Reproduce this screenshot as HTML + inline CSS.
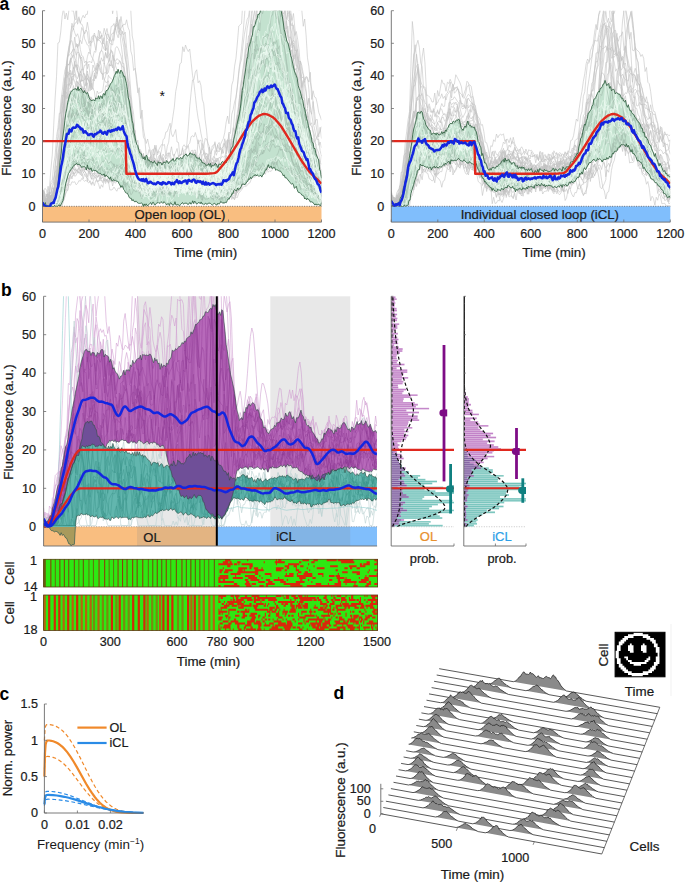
<!DOCTYPE html><html><head><meta charset="utf-8"><style>html,body{margin:0;padding:0;background:#fff;overflow:hidden}svg{display:block}text{font-family:"Liberation Sans",sans-serif}</style></head><body>
<svg width="685" height="883" viewBox="0 0 685 883">
<rect width="685" height="883" fill="#fff"/>
<clipPath id="clipAL"><rect x="42.5" y="10.7" width="279" height="196.1"/></clipPath>
<rect x="42.5" y="206.3" width="279" height="15.8" fill="#f9be80"/>
<line x1="42.5" y1="206.3" x2="321.5" y2="206.3" stroke="#555" stroke-width="0.8" stroke-dasharray="1 1.4"/>
<text x="180" y="214.3" font-size="13.2" text-anchor="middle" fill="#1a1a1a" stroke="#1a1a1a" stroke-width="0.22" font-weight="normal" dominant-baseline="central">Open loop (OL)</text>
<defs><path id="L0" vector-effect="non-scaling-stroke" transform="translate(42.5 0) scale(1.402 0.25)" d="M0 823l1 0 1 0 1-4 1-23 1 19 1 8 1-22 1-30 1-22 1 9 1-142 1-27 1-74 1-90 1-54 1-46 1-57 1-50 1-32 1-14 1-42 1-17 1 18 1 15 1-11 1 18 1 45 1 25 1 3 1 25 1-7 1 31 1-19 1 50 1 44 1 3 1 12 1 39 1-40 1 11 1-5 1-1 1-8 1-40 1-15 1-46 1-11 1-18 1-54 1-26 1-31 1-11 1-41 1 35 1-25 1 57 1 21 1 34 1 45 1 22 1 98 1 67 1 13 1 61 1 73 1 1 1 17 1 41 1-30 1 1 1 42 1-28 1 61 1-35 1 24 1-28 1 36 1-34 1 41 1 1 1 14 1-12 1 33 1-37 1 23 1-58 1 43 1 6 1-28 1 20 1-29 1 18 1-19 1 8 1-6 1 29 1 8 1-33 1 1 1 2 1 19 1-46 1 21 1-12 1-30 1 17 1-4 1 5 1 9 1 5 1-1 1-1 1 18 1 27 1-11 1 6 1-6 1-15 1-11 1 4 1-15 1-15 1 4 1 18 1-16 1 23 1 0 1 0 1-9 1-8 1-20 1-37 1-53 1 6 1-77 1-19 1-30 1-18 1-46 1-47 1-41 1-20 1-55 1-43 1-31 1-30 1-10 1-46 1-30 1 0 1 0 1 0 1 0 1 0 1 0 1 0 1 0 1 0 1 0 1 0 1 0 1 0 1 0 1 0 1 0 1 0 1 0 1 0 1 0 1 0 1 31 1-5 1 64 1 34 1-10 1 50 1 31 1-19 1 71 1-6 1-23 1-11 1 74 1 15 1 66 1-28 1 82 1 75 1-19 1 35 1 49 1 5 1 4 1 73 1-13 1 50 1-28 1 33 1 27"/><path id="L1" vector-effect="non-scaling-stroke" transform="translate(42.5 0) scale(1.402 0.25)" d="M0 786l1-19 1 11 1 8 1-11 1 40 1-33 1 41 1-6 1-19 1 0 1-16 1-11 1 15 1-23 1-23 1-3 1-41 1-33 1-37 1-19 1-43 1-1 1-9 1 12 1-9 1-1 1 14 1-11 1 5 1 28 1-60 1-10 1 7 1 3 1 4 1 31 1-29 1 18 1-7 1 5 1-18 1-32 1 43 1-19 1 20 1-7 1 11 1 41 1-41 1 0 1 15 1-27 1 21 1-21 1-9 1 19 1 28 1-1 1 3 1 4 1 19 1 22 1 19 1 5 1 1 1 26 1 27 1-15 1 26 1-13 1 26 1-12 1 19 1-1 1-19 1 37 1-18 1 13 1-11 1 3 1-27 1 28 1 23 1-10 1-15 1 10 1-17 1-12 1 2 1 27 1-6 1-8 1 23 1-34 1 10 1-3 1-7 1 15 1-20 1 21 1 36 1-12 1 8 1-23 1-7 1-16 1 18 1-6 1-8 1-1 1 14 1-15 1 11 1 29 1-2 1-21 1-34 1 8 1 8 1 10 1-2 1-7 1 13 1-21 1 1 1 10 1 27 1-3 1-3 1-11 1 10 1-47 1 18 1-18 1-1 1 2 1-20 1 6 1-13 1-10 1 1 1-46 1-17 1 10 1-24 1-13 1-21 1-16 1-38 1 26 1-21 1-34 1-12 1 15 1-27 1 12 1-14 1-2 1-14 1 41 1-11 1-20 1 16 1-12 1-25 1 16 1-9 1-11 1 19 1-43 1 48 1 18 1-17 1 10 1-10 1 4 1 42 1 7 1 14 1-25 1 45 1-9 1 28 1 7 1 24 1-12 1-5 1 20 1 5 1 11 1-18 1 50 1-12 1 9 1 8 1-4 1 42 1 16 1 5"/><path id="L2" vector-effect="non-scaling-stroke" transform="translate(42.5 0) scale(1.402 0.25)" d="M0 774l1 35 1 14 1-3 1 3 1-3 1 3 1-17 1 13 1-45 1-18 1-30 1-38 1-5 1-57 1-8 1-48 1-24 1-9 1-19 1-10 1-23 1 20 1 6 1-7 1 12 1 10 1-17 1 36 1 2 1 28 1 5 1 0 1-5 1-18 1 0 1 4 1-19 1 18 1-21 1-8 1 8 1-1 1-8 1 4 1-11 1-12 1 13 1-5 1-19 1 1 1-8 1-8 1 11 1-42 1 13 1-26 1 1 1 21 1-16 1 32 1 63 1 1 1 41 1 10 1 34 1 31 1 13 1 17 1 25 1 37 1-19 1 13 1-23 1 44 1 2 1-16 1-8 1-7 1 16 1 19 1-36 1 16 1-5 1-18 1 15 1 17 1-33 1 34 1-23 1-14 1-15 1 16 1 7 1-12 1 4 1-19 1 11 1-14 1 17 1-7 1-12 1 0 1 4 1-7 1 30 1-16 1-14 1 11 1 8 1-1 1 4 1 14 1 9 1 1 1-6 1 18 1-3 1-11 1 10 1 1 1 5 1-28 1-25 1 48 1-25 1 30 1-26 1 5 1 5 1 2 1-18 1 7 1-9 1 6 1-5 1 3 1-26 1-23 1-29 1 1 1-33 1 6 1-17 1-30 1 5 1-10 1-38 1-29 1 19 1-40 1-23 1-27 1-5 1-39 1-2 1-38 1 26 1-15 1 3 1-16 1-21 1 38 1-17 1 37 1-1 1 4 1 23 1 36 1-4 1 2 1 41 1-21 1 29 1 22 1 1 1 4 1 25 1-5 1 10 1 0 1 57 1-2 1 18 1 0 1 9 1 25 1-2 1 10 1 14 1 28 1-2 1-2 1 16 1 25 1 42 1-30 1 24 1 23 1 3"/><path id="L3" vector-effect="non-scaling-stroke" transform="translate(42.5 0) scale(1.402 0.25)" d="M0 812l1-28 1 23 1 14 1-34 1 36 1-19 1-7 1-32 1-26 1 3 1-94 1-36 1-61 1-113 1-15 1-77 1-72 1-47 1-17 1-46 1-1 1 31 1-46 1 39 1-11 1 40 1 13 1 92 1 0 1 32 1 5 1-27 1 35 1-59 1 53 1-35 1-25 1 12 1-40 1-39 1-22 1-10 1 5 1 50 1-47 1 21 1-5 1-9 1-9 1 0 1 35 1-49 1-7 1 7 1 16 1 15 1 29 1 1 1 58 1 39 1 73 1 40 1 54 1 18 1 24 1 56 1-16 1 43 1 38 1-41 1 31 1-20 1 8 1 27 1-11 1 5 1 15 1-26 1 30 1-33 1 50 1-11 1-15 1-13 1 1 1-16 1 19 1 62 1 0 1-18 1 32 1-9 1-2 1-6 1-8 1-19 1-2 1 22 1-62 1 11 1-32 1 43 1-54 1 42 1-24 1-9 1 12 1-59 1-1 1 32 1-7 1-5 1-13 1 46 1-13 1 23 1-12 1 30 1-11 1-1 1 18 1 15 1-5 1 26 1-44 1 31 1 4 1-36 1-12 1 29 1-49 1 20 1 16 1-54 1-42 1 23 1-30 1 7 1-24 1-66 1 12 1-59 1-24 1-70 1 31 1-116 1-8 1-28 1-39 1-60 1-36 1-40 1-40 1-28 1 0 1 0 1 0 1 0 1 0 1 0 1 0 1 0 1 0 1 0 1 0 1 0 1 0 1 0 1 0 1 0 1 0 1 5 1 40 1 42 1-26 1 20 1 29 1 0 1 1 1 40 1-16 1 31 1 43 1 68 1 44 1-5 1 40 1 21 1 64 1-38 1 107 1 3 1 27 1 36 1 10 1 62 1 35 1 9 1-6"/><path id="L4" vector-effect="non-scaling-stroke" transform="translate(42.5 0) scale(1.402 0.25)" d="M0 782l1 2 1 1 1 1 1-41 1 43 1 7 1-24 1-16 1 10 1-26 1-45 1-67 1-51 1-89 1-20 1-84 1 12 1-52 1-50 1 14 1 34 1-27 1 13 1 20 1-21 1 36 1 7 1-1 1 23 1 19 1 25 1 0 1-22 1-26 1 9 1 47 1-35 1 16 1 17 1 14 1-3 1 22 1-5 1 26 1 9 1-22 1-17 1-1 1-30 1-3 1 32 1-59 1 6 1 19 1-44 1-41 1 16 1-51 1 3 1 44 1 26 1 38 1 29 1 56 1 69 1 31 1-35 1 39 1 8 1-13 1 17 1-5 1 43 1-12 1-3 1 75 1-45 1 32 1-2 1-26 1-10 1-9 1-19 1 32 1-2 1 15 1-27 1 17 1 41 1-59 1 28 1-23 1-13 1 31 1-5 1-10 1 15 1 29 1-13 1 4 1 42 1-36 1-24 1 7 1-37 1-18 1-23 1 50 1-11 1 9 1-31 1 34 1 16 1 34 1-50 1-7 1-15 1-9 1 9 1 16 1-4 1 27 1-9 1-30 1 9 1 31 1 5 1-11 1-24 1 36 1-33 1 15 1-18 1-30 1-19 1 31 1-78 1-35 1-13 1-34 1-91 1 13 1-48 1-7 1-67 1-33 1-5 1-26 1-54 1 13 1-61 1-6 1-45 1-37 1 8 1-35 1 0 1 21 1-21 1 0 1 0 1 0 1 0 1 0 1 0 1 0 1 0 1 0 1 55 1 22 1-19 1 46 1 57 1-70 1 57 1 12 1-2 1 22 1-10 1 9 1 47 1 15 1 17 1 45 1 53 1-27 1 3 1 37 1 60 1-27 1 32 1 31 1 37 1 21 1 29 1 15 1 0 1 45 1 20"/><path id="L5" vector-effect="non-scaling-stroke" transform="translate(42.5 0) scale(1.402 0.25)" d="M0 823l1-8 1 8 1 0 1 0 1 0 1-12 1 12 1-26 1 6 1 9 1-38 1-60 1-11 1 11 1-19 1-19 1-27 1-32 1 9 1-6 1-5 1-42 1 24 1-5 1-14 1 6 1 3 1-36 1 3 1 10 1 2 1 7 1 3 1 15 1 0 1-3 1 0 1 23 1-4 1-38 1-8 1 2 1-8 1 15 1 0 1-23 1 22 1-30 1-24 1 4 1 10 1 11 1-11 1 19 1 43 1-35 1 7 1 14 1 20 1 26 1-18 1 10 1 13 1 13 1 40 1 11 1 37 1-6 1 7 1-10 1 3 1 6 1 18 1-23 1-3 1 10 1-5 1-8 1-15 1 6 1 12 1 9 1 15 1-5 1 19 1-3 1 0 1-1 1 17 1-13 1 4 1 8 1-3 1-18 1 0 1-15 1 30 1-22 1 4 1-21 1 11 1-11 1 13 1-9 1 25 1-23 1 10 1 24 1-21 1-1 1-17 1 13 1 11 1 13 1-11 1-11 1-2 1-3 1 8 1-4 1-13 1-14 1 30 1-18 1 27 1-14 1-7 1-7 1 4 1-46 1 8 1 19 1-46 1 11 1-31 1-5 1-9 1-7 1 10 1-42 1-29 1-6 1-7 1-43 1-14 1-34 1-17 1-17 1-42 1 6 1 0 1 4 1-4 1 2 1-20 1 11 1 6 1 12 1 4 1 7 1-26 1 11 1 13 1-13 1 37 1 5 1 0 1 13 1 18 1 20 1 3 1-22 1 50 1-17 1 4 1-3 1 6 1 18 1-10 1 6 1 36 1 14 1 10 1 9 1 31 1-1 1 17 1 29 1 2 1-11 1 12 1 24 1 32 1-3 1 24 1 26 1-18 1 40 1-6"/><path id="L6" vector-effect="non-scaling-stroke" transform="translate(42.5 0) scale(1.402 0.25)" d="M0 819l1 3 1 1 1 0 1 0 1 0 1 0 1-6 1 1 1-3 1 0 1 4 1 4 1-12 1-14 1 6 1-16 1-33 1-21 1-2 1-32 1-11 1-15 1 9 1-6 1 2 1-6 1 0 1-1 1 5 1 3 1-3 1 8 1-11 1 15 1-11 1-11 1 15 1 1 1 6 1 19 1-14 1 22 1-5 1-13 1 29 1-10 1 6 1 37 1 1 1-2 1-10 1 9 1 8 1-13 1 3 1-15 1 12 1-25 1 22 1-11 1-11 1-4 1 9 1-7 1-5 1 8 1 6 1-7 1 6 1 27 1-12 1-2 1-1 1-12 1 10 1-16 1 17 1-1 1 7 1-4 1 23 1-8 1-13 1 2 1 10 1 2 1-6 1 10 1-10 1 21 1-9 1 1 1-20 1 15 1 12 1-6 1-10 1-5 1 1 1-7 1 6 1-2 1-8 1-12 1 25 1 5 1 0 1 5 1 1 1 10 1-7 1 5 1 10 1-1 1-17 1 3 1 12 1 7 1 1 1-4 1 9 1-10 1-2 1 8 1 3 1-12 1 25 1-29 1 34 1-1 1-27 1-26 1 11 1 4 1-6 1-15 1 4 1 5 1-3 1-9 1 4 1-20 1-2 1-20 1-10 1 14 1-38 1-5 1-20 1 4 1-1 1 2 1 9 1-3 1-7 1 23 1-11 1 0 1 10 1-14 1-9 1 7 1 0 1-28 1 26 1-24 1-16 1-9 1-18 1 4 1-1 1-2 1 8 1 1 1 3 1-4 1 16 1 21 1 11 1 9 1-9 1 15 1 20 1 9 1 22 1 6 1 5 1-5 1 25 1 5 1 3 1 2 1-8 1 15 1 16 1 11 1-14 1 9 1-9"/><path id="L7" vector-effect="non-scaling-stroke" transform="translate(42.5 0) scale(1.402 0.25)" d="M0 760l1 10 1 40 1-16 1 29 1-4 1 4 1 0 1-23 1 10 1-45 1-60 1-69 1-43 1-62 1-85 1-67 1-28 1-92 1-1 1-20 1-6 1-15 1-20 1 24 1-13 1 3 1 13 1 22 1 46 1 9 1 18 1 45 1 20 1 10 1-5 1 40 1 30 1 15 1 30 1 23 1-5 1 32 1-8 1 43 1 15 1-13 1-1 1 12 1-8 1-11 1 22 1-11 1-2 1-4 1-27 1 5 1-18 1-25 1-9 1 0 1 29 1 28 1 0 1 18 1 27 1 12 1 38 1 31 1 23 1 19 1 6 1 6 1-19 1 29 1 14 1-16 1 17 1-49 1 26 1-20 1 11 1 3 1-27 1 5 1-30 1 21 1-41 1 12 1-21 1 22 1 21 1-12 1-14 1 7 1 16 1-4 1-16 1-3 1-14 1-2 1-11 1-35 1 10 1 53 1-10 1-5 1 17 1 10 1 8 1-10 1 16 1-11 1-15 1 69 1-10 1 8 1-25 1-29 1 45 1-32 1 22 1-22 1-8 1 12 1 9 1-12 1-12 1 32 1-36 1 38 1-25 1 5 1-39 1 20 1-21 1-2 1-31 1 22 1-14 1-39 1-43 1-3 1-43 1-31 1 10 1-40 1-1 1-21 1-15 1-45 1-3 1-24 1-61 1-15 1-43 1-17 1 1 1-7 1 28 1-34 1 16 1-13 1 14 1 28 1 43 1-12 1 22 1 45 1 30 1 10 1 15 1 25 1 7 1 14 1-14 1-16 1 47 1-10 1 33 1-6 1 0 1 24 1-4 1 30 1 18 1 0 1-22 1 39 1-53 1 38 1 33 1 3 1 21 1 23 1 23 1 18 1 6 1 20 1 61"/><path id="L8" vector-effect="non-scaling-stroke" transform="translate(42.5 0) scale(1.402 0.25)" d="M0 823l1-8 1-8 1-8 1-26 1-6 1-29 1-7 1-19 1-23 1-10 1 7 1-21 1 4 1-6 1 4 1 1 1-18 1-5 1-1 1 1 1 5 1-7 1 2 1 7 1 14 1-15 1 20 1-20 1 19 1-20 1 10 1 0 1-11 1-13 1 6 1-13 1 34 1-15 1-2 1 25 1-3 1-17 1-6 1 0 1-11 1 5 1 22 1-13 1-2 1 11 1 0 1 21 1-19 1 7 1 25 1 10 1 13 1 15 1 0 1 32 1 14 1-19 1 23 1-5 1-16 1 8 1 1 1-16 1 19 1-3 1 29 1-25 1 9 1 0 1 3 1-16 1-14 1 7 1-10 1 11 1-1 1-8 1 19 1-18 1 0 1-1 1-3 1-9 1 0 1 10 1 0 1 4 1-8 1-13 1 9 1-6 1 3 1-4 1 5 1 11 1-12 1 9 1-6 1 25 1-16 1 19 1-7 1 15 1-11 1 17 1 11 1-20 1 18 1 9 1-16 1 11 1-1 1 0 1-5 1-7 1 1 1-19 1-11 1-4 1 1 1-21 1 3 1 7 1-19 1-3 1-12 1-12 1-3 1-6 1-6 1-10 1-3 1-42 1 0 1 4 1-19 1 0 1-21 1 10 1-30 1-16 1 10 1-5 1-7 1-17 1 10 1 13 1-11 1-6 1-15 1 26 1-17 1-21 1 20 1-22 1 0 1-28 1-15 1 43 1-5 1 8 1 20 1-16 1 25 1 15 1 18 1 5 1-2 1 28 1-14 1 15 1 6 1 31 1 11 1 26 1 28 1-6 1 8 1 46 1-5 1-2 1 18 1 16 1 3 1-9 1-8 1-9 1 12 1 0 1 16 1 6 1-15 1 0 1-9"/><path id="L9" vector-effect="non-scaling-stroke" transform="translate(42.5 0) scale(1.402 0.25)" d="M0 801l1-1 1 2 1 5 1 16 1-55 1 53 1-48 1-3 1-48 1-24 1-14 1-71 1-38 1-47 1-15 1-21 1-38 1-35 1 3 1-29 1-19 1 37 1 5 1-10 1 12 1 25 1 13 1 21 1 22 1-15 1 16 1-17 1 13 1-45 1 9 1-6 1 5 1 18 1-33 1 34 1 7 1-37 1 17 1 1 1-23 1-14 1-23 1-19 1-22 1 2 1 16 1 19 1-26 1-3 1 12 1-23 1 43 1 10 1 18 1 31 1 36 1 9 1 32 1 0 1 16 1 33 1 13 1 30 1 0 1 22 1-9 1 27 1 22 1 8 1-7 1 38 1 8 1 15 1-14 1 18 1-41 1 8 1 14 1-9 1-11 1 21 1-31 1 13 1 18 1 8 1-14 1-29 1 38 1-38 1 29 1-7 1-14 1 10 1 12 1-22 1 32 1-41 1-9 1 10 1 7 1-8 1 2 1 7 1-26 1-11 1 28 1-11 1 1 1 11 1-17 1-1 1 22 1-1 1-34 1 10 1-5 1 12 1-3 1 22 1-12 1 7 1-1 1 37 1-4 1-19 1-3 1-18 1-12 1-26 1-22 1 2 1-24 1-45 1 3 1-55 1-32 1-20 1-62 1-15 1-19 1-30 1-25 1 8 1-17 1-39 1 4 1-33 1 13 1-40 1-18 1-18 1-34 1 3 1-22 1 6 1-33 1-5 1-43 1-16 1-3 1-10 1 38 1 38 1 23 1 55 1 59 1 19 1 66 1 52 1 48 1-8 1 47 1 41 1 26 1 7 1 42 1-9 1 3 1 48 1 34 1 10 1 10 1-4 1 27 1-13 1 3 1 22 1-26 1 9 1 44 1-7 1-8 1 33 1-27"/><path id="L10" vector-effect="non-scaling-stroke" transform="translate(42.5 0) scale(1.402 0.25)" d="M0 802l1 2 1 4 1 15 1 0 1 0 1 0 1-14 1-1 1-15 1-26 1-5 1-41 1-33 1-30 1 7 1-4 1-49 1 8 1 27 1-6 1 5 1-1 1-3 1 0 1 19 1 5 1-10 1-2 1-7 1 6 1-21 1 10 1-3 1 6 1-5 1 3 1-14 1-9 1-14 1 0 1 0 1-2 1-7 1 7 1-10 1 17 1-31 1 11 1 14 1-12 1 24 1-2 1-18 1-6 1 24 1-9 1-24 1 2 1 24 1 6 1 0 1 25 1 3 1 18 1 22 1-7 1 17 1 21 1 27 1 9 1 3 1 9 1-1 1-11 1-18 1 24 1-8 1 2 1-2 1 5 1-23 1-3 1 22 1-14 1-3 1 22 1-18 1 11 1 15 1-33 1 11 1-15 1-14 1 7 1-2 1-2 1 8 1-25 1 22 1-10 1 10 1-18 1 23 1 17 1-18 1 17 1 3 1-17 1 7 1-19 1 23 1-12 1 17 1 9 1 8 1-18 1 16 1-16 1 0 1 6 1 19 1-8 1-5 1 8 1 16 1-19 1-13 1-11 1 5 1 1 1-19 1 14 1 4 1-19 1 20 1-13 1-2 1 8 1-15 1-44 1-9 1-3 1-11 1-26 1 3 1-18 1-3 1-11 1-35 1 16 1-29 1 1 1-3 1-22 1-18 1-4 1-36 1-5 1 10 1-33 1 8 1-19 1-25 1-21 1-2 1 0 1-6 1 31 1 3 1 16 1 16 1-7 1 28 1 36 1 10 1-1 1 34 1 5 1 27 1 10 1 49 1 3 1 4 1 15 1 23 1-6 1 24 1 4 1 1 1 11 1 10 1 34 1-22 1 8 1 26 1 1 1 14 1 8 1-1"/><path id="L11" vector-effect="non-scaling-stroke" transform="translate(42.5 0) scale(1.402 0.25)" d="M0 758l1 41 1 24 1 0 1 0 1-3 1 3 1-18 1 18 1-39 1 0 1-67 1-37 1-91 1-79 1-53 1-114 1-85 1-41 1-37 1-23 1-64 1 16 1-34 1 4 1-71 1-10 1-2 1-5 1 0 1 0 1 0 1 0 1 1 1-1 1 0 1 0 1 0 1 0 1 0 1 0 1 0 1 0 1 0 1 0 1 0 1 0 1 0 1 0 1 0 1 0 1 0 1 0 1 0 1 0 1 0 1 0 1 0 1 0 1 0 1 0 1 0 1 0 1 54 1 98 1 28 1 93 1 58 1 49 1-20 1 73 1 68 1 57 1 10 1 63 1-1 1-23 1 17 1 10 1 18 1-62 1 30 1 38 1-26 1-1 1 46 1-37 1 25 1-15 1 44 1-36 1 16 1-2 1-22 1 24 1 46 1-47 1-42 1 65 1-20 1 23 1-13 1 45 1-14 1 28 1 2 1 12 1-10 1-20 1-37 1-6 1-26 1-19 1-30 1-6 1-5 1-37 1 2 1 17 1 13 1 30 1-18 1-5 1-26 1 38 1-27 1-8 1 29 1-8 1-3 1-33 1 60 1-57 1 48 1-12 1-22 1-9 1-3 1 47 1-32 1-29 1-12 1-20 1-21 1 14 1-48 1-43 1-16 1-40 1-52 1-65 1-117 1-14 1-102 1-14 1-5 1 0 1 0 1 0 1 0 1 0 1 0 1 0 1 0 1 0 1 0 1 0 1 0 1 0 1 0 1 0 1 0 1 0 1 0 1 0 1 25 1 15 1 74 1 87 1-12 1 41 1 5 1 47 1 6 1-34 1 18 1 32 1 25 1-14 1 3 1 48 1 86 1 14 1-51 1 93 1-20 1-1 1 70 1-39 1 45"/><path id="L12" vector-effect="non-scaling-stroke" transform="translate(42.5 0) scale(1.402 0.25)" d="M0 823l1 0 1 0 1 0 1 0 1 0 1 0 1 0 1 0 1-23 1-29 1-44 1-54 1-32 1-42 1-29 1-65 1-33 1-8 1-37 1 5 1 10 1 1 1 21 1-7 1-17 1 21 1 4 1-6 1 3 1 19 1 8 1 8 1 29 1-23 1 7 1 49 1-28 1-2 1 11 1-14 1 33 1-23 1-9 1 16 1-34 1-34 1 25 1-21 1 44 1-53 1-7 1 12 1 16 1-43 1-13 1-7 1 3 1 13 1 13 1-1 1 36 1 43 1 52 1-9 1 82 1 6 1 44 1 37 1-36 1 10 1 37 1-24 1 2 1 10 1-17 1 13 1-9 1-19 1 11 1 5 1 12 1-27 1 12 1 7 1-30 1 19 1 14 1-48 1 42 1-2 1-19 1 36 1 21 1 22 1-33 1 20 1-43 1 7 1-19 1 6 1 0 1-43 1 0 1 6 1 9 1-11 1-9 1 28 1-22 1 26 1 40 1 8 1-42 1 27 1 2 1-9 1 5 1 11 1-24 1 21 1-22 1-15 1 55 1-1 1-16 1 10 1-5 1-5 1-48 1 17 1-53 1 12 1-25 1-31 1-17 1 3 1 3 1-42 1-21 1-34 1-4 1-44 1-24 1-66 1 8 1-41 1-28 1-40 1 7 1-31 1-9 1-23 1-26 1 10 1-11 1 16 1 18 1 3 1-9 1 15 1 8 1 29 1 2 1-12 1-21 1 14 1 5 1-13 1 32 1-6 1-2 1 25 1 9 1 10 1-2 1 25 1 15 1 11 1 56 1 13 1-10 1 41 1 6 1 26 1 37 1 17 1 25 1 10 1 6 1 39 1 21 1 13 1 2 1 23 1 20 1 18 1-16 1 23 1 17"/><path id="L13" vector-effect="non-scaling-stroke" transform="translate(42.5 0) scale(1.402 0.25)" d="M0 793l1 30 1 0 1-4 1-9 1 13 1 0 1 0 1 0 1-17 1 4 1-1 1 14 1-12 1-39 1 30 1-66 1-31 1-25 1-15 1-22 1-41 1-20 1 5 1-28 1-5 1-9 1 4 1-14 1 25 1-43 1 65 1 6 1-6 1 29 1 0 1 14 1 13 1-26 1 4 1 29 1-21 1 39 1 1 1 11 1-5 1 35 1-2 1 4 1 13 1-28 1 22 1-26 1 3 1-24 1-6 1-25 1-10 1 5 1-28 1-17 1-15 1-20 1 12 1-22 1 41 1-11 1 21 1 21 1 12 1 15 1-4 1 45 1 23 1 5 1-3 1-7 1 22 1-18 1 37 1-9 1-14 1 22 1-11 1-1 1-15 1 12 1-4 1-1 1-1 1 16 1-13 1 17 1 6 1 5 1-31 1 15 1-7 1-1 1-13 1 4 1-4 1-9 1 11 1 7 1 11 1-1 1 11 1-13 1-9 1-30 1 11 1 7 1-13 1 7 1 16 1-17 1 10 1-6 1 17 1 11 1-7 1 10 1 0 1 7 1 1 1 12 1-15 1 20 1-15 1 7 1 0 1-10 1-2 1 18 1 7 1-35 1 5 1 11 1-15 1-16 1 9 1-53 1 5 1-15 1-28 1-45 1 10 1-2 1-34 1 1 1-22 1-16 1-1 1-35 1-23 1-38 1-5 1-30 1-15 1-44 1-3 1-36 1 25 1-39 1 3 1 1 1 3 1 3 1-2 1 15 1 5 1 5 1 42 1 6 1 10 1 23 1 16 1 14 1 18 1-1 1 7 1-1 1 44 1 1 1 29 1 32 1-23 1 48 1-13 1 41 1-3 1 34 1-9 1-7 1 34 1 20 1 14 1 18 1 10"/><path id="L14" vector-effect="non-scaling-stroke" transform="translate(42.5 0) scale(1.402 0.25)" d="M0 823l1-7 1 2 1-12 1-6 1-18 1 3 1 28 1-6 1 6 1-39 1-7 1-6 1 6 1-56 1-51 1-68 1-46 1-49 1-17 1-58 1-48 1 18 1-18 1-49 1 3 1 8 1 6 1 2 1 10 1 9 1 45 1 1 1 1 1 44 1 3 1-3 1 14 1 17 1-7 1-20 1 0 1-45 1 16 1-26 1 1 1-30 1-35 1 15 1-2 1 8 1 4 1 18 1-30 1 0 1-20 1 9 1-2 1 7 1 6 1 30 1 13 1 28 1 16 1 45 1 34 1 45 1 36 1 40 1-2 1 74 1-45 1 15 1 16 1-1 1-5 1-4 1-8 1-9 1 24 1-8 1-11 1 22 1-36 1 17 1-28 1 1 1 21 1-4 1 10 1 11 1 24 1 6 1-29 1 17 1-11 1 10 1-23 1-17 1-22 1 0 1 17 1 0 1 21 1-9 1 16 1-16 1 36 1-23 1-28 1 37 1-1 1-14 1-16 1-16 1 7 1 49 1-52 1 25 1 6 1-16 1-19 1 28 1-36 1 36 1-6 1 8 1 48 1-20 1-19 1 44 1-38 1 26 1-27 1-34 1 26 1-38 1-17 1 22 1-8 1-83 1 54 1-47 1-37 1-13 1-7 1-24 1 33 1-20 1 10 1-11 1-9 1-11 1-9 1-18 1-49 1-2 1-41 1-59 1-49 1-39 1-36 1-50 1-61 1-4 1-31 1-39 1 0 1 0 1 0 1 0 1 0 1 2 1 50 1 48 1 50 1 22 1 44 1 62 1 2 1 24 1 23 1 38 1 58 1 1 1 2 1 45 1-3 1 44 1 35 1 27 1-34 1 37 1 32 1 3 1 9 1 15 1 23 1 23 1 13"/><path id="L15" vector-effect="non-scaling-stroke" transform="translate(42.5 0) scale(1.402 0.25)" d="M0 823l1-1 1 1 1 0 1-16 1 16 1-17 1 5 1-8 1-7 1-12 1-16 1-23 1-16 1-27 1-56 1 10 1-45 1-53 1-15 1 5 1-54 1 13 1 8 1 1 1 12 1-46 1 13 1 15 1 11 1-10 1 33 1-14 1 9 1-21 1 13 1-28 1-32 1 3 1-10 1-13 1 12 1-18 1 8 1-20 1 18 1-19 1-12 1 3 1-9 1 30 1 18 1-11 1 10 1-21 1 10 1-3 1 18 1-15 1-11 1 30 1 10 1 13 1 54 1 37 1 11 1-2 1 14 1 37 1 1 1 38 1-23 1-22 1 39 1-10 1 20 1-15 1-12 1 16 1 10 1 21 1 10 1-7 1 17 1-7 1-22 1 8 1-7 1 21 1-1 1 18 1-8 1 28 1-7 1 12 1-24 1 3 1 12 1-30 1-6 1 10 1-2 1-9 1-7 1 12 1-13 1-2 1-4 1 6 1-15 1-7 1 0 1 19 1 10 1-20 1-17 1 26 1 13 1 9 1-16 1-8 1 28 1-6 1 24 1-9 1 2 1 23 1 24 1-9 1 6 1-2 1-35 1-1 1 6 1 0 1-13 1-16 1 28 1-28 1-13 1-9 1-10 1-4 1 9 1-16 1-38 1-35 1-24 1-43 1-39 1-13 1-23 1-83 1-46 1-40 1-12 1-24 1-6 1 4 1-44 1-21 1-12 1 10 1 17 1 12 1 28 1 15 1 19 1 21 1 60 1 1 1 16 1 66 1 4 1-9 1 49 1-15 1 7 1 33 1-11 1 19 1 0 1 37 1 8 1-17 1 28 1-2 1 19 1 24 1-8 1 28 1 10 1 7 1-13 1 32 1-3 1 23 1 41 1-5 1-19"/><path id="L16" vector-effect="non-scaling-stroke" transform="translate(42.5 0) scale(1.402 0.25)" d="M0 823l1 0 1 0 1 0 1 0 1-5 1-2 1-10 1 17 1-22 1-29 1-21 1-15 1-13 1 0 1-28 1-4 1-19 1-19 1 15 1 3 1-2 1 9 1-20 1 0 1-8 1-7 1-16 1 16 1-10 1-26 1-13 1-7 1 7 1-26 1 11 1 7 1-12 1 7 1-18 1 2 1 3 1-14 1 14 1 6 1-17 1 19 1 11 1 13 1 0 1 7 1-3 1 0 1-17 1 13 1-6 1 7 1 2 1 8 1 36 1 11 1 3 1 0 1 39 1 30 1-4 1 14 1-27 1 29 1 4 1-11 1 18 1-12 1 24 1-10 1-12 1 5 1-15 1-6 1 20 1-1 1 8 1 16 1-10 1 2 1-18 1-4 1-6 1 9 1 6 1-11 1-2 1 13 1-11 1-5 1 15 1-24 1 3 1-2 1 0 1 17 1-25 1 28 1-4 1-29 1 35 1-29 1 10 1 16 1-11 1-8 1 0 1 2 1-4 1 28 1-25 1-6 1 33 1-14 1-4 1-4 1 10 1-9 1 17 1 4 1 1 1-8 1 7 1 13 1-31 1 32 1-5 1-4 1 0 1 27 1-29 1 11 1 2 1-32 1-12 1-14 1-1 1-26 1 12 1-17 1 5 1-38 1-11 1-7 1-35 1 18 1 3 1-38 1-22 1 3 1-16 1 3 1-5 1-44 1 16 1-6 1 8 1 5 1 35 1-35 1 22 1 13 1-3 1 3 1-5 1 8 1 2 1-4 1 15 1 29 1-21 1 9 1 10 1 13 1-15 1 20 1 6 1-4 1 13 1-21 1 55 1 8 1-23 1 24 1 39 1 10 1-9 1-9 1 24 1-6 1 3 1 30 1 31 1-11 1-3"/><path id="L17" vector-effect="non-scaling-stroke" transform="translate(42.5 0) scale(1.402 0.25)" d="M0 807l1 10 1-2 1 8 1-13 1 8 1 5 1-5 1-4 1-4 1 1 1-20 1 19 1-5 1-25 1-12 1-4 1-26 1 5 1-31 1 1 1-8 1-2 1-12 1-4 1 4 1-3 1-9 1 14 1 23 1-21 1 13 1 4 1 10 1 8 1 11 1-13 1 15 1-21 1 3 1-2 1-1 1-1 1 4 1-11 1 4 1 7 1-4 1 1 1-10 1 10 1 5 1 6 1-8 1-6 1-15 1 23 1-6 1-12 1 3 1 18 1-12 1 16 1-17 1 13 1 7 1 1 1 0 1 14 1 10 1 0 1 15 1-28 1 1 1 22 1-28 1 0 1-3 1-14 1 12 1-4 1-16 1 16 1-1 1-15 1 6 1 16 1 1 1-8 1 5 1 6 1 11 1 11 1-14 1 3 1 9 1-11 1-2 1-12 1 9 1-2 1 10 1 8 1-3 1 2 1 14 1-15 1 4 1-13 1 9 1-9 1 8 1-1 1 0 1 19 1-13 1 10 1-3 1-3 1-6 1 8 1-2 1 4 1-5 1 13 1 1 1 8 1-4 1-3 1 3 1-16 1 19 1-8 1 6 1-18 1-3 1-8 1 15 1-2 1-26 1 0 1-7 1-4 1-1 1-31 1 17 1-6 1-18 1-11 1 7 1-2 1-2 1 6 1-15 1 12 1-10 1 4 1-1 1-10 1-7 1 1 1-28 1 3 1 5 1-14 1-2 1-4 1-6 1 9 1 7 1 3 1-6 1 27 1 14 1-9 1 17 1-1 1 15 1 5 1 1 1 17 1-4 1 17 1-4 1 4 1 19 1-7 1 23 1-5 1 2 1-2 1 5 1 11 1-12 1 5 1 23 1-3 1 5 1 2 1 2"/><path id="L18" vector-effect="non-scaling-stroke" transform="translate(42.5 0) scale(1.402 0.25)" d="M0 823l1-4 1-5 1 9 1 0 1 0 1 0 1 0 1 0 1 0 1 0 1-26 1-21 1 4 1-35 1 14 1-19 1-22 1-2 1-4 1-13 1 17 1-24 1 13 1-3 1-15 1 1 1 11 1-17 1 2 1-7 1 1 1 5 1 3 1 0 1 31 1-14 1-2 1-8 1 14 1-5 1 1 1 11 1-7 1 14 1 4 1-6 1 14 1-15 1-7 1 33 1-24 1-2 1-11 1-19 1 7 1 4 1-2 1 4 1-9 1-3 1 21 1-5 1 1 1 20 1-1 1 9 1 1 1 15 1 23 1-23 1 15 1-27 1 23 1-21 1 15 1 27 1-22 1 20 1 8 1-13 1-6 1 3 1 9 1-20 1 2 1-8 1 21 1-35 1 16 1-18 1 1 1-11 1 14 1-12 1-8 1 1 1 9 1 22 1-3 1-25 1 5 1 15 1 5 1-5 1-5 1-4 1 2 1-2 1 3 1 2 1 11 1 13 1-4 1-2 1 15 1-9 1-11 1 4 1 12 1-2 1 3 1-2 1 26 1 0 1-16 1 4 1 12 1-7 1-9 1 11 1-35 1 21 1-30 1 4 1 7 1 14 1-29 1 19 1-5 1 6 1-17 1-12 1 4 1-3 1 6 1-27 1-6 1 6 1-27 1 8 1-9 1-3 1 0 1-2 1-7 1-5 1-19 1 10 1 11 1-3 1 10 1-6 1-2 1-22 1 10 1-13 1 13 1-22 1 8 1 12 1 5 1 1 1 7 1-1 1 18 1-1 1-8 1 20 1-3 1 1 1 36 1-37 1 8 1 20 1-2 1 6 1 21 1 4 1 6 1 4 1 16 1-2 1 0 1 7 1 3 1 16 1 13 1 7 1-9"/><path id="L19" vector-effect="non-scaling-stroke" transform="translate(42.5 0) scale(1.402 0.25)" d="M0 804l1 1 1 18 1-9 1-13 1-2 1 6 1-2 1 1 1-20 1-14 1-4 1-31 1-8 1-31 1-14 1-24 1 7 1-12 1-1 1 14 1-41 1 8 1 11 1-23 1 27 1-15 1 17 1 14 1-9 1 28 1-22 1 12 1 6 1 15 1 11 1-11 1 1 1-27 1 12 1-5 1-11 1-4 1-2 1-4 1-15 1 14 1 7 1-6 1 14 1 4 1 18 1-4 1 7 1 9 1-5 1-11 1 35 1-30 1 15 1 19 1-4 1 2 1 31 1-4 1 6 1 2 1 1 1-2 1-2 1 15 1 21 1 3 1-21 1 7 1-10 1 0 1-11 1 3 1-2 1 4 1-21 1 13 1 7 1-1 1-9 1 8 1-10 1 20 1-17 1-3 1 9 1 0 1-10 1-5 1 19 1-11 1 35 1-36 1 15 1-25 1 10 1-12 1 19 1-24 1 6 1 11 1 7 1 22 1-19 1 31 1-20 1-2 1 0 1-13 1-6 1 1 1-24 1 23 1 0 1-21 1 21 1 3 1-9 1 11 1 14 1-17 1 8 1-14 1 20 1-34 1 21 1-7 1 11 1 28 1-27 1 8 1-16 1 0 1-4 1-7 1 13 1-37 1-7 1 18 1-15 1 1 1-25 1-15 1 13 1-18 1-2 1-29 1 11 1-26 1-12 1-24 1-24 1-21 1-40 1 0 1-9 1-26 1 2 1 11 1 8 1 23 1-1 1 12 1 35 1 2 1 26 1 15 1 14 1 16 1 6 1 27 1-14 1 18 1 29 1-1 1 7 1 1 1 15 1 4 1 3 1 26 1 0 1 6 1-1 1 11 1 13 1-9 1 12 1 11 1-18 1 8 1 6 1 6 1-1"/><path id="L20" vector-effect="non-scaling-stroke" transform="translate(42.5 0) scale(1.402 0.25)" d="M0 823l1 0 1 0 1 0 1 0 1 0 1 0 1 0 1 0 1-41 1-24 1-30 1-18 1-62 1-43 1-109 1-27 1-39 1-57 1-40 1 20 1-31 1-17 1-53 1-15 1-54 1 1 1-36 1-38 1 12 1 14 1-10 1-37 1 33 1 63 1-37 1-6 1 29 1 30 1-56 1 6 1 4 1-13 1 3 1-32 1 22 1-21 1 31 1 8 1-47 1-2 1-10 1 25 1-43 1 22 1 39 1 3 1-15 1 35 1 16 1 48 1 91 1 15 1 68 1 61 1 59 1 49 1 64 1-3 1 13 1 51 1 1 1 8 1-6 1 26 1-19 1 18 1-42 1 19 1 45 1 4 1 22 1-29 1-28 1-11 1-27 1 14 1-26 1 22 1 8 1-17 1 21 1-31 1-1 1 46 1 8 1-22 1-2 1 9 1 34 1-41 1 10 1-8 1 5 1 3 1 10 1-48 1 26 1 40 1-9 1 41 1-54 1-21 1 26 1-6 1-43 1-6 1 26 1-5 1 0 1 10 1-15 1-24 1 12 1-32 1 10 1-14 1 5 1-8 1 2 1 0 1-26 1-30 1-12 1 32 1-36 1 20 1-43 1-8 1-32 1-68 1-74 1-33 1-43 1-45 1-55 1-62 1-26 1-47 1-38 1-11 1 0 1 0 1 0 1 0 1 0 1 0 1 0 1 0 1 0 1 0 1 0 1 0 1 0 1 0 1 0 1 0 1 0 1 0 1 0 1 5 1 43 1 76 1 97 1 41 1 56 1 61 1 4 1 67 1 46 1-9 1 64 1-22 1 26 1 9 1 23 1-8 1 22 1-9 1 33 1 32 1-22 1-14 1 21 1 10 1 43 1 11 1-25 1 27 1 6"/><path id="L21" vector-effect="non-scaling-stroke" transform="translate(42.5 0) scale(1.402 0.25)" d="M0 807l1 16 1 0 1 0 1 0 1-3 1-1 1-7 1-19 1-5 1-29 1 9 1-45 1-2 1-48 1-22 1-15 1-30 1-14 1 3 1 0 1-9 1 2 1-16 1-13 1 17 1-8 1-5 1 11 1-7 1-14 1-2 1-29 1 8 1-14 1-17 1 5 1-5 1-40 1-8 1-43 1 6 1-17 1-1 1-7 1 15 1 50 1-44 1 26 1-8 1 14 1 23 1 15 1-8 1 55 1-42 1 27 1 6 1-6 1-3 1 1 1 47 1 3 1 17 1 35 1 32 1 8 1 8 1 10 1 39 1-19 1 5 1 16 1-8 1 19 1-18 1 3 1-26 1 3 1-19 1 18 1 17 1-9 1 13 1 12 1-7 1 8 1 21 1 11 1-25 1-9 1 25 1-16 1-8 1 10 1-19 1 13 1 8 1 2 1 0 1 23 1-32 1 3 1 27 1-22 1 16 1-11 1 3 1 3 1-6 1 22 1-20 1 2 1-3 1-3 1 21 1-28 1 22 1 3 1-27 1 32 1-25 1-35 1-5 1-8 1 9 1-7 1 7 1-28 1 13 1 3 1 0 1 7 1-43 1 22 1-24 1 44 1-3 1-37 1 0 1-8 1-37 1-16 1-25 1-21 1 6 1-24 1-18 1-48 1-14 1-8 1-13 1 12 1-9 1-13 1-4 1-15 1-1 1 2 1-8 1-15 1 23 1 1 1-5 1-3 1 8 1-27 1 16 1 3 1-7 1 24 1 12 1 14 1 3 1 14 1 2 1-8 1 20 1-7 1 26 1-20 1 37 1 19 1 6 1 1 1 35 1 10 1 32 1 36 1 2 1 15 1 45 1-20 1 30 1 21 1 2 1-6 1-6 1 26 1 9"/><path id="L22" vector-effect="non-scaling-stroke" transform="translate(42.5 0) scale(1.402 0.25)" d="M0 823l1 0 1 0 1 0 1 0 1-5 1-38 1 5 1-10 1-53 1-34 1-73 1-46 1-50 1-79 1-77 1-53 1 1 1-86 1-3 1-8 1-6 1-13 1 38 1 8 1 41 1 23 1 21 1 36 1 23 1 15 1 35 1 12 1 18 1 1 1 14 1 19 1-11 1-32 1 16 1-43 1 14 1-29 1-4 1-22 1-45 1 3 1-45 1 10 1 3 1 5 1-9 1-6 1 3 1 17 1 51 1-18 1 24 1 3 1 76 1 16 1 64 1 21 1 38 1 6 1 41 1 0 1 21 1 3 1 19 1-7 1 10 1 25 1-12 1 6 1-2 1-6 1 16 1 1 1-4 1-24 1-17 1 24 1 17 1-6 1 13 1-39 1 14 1 36 1-11 1-9 1-1 1 22 1-16 1-9 1-45 1 65 1 7 1-50 1 30 1-14 1-3 1 2 1 7 1-17 1 16 1-2 1-15 1 28 1 3 1-16 1-21 1 39 1-36 1-14 1 20 1-2 1-35 1 56 1-12 1 10 1-27 1 27 1-25 1 3 1-2 1-1 1 22 1-5 1-38 1 13 1 62 1-60 1 22 1-52 1-6 1 4 1-45 1-33 1-4 1-48 1-15 1-54 1 2 1-43 1-43 1 22 1-79 1-64 1-70 1-78 1-43 1-51 1-11 1 0 1 0 1 0 1 0 1 0 1 0 1 0 1 0 1 0 1 0 1 19 1-16 1 50 1 31 1-9 1 47 1 32 1 29 1 9 1 15 1 47 1 36 1 53 1-5 1 34 1 34 1 16 1 52 1 14 1 39 1 32 1-11 1 47 1 3 1 28 1 30 1 0 1 10 1 35 1-37 1 12 1 22 1 8 1 16 1 26 1-40"/><path id="L23" vector-effect="non-scaling-stroke" transform="translate(42.5 0) scale(1.402 0.25)" d="M0 823l1 0 1 0 1 0 1 0 1 0 1 0 1 0 1 0 1-36 1 6 1 5 1-34 1-34 1-35 1-33 1-19 1-39 1-29 1 2 1-44 1-2 1-6 1-8 1 11 1 11 1 10 1 15 1-8 1 24 1-3 1 52 1 1 1-16 1 12 1 19 1 9 1 6 1-19 1 4 1-21 1-21 1 1 1-10 1-7 1-5 1 6 1-33 1 36 1-9 1-30 1 5 1-10 1-5 1 31 1-24 1 24 1-2 1 11 1 31 1 0 1 37 1-10 1 39 1 0 1 1 1-15 1 12 1 26 1 28 1-13 1 30 1-2 1 9 1-2 1-17 1 9 1-8 1 13 1-1 1-9 1-7 1 10 1 8 1-11 1-20 1 12 1 1 1 24 1 5 1-32 1 16 1 5 1-11 1 2 1 21 1-12 1-8 1 9 1 2 1 1 1 17 1-25 1 20 1-10 1 4 1 5 1-23 1 8 1-4 1 8 1-4 1 8 1 19 1 1 1-16 1-22 1 13 1 38 1-48 1 13 1-4 1 8 1-1 1-23 1 31 1-26 1-15 1 6 1-7 1 13 1-4 1 4 1-4 1 17 1-30 1-2 1-17 1-7 1-16 1 21 1-30 1-42 1-8 1-44 1-11 1-17 1-7 1-34 1-21 1-29 1 31 1-36 1-32 1 2 1-57 1-7 1-18 1-5 1-10 1-20 1 7 1 7 1-5 1-11 1 13 1 18 1 12 1 2 1 16 1 21 1 18 1 32 1-10 1 4 1 8 1 29 1 0 1 3 1 26 1-1 1 9 1 35 1 29 1-11 1 1 1 22 1 13 1 30 1-5 1 22 1 47 1-13 1 35 1 26 1-9 1 31 1 13 1-11 1 12"/><path id="L24" vector-effect="non-scaling-stroke" transform="translate(42.5 0) scale(1.402 0.25)" d="M0 805l1 18 1-12 1-35 1 29 1 15 1-10 1 12 1-25 1-1 1-34 1-48 1-51 1-66 1-42 1 5 1-51 1-63 1 23 1-33 1 14 1 29 1 15 1-23 1-22 1 15 1-21 1 11 1 14 1-3 1 1 1-16 1 3 1 15 1 11 1-27 1 17 1-5 1-17 1 0 1-26 1-7 1 54 1 19 1-27 1 19 1 35 1-6 1-13 1-27 1 14 1 9 1-7 1-33 1-35 1 10 1 17 1-6 1-16 1 38 1 49 1-7 1 28 1 45 1 60 1 20 1 2 1 5 1 40 1-27 1 19 1-7 1 15 1 4 1-12 1 30 1 16 1-14 1 2 1 14 1 1 1-17 1-7 1-3 1-2 1 9 1-1 1-4 1 7 1-17 1-9 1 8 1-5 1-21 1 8 1-17 1 29 1-11 1 8 1-36 1 34 1-14 1-3 1-5 1-18 1 38 1 9 1-43 1 28 1 1 1 1 1-21 1 31 1-20 1 27 1 3 1 12 1 4 1-19 1 14 1 7 1 11 1-33 1 39 1 20 1-30 1-27 1-13 1-16 1-12 1-3 1-7 1-28 1 4 1-17 1-4 1-45 1 9 1-11 1-28 1-7 1-17 1-2 1 6 1-27 1 25 1-14 1 15 1 7 1-41 1 3 1 10 1-4 1 17 1 5 1-20 1-46 1 8 1-21 1-7 1-3 1-24 1 1 1 34 1-11 1-18 1 65 1-2 1 31 1-67 1 59 1 10 1-33 1 46 1 9 1 0 1 15 1-3 1-28 1 12 1 17 1-8 1-31 1 28 1 13 1-27 1 56 1 36 1-5 1 22 1 13 1 29 1-41 1 38 1 53 1 10 1-7 1 16 1 17 1 15"/><path id="L25" vector-effect="non-scaling-stroke" transform="translate(42.5 0) scale(1.402 0.25)" d="M0 814l1-6 1 15 1-14 1 14 1 0 1 0 1 0 1-9 1 3 1 1 1-1 1-8 1-19 1-22 1 4 1-28 1-11 1-11 1-15 1-8 1-3 1-8 1 9 1-16 1 6 1-13 1 8 1-8 1 17 1-5 1 6 1 34 1-43 1 20 1 13 1 0 1-8 1-8 1 11 1-12 1 20 1-20 1 1 1 1 1 0 1 4 1-11 1 11 1 7 1-3 1-2 1-6 1 15 1 10 1-8 1-18 1 1 1 8 1-8 1 1 1 6 1 21 1 2 1 2 1 22 1-1 1-5 1 16 1 4 1-14 1 22 1-1 1-14 1 8 1-9 1-12 1-10 1 13 1-23 1 14 1 9 1-1 1 5 1-11 1-5 1-4 1-3 1-5 1-6 1 20 1 1 1 14 1 6 1-15 1 13 1-5 1 5 1-6 1-2 1 5 1 1 1-14 1 20 1-23 1 2 1-8 1 0 1-4 1 17 1-2 1 3 1 0 1-5 1 3 1 3 1 16 1-7 1 11 1-13 1 10 1-14 1 2 1-20 1 30 1-1 1-2 1 17 1 2 1-12 1 14 1-5 1 8 1 2 1-14 1 23 1-10 1 0 1 0 1 2 1-19 1-4 1-8 1-9 1-6 1 2 1-4 1-9 1-2 1-16 1-7 1 1 1-2 1-24 1 14 1-9 1-14 1-5 1 1 1-3 1-26 1-3 1 2 1-7 1 10 1-4 1 10 1-7 1-14 1 1 1 17 1-11 1-6 1 18 1-15 1 9 1 4 1 11 1 8 1 2 1 17 1 17 1 3 1-6 1 6 1 25 1 6 1 3 1 14 1-2 1-8 1 31 1 18 1-12 1 4 1-2 1 16 1 17 1-6 1 4"/><path id="L26" vector-effect="non-scaling-stroke" transform="translate(42.5 0) scale(1.402 0.25)" d="M0 818l1-46 1 30 1 21 1-5 1-20 1-15 1-38 1-5 1-84 1-29 1-95 1-41 1-82 1-42 1-46 1-40 1-15 1 43 1-20 1-49 1-32 1-13 1 3 1-24 1 17 1-17 1-13 1 14 1-31 1-15 1-9 1 8 1 46 1-10 1 6 1-4 1-25 1 7 1 9 1 4 1-36 1 12 1 37 1-1 1 27 1-36 1 44 1 38 1-47 1 16 1 22 1 9 1-11 1 3 1 7 1 4 1 53 1 35 1 19 1 78 1-4 1 65 1 26 1 57 1-6 1 73 1 33 1 36 1 17 1-63 1 10 1-27 1 39 1-27 1 9 1-23 1-24 1 21 1-6 1 43 1-7 1 27 1 5 1-47 1 18 1-49 1 64 1-40 1-11 1-24 1-6 1 27 1 65 1-42 1-10 1 8 1-3 1 7 1-33 1 38 1-68 1-6 1-1 1-13 1 37 1-16 1-2 1 34 1-27 1 25 1-74 1 29 1 23 1-37 1 44 1 14 1 8 1 12 1-64 1 47 1-51 1-3 1-7 1 33 1-28 1 19 1-9 1 26 1-40 1 2 1-15 1 36 1 16 1-54 1-7 1-30 1-67 1-65 1-42 1-67 1-38 1-51 1-57 1-68 1-77 1 0 1 0 1 0 1 0 1 0 1 0 1 0 1 0 1 0 1 0 1 0 1 0 1 0 1 0 1 0 1 0 1 0 1 0 1 8 1 14 1 40 1 18 1 14 1 13 1-40 1-12 1 10 1-14 1-25 1 37 1-5 1 68 1 19 1 107 1-25 1 44 1 29 1 44 1 63 1-22 1 70 1 31 1 37 1-8 1 9 1 84 1 8 1 7 1 82 1 11 1-12 1-7 1-17 1 33"/><path id="L27" vector-effect="non-scaling-stroke" transform="translate(42.5 0) scale(1.402 0.25)" d="M0 766l1-8 1-4 1 8 1 27 1-16 1 0 1-22 1 7 1-18 1 1 1-63 1-60 1-47 1-39 1-40 1-33 1-76 1-4 1-68 1 24 1-29 1 2 1-39 1-3 1-7 1 8 1 26 1-17 1 1 1 41 1-15 1 10 1 10 1 30 1-28 1-8 1 7 1-40 1-24 1 4 1-21 1 23 1 53 1-66 1 20 1 20 1-34 1 2 1-19 1 30 1-37 1 27 1 15 1 17 1 25 1-6 1 0 1 67 1 33 1 46 1 20 1 55 1 21 1 30 1 34 1 51 1 33 1-14 1 0 1 17 1 11 1-46 1 42 1 8 1-11 1-6 1 10 1-33 1-3 1-38 1 28 1-26 1 33 1 27 1-49 1 12 1 22 1 10 1 1 1 1 1 31 1-36 1 16 1 3 1-3 1-12 1 36 1-24 1 0 1 10 1-14 1-16 1-32 1 25 1 1 1-53 1 35 1 7 1 11 1-39 1 13 1-9 1-3 1-26 1-7 1-2 1 42 1-38 1 26 1-2 1 35 1-25 1 39 1-4 1-8 1 37 1-53 1-10 1 10 1-12 1-28 1 26 1-23 1-13 1 5 1-48 1-21 1-44 1-27 1-50 1-33 1-57 1-54 1-29 1-32 1-48 1 14 1-19 1-26 1 24 1-42 1-4 1-19 1-28 1 18 1-54 1-13 1-2 1 0 1-23 1-7 1 0 1 0 1 5 1-2 1 18 1 22 1 83 1 23 1 34 1 63 1 51 1 17 1 9 1 44 1 1 1-28 1 47 1-2 1 39 1-3 1 56 1 8 1-8 1 28 1 40 1-22 1 23 1 35 1 27 1 24 1 5 1 12 1 76 1 1 1 15 1 17 1 50 1 24"/><path id="L28" vector-effect="non-scaling-stroke" transform="translate(42.5 0) scale(1.402 0.25)" d="M0 821l1 2 1-11 1-11 1 2 1 8 1-30 1-7 1-21 1-24 1-65 1 1 1-33 1-31 1-33 1-3 1-36 1 7 1-31 1-43 1 43 1-53 1 1 1 14 1-11 1-32 1 9 1 15 1-65 1 11 1 39 1-28 1-9 1 27 1-30 1 50 1-16 1 7 1 11 1 8 1-13 1 24 1-9 1 5 1 19 1 18 1-29 1 14 1-19 1 12 1-34 1 18 1-13 1-8 1-6 1-5 1 8 1 40 1-11 1 19 1 47 1 41 1 63 1-19 1 6 1 42 1 16 1 2 1-19 1 24 1 8 1 24 1-30 1 5 1 4 1 9 1 0 1-31 1-2 1 34 1-2 1-19 1 9 1 6 1-3 1 31 1-19 1-19 1 34 1-8 1 11 1-13 1 9 1-30 1 43 1 0 1 10 1-56 1 23 1 12 1-24 1 18 1-22 1 20 1-34 1 15 1-6 1 18 1-10 1-6 1-20 1 18 1-24 1 40 1 6 1 37 1-10 1 1 1 5 1 12 1 9 1-45 1 31 1-41 1 6 1-11 1 10 1-10 1-1 1 14 1-42 1 18 1-37 1-25 1-34 1-18 1 2 1-53 1-28 1-45 1 26 1-56 1-17 1-49 1 9 1-30 1-68 1 18 1-42 1-33 1-6 1 24 1-51 1-8 1 20 1 1 1-6 1-36 1-10 1 0 1-8 1 1 1 6 1-24 1 31 1 36 1 26 1 25 1 47 1 62 1 6 1 31 1 35 1 6 1 11 1 30 1 33 1 16 1-7 1 58 1-17 1 28 1 0 1 11 1 3 1 29 1 13 1 6 1 12 1 36 1 3 1-7 1 7 1 23 1-25 1 3 1 16 1-14 1 2 1 12"/><path id="L29" vector-effect="non-scaling-stroke" transform="translate(42.5 0) scale(1.402 0.25)" d="M0 823l1 0 1 0 1 0 1-11 1 11 1 0 1 0 1-14 1 14 1-15 1-28 1-93 1-79 1-52 1-102 1-71 1-62 1-92 1-23 1-71 1-32 1 16 1-26 1-2 1-11 1-13 1 28 1 1 1 13 1 46 1 12 1 13 1 3 1 29 1 16 1 7 1 15 1 28 1-26 1 15 1-9 1-27 1 14 1-11 1-23 1 22 1-44 1-38 1 15 1-9 1 5 1-64 1-5 1 20 1 0 1 5 1 15 1 5 1-10 1 65 1 45 1 57 1 72 1 56 1 34 1 75 1 59 1 14 1 64 1 37 1 17 1-19 1 22 1-8 1 14 1 17 1-34 1-6 1 28 1-6 1-2 1 43 1-44 1 2 1-28 1-3 1 0 1 11 1-34 1-30 1 7 1 7 1 10 1 5 1 56 1-84 1 32 1-35 1 40 1 4 1 33 1-57 1-9 1 23 1-32 1 10 1-17 1 15 1 21 1-8 1 19 1-22 1 9 1-8 1 7 1 9 1-3 1-10 1 44 1-26 1 7 1-35 1 33 1 24 1 26 1-12 1 19 1-12 1-2 1 5 1-44 1-6 1-20 1-29 1-7 1-26 1 4 1-75 1 27 1-48 1 16 1-73 1-40 1-64 1-77 1-61 1-10 1-56 1-70 1-50 1-39 1 0 1 0 1 0 1 0 1 0 1 0 1 0 1 0 1 0 1 0 1 0 1 0 1 0 1 0 1 0 1 0 1 0 1 0 1 0 1 0 1 0 1 0 1 0 1 0 1 3 1 45 1 43 1-28 1 58 1 44 1 46 1 46 1-3 1 36 1 20 1 29 1-21 1 7 1 12 1-39 1 109 1-35 1 25 1 3 1 24 1 34 1 15 1 17"/><path id="L30" vector-effect="non-scaling-stroke" transform="translate(42.5 0) scale(1.402 0.25)" d="M0 815l1 8 1-14 1 14 1-20 1 7 1 3 1-2 1 4 1-10 1 5 1-23 1-26 1-10 1-23 1-5 1-38 1-17 1-5 1-45 1 23 1-24 1 22 1-26 1 10 1 10 1-11 1 1 1-7 1 20 1 0 1-17 1 20 1 1 1 5 1 7 1 5 1 13 1-8 1 8 1-8 1 18 1-16 1 20 1 2 1 23 1-23 1 18 1 12 1 13 1-9 1-3 1-17 1 3 1 11 1 7 1-3 1-7 1 29 1 0 1-9 1 11 1 9 1-11 1 16 1 0 1 1 1-13 1 21 1-7 1 10 1 4 1-7 1-13 1 21 1-5 1-11 1-16 1 8 1 0 1-2 1-9 1 8 1 11 1-5 1 2 1 31 1-37 1 13 1 8 1 3 1-19 1-9 1 13 1-20 1 11 1-12 1 19 1 6 1-5 1-14 1-1 1-3 1 8 1-6 1-19 1 4 1 8 1 5 1 16 1-15 1 20 1-6 1-32 1 32 1-3 1 9 1 2 1-5 1-2 1 23 1-23 1 12 1 22 1-19 1 2 1 4 1 3 1-24 1-12 1 14 1-5 1-11 1-6 1 12 1 3 1 8 1 0 1-17 1-11 1 10 1-3 1-26 1 10 1-9 1-22 1-2 1-40 1-5 1-35 1 0 1-11 1 11 1-40 1-6 1-17 1-8 1-12 1 7 1 5 1-4 1 7 1-34 1 9 1-8 1-21 1 17 1-1 1 12 1-11 1-1 1 32 1-12 1 14 1 29 1 2 1 19 1 29 1 27 1 20 1 4 1 0 1 9 1 11 1 23 1-6 1 11 1 1 1 1 1 27 1-4 1 5 1 2 1 2 1-5 1 19 1-5 1 18 1 0 1-24"/><path id="L31" vector-effect="non-scaling-stroke" transform="translate(42.5 0) scale(1.402 0.25)" d="M0 823l1-21 1 21 1-19 1 12 1 7 1-11 1-17 1 26 1-45 1-17 1 2 1-46 1-43 1-45 1-72 1-38 1-64 1-42 1-40 1-9 1 12 1-8 1-11 1 18 1-6 1-18 1-26 1 39 1-5 1-14 1 0 1-31 1 12 1 6 1-25 1-45 1 13 1 14 1 8 1-32 1 19 1 12 1 1 1 21 1 13 1 1 1-7 1 34 1 22 1-14 1 7 1 17 1 1 1 49 1 20 1 37 1-5 1 16 1-3 1 11 1 16 1 19 1 10 1 18 1 27 1 12 1 4 1 27 1 26 1 8 1 21 1 23 1 8 1-13 1-11 1-2 1 18 1-24 1 0 1 17 1-18 1-6 1 6 1 3 1-5 1 5 1 5 1 24 1 2 1 4 1-13 1-8 1-4 1-22 1 13 1 5 1 6 1 24 1-10 1-5 1-1 1-14 1 43 1 3 1 5 1 21 1-3 1-27 1 5 1 33 1-54 1-4 1-22 1 11 1 23 1-39 1 3 1-16 1 28 1-24 1 7 1-21 1 59 1-42 1-31 1 11 1 24 1-17 1-29 1 44 1-36 1-3 1 3 1 3 1-9 1 4 1 1 1-22 1-5 1-38 1-10 1 6 1-70 1 19 1-61 1 45 1-4 1-34 1-21 1-38 1-19 1-77 1-26 1-26 1-2 1-12 1-17 1-44 1 12 1-28 1-37 1-19 1-24 1-4 1-7 1-78 1 16 1-25 1 16 1-14 1 29 1 25 1 39 1 14 1 27 1 16 1 32 1 28 1-4 1 60 1-9 1 61 1 34 1 18 1 5 1 64 1 26 1 45 1 25 1 17 1 16 1 79 1 3 1 23 1 1 1 33 1 18 1-14 1 35"/><path id="L32" vector-effect="non-scaling-stroke" transform="translate(42.5 0) scale(1.402 0.25)" d="M0 823l1 0 1 0 1 0 1 0 1-8 1 8 1-5 1 5 1 0 1-18 1-24 1-40 1-45 1-41 1-10 1-21 1-48 1 17 1-10 1-17 1 0 1-2 1 16 1 15 1-18 1 30 1-17 1 8 1 13 1 2 1-20 1 7 1-13 1-18 1-49 1 6 1 2 1 0 1 12 1-14 1-11 1 0 1-5 1-24 1 8 1 7 1-3 1 28 1-1 1 5 1-7 1 0 1 0 1 23 1 2 1 16 1 13 1-2 1 3 1 31 1-18 1 11 1 48 1 15 1-15 1 14 1 42 1 4 1 6 1 29 1-9 1 11 1-20 1 33 1-7 1-5 1-2 1 16 1 0 1-17 1 7 1-5 1 16 1-21 1 9 1 2 1-12 1 29 1-4 1-14 1-16 1 17 1-16 1 16 1-15 1 17 1 6 1-30 1 0 1 12 1-7 1-12 1 22 1-14 1 12 1-22 1 39 1-13 1 18 1-53 1 30 1-5 1 14 1-23 1-9 1-9 1 3 1 18 1 4 1-10 1 6 1 2 1 15 1 2 1 1 1-26 1 12 1-18 1 0 1-12 1 2 1 17 1 20 1 13 1-43 1 7 1-20 1-12 1 0 1-44 1 2 1-53 1-9 1-29 1-11 1-27 1-27 1-17 1-29 1-4 1-34 1-33 1-10 1 7 1-29 1-15 1-9 1 4 1-20 1-1 1-2 1 26 1-7 1 7 1 5 1 16 1-10 1 21 1 28 1-28 1 26 1 43 1 14 1 46 1 14 1 16 1 27 1 10 1 12 1 10 1 13 1-3 1 29 1 4 1-39 1 38 1 19 1-16 1-9 1 16 1 22 1 30 1-36 1 41 1-3 1 18 1 19 1 30 1 16"/><path id="L33" vector-effect="non-scaling-stroke" transform="translate(42.5 0) scale(1.402 0.25)" d="M0 814l1-3 1-8 1 4 1-2 1 12 1-22 1 14 1 12 1-32 1-20 1 21 1-46 1-43 1-11 1-11 1-24 1-21 1-20 1-12 1-30 1 31 1-16 1 5 1 37 1-13 1 16 1-33 1 11 1-6 1-11 1-3 1 19 1-33 1 22 1-19 1-17 1 2 1 27 1 16 1-10 1 19 1-17 1 17 1 11 1-11 1 5 1-43 1-13 1 37 1-20 1-19 1-2 1 1 1 12 1-50 1 18 1-32 1-1 1-13 1 11 1-19 1 33 1-3 1 17 1 41 1 18 1 17 1 50 1 2 1 18 1 24 1 30 1-6 1 2 1-10 1 2 1 18 1-28 1 37 1-3 1-1 1-15 1 6 1-19 1 37 1-20 1 18 1-7 1-23 1 10 1-26 1 37 1-10 1 9 1 4 1 0 1 7 1-1 1-34 1 56 1-33 1 39 1-24 1 0 1 23 1-20 1 6 1-2 1-39 1 41 1-22 1-14 1 17 1-29 1-12 1 23 1 20 1-42 1-7 1-10 1-2 1-29 1 37 1-26 1 19 1 5 1-4 1 11 1-12 1 39 1-11 1 32 1-6 1-12 1 2 1 3 1 15 1 10 1-17 1 3 1-40 1-43 1-16 1-44 1-30 1-25 1 15 1-28 1-44 1-12 1-54 1-20 1-24 1-3 1-18 1-26 1-19 1-10 1-17 1-31 1 30 1-29 1 12 1-14 1 26 1-2 1 37 1 1 1-3 1 23 1 29 1-12 1 48 1 29 1 37 1-13 1 15 1-5 1 10 1 62 1-29 1 29 1 22 1 16 1 7 1 6 1 49 1-2 1 11 1 13 1 10 1 25 1 30 1 18 1-15 1 33 1 0 1 23 1-10"/><path id="L34" vector-effect="non-scaling-stroke" transform="translate(42.5 0) scale(1.402 0.25)" d="M0 823l1 0 1 0 1 0 1 0 1 0 1 0 1 0 1-26 1 17 1-4 1-3 1-37 1 7 1-38 1-21 1-17 1-30 1-5 1-18 1 14 1-4 1-5 1 16 1 13 1 1 1 10 1-7 1 18 1-12 1-8 1 9 1 14 1-25 1 14 1-4 1 2 1 5 1-31 1 27 1-20 1 4 1 22 1-4 1 6 1-2 1 1 1-12 1-12 1-6 1 0 1-17 1 20 1-6 1-1 1-2 1-2 1-8 1 6 1 15 1 13 1 9 1 22 1 1 1 32 1-5 1-8 1 13 1-4 1 7 1-16 1-1 1 7 1-18 1 1 1 2 1-22 1 37 1-2 1-7 1 4 1 1 1-1 1-7 1 10 1 10 1 5 1-18 1 8 1-12 1-5 1-3 1 4 1 14 1-14 1-4 1-21 1 8 1 28 1-2 1 19 1 7 1-6 1 2 1-11 1 7 1-23 1 14 1-1 1 16 1 2 1-11 1 14 1-22 1-5 1 22 1-6 1-21 1 31 1 2 1 1 1 3 1 24 1-13 1-6 1 4 1 14 1-26 1 2 1-14 1 11 1-1 1 4 1-16 1-14 1 14 1-13 1-19 1 23 1-22 1 11 1-30 1-12 1-2 1-12 1-15 1-16 1 14 1-20 1 14 1-30 1-1 1-4 1 6 1-27 1-6 1 2 1 15 1-15 1-22 1 5 1 1 1 0 1-12 1-12 1 0 1-12 1-3 1 9 1 4 1-1 1 18 1 7 1 5 1-8 1-12 1 24 1 3 1 18 1 13 1 7 1 3 1-3 1 39 1 9 1 2 1 2 1 30 1-1 1-4 1 17 1 22 1-9 1 27 1 5 1-6 1 4 1 30 1-15 1 37"/><path id="L35" vector-effect="non-scaling-stroke" transform="translate(42.5 0) scale(1.402 0.25)" d="M0 823l1 0 1 0 1 0 1 0 1 0 1 0 1-9 1-25 1-58 1-4 1-43 1-3 1-42 1-23 1 1 1-26 1 3 1 10 1-10 1 1 1 11 1-5 1-3 1-8 1-11 1 22 1 7 1-24 1 19 1-20 1-6 1 3 1-17 1 2 1-7 1 1 1-30 1-3 1 6 1-3 1-5 1-15 1-16 1 8 1 18 1-29 1-23 1 9 1 16 1-40 1-4 1 23 1 32 1-19 1 21 1 10 1 22 1 27 1 8 1 27 1 35 1 14 1 13 1 48 1 19 1-16 1 44 1-33 1 31 1-10 1-4 1 25 1-11 1 10 1-13 1 10 1 2 1 8 1-10 1-23 1 17 1 10 1 13 1-16 1 2 1-1 1 10 1-32 1-4 1-25 1 18 1-15 1 4 1 23 1 12 1 6 1-30 1 8 1 17 1 11 1 6 1-1 1-22 1-20 1-13 1 26 1 3 1-15 1 10 1 30 1-36 1 13 1-2 1 5 1-7 1 7 1 13 1-10 1 35 1-48 1 40 1-8 1 28 1-7 1 4 1-6 1-10 1-16 1-4 1-5 1 16 1-50 1 3 1 19 1-38 1-19 1 3 1 3 1-38 1-2 1-33 1 0 1-29 1-28 1-17 1-13 1-38 1-36 1 8 1-25 1 8 1-36 1 8 1-11 1-6 1 9 1 2 1-1 1 12 1 7 1 12 1-3 1 2 1 13 1 3 1 36 1-13 1 46 1-26 1 11 1 23 1-20 1 27 1 3 1 20 1 13 1-23 1 17 1 11 1 15 1-17 1 11 1 14 1 16 1 7 1-24 1 26 1 31 1-35 1 55 1-17 1 41 1-14 1 32 1-15 1 30 1-2 1 1 1-1"/><path id="L36" vector-effect="non-scaling-stroke" transform="translate(42.5 0) scale(1.402 0.25)" d="M0 817l1 0 1 3 1-5 1 8 1 0 1 0 1 0 1 0 1-4 1-21 1 0 1-24 1-17 1-22 1-18 1-6 1-23 1 2 1-7 1-2 1 0 1 13 1-19 1 8 1-1 1-16 1 18 1-4 1-2 1-9 1-1 1 2 1 3 1 6 1-10 1 8 1-7 1 7 1-7 1 11 1-22 1 3 1 6 1 1 1 24 1-23 1 15 1-6 1 12 1-21 1 14 1 3 1-17 1 5 1-20 1 21 1-2 1 13 1-7 1 10 1 28 1 3 1 10 1-6 1-2 1 7 1 15 1-32 1 10 1 7 1-4 1 12 1-9 1 4 1-6 1-7 1 13 1-7 1 15 1 10 1-9 1 5 1 22 1-7 1 5 1 12 1-6 1-5 1 14 1-17 1 8 1-2 1-15 1-16 1 13 1-3 1-30 1 7 1 2 1-6 1-10 1 10 1 1 1 3 1 14 1-7 1 14 1 1 1 7 1 16 1-11 1 0 1-1 1-21 1 5 1-5 1-2 1 10 1 9 1 0 1 4 1-6 1 24 1 2 1 15 1-16 1 7 1 11 1-6 1-4 1 3 1 1 1-6 1-5 1 9 1 0 1 9 1-20 1-24 1-11 1 3 1-16 1-34 1 6 1-11 1-15 1-6 1-11 1 3 1 12 1-15 1-15 1 6 1-21 1-10 1-1 1-7 1-16 1-6 1-8 1 18 1 7 1-17 1-13 1 2 1 13 1-8 1 3 1-1 1 17 1-6 1 39 1-5 1 8 1 0 1 22 1 16 1-5 1 9 1-7 1 12 1 6 1 10 1 5 1 28 1-9 1-6 1 21 1-5 1 4 1-7 1 34 1-7 1-4 1 20 1 15 1 1 1 2 1 14"/><path id="L37" vector-effect="non-scaling-stroke" transform="translate(42.5 0) scale(1.402 0.25)" d="M0 809l1-7 1 4 1 15 1-3 1-3 1 7 1-3 1 2 1-13 1-23 1-26 1-50 1 0 1 9 1-35 1-17 1-13 1-22 1 21 1-11 1-39 1 22 1 11 1-14 1-40 1 14 1 14 1 10 1 10 1-3 1 7 1-1 1 0 1-7 1-1 1-16 1 15 1 7 1-18 1 12 1-13 1 11 1-12 1 24 1 11 1-18 1 19 1-1 1-24 1-3 1-14 1-1 1 19 1 5 1 5 1-26 1 18 1 14 1 31 1-5 1 9 1 7 1 5 1-9 1 13 1 3 1 29 1-3 1-13 1 5 1 3 1 11 1-23 1 27 1 9 1-4 1 12 1 16 1-14 1 4 1 21 1 2 1-5 1-1 1 14 1-3 1 5 1-13 1 39 1-28 1 8 1 14 1-9 1-5 1-11 1-13 1-6 1 2 1 9 1-14 1 14 1-21 1 4 1 6 1 9 1-32 1 26 1 7 1-19 1 1 1 6 1-2 1 2 1 0 1-8 1 20 1 12 1-21 1 9 1 11 1 9 1 0 1-19 1 14 1-3 1-8 1 11 1-2 1-27 1 12 1 11 1-26 1 17 1-14 1-9 1 13 1-33 1-11 1-16 1-18 1-37 1-17 1-17 1-5 1-5 1-15 1 0 1-15 1-15 1-24 1 6 1-8 1-9 1 10 1 4 1 11 1-15 1 32 1-17 1-8 1-8 1-4 1-10 1-4 1-16 1 7 1-17 1 0 1 17 1 4 1-16 1 29 1 5 1 13 1 9 1 27 1 8 1-17 1 47 1-2 1 21 1 1 1 21 1 15 1-8 1 1 1 4 1 13 1-1 1 52 1-15 1 4 1 11 1-2 1 8 1 20 1 19 1 16 1 3"/><path id="L38" vector-effect="non-scaling-stroke" transform="translate(42.5 0) scale(1.402 0.25)" d="M0 823l1 0 1 0 1-8 1-38 1 46 1 0 1 0 1-18 1 6 1 7 1-59 1-22 1-99 1 15 1-39 1-62 1-85 1-28 1-85 1-4 1-44 1-33 1-5 1-10 1 22 1-63 1 18 1-7 1 53 1-20 1-1 1-33 1-19 1 7 1-50 1-15 1-18 1 19 1 14 1-45 1 36 1-16 1 35 1-26 1-17 1 20 1 5 1 16 1 4 1 3 1-37 1-33 1 26 1 15 1-48 1-37 1 40 1-10 1 3 1-20 1 30 1 14 1 81 1 20 1 58 1-9 1 33 1 50 1 34 1 84 1-34 1 75 1 33 1 26 1-18 1 29 1 20 1 94 1-83 1 19 1 3 1 36 1-17 1-7 1 27 1-17 1 8 1 50 1-9 1-1 1 16 1-8 1 2 1-1 1 28 1-52 1-35 1-2 1 9 1 7 1 10 1 1 1 5 1-19 1 5 1-30 1 20 1-21 1-23 1 0 1 27 1-20 1 36 1-7 1-21 1 18 1 7 1 19 1-32 1-8 1-5 1 7 1 23 1 24 1-29 1-7 1-15 1-40 1 16 1-39 1 19 1-4 1-55 1 61 1-37 1-47 1 18 1-16 1 17 1 33 1-15 1-28 1-54 1-20 1 6 1-25 1-44 1-35 1-41 1-19 1-92 1 10 1-80 1 6 1-87 1-54 1 0 1 0 1 0 1 0 1 0 1 0 1 0 1 0 1 0 1 0 1 0 1 0 1 0 1 0 1 0 1 0 1 0 1 0 1 0 1 8 1-3 1-5 1 4 1 18 1 11 1-28 1 45 1-36 1 38 1 62 1-29 1 63 1 92 1 35 1 62 1 27 1 55 1 36 1 52 1 33 1 50 1-13 1 23"/><path id="L39" vector-effect="non-scaling-stroke" transform="translate(42.5 0) scale(1.402 0.25)" d="M0 809l1 5 1 5 1 0 1 2 1-35 1 35 1-21 1-11 1-58 1-12 1-66 1-30 1-23 1-38 1-46 1-8 1-65 1 55 1-17 1-28 1-30 1-1 1-16 1-3 1-19 1-19 1-9 1 3 1-6 1 24 1 3 1 26 1-25 1 22 1-8 1 6 1 23 1-16 1 45 1-43 1-2 1 18 1 24 1 7 1-30 1 16 1 4 1 0 1 21 1-26 1 9 1 25 1-10 1 40 1 2 1-11 1 46 1 23 1 9 1 31 1 42 1-4 1 35 1-9 1-2 1 42 1-5 1 5 1-43 1 57 1-22 1 29 1-26 1 9 1 24 1-19 1 4 1-4 1 17 1-12 1-23 1 17 1-29 1 17 1-23 1-26 1 30 1-4 1 9 1-4 1-12 1 0 1-11 1 26 1-2 1-2 1 2 1 12 1 9 1-24 1 12 1-14 1-23 1 11 1 13 1 3 1 17 1 6 1-3 1 1 1-3 1-1 1-23 1 36 1-4 1-38 1 12 1 24 1 2 1-12 1 42 1-36 1 26 1-48 1 15 1-12 1-24 1-13 1 10 1-17 1 22 1-18 1-17 1-36 1 4 1-19 1-35 1-5 1-22 1 6 1-41 1 21 1-42 1-25 1-37 1-21 1-11 1-58 1-13 1-1 1-58 1 0 1-23 1 3 1-28 1-7 1 10 1-9 1-37 1 9 1 19 1-31 1-14 1-24 1 17 1-31 1 42 1 8 1 7 1 70 1-12 1 33 1 21 1 38 1-13 1 70 1 57 1 10 1 49 1 25 1 42 1 28 1 6 1 38 1-2 1 15 1 27 1 9 1 4 1 23 1-6 1 21 1 4 1 4 1 16 1 12 1 23 1 4 1 13"/><path id="L40" vector-effect="non-scaling-stroke" transform="translate(42.5 0) scale(1.402 0.25)" d="M0 822l1-3 1 2 1-2 1 4 1 0 1 0 1 0 1 0 1 0 1-5 1 0 1-56 1-32 1-38 1-11 1-47 1-20 1-13 1-3 1-1 1 9 1-3 1-7 1 17 1-4 1-15 1-16 1-12 1 18 1-19 1-7 1-16 1-16 1-8 1 9 1-2 1-38 1 12 1 7 1-17 1 2 1-1 1-5 1 16 1-2 1 7 1 2 1 10 1-16 1 24 1-10 1 7 1 4 1-25 1 4 1-3 1 3 1 0 1 4 1 12 1 21 1 20 1 31 1 9 1 26 1 10 1 52 1-11 1 15 1 2 1 11 1 15 1 5 1-6 1-21 1-8 1 30 1 10 1 3 1 2 1 3 1-6 1 27 1-17 1 28 1-55 1 36 1-13 1-8 1 22 1-12 1 4 1-21 1-20 1 31 1-18 1 0 1-13 1 4 1-3 1 12 1 16 1-40 1-3 1 14 1 29 1-1 1-11 1-8 1-3 1 15 1-4 1 41 1-25 1-11 1-1 1-1 1-12 1 4 1 15 1 8 1-15 1 7 1 5 1-13 1 11 1 1 1 24 1-8 1 2 1-17 1 4 1 9 1-31 1 1 1 12 1-16 1-23 1 1 1-8 1-2 1 10 1-9 1-33 1-2 1-21 1 1 1-33 1 3 1 9 1-26 1 5 1 33 1-52 1 14 1-7 1-2 1-15 1 7 1-32 1-18 1-15 1 0 1-14 1-32 1 1 1 14 1 11 1 32 1-45 1 32 1 15 1 14 1 12 1 4 1 7 1 15 1 25 1-27 1 11 1-25 1-19 1 5 1 22 1-14 1 31 1 5 1-2 1-1 1 29 1-13 1 58 1-15 1 24 1 24 1 30 1-14 1 7 1 6"/><path id="L41" vector-effect="non-scaling-stroke" transform="translate(42.5 0) scale(1.402 0.25)" d="M0 823l1 0 1 0 1 0 1-23 1 9 1-3 1-28 1 16 1-23 1-55 1-33 1-62 1-56 1-34 1-24 1-1 1-15 1-21 1 30 1-10 1-15 1-6 1-14 1 18 1 9 1-9 1 27 1 14 1-18 1 18 1-15 1 7 1 2 1-27 1 2 1-3 1-11 1-24 1 4 1 13 1-19 1 21 1 7 1-8 1-6 1 14 1-4 1-6 1 16 1-4 1-2 1 16 1 1 1-23 1 47 1-24 1 42 1 3 1 32 1 24 1 22 1 22 1 42 1 7 1 13 1-4 1 36 1-25 1 9 1-13 1-34 1 40 1-15 1 8 1-13 1 3 1 21 1 6 1 0 1-20 1-12 1 18 1 23 1-6 1 30 1-18 1 23 1-6 1 14 1-36 1 23 1 21 1-5 1-30 1 2 1 5 1 14 1 22 1-7 1-12 1-4 1 9 1-3 1-21 1-8 1 22 1-8 1 9 1-21 1-1 1 2 1 2 1 17 1-2 1 17 1-28 1 20 1-25 1 20 1-24 1 21 1-4 1 2 1-9 1-14 1-3 1-2 1-21 1 6 1 0 1-31 1-2 1 18 1-10 1-29 1-16 1-4 1-27 1-5 1 1 1-1 1-25 1 16 1-48 1 26 1-43 1-25 1-50 1 3 1 7 1-47 1 4 1-27 1-15 1-1 1 10 1 2 1-7 1-31 1 38 1-8 1 19 1 12 1 0 1-22 1 57 1 28 1 11 1-9 1 23 1-17 1 46 1 4 1 10 1 9 1-3 1 2 1 0 1 35 1-17 1 15 1 7 1 26 1-21 1 27 1-5 1 24 1 7 1 20 1 12 1 23 1 34 1 5 1 11 1-11 1 27 1-5 1-7 1-6"/><path id="L42" vector-effect="non-scaling-stroke" transform="translate(42.5 0) scale(1.402 0.25)" d="M0 823l1 0 1 0 1 0 1-26 1-48 1-73 1-58 1-117 1-109 1-85 1-135 1-3 1-41 1-63 1-33 1 44 1-24 1 27 1-46 1-19 1 31 1-4 1 34 1-44 1 66 1-23 1 18 1-19 1-12 1 11 1-15 1 0 1-66 1 0 1 14 1-14 1 0 1 0 1 0 1 0 1 0 1 0 1 0 1 0 1 0 1 0 1 0 1 0 1 0 1 64 1-33 1-15 1 39 1 57 1 18 1 53 1 44 1 92 1 59 1 43 1 55 1 27 1 56 1-26 1 55 1 26 1-2 1 36 1-5 1 16 1-22 1 16 1 17 1-22 1 17 1 7 1-31 1-32 1-2 1 23 1-40 1 38 1-14 1 6 1 30 1-25 1 10 1 10 1-11 1-14 1 3 1-27 1 34 1 0 1-12 1-15 1 31 1-4 1-5 1-23 1 36 1-13 1 31 1 37 1-31 1-28 1 63 1 1 1-9 1-7 1 33 1 1 1-10 1 3 1 8 1-14 1 38 1-17 1-73 1 32 1-24 1 1 1-49 1 19 1-20 1 7 1-31 1-12 1-11 1-24 1-41 1-25 1 31 1-86 1-69 1-18 1-57 1-32 1-61 1-68 1-5 1-5 1-103 1 0 1 0 1 0 1 0 1 0 1 0 1 0 1 0 1 0 1 0 1 0 1 0 1 0 1 0 1 0 1 0 1 0 1 0 1 0 1 0 1 0 1 0 1 0 1 0 1 0 1 0 1 0 1 0 1 0 1 0 1 0 1 0 1 10 1 97 1-3 1 57 1 51 1-3 1 39 1 22 1 23 1 43 1 65 1 3 1 87 1-35 1 103 1-30 1 79 1-28 1-5 1-8 1-14 1-8 1-9 1-21"/><path id="L43" vector-effect="non-scaling-stroke" transform="translate(42.5 0) scale(1.402 0.25)" d="M0 817l1 0 1 6 1 0 1-7 1 3 1-35 1 6 1 7 1-24 1 5 1-25 1-50 1-69 1-47 1-24 1-52 1-50 1-19 1-32 1 1 1-4 1 3 1-17 1 7 1 17 1 32 1 21 1 9 1 0 1 50 1-11 1 27 1-5 1 55 1-10 1 37 1-21 1-30 1-1 1-24 1-13 1 3 1 7 1-38 1 8 1 32 1-36 1-3 1 15 1-9 1 42 1-34 1 43 1-14 1 4 1-8 1-8 1 8 1-10 1 26 1-2 1 18 1 38 1 24 1 0 1 38 1-14 1 71 1-42 1 10 1 0 1 15 1 20 1 7 1 11 1-7 1 38 1-36 1 3 1-3 1-1 1-25 1-13 1-27 1 29 1-5 1 10 1-18 1 8 1-11 1 17 1 13 1 27 1-16 1 3 1-21 1 34 1-30 1 8 1 2 1-10 1-16 1-3 1 1 1 32 1-7 1-1 1 12 1 15 1 1 1-18 1 13 1-16 1 4 1-10 1 12 1 2 1 7 1-5 1-18 1 27 1-16 1 2 1 0 1-1 1-13 1 23 1-19 1-9 1-7 1-23 1 18 1 8 1-7 1-34 1-11 1-17 1-31 1 11 1-10 1-36 1-3 1-18 1-29 1-26 1-1 1 10 1-45 1 3 1-12 1 19 1-23 1 13 1-32 1 5 1 18 1-8 1-25 1 10 1 5 1-21 1-21 1 3 1-6 1 1 1-21 1 6 1 10 1 11 1-10 1 18 1-30 1 22 1-5 1 3 1-9 1-3 1 17 1-9 1 31 1 19 1 44 1-16 1 44 1 28 1 34 1-35 1 51 1-14 1 58 1 20 1 14 1 11 1 34 1 13 1-13 1 14 1 6 1 22"/><path id="L44" vector-effect="non-scaling-stroke" transform="translate(42.5 0) scale(1.402 0.25)" d="M0 823l1-20 1-3 1 23 1-2 1 2 1 0 1 0 1-17 1 13 1-13 1 17 1-9 1 9 1 0 1-21 1-20 1-13 1-11 1-42 1-21 1-20 1-6 1-40 1-26 1 4 1 2 1-4 1 9 1 10 1-4 1 25 1 11 1 21 1-10 1 22 1 15 1 2 1 5 1 14 1 12 1 18 1-16 1 10 1-30 1 15 1-14 1 11 1-5 1-5 1-13 1 20 1-20 1 15 1-27 1-16 1-8 1-5 1 12 1-11 1 13 1-14 1-12 1 6 1-14 1 16 1 1 1 12 1 18 1-5 1 21 1 3 1 25 1 24 1-6 1-7 1 4 1 0 1-9 1-21 1 26 1-18 1-7 1 17 1-22 1 5 1-1 1-4 1 6 1 10 1 22 1-16 1 6 1-13 1 19 1-3 1-13 1 17 1-2 1 3 1-9 1 14 1-16 1 33 1-14 1 9 1-25 1 21 1-17 1 27 1-30 1 31 1-11 1-4 1-9 1-2 1 5 1-3 1-14 1 5 1-4 1 26 1-7 1-7 1 21 1 4 1-1 1-10 1 9 1 3 1-16 1 18 1-12 1-2 1-10 1 13 1-10 1 2 1 19 1-18 1-4 1-3 1-22 1-5 1 10 1-28 1-21 1 20 1-17 1-19 1-5 1-32 1 25 1-25 1-12 1-12 1-3 1 5 1-6 1-16 1-15 1-9 1-1 1-4 1-8 1 11 1-29 1 10 1-12 1 20 1-21 1-28 1 6 1 2 1 31 1 5 1 15 1 2 1 23 1 11 1-5 1 9 1 28 1 9 1 9 1 11 1-4 1 24 1-1 1-1 1 21 1 5 1 7 1 17 1 11 1-3 1 2 1 0 1 29 1-18"/><path id="L45" vector-effect="non-scaling-stroke" transform="translate(42.5 0) scale(1.402 0.25)" d="M0 823l1 0 1 0 1-7 1 7 1 0 1-6 1 6 1 0 1-2 1-26 1-46 1-27 1-3 1-51 1-47 1-59 1 13 1-30 1-22 1-5 1-11 1-11 1 14 1 17 1 4 1 10 1 5 1 32 1 5 1 17 1 0 1 36 1-12 1-12 1-6 1-29 1 7 1-35 1-9 1-44 1 16 1-14 1 18 1 12 1 13 1 7 1-12 1 16 1 16 1 19 1 1 1-1 1 2 1-9 1 35 1-27 1-6 1 32 1-2 1 24 1-4 1 24 1 12 1 19 1 9 1 23 1-9 1 45 1 2 1-2 1-13 1 30 1 15 1-21 1 17 1 5 1-6 1-7 1-22 1 13 1-10 1-6 1-2 1-19 1-6 1-25 1 21 1-28 1 24 1 3 1-17 1 7 1 0 1-8 1 9 1 17 1-13 1 11 1 11 1-19 1 11 1-13 1 25 1-21 1 7 1-21 1 16 1 10 1-13 1 38 1-16 1 4 1 11 1 24 1-20 1-16 1 18 1 30 1-41 1 10 1-7 1 12 1 6 1-5 1-21 1-1 1 3 1 3 1-15 1 4 1-13 1 0 1-7 1-11 1-15 1 12 1-25 1-38 1-17 1-36 1-18 1-23 1-11 1-37 1-32 1-16 1-43 1-12 1 11 1-49 1-23 1-29 1 12 1-11 1-14 1 44 1-16 1 5 1-13 1 24 1 9 1-24 1 16 1-2 1 13 1 2 1 33 1 27 1 20 1 9 1 36 1 18 1 17 1 33 1 14 1-9 1 55 1 3 1 0 1 0 1 40 1-16 1 1 1 20 1 12 1 6 1 16 1 23 1 8 1 0 1 15 1 0 1 8 1-10 1 17 1 25 1 8 1-7 1-8"/><path id="L46" vector-effect="non-scaling-stroke" transform="translate(42.5 0) scale(1.402 0.25)" d="M0 810l1 13 1-29 1 29 1-16 1-15 1 17 1 1 1-41 1-2 1 12 1-48 1-55 1-65 1-92 1-54 1-62 1-54 1-48 1-5 1-49 1-16 1-12 1 44 1-2 1 14 1 31 1-22 1 19 1 4 1 34 1-3 1-42 1 15 1 34 1-33 1-26 1-3 1-9 1 8 1-25 1 11 1 24 1 7 1-7 1-3 1 8 1-8 1-31 1 7 1-45 1 63 1-32 1 1 1 5 1-14 1 13 1 11 1 1 1 27 1 26 1 9 1 53 1 42 1 36 1 56 1 78 1 17 1 43 1 29 1 32 1-10 1-7 1 17 1-15 1 15 1 32 1-11 1-15 1 58 1 8 1-12 1 30 1-47 1 2 1-3 1 12 1-36 1 38 1-80 1 38 1-16 1 44 1-21 1-6 1-14 1 8 1 2 1-47 1 61 1-47 1 20 1-8 1-28 1 21 1-25 1-11 1 21 1-1 1 24 1 3 1-8 1-2 1 22 1-45 1 34 1 6 1-28 1 40 1-17 1 2 1-47 1 19 1-26 1 8 1 3 1 10 1 37 1-59 1-10 1-2 1-2 1-14 1-10 1-17 1-15 1 14 1-18 1-42 1-17 1-56 1-33 1-23 1-58 1-10 1-7 1-67 1-13 1-26 1-37 1-33 1 8 1-9 1-40 1-4 1 6 1-80 1 11 1-29 1-35 1 0 1 0 1 0 1 0 1 0 1 0 1 0 1 0 1 0 1 0 1 0 1 0 1 0 1 23 1-4 1 69 1 7 1 68 1 25 1-7 1 27 1 64 1 0 1 30 1 57 1 31 1 50 1 30 1 67 1 10 1 13 1 35 1 44 1-28 1 44 1 35 1 56 1-11 1 18 1 12"/><path id="L47" vector-effect="non-scaling-stroke" transform="translate(42.5 0) scale(1.402 0.25)" d="M0 816l1-18 1 2 1 6 1-11 1-13 1 41 1-19 1-12 1 2 1-35 1-13 1-42 1-49 1-32 1-77 1-17 1-2 1-19 1 2 1-7 1-16 1 12 1 5 1-22 1-6 1 5 1 8 1 24 1 18 1-5 1-1 1 5 1-14 1 17 1-3 1-18 1-38 1 16 1 1 1-1 1 4 1-1 1 16 1-21 1-12 1 49 1-29 1 1 1 7 1-12 1-16 1-22 1 1 1 3 1-39 1 50 1-38 1 52 1 40 1 24 1 36 1 38 1 18 1 33 1 26 1 7 1 9 1 34 1-6 1-10 1 25 1 1 1 28 1 0 1 2 1 10 1 5 1-3 1-6 1 7 1-3 1-20 1 1 1 36 1-15 1-21 1-34 1 18 1 25 1-53 1 16 1-15 1 45 1-40 1-12 1-6 1-5 1-14 1 0 1 0 1-3 1-5 1 14 1-23 1-4 1 22 1 3 1-13 1-9 1-22 1 22 1-6 1 32 1 13 1-19 1-4 1 35 1 22 1-16 1 5 1-4 1 3 1 20 1-12 1-11 1-5 1-26 1 32 1-9 1 7 1-11 1-15 1 6 1-23 1-44 1 12 1-10 1-48 1-39 1-19 1-15 1-1 1-57 1-25 1-23 1-8 1-17 1-38 1 3 1-28 1-14 1-22 1 18 1-28 1 23 1 0 1-8 1-13 1-16 1-16 1 19 1-34 1-6 1 6 1 9 1 6 1 25 1 24 1 16 1 21 1-5 1 31 1 2 1 29 1-22 1 37 1-3 1 41 1-12 1 40 1 1 1 21 1 1 1 52 1-3 1 17 1 26 1 10 1 63 1 23 1 1 1-15 1 70 1 11 1-18 1 0 1 22 1 18 1-12"/><path id="L48" vector-effect="non-scaling-stroke" transform="translate(42.5 0) scale(1.402 0.25)" d="M0 807l1 16 1-2 1-6 1 4 1 2 1-2 1-2 1-4 1-3 1 8 1-9 1-9 1 11 1-30 1 11 1-30 1-3 1 3 1-26 1 5 1-14 1 2 1-2 1 12 1-5 1-12 1 3 1-11 1 6 1 5 1-4 1 6 1 5 1-9 1 13 1-10 1-15 1-4 1 18 1 1 1-16 1 11 1 10 1-15 1 0 1 3 1-8 1 1 1 10 1-33 1 21 1-11 1-8 1 9 1 10 1-6 1-9 1 4 1-22 1 15 1 5 1 8 1 7 1 10 1-18 1 18 1 2 1 12 1 23 1-17 1 17 1-1 1 11 1-4 1-3 1 5 1-1 1 0 1-5 1 12 1-8 1 12 1-16 1 3 1 15 1-25 1 13 1 2 1 0 1-10 1 8 1-12 1 1 1 5 1-12 1 1 1 0 1 15 1 1 1-37 1 6 1-12 1 17 1-20 1-2 1 0 1 1 1-12 1 4 1 22 1-9 1-14 1 22 1 0 1 9 1 14 1-4 1 10 1-7 1 20 1-3 1 20 1-14 1-5 1-1 1-16 1 18 1 0 1 2 1 0 1 5 1 10 1 2 1-14 1-2 1 18 1 4 1-21 1-9 1-4 1-6 1-19 1-14 1-6 1 3 1-11 1-2 1-27 1 12 1-12 1-5 1 0 1 7 1-14 1 14 1 7 1 6 1-6 1 6 1-23 1 15 1-6 1 3 1-8 1-15 1 9 1-26 1 22 1 13 1-12 1 5 1 3 1-10 1 13 1-3 1-5 1 19 1-12 1 21 1 2 1 25 1 1 1 8 1 13 1 8 1 0 1 16 1-10 1-21 1 28 1-14 1 8 1 16 1-11 1 5 1 11 1 2 1-4 1 6"/><path id="L49" vector-effect="non-scaling-stroke" transform="translate(42.5 0) scale(1.402 0.25)" d="M0 823l1 0 1-32 1 15 1 7 1-44 1 4 1-30 1-15 1-41 1-93 1-31 1-39 1-85 1-34 1-43 1-50 1-10 1-15 1 7 1 0 1 28 1-7 1-19 1 17 1 35 1-21 1-31 1 30 1-32 1 1 1 27 1-74 1 0 1-2 1 6 1-23 1-24 1 4 1-47 1-3 1 4 1 10 1 12 1 13 1 5 1-12 1 53 1 20 1-5 1 2 1 22 1 56 1-44 1 54 1-16 1 50 1 27 1 47 1 0 1 29 1 12 1 25 1 32 1 45 1-1 1 60 1 26 1-3 1-31 1 23 1-9 1 21 1-25 1 5 1 30 1-12 1 15 1-1 1-29 1 46 1-35 1-12 1 7 1 11 1 7 1-5 1 30 1 5 1-1 1-52 1 44 1-16 1-19 1-2 1-1 1-21 1 9 1 36 1-18 1-14 1-17 1 4 1 18 1-51 1 25 1 24 1 14 1-1 1 5 1-7 1 39 1-51 1 66 1-37 1 3 1-25 1 26 1-3 1-29 1 36 1-13 1 33 1-22 1-4 1-3 1 15 1-38 1 22 1-26 1-7 1 14 1-46 1-10 1-17 1-8 1-18 1-58 1-36 1-36 1-33 1-45 1-49 1 16 1-80 1-63 1-3 1-49 1-4 1-43 1 40 1-8 1-36 1 52 1-23 1 36 1 20 1 4 1 21 1-10 1 20 1 9 1 21 1-41 1 85 1-43 1 24 1-6 1 12 1 33 1 34 1-17 1 76 1-48 1 57 1 19 1 15 1-3 1-22 1 48 1 0 1 2 1 25 1-25 1 2 1 39 1 30 1 15 1 33 1 21 1-18 1 43 1-15 1 32 1 45 1-19 1 7 1 24 1-43 1-9"/><path id="L50" vector-effect="non-scaling-stroke" transform="translate(42.5 0) scale(1.402 0.25)" d="M0 821l1-20 1 22 1-9 1-17 1-8 1 7 1 8 1-23 1-36 1 4 1-22 1-13 1-24 1-21 1-8 1-53 1 4 1-49 1 38 1-39 1-21 1 8 1-28 1 11 1-34 1-18 1-13 1 9 1-2 1 29 1-15 1 7 1 18 1-3 1 15 1 1 1 22 1-15 1 3 1 12 1-10 1 24 1-17 1 1 1-11 1 6 1-16 1 1 1 14 1 5 1-17 1 22 1 27 1 22 1 4 1 21 1 2 1 26 1 5 1 26 1 3 1 0 1 10 1 41 1-7 1 6 1-8 1 0 1 1 1 18 1-9 1-11 1 19 1-16 1 2 1-5 1 3 1 27 1 4 1-30 1-5 1-8 1-9 1-13 1 46 1 10 1-5 1 2 1 15 1 2 1 12 1-7 1-22 1-6 1 7 1-17 1-4 1-13 1 18 1 11 1-8 1-19 1 5 1-1 1 1 1 6 1 12 1 5 1-25 1 31 1-25 1 9 1 3 1-1 1 5 1 15 1-8 1 8 1 4 1-21 1 5 1 2 1-20 1-6 1 14 1 5 1 0 1 1 1-11 1 18 1-4 1-58 1 3 1 13 1-6 1-6 1-21 1-14 1-4 1-43 1 3 1-40 1-23 1 18 1-54 1 7 1-27 1 1 1-24 1-21 1 28 1-22 1-12 1 26 1-28 1-22 1 4 1 2 1-31 1-9 1 29 1-15 1-10 1-17 1 8 1-28 1 4 1 32 1 14 1 38 1 23 1 33 1 24 1 22 1 9 1-2 1 20 1 44 1-4 1 19 1 28 1 10 1-2 1 23 1-4 1-13 1 2 1 20 1 8 1 14 1-12 1 37 1 9 1-3 1 2 1 27 1-6 1 20 1-7"/><path id="L51" vector-effect="non-scaling-stroke" transform="translate(42.5 0) scale(1.402 0.25)" d="M0 802l1 9 1-1 1 3 1-14 1 18 1 6 1-4 1 0 1 4 1 0 1-6 1-13 1-8 1-8 1-32 1-29 1-27 1-6 1-16 1-32 1 1 1-12 1-8 1 7 1 5 1-8 1 6 1-6 1 5 1 12 1-20 1 19 1-7 1 1 1 25 1 9 1-19 1 10 1-1 1-24 1 28 1-7 1-12 1 20 1 12 1 1 1 0 1 0 1 21 1-18 1 1 1-19 1 19 1-10 1-2 1 3 1 7 1-17 1-8 1 23 1-4 1 26 1 13 1-14 1 26 1 18 1 8 1-1 1 10 1-9 1 16 1-9 1 2 1 2 1-3 1 14 1-1 1 12 1-7 1 9 1 9 1-35 1 2 1 2 1-8 1 2 1-7 1 6 1 3 1 4 1-16 1-6 1 5 1 10 1-3 1 5 1-16 1 4 1 1 1-4 1-17 1 17 1-45 1 18 1-8 1 8 1 7 1 9 1-3 1 5 1 19 1-5 1 14 1 0 1 4 1-20 1 14 1 11 1-16 1-1 1-5 1 17 1 5 1-24 1 20 1-4 1 6 1-2 1 8 1-17 1 8 1-7 1-6 1 11 1 7 1 4 1 2 1-21 1 9 1-11 1-18 1 12 1-23 1 5 1-43 1 20 1-19 1-21 1-28 1-14 1-10 1 2 1-3 1-8 1-19 1 5 1-8 1 10 1-13 1-7 1 14 1-32 1-20 1 17 1-9 1 14 1 17 1-21 1 21 1 5 1-1 1 20 1 1 1 17 1 28 1 15 1 25 1 16 1-10 1 9 1 2 1 0 1 18 1 9 1 1 1 33 1 5 1-2 1 3 1 18 1-23 1 22 1-6 1-1 1-2 1 15 1 16 1 0 1 9"/><path id="L52" vector-effect="non-scaling-stroke" transform="translate(42.5 0) scale(1.402 0.25)" d="M0 785l1 22 1-9 1-20 1 18 1 8 1 5 1 13 1 1 1-10 1-1 1-26 1-37 1-68 1 17 1-43 1-51 1-53 1-39 1-31 1-27 1 11 1-40 1-16 1 8 1-21 1-34 1 2 1-18 1 26 1-20 1 11 1 40 1-6 1 16 1 27 1-20 1 3 1 13 1 8 1-20 1 7 1-11 1-1 1-8 1 19 1 1 1 24 1-12 1 14 1-1 1-25 1 54 1 3 1-9 1 9 1-18 1-14 1-6 1-5 1 11 1 25 1-3 1 56 1-7 1 23 1 52 1 6 1 30 1 51 1-7 1 26 1-19 1-3 1 21 1-9 1 35 1 4 1-8 1-9 1 8 1-4 1-12 1 0 1-9 1 1 1-26 1-3 1 10 1 16 1-3 1 22 1-18 1 41 1-29 1 15 1 10 1-38 1-15 1 33 1-20 1 7 1-21 1-19 1 57 1-32 1-11 1-11 1-7 1 9 1-2 1-8 1 39 1 2 1 3 1-10 1-2 1 19 1 4 1 6 1-1 1-1 1 20 1-44 1-15 1 1 1 5 1 11 1-9 1-20 1 18 1-8 1 22 1 13 1-2 1-31 1-14 1 16 1-35 1-10 1 7 1-53 1-8 1-2 1-12 1-62 1 44 1-44 1-51 1-17 1-55 1-38 1-35 1-32 1-37 1-22 1-30 1 34 1-32 1-21 1 7 1-40 1 18 1-4 1 35 1-23 1 9 1-12 1 35 1-14 1 47 1 8 1 24 1 29 1 42 1 2 1 32 1 5 1 40 1-6 1-6 1 48 1 18 1-5 1-15 1 23 1 66 1 8 1 29 1 24 1 27 1-10 1 23 1 35 1-25 1 23 1 14 1 0 1 14 1 46"/><path id="L53" vector-effect="non-scaling-stroke" transform="translate(42.5 0) scale(1.402 0.25)" d="M0 793l1 10 1 5 1 3 1 7 1 5 1-17 1 3 1 2 1-1 1-7 1-53 1 14 1-21 1-38 1-14 1-31 1-19 1-4 1-18 1-31 1-6 1-16 1 12 1 5 1-7 1-2 1 22 1-4 1-3 1 7 1-1 1-18 1 36 1-18 1-5 1 2 1 20 1 10 1 5 1-2 1 3 1-16 1-3 1-5 1 16 1-8 1 3 1 1 1-8 1 5 1-1 1 13 1 10 1-11 1 0 1-7 1-4 1-5 1 8 1-5 1-5 1 14 1 10 1 31 1 6 1 11 1 30 1 1 1-13 1 39 1-20 1 28 1-7 1 11 1 5 1-4 1-10 1 14 1-5 1-12 1-5 1-19 1-4 1 30 1-21 1-3 1 8 1 11 1-4 1 5 1 22 1 4 1-3 1 0 1 0 1-11 1 32 1-32 1-4 1-21 1 4 1 17 1 1 1-20 1-7 1-19 1 27 1 5 1-5 1 8 1 1 1-20 1 36 1 18 1-1 1 24 1-14 1-1 1 19 1-16 1 6 1-18 1-2 1 6 1-11 1 25 1-31 1 5 1-18 1 3 1 9 1 6 1-36 1 13 1 0 1-8 1 5 1-13 1-16 1-13 1-12 1-16 1-11 1-19 1 10 1-60 1-16 1 13 1-45 1-5 1-18 1-22 1 3 1-8 1-7 1 15 1-14 1-26 1 10 1-15 1-42 1-19 1 8 1-10 1-6 1-19 1 1 1 21 1 3 1 41 1 19 1 37 1 39 1 14 1 26 1 25 1-18 1 17 1 15 1 39 1-14 1 9 1 12 1 20 1 17 1-9 1 28 1 4 1 1 1 5 1 26 1-15 1 16 1 3 1 29 1 1 1 7 1 13 1-12"/><path id="L54" vector-effect="non-scaling-stroke" transform="translate(42.5 0) scale(1.402 0.25)" d="M0 823l1 0 1-2 1-5 1-26 1-8 1-56 1-5 1-64 1-34 1-77 1-35 1-58 1-1 1-72 1 6 1-22 1 4 1 25 1-12 1-8 1 4 1-35 1 19 1-9 1 10 1 24 1 9 1 24 1 9 1 14 1-2 1 2 1 20 1-16 1 2 1 7 1 5 1-14 1 30 1 34 1-17 1 22 1-62 1 26 1-31 1-34 1-14 1-6 1-17 1-19 1 13 1-36 1 11 1-23 1-24 1 20 1 26 1 12 1 46 1 37 1 38 1 14 1 80 1 10 1-25 1 52 1 39 1-24 1 16 1-29 1 20 1 17 1-15 1 17 1-4 1-18 1 25 1 15 1 0 1-6 1 30 1 6 1 21 1-2 1 44 1-3 1 27 1-12 1-14 1 14 1 9 1-18 1 10 1 15 1-23 1 0 1 8 1-20 1-2 1-6 1 11 1-28 1 4 1-39 1 2 1 23 1-19 1 1 1 30 1-24 1 10 1 8 1-2 1 27 1-21 1 0 1 10 1-2 1-2 1-1 1-32 1 0 1 19 1-11 1 16 1-26 1 27 1-4 1-34 1 19 1-34 1 12 1-12 1-31 1 29 1-72 1-17 1-25 1-30 1-10 1-20 1-28 1-10 1-68 1-6 1-9 1-20 1-12 1-13 1-39 1 9 1 1 1-17 1 8 1-10 1-16 1-43 1 33 1-55 1-6 1-11 1 42 1-4 1 37 1-5 1 45 1 12 1 49 1 7 1 16 1 12 1 41 1 15 1-6 1 58 1-28 1 22 1-4 1-8 1 65 1-3 1 22 1-12 1 27 1 31 1 17 1-8 1 31 1-16 1 26 1 22 1-2 1 29 1 19 1 23 1-39 1 20 1 9 1-22"/><path id="L55" vector-effect="non-scaling-stroke" transform="translate(42.5 0) scale(1.402 0.25)" d="M0 789l1-25 1 47 1-1 1-14 1-4 1-5 1-5 1-8 1-26 1-29 1-48 1-72 1-23 1-123 1-32 1-51 1-105 1-10 1 6 1-28 1 19 1 23 1-30 1 28 1 15 1 5 1 36 1-8 1 1 1-5 1 25 1-58 1 30 1 49 1-31 1 25 1-66 1 25 1-16 1-45 1-44 1-7 1-32 1-22 1 54 1-68 1 2 1 27 1-25 1-8 1 1 1-22 1-12 1 31 1-6 1-10 1-14 1 22 1 100 1 47 1 48 1 61 1 15 1 83 1 35 1 12 1 76 1 21 1 8 1 27 1-28 1 15 1 41 1 14 1 7 1-36 1 15 1-9 1 9 1 24 1-30 1-29 1 63 1-61 1 28 1 4 1-2 1-4 1 34 1-17 1-12 1-5 1 6 1 17 1-8 1 13 1-15 1 21 1-2 1-4 1 23 1 3 1-20 1 16 1-30 1 39 1-20 1 35 1-31 1 7 1-23 1-8 1 11 1-14 1-7 1-15 1 5 1-13 1 12 1 12 1 5 1-6 1-3 1-5 1 32 1-2 1 14 1 2 1-14 1-8 1-3 1-13 1 18 1-16 1-37 1-12 1-70 1-32 1-56 1-25 1-41 1-48 1-7 1-66 1-18 1-59 1 5 1-73 1-20 1-50 1-22 1-36 1-21 1-8 1 0 1 0 1 0 1 0 1 0 1 35 1-35 1 11 1-9 1 8 1-10 1 0 1 0 1 0 1 0 1 0 1 11 1-11 1 0 1 0 1 45 1 15 1 5 1 31 1 22 1 42 1 30 1 79 1 25 1 23 1 58 1 45 1 8 1 27 1-12 1 45 1 20 1-8 1 33 1 16 1 48 1 10 1 14 1 44 1-36"/><path id="L56" vector-effect="non-scaling-stroke" transform="translate(42.5 0) scale(1.402 0.25)" d="M0 823l1 0 1-26 1 9 1 14 1-9 1-12 1 9 1-17 1-68 1-14 1-28 1-76 1-49 1-41 1-54 1-45 1-72 1-5 1 2 1-60 1 19 1-31 1 13 1 23 1 10 1-21 1 38 1 31 1 18 1-15 1-6 1 41 1 29 1-19 1 18 1 28 1-4 1 12 1-19 1-2 1 20 1-19 1 27 1-13 1-17 1-46 1-12 1 16 1-54 1 25 1 30 1-36 1-12 1 6 1 14 1-4 1 2 1-6 1 34 1 66 1 19 1-5 1 39 1 60 1-14 1 70 1-6 1 28 1 10 1 21 1 6 1 19 1-17 1 23 1 45 1-18 1-30 1 4 1 22 1-46 1-30 1 11 1-3 1-59 1 21 1 17 1 7 1-6 1 15 1-7 1 27 1-5 1 8 1 18 1-4 1-20 1 11 1-48 1 21 1 1 1 2 1-48 1 39 1-7 1 13 1 21 1-10 1 34 1-19 1 7 1-22 1 32 1-16 1 16 1-45 1 8 1-12 1 14 1 11 1 7 1 9 1-6 1 8 1 2 1-28 1-12 1 21 1-15 1 7 1 3 1 3 1 26 1-53 1-16 1-24 1-34 1-58 1-3 1-53 1-16 1-27 1-75 1 17 1-69 1-58 1-18 1-59 1-51 1-62 1-42 1-21 1 0 1 0 1 0 1 0 1 0 1 0 1 0 1 0 1 0 1 0 1 0 1 0 1 0 1 14 1 27 1 6 1 32 1 19 1 40 1 10 1 14 1 13 1-7 1 14 1 6 1 30 1-10 1 39 1 59 1-5 1 26 1 64 1 34 1 12 1 52 1 28 1 38 1 62 1-10 1 66 1 10 1 12 1 38 1-28 1 51 1-12 1-6 1 5"/><path id="L57" vector-effect="non-scaling-stroke" transform="translate(42.5 0) scale(1.402 0.25)" d="M0 786l1-26 1 28 1 8 1 1 1-10 1 21 1 15 1-12 1 2 1-15 1-8 1-8 1-43 1 9 1-32 1-27 1-68 1-17 1-28 1-60 1-31 1 10 1-5 1 30 1-31 1 23 1-7 1 15 1-33 1 42 1-37 1-12 1 17 1-17 1 8 1 18 1 0 1-19 1-33 1 6 1-14 1-6 1 6 1-24 1 6 1 53 1-27 1-11 1 22 1-4 1 41 1-20 1 30 1-24 1-6 1 7 1 2 1-5 1-66 1 34 1 20 1-4 1 25 1 24 1 5 1-1 1 53 1-15 1 49 1 3 1 14 1-5 1 43 1 5 1 34 1-23 1 9 1 29 1-20 1 47 1-34 1 38 1-27 1-26 1 7 1 17 1-29 1 26 1-22 1 29 1-32 1-13 1 1 1 8 1 15 1-14 1-12 1 10 1-17 1 19 1-2 1-51 1 52 1 9 1-5 1 4 1 24 1-17 1-8 1 38 1-1 1 5 1-22 1 2 1-20 1 11 1-13 1 10 1 14 1 15 1 16 1-22 1 3 1-10 1-14 1 23 1-54 1 30 1-12 1-43 1 40 1-11 1-31 1 22 1 0 1 0 1-49 1 4 1-51 1-33 1-7 1-27 1 2 1-20 1-20 1-41 1-7 1-28 1-42 1-24 1-14 1-31 1-24 1-20 1 30 1-55 1 25 1-42 1-12 1 36 1-27 1-9 1 10 1-65 1 36 1-17 1-32 1 39 1-12 1-9 1 6 1 16 1 13 1 43 1-4 1-2 1 54 1 44 1 17 1 24 1 35 1 44 1-10 1 57 1 24 1 11 1 44 1 2 1-5 1 41 1 5 1 5 1 55 1 6 1-13 1 29 1 5 1 25 1 6"/><path id="L58" vector-effect="non-scaling-stroke" transform="translate(42.5 0) scale(1.402 0.25)" d="M0 823l1 0 1 0 1 0 1 0 1 0 1 0 1 0 1 0 1-33 1-5 1-42 1 4 1-60 1-80 1-49 1-15 1-54 1-18 1 15 1-27 1 12 1-13 1 11 1 9 1-20 1 1 1-7 1 16 1 3 1-12 1 13 1 2 1 2 1-4 1 43 1-4 1 22 1-20 1 20 1-27 1 48 1-20 1-12 1 40 1-7 1-2 1 4 1-8 1-14 1 8 1-1 1-8 1-39 1-13 1 42 1-38 1 3 1 8 1-6 1 16 1 26 1 49 1 9 1 57 1 7 1 35 1 12 1 21 1 12 1 51 1-48 1 20 1 10 1 6 1-1 1-2 1 24 1-1 1-34 1-28 1 24 1-10 1-18 1 15 1 15 1-18 1-16 1-4 1 19 1-11 1-34 1 29 1-31 1 3 1-13 1 29 1 9 1 5 1-20 1-4 1-11 1 11 1-2 1 33 1-8 1-6 1 39 1-7 1 7 1-1 1 4 1-1 1 13 1 28 1-45 1 17 1-47 1 20 1 10 1-34 1 34 1-7 1 8 1-24 1-7 1 3 1 13 1-33 1 15 1-36 1 23 1-10 1-14 1-39 1 7 1 18 1-29 1 2 1-50 1-14 1-25 1-3 1-16 1-64 1-17 1-18 1-22 1-30 1-41 1 6 1-43 1-30 1-14 1 5 1-42 1 33 1-36 1 28 1 17 1-8 1 27 1 29 1 18 1 21 1 37 1 8 1 79 1-32 1 3 1 23 1 24 1 5 1 3 1 28 1-23 1 10 1 35 1 19 1-4 1 1 1 31 1-14 1 0 1 19 1-19 1 51 1-12 1 3 1 17 1 32 1 16 1 15 1 13 1 33 1 5 1-2 1 15 1 13 1-16"/><path id="L59" vector-effect="non-scaling-stroke" transform="translate(42.5 0) scale(1.402 0.25)" d="M0 810l1 11 1 2 1 0 1 0 1-11 1-4 1-26 1-27 1-15 1-38 1-21 1-35 1-60 1-20 1-29 1-54 1 1 1-67 1 25 1-41 1-19 1 7 1 8 1 3 1 32 1-6 1 17 1 19 1 0 1 15 1-2 1-5 1 31 1 27 1 8 1-2 1-25 1 22 1 3 1 18 1-2 1 9 1 13 1-40 1 30 1-12 1 17 1-4 1 4 1 31 1-12 1 17 1-10 1-8 1 0 1 11 1 5 1 4 1 8 1 38 1-3 1 32 1 3 1 7 1 14 1 14 1-17 1 11 1 18 1-39 1 61 1-18 1 10 1 9 1 26 1 18 1-49 1 17 1-6 1-7 1-24 1-19 1 31 1 3 1-32 1 17 1-7 1 0 1 11 1 1 1 2 1-6 1 1 1-32 1 13 1 0 1-15 1 25 1-35 1 10 1 20 1-18 1 22 1-38 1 15 1 17 1-13 1 42 1-6 1 45 1-31 1-7 1 19 1 2 1-18 1-5 1-14 1 5 1-13 1 8 1 2 1 38 1-7 1 5 1-16 1 9 1 10 1 9 1-22 1 0 1-43 1 19 1 3 1-2 1-23 1-11 1-36 1 5 1-57 1-3 1-9 1 1 1-24 1-4 1-13 1-16 1 6 1 7 1-7 1 6 1-18 1-9 1-20 1-25 1-27 1-21 1-12 1-21 1-23 1-39 1-12 1 18 1-27 1 22 1 8 1-8 1 39 1 3 1 41 1 21 1 0 1 31 1 48 1-7 1 10 1 27 1 4 1 13 1-17 1 35 1-15 1 20 1-32 1 36 1 9 1-12 1 32 1 6 1 10 1-13 1 33 1 8 1 31 1 27 1 33 1 20 1-9 1 0 1 16"/><path id="Lx0" vector-effect="non-scaling-stroke" transform="translate(42.5 0) scale(1.402 0.25)" d="M0 821l1 0 1-8 1 8 1-17 1 8 1 6 1-23 1 0 1-25 1-27 1-22 1-43 1-42 1-28 1-66 1-11 1-21 1-31 1-21 1-39 1-25 1-8 1-8 1 21 1 16 1 24 1-12 1 22 1-14 1-17 1 20 1-4 1 18 1 0 1-2 1-11 1-6 1 0 1 10 1-9 1 22 1-10 1 15 1-14 1-6 1-15 1 11 1-1 1-23 1 9 1-22 1-24 1 17 1-20 1 35 1 1 1 42 1 15 1 12 1 12 1 38 1 4 1 25 1 40 1 33 1 34 1 35 1 25 1-6 1-2 1-18 1 1 1-22 1-11 1 17 1-3 1 14 1-36 1 37 1-18 1 13 1 10 1-29 1 11 1-12 1 6 1-26 1-25 1-40 1-16 1-51 1-11 1-41 1-37 1-63 1-28 1-37 1-46 1-4 1-64 1 20 1-27 1 16 1 10 1-10 1 52 1 53 1 33 1 49 1 52 1 38 1 26 1 34 1 26 1 29 1 31 1-7 1 26 1 43 1-25 1 16 1 9 1 3 1 20 1-5 1-5 1 12 1-17 1-11 1 3 1 6 1-34 1-7 1 12 1 21 1-11 1-9 1-23 1-46 1-18 1-35 1-10 1-26 1-35 1-8 1-15 1-27 1-48 1-16 1-19 1 4 1-36 1-1 1-47 1 29 1-37 1 9 1-9 1-12 1-14 1-1 1-3 1-12 1-4 1 23 1-1 1-27 1 32 1 10 1 3 1 0 1 29 1 37 1 16 1 13 1 1 1 36 1 1 1 25 1 56 1 5 1 24 1 30 1 13 1 20 1 18 1 18 1 18 1-3 1 40 1-15 1 13 1 35 1 1 1 15 1 14 1 41 1 13 1 11"/><path id="Lx1" vector-effect="non-scaling-stroke" transform="translate(42.5 0) scale(1.402 0.25)" d="M0 779l1 33 1 9 1 0 1 0 1 0 1 0 1 0 1 0 1-10 1-20 1-22 1-43 1-41 1-70 1-67 1-40 1-43 1-8 1-32 1-24 1 20 1 14 1-17 1-3 1-41 1-8 1 39 1 37 1 9 1 24 1-12 1 3 1 7 1-10 1-36 1 9 1-12 1 9 1 20 1-11 1-8 1 1 1 16 1-13 1 9 1 7 1-33 1 1 1-18 1 4 1 0 1 4 1 15 1-19 1 8 1 30 1-5 1 8 1 5 1 20 1 44 1 33 1 14 1 28 1 14 1 42 1 33 1 14 1 28 1 2 1-19 1 1 1-13 1 11 1-10 1-14 1-5 1 13 1 15 1 6 1 15 1-9 1 13 1 10 1-5 1-35 1 28 1-15 1-2 1-24 1 3 1-2 1-31 1 5 1 12 1-9 1 0 1 1 1-6 1-6 1-14 1-28 1-39 1-67 1-79 1-57 1-50 1-1 1-31 1-9 1 52 1-8 1 19 1 55 1 18 1 63 1 42 1 63 1 26 1 36 1 26 1 18 1 1 1 14 1-26 1 5 1 10 1 12 1 7 1 18 1-26 1-12 1-8 1 8 1-17 1-4 1-5 1-45 1-9 1-35 1-26 1-58 1 2 1-54 1 7 1-27 1-10 1-23 1-31 1-34 1-43 1-8 1-21 1-19 1 20 1-32 1-36 1 5 1 5 1-14 1 22 1-8 1-24 1 10 1 7 1 13 1 23 1 3 1 9 1-3 1 56 1 7 1 43 1 16 1-16 1 23 1 8 1 21 1 6 1 19 1 6 1 17 1 3 1 55 1 20 1 31 1 34 1 1 1 33 1 10 1 24 1-1 1 33 1 14 1 39 1 7 1-23 1 30 1 4"/><path id="Lx2" vector-effect="non-scaling-stroke" transform="translate(42.5 0) scale(1.402 0.25)" d="M0 780l1 21 1 10 1-4 1 14 1 0 1 0 1 0 1 0 1-43 1-20 1-52 1-61 1-53 1-64 1-9 1-46 1-12 1 10 1-30 1-5 1-16 1-32 1 26 1-25 1-3 1 14 1 7 1 11 1-3 1-5 1 17 1 24 1 5 1-12 1 4 1-6 1 4 1-5 1-4 1 2 1-3 1 6 1 19 1-1 1-7 1-7 1 1 1-15 1-19 1-5 1 5 1 24 1-22 1 14 1-13 1 3 1-1 1 4 1 54 1-10 1 58 1 13 1 43 1 6 1 23 1 41 1 6 1 30 1-15 1 7 1-17 1 27 1-11 1 18 1-6 1-32 1 9 1-9 1 2 1-27 1 12 1-3 1 7 1-26 1-24 1-40 1-4 1-26 1-2 1-17 1-16 1 43 1 11 1-13 1-16 1 50 1 2 1 55 1-6 1-3 1 1 1-2 1 9 1 5 1-6 1 20 1 6 1-4 1-3 1 1 1 24 1 27 1 21 1-9 1-19 1-37 1 16 1 21 1-4 1 27 1-14 1-9 1 7 1 16 1 12 1-17 1 30 1-19 1-38 1 11 1-20 1 0 1-10 1 14 1-5 1-4 1-29 1-16 1-51 1-46 1 8 1-21 1-27 1-25 1 6 1-52 1-15 1-26 1-64 1 10 1-27 1-15 1-9 1-11 1-26 1 1 1-7 1-4 1 7 1 12 1-7 1-5 1 11 1-6 1-25 1-4 1 1 1 22 1 31 1 4 1 24 1 2 1 54 1-13 1 18 1 7 1 8 1 20 1 47 1 39 1 4 1 8 1 24 1 27 1 19 1 21 1 19 1 16 1-3 1 29 1 40 1-5 1 1 1 22 1-13 1 10 1 7 1 59 1 18"/><path id="Lx3" vector-effect="non-scaling-stroke" transform="translate(42.5 0) scale(1.402 0.25)" d="M0 821l1-6 1 6 1 0 1-4 1 4 1-5 1 5 1-28 1-14 1-62 1-54 1-50 1-20 1-28 1-47 1-40 1-22 1-4 1-29 1 4 1 1 1-8 1 4 1 8 1 3 1 16 1-13 1 6 1-14 1 2 1-8 1-28 1 10 1 5 1 3 1 11 1 19 1-5 1 24 1 15 1 3 1-11 1 9 1-16 1 2 1-19 1-42 1-4 1-12 1 32 1 2 1 33 1 5 1-20 1-28 1 20 1 15 1 13 1-8 1 24 1 9 1 47 1 26 1 22 1 19 1 13 1 35 1-17 1 3 1 23 1-3 1 21 1 24 1-10 1 26 1 10 1-12 1-14 1 35 1-2 1-8 1-2 1-5 1 6 1-9 1-40 1 28 1 25 1-46 1 27 1 4 1-24 1-9 1-6 1-12 1-1 1-26 1-15 1 0 1-31 1-8 1 9 1 1 1-10 1-6 1-26 1-4 1 5 1-18 1 20 1 26 1-13 1-3 1 35 1 10 1 31 1-12 1 48 1-3 1 20 1-39 1 22 1-8 1 16 1-1 1 19 1-33 1-2 1 3 1-7 1-1 1-5 1 4 1 11 1-1 1-29 1 0 1-30 1-2 1-48 1-17 1-47 1-21 1 6 1-24 1-13 1-44 1-28 1-17 1-12 1-30 1-17 1-32 1-16 1 1 1-6 1-31 1 1 1-4 1 24 1-21 1-9 1-7 1-10 1 19 1-25 1 43 1-5 1 13 1 29 1 23 1 4 1 4 1 29 1 28 1-14 1 10 1 23 1 17 1 33 1 39 1 29 1 20 1 24 1 6 1 27 1-1 1 0 1-7 1 20 1 0 1 58 1-10 1 69 1-20 1 22 1-6 1 37 1 12"/><path id="Lx4" vector-effect="non-scaling-stroke" transform="translate(42.5 0) scale(1.402 0.25)" d="M0 819l1 2 1 0 1-26 1 19 1-4 1-23 1 2 1-16 1-8 1-23 1-32 1-29 1-61 1-48 1-40 1-58 1-36 1-8 1-6 1-19 1-3 1 3 1-2 1 13 1-6 1-1 1 10 1 7 1 21 1-6 1 7 1-5 1 1 1 11 1-2 1-1 1 2 1-15 1 0 1-13 1 2 1 2 1 14 1-7 1-8 1 1 1-10 1-14 1 22 1-25 1-12 1 15 1-17 1 29 1 11 1-2 1 10 1 5 1 47 1 16 1 23 1 6 1 35 1-5 1 39 1 32 1 13 1 6 1 19 1-8 1 7 1 3 1 16 1-1 1 2 1-27 1-15 1-26 1-23 1-10 1 4 1 17 1-14 1-11 1-9 1 3 1-3 1 47 1-12 1 0 1 19 1 12 1-5 1-23 1 27 1 4 1 8 1 29 1-12 1 14 1 18 1-11 1-14 1 7 1-11 1 9 1 0 1 7 1 23 1-1 1-14 1 13 1 2 1-14 1-19 1 33 1-18 1 38 1-2 1-15 1 17 1-23 1-22 1 15 1 7 1-6 1-22 1-3 1 5 1-3 1-1 1 10 1 1 1-46 1-9 1-21 1 4 1 1 1 15 1-50 1-29 1-41 1-27 1-29 1-39 1-36 1 3 1-25 1-17 1-20 1-15 1-31 1-8 1-57 1-23 1 11 1-19 1-7 1 6 1-3 1 37 1 1 1-14 1 0 1-10 1-1 1 3 1 10 1 25 1 23 1 30 1 34 1 14 1-5 1 16 1-2 1 28 1-14 1 39 1 11 1 18 1 20 1 54 1 17 1-9 1 30 1 33 1 2 1 35 1 0 1 19 1 7 1 23 1 25 1 27 1 17 1 40 1-6 1-8"/></defs>
<clipPath id="bandL"><path d="M42.5 201.3l.9 2.7 1 .2.9-1.6.9 3.5 1-.5.9-.2.9.5 1 .1.9-3.1.9-.5 1-.7.9.3.9-3.1 1-2.1 1.8-9.1 1-6.6 1.8-20.7 1-7.2.9-11.2 1.9-13.4.9-8.1.9-7 1-4.7.9-6.2.9-3.4 1-4.1.9-2.1.9-1.9 1-.6.9-1.2.9-.1 1-.4.9.1.9 1.5 1-3.7.9 4 .9-1.6 1-1 .9 1.9.9 1 1 1.8.9-2.2.9 2.2 1 .8.9-1.2.9 2 1 3.6 1.8 2.7 1.9-.5.9-.4 1 1.1.9-3 .9.6 1 .2.9-3 .9 3.4 1-3.2.9.4.9 2.3 1-4.7.9-.4.9 1.8 1-4.5 1.8-.9 1.9-4 .9-2.4 1-.6 1.8-4 .9-3.3 1-1.5.9-2.9.9 2.2 1-4.1.9 3 .9 1.2 1-3.4.9 1.3.9 1.6 1 3.4.9-.4 1.9 7.7.9 6 .9 8.2 1 3 2.8 19.7.9 3.1.9 8.5 1 3.9.9 5.1.9 3.1 1 1.1 1.8 7.2 1 .3.9 1.1.9 3.5 1 1.4.9-2.2.9 3.2 1-4.6.9.6.9 4.6 1-.8.9 1.7.9.5 1-.3.9 1.4.9-.3 1-1.9.9 2.5.9.2 1 2.1.9-3.9.9 1.4 1-.6.9.3.9 2.3 1-1.9.9-1.3 1.9 1.2.9-2.5.9.8 1 2.2.9-1.1.9-1.5 1-.8.9.2.9-2 1 3 .9-1 .9-.6 1-2.2.9.5.9 1.3 1-.6.9-1.4.9 1 1 .1.9-2.6.9-.3 1.9-1.7.9 2.2 1-.6.9-.5.9-2.1 1 .2.9 1.4.9-.3 1 .8.9-.9 1.9 3.9.9 0 .9.6 1-1 .9 2.4.9-.2 1 3.1.9-.4.9.8 1 .3.9 2 .9-.4 1 0 .9-1.6.9 1.8 1-2 .9 4 .9-2 1 .4.9-.4.9-1.9 1 .3 1.8 3.9 1-3.6.9.2.9.4 1-2.6.9-.7.9 1.1 1-.3.9-1.3.9 1.7 1-3.2.9-.6.9-.2 1-2.3.9-7.2 1.9-2.9.9-7 .9-3.1 2.8-14.1 1.9-8 .9-5.5 1.9-17.9.9-4.3 1-6.9.9-5.3.9-6.7 1-8.2.9-2.9.9-8.6 1.9-6.1.9-4 .9-2.3 1-8.7.9.3.9-2.5 1-4.1.9-1.5.9-4.7 1 .4.9-1.6.9-3.2 1-.8.9-.3.9-1.2 1 2 .9-1.1.9 1.5 1-.2.9-1.5.9-.4 1-1 .9.2.9 0 1 1.5.9-1.6.9 1.3 1 .1.9-.9.9.5 1 2.2.9.2.9-2.3 1 4 .9 4.5.9 5.6 1 7.5.9 3.1 1.9 9.1.9.8 1.9 8.2.9 5 .9 2.3 1.9 9.1.9 3.7 1 2.7.9 2.1.9 2.7 1 7.3.9 2.8.9 1.9 1.9 8 .9 2.1 1 6.3.9 2.4.9 4.4 1 5.1.9 2.7.9 4.6 2.8 10.5 1 6 .9.7.9 5.5 1-.2.9 5.3 1.9 4.7.9 1.4.9 9.9 1 1.9.9 6.5 0 24.4-.9 3.7-1.9-2-1.9.9-.9-1.3-.9 1.3-1-1.1-.9-1.5-.9-.3-1-.5-.9.4-.9-2.2-1-.3-.9-1.4-.9 1.7-1-2-.9 1.1-.9-3-1-.6-.9-.2-.9-1.4-1-1.2-.9.1-.9-.5-1-2.5-.9-3.4-.9 1.2-1 .8-.9-3.2-.9-1.8-1 .8-.9-.6-.9-1.4-1.9-2.2-.9-1.5-1-.7-.9.1-.9-2.9-1 .9-.9-2.4-.9-.8-1-1.7-.9.2-.9-.4-1.9-1.2-.9.9-1-2.6-1.8-.1-1 .9-.9-2.5-.9 1.2-1 .3-.9-2.9-1.9 5.1-.9 0-1.9 4.6-.9.4-.9 2.3-1-1.7-.9.1-.9 1-1-1.1-.9-.6-.9 1.2-1-1.5-.9 1.3-.9 0-1 1.3-.9 1.5-.9-1.3-.9 2.1-1-.8-.9 2.7-.9.4-1.9 3-.9-.5-1-.2-.9 0-.9 2.4-1 1.5-.9 1.2-.9.6-1-1.7-.9 3-.9-.4-1-1.1-.9.9-.9 3.7-1-.6-.9 3-.9.3-1 2.5-.9-.6-.9 1.8-1 2.2-.9-.3-.9.4-1.9.1-1.9-1.3-.9 1.8-.9.8-1-1.1-.9 2-.9-.4-1.9-1.6-.9 1.2-1 .8-.9-.7-.9-1-1.9-.4-.9 1-1 .4-.9-1.3-1.9 1.5-.9-1-.9.5-1-2.2-.9 1.9-.9-1.3-1 .1-.9 1.2-.9.3-1-2.1-.9-.9-.9 2.5-1-2.8-.9 2.7-.9.7-1-1.8-.9 1.5-.9.5-1-.4-.9-1.2-.9.6-1 0-.9.8-.9-1.7-1.9 1.9-.9 1.4-1.9-1.4-.9.6-1 0-.9-3.3-.9 2.9-1 .5-.9-.3-.9-1.6-1-.4-.9 2.8-.9-1.9-1 .1-.9 1.3-.9-1.6-1-1.2-.9-.6-.9 1.7-1-1-.9-.8-.9 1-1 .8-.9-.9-1.9.8-.9 1.5-.9.1-1-2.6-.9.1-.9 2.3-1-2.1-.9.8-.9 1.2-1 .9-.9.1-.9-1.8-1 2-.9-1.9-.9 2.6-1-3-.9-.5-.9.3-1 .1-.9-.1-.9-.3-1-1.5-.9-.5-.9 1.1-1-1.1-.9-1.5-.9 1.3-1-2.7-.9.2-.9-.7-1-2.5-.9-1.7-.9-.3-1-.5-.9-2.1-.9-.9-1-3.5-.9-.2-.9 1.5-1-2.5-.9-1.3-.9-2.2-1-.3-.9 0-.9-.5-1-.2-.9-.8-.9 1.5-.9-.7-1-3.5-.9 2.4-2.8-3.7-.9-.6-1 1.7-.9-2.9-.9 1.2-1-.1-.9-.4-.9-1.2-1 0-.9 0-.9-1.5-1-.3-.9-1.2-.9.4-1-.6-1.8 1.3-1-3.4-.9 1.6-.9-.8-1-.1-.9-3.7-.9 4.9-1-2.5-.9-.7-.9 0-1 .3-.9.6-.9-1.8-1-.9-.9-.5-.9.4-1-.9-.9-.4-.9 1.3-1 .4-.9.9-.9 1.8-1.9 2.2-.9 2-1 1.2-2.8 9.9-.9 5.1-.9 6.8-1 5.4-.9 2.1-1.9 3.6-.9-1.3-.9.5-1 1.1-.9-.3-.9.3-1-1.3-.9 1.3-.9 0-1-.7-.9.7-6.5 0-1-.5-.9.5z"/></clipPath>
<g clip-path="url(#clipAL)">
<g fill="none" stroke="#c2c2c2" stroke-width="0.6"><use href="#L0"/><use href="#L1"/><use href="#L2"/><use href="#L3"/><use href="#L4"/><use href="#L5"/><use href="#L6"/><use href="#L7"/><use href="#L8"/><use href="#L9"/><use href="#L10"/><use href="#L11"/><use href="#L12"/><use href="#L13"/><use href="#L14"/><use href="#L15"/><use href="#L16"/><use href="#L17"/><use href="#L18"/><use href="#L19"/><use href="#L20"/><use href="#L21"/><use href="#L22"/><use href="#L23"/><use href="#L24"/><use href="#L25"/><use href="#L26"/><use href="#L27"/><use href="#L28"/><use href="#L29"/><use href="#L30"/><use href="#L31"/><use href="#L32"/><use href="#L33"/><use href="#L34"/><use href="#L35"/><use href="#L36"/><use href="#L37"/><use href="#L38"/><use href="#L39"/><use href="#L40"/><use href="#L41"/><use href="#L42"/><use href="#L43"/><use href="#L44"/><use href="#L45"/><use href="#L46"/><use href="#L47"/><use href="#L48"/><use href="#L49"/><use href="#L50"/><use href="#L51"/><use href="#L52"/><use href="#L53"/><use href="#L54"/><use href="#L55"/><use href="#L56"/><use href="#L57"/><use href="#L58"/><use href="#L59"/><use href="#Lx0"/><use href="#Lx1"/><use href="#Lx2"/><use href="#Lx3"/><use href="#Lx4"/></g>
<path d="M42.5 201.3l.9 2.7 1 .2.9-1.6.9 3.5 1-.5.9-.2.9.5 1 .1.9-3.1.9-.5 1-.7.9.3.9-3.1 1-2.1 1.8-9.1 1-6.6 1.8-20.7 1-7.2.9-11.2 1.9-13.4.9-8.1.9-7 1-4.7.9-6.2.9-3.4 1-4.1.9-2.1.9-1.9 1-.6.9-1.2.9-.1 1-.4.9.1.9 1.5 1-3.7.9 4 .9-1.6 1-1 .9 1.9.9 1 1 1.8.9-2.2.9 2.2 1 .8.9-1.2.9 2 1 3.6 1.8 2.7 1.9-.5.9-.4 1 1.1.9-3 .9.6 1 .2.9-3 .9 3.4 1-3.2.9.4.9 2.3 1-4.7.9-.4.9 1.8 1-4.5 1.8-.9 1.9-4 .9-2.4 1-.6 1.8-4 .9-3.3 1-1.5.9-2.9.9 2.2 1-4.1.9 3 .9 1.2 1-3.4.9 1.3.9 1.6 1 3.4.9-.4 1.9 7.7.9 6 .9 8.2 1 3 2.8 19.7.9 3.1.9 8.5 1 3.9.9 5.1.9 3.1 1 1.1 1.8 7.2 1 .3.9 1.1.9 3.5 1 1.4.9-2.2.9 3.2 1-4.6.9.6.9 4.6 1-.8.9 1.7.9.5 1-.3.9 1.4.9-.3 1-1.9.9 2.5.9.2 1 2.1.9-3.9.9 1.4 1-.6.9.3.9 2.3 1-1.9.9-1.3 1.9 1.2.9-2.5.9.8 1 2.2.9-1.1.9-1.5 1-.8.9.2.9-2 1 3 .9-1 .9-.6 1-2.2.9.5.9 1.3 1-.6.9-1.4.9 1 1 .1.9-2.6.9-.3 1.9-1.7.9 2.2 1-.6.9-.5.9-2.1 1 .2.9 1.4.9-.3 1 .8.9-.9 1.9 3.9.9 0 .9.6 1-1 .9 2.4.9-.2 1 3.1.9-.4.9.8 1 .3.9 2 .9-.4 1 0 .9-1.6.9 1.8 1-2 .9 4 .9-2 1 .4.9-.4.9-1.9 1 .3 1.8 3.9 1-3.6.9.2.9.4 1-2.6.9-.7.9 1.1 1-.3.9-1.3.9 1.7 1-3.2.9-.6.9-.2 1-2.3.9-7.2 1.9-2.9.9-7 .9-3.1 2.8-14.1 1.9-8 .9-5.5 1.9-17.9.9-4.3 1-6.9.9-5.3.9-6.7 1-8.2.9-2.9.9-8.6 1.9-6.1.9-4 .9-2.3 1-8.7.9.3.9-2.5 1-4.1.9-1.5.9-4.7 1 .4.9-1.6.9-3.2 1-.8.9-.3.9-1.2 1 2 .9-1.1.9 1.5 1-.2.9-1.5.9-.4 1-1 .9.2.9 0 1 1.5.9-1.6.9 1.3 1 .1.9-.9.9.5 1 2.2.9.2.9-2.3 1 4 .9 4.5.9 5.6 1 7.5.9 3.1 1.9 9.1.9.8 1.9 8.2.9 5 .9 2.3 1.9 9.1.9 3.7 1 2.7.9 2.1.9 2.7 1 7.3.9 2.8.9 1.9 1.9 8 .9 2.1 1 6.3.9 2.4.9 4.4 1 5.1.9 2.7.9 4.6 2.8 10.5 1 6 .9.7.9 5.5 1-.2.9 5.3 1.9 4.7.9 1.4.9 9.9 1 1.9.9 6.5 0 24.4-.9 3.7-1.9-2-1.9.9-.9-1.3-.9 1.3-1-1.1-.9-1.5-.9-.3-1-.5-.9.4-.9-2.2-1-.3-.9-1.4-.9 1.7-1-2-.9 1.1-.9-3-1-.6-.9-.2-.9-1.4-1-1.2-.9.1-.9-.5-1-2.5-.9-3.4-.9 1.2-1 .8-.9-3.2-.9-1.8-1 .8-.9-.6-.9-1.4-1.9-2.2-.9-1.5-1-.7-.9.1-.9-2.9-1 .9-.9-2.4-.9-.8-1-1.7-.9.2-.9-.4-1.9-1.2-.9.9-1-2.6-1.8-.1-1 .9-.9-2.5-.9 1.2-1 .3-.9-2.9-1.9 5.1-.9 0-1.9 4.6-.9.4-.9 2.3-1-1.7-.9.1-.9 1-1-1.1-.9-.6-.9 1.2-1-1.5-.9 1.3-.9 0-1 1.3-.9 1.5-.9-1.3-.9 2.1-1-.8-.9 2.7-.9.4-1.9 3-.9-.5-1-.2-.9 0-.9 2.4-1 1.5-.9 1.2-.9.6-1-1.7-.9 3-.9-.4-1-1.1-.9.9-.9 3.7-1-.6-.9 3-.9.3-1 2.5-.9-.6-.9 1.8-1 2.2-.9-.3-.9.4-1.9.1-1.9-1.3-.9 1.8-.9.8-1-1.1-.9 2-.9-.4-1.9-1.6-.9 1.2-1 .8-.9-.7-.9-1-1.9-.4-.9 1-1 .4-.9-1.3-1.9 1.5-.9-1-.9.5-1-2.2-.9 1.9-.9-1.3-1 .1-.9 1.2-.9.3-1-2.1-.9-.9-.9 2.5-1-2.8-.9 2.7-.9.7-1-1.8-.9 1.5-.9.5-1-.4-.9-1.2-.9.6-1 0-.9.8-.9-1.7-1.9 1.9-.9 1.4-1.9-1.4-.9.6-1 0-.9-3.3-.9 2.9-1 .5-.9-.3-.9-1.6-1-.4-.9 2.8-.9-1.9-1 .1-.9 1.3-.9-1.6-1-1.2-.9-.6-.9 1.7-1-1-.9-.8-.9 1-1 .8-.9-.9-1.9.8-.9 1.5-.9.1-1-2.6-.9.1-.9 2.3-1-2.1-.9.8-.9 1.2-1 .9-.9.1-.9-1.8-1 2-.9-1.9-.9 2.6-1-3-.9-.5-.9.3-1 .1-.9-.1-.9-.3-1-1.5-.9-.5-.9 1.1-1-1.1-.9-1.5-.9 1.3-1-2.7-.9.2-.9-.7-1-2.5-.9-1.7-.9-.3-1-.5-.9-2.1-.9-.9-1-3.5-.9-.2-.9 1.5-1-2.5-.9-1.3-.9-2.2-1-.3-.9 0-.9-.5-1-.2-.9-.8-.9 1.5-.9-.7-1-3.5-.9 2.4-2.8-3.7-.9-.6-1 1.7-.9-2.9-.9 1.2-1-.1-.9-.4-.9-1.2-1 0-.9 0-.9-1.5-1-.3-.9-1.2-.9.4-1-.6-1.8 1.3-1-3.4-.9 1.6-.9-.8-1-.1-.9-3.7-.9 4.9-1-2.5-.9-.7-.9 0-1 .3-.9.6-.9-1.8-1-.9-.9-.5-.9.4-1-.9-.9-.4-.9 1.3-1 .4-.9.9-.9 1.8-1.9 2.2-.9 2-1 1.2-2.8 9.9-.9 5.1-.9 6.8-1 5.4-.9 2.1-1.9 3.6-.9-1.3-.9.5-1 1.1-.9-.3-.9.3-1-1.3-.9 1.3-.9 0-1-.7-.9.7-6.5 0-1-.5-.9.5z" fill="#c3e2cf"/>
<g clip-path="url(#bandL)"><g fill="none" stroke="#a2bcad" stroke-width="0.6"><use href="#L0"/><use href="#L2"/><use href="#L4"/><use href="#L6"/><use href="#L8"/><use href="#L10"/><use href="#L12"/><use href="#L14"/><use href="#L16"/><use href="#L18"/><use href="#L20"/><use href="#L22"/><use href="#L24"/><use href="#L26"/><use href="#L28"/><use href="#L30"/><use href="#L32"/><use href="#L34"/><use href="#L36"/><use href="#L38"/><use href="#L40"/><use href="#L42"/><use href="#L44"/><use href="#L46"/><use href="#L48"/><use href="#L50"/><use href="#L52"/><use href="#L54"/><use href="#L56"/><use href="#L58"/><use href="#Lx0"/><use href="#Lx2"/><use href="#Lx4"/></g>
<g fill="none" stroke="#f2fff7" stroke-width="0.5"><use href="#L1"/><use href="#L3"/><use href="#L5"/><use href="#L7"/><use href="#L9"/><use href="#L11"/><use href="#L13"/><use href="#L15"/><use href="#L17"/><use href="#L19"/><use href="#L21"/><use href="#L23"/><use href="#L25"/><use href="#L27"/><use href="#L29"/><use href="#L31"/><use href="#L33"/><use href="#L35"/><use href="#L37"/><use href="#L39"/><use href="#L41"/><use href="#L43"/><use href="#L45"/><use href="#L47"/><use href="#L49"/><use href="#L51"/><use href="#L53"/><use href="#L55"/><use href="#L57"/><use href="#L59"/><use href="#Lx1"/><use href="#Lx3"/></g></g>
<path fill="none" stroke="#2f6040" stroke-width="0.85" d="M42.5 201.3l.9 2.7 1 .2.9-1.6.9 3.5 1-.5.9-.2.9.5 1 .1.9-3.1.9-.5 1-.7.9.3.9-3.1 1-2.1 1.8-9.1 1-6.6 1.8-20.7 1-7.2.9-11.2 1.9-13.4.9-8.1.9-7 1-4.7.9-6.2.9-3.4 1-4.1.9-2.1.9-1.9 1-.6.9-1.2.9-.1 1-.4.9.1.9 1.5 1-3.7.9 4 .9-1.6 1-1 .9 1.9.9 1 1 1.8.9-2.2.9 2.2 1 .8.9-1.2.9 2 1 3.6 1.8 2.7 1.9-.5.9-.4 1 1.1.9-3 .9.6 1 .2.9-3 .9 3.4 1-3.2.9.4.9 2.3 1-4.7.9-.4.9 1.8 1-4.5 1.8-.9 1.9-4 .9-2.4 1-.6 1.8-4 .9-3.3 1-1.5.9-2.9.9 2.2 1-4.1.9 3 .9 1.2 1-3.4.9 1.3.9 1.6 1 3.4.9-.4 1.9 7.7.9 6 .9 8.2 1 3 2.8 19.7.9 3.1.9 8.5 1 3.9.9 5.1.9 3.1 1 1.1 1.8 7.2 1 .3.9 1.1.9 3.5 1 1.4.9-2.2.9 3.2 1-4.6.9.6.9 4.6 1-.8.9 1.7.9.5 1-.3.9 1.4.9-.3 1-1.9.9 2.5.9.2 1 2.1.9-3.9.9 1.4 1-.6.9.3.9 2.3 1-1.9.9-1.3 1.9 1.2.9-2.5.9.8 1 2.2.9-1.1.9-1.5 1-.8.9.2.9-2 1 3 .9-1 .9-.6 1-2.2.9.5.9 1.3 1-.6.9-1.4.9 1 1 .1.9-2.6.9-.3 1.9-1.7.9 2.2 1-.6.9-.5.9-2.1 1 .2.9 1.4.9-.3 1 .8.9-.9 1.9 3.9.9 0 .9.6 1-1 .9 2.4.9-.2 1 3.1.9-.4.9.8 1 .3.9 2 .9-.4 1 0 .9-1.6.9 1.8 1-2 .9 4 .9-2 1 .4.9-.4.9-1.9 1 .3 1.8 3.9 1-3.6.9.2.9.4 1-2.6.9-.7.9 1.1 1-.3.9-1.3.9 1.7 1-3.2.9-.6.9-.2 1-2.3.9-7.2 1.9-2.9.9-7 .9-3.1 2.8-14.1 1.9-8 .9-5.5 1.9-17.9.9-4.3 1-6.9.9-5.3.9-6.7 1-8.2.9-2.9.9-8.6 1.9-6.1.9-4 .9-2.3 1-8.7.9.3.9-2.5 1-4.1.9-1.5.9-4.7 1 .4.9-1.6.9-3.2 1-.8.9-.3.9-1.2 1 2 .9-1.1.9 1.5 1-.2.9-1.5.9-.4 1-1 .9.2.9 0 1 1.5.9-1.6.9 1.3 1 .1.9-.9.9.5 1 2.2.9.2.9-2.3 1 4 .9 4.5.9 5.6 1 7.5.9 3.1 1.9 9.1.9.8 1.9 8.2.9 5 .9 2.3 1.9 9.1.9 3.7 1 2.7.9 2.1.9 2.7 1 7.3.9 2.8.9 1.9 1.9 8 .9 2.1 1 6.3.9 2.4.9 4.4 1 5.1.9 2.7.9 4.6 2.8 10.5 1 6 .9.7.9 5.5 1-.2.9 5.3 1.9 4.7.9 1.4.9 9.9 1 1.9.9 6.5"/>
<path fill="none" stroke="#2f6040" stroke-width="0.85" d="M42.5 206.5l.9-.5 1 .5 6.5 0 .9-.7 1 .7.9 0 .9-1.3 1 1.3.9-.3.9.3 1-1.1.9-.5.9 1.3 1.9-3.6.9-2.1 1-5.4.9-6.8.9-5.1 2.8-9.9 1-1.2.9-2 1.9-2.2.9-1.8.9-.9 1-.4.9-1.3.9.4 1 .9.9-.4.9.5 1 .9.9 1.8.9-.6 1-.3.9 0 .9.7 1 2.5.9-4.9.9 3.7 1 .1.9.8.9-1.6 1 3.4 1.8-1.3 1 .6.9-.4.9 1.2 1 .3.9 1.5.9 0 1 0 .9 1.2.9.4 1 .1.9-1.2.9 2.9 1-1.7.9.6 2.8 3.7.9-2.4 1 3.5.9.7.9-1.5.9.8 1 .2.9.5.9 0 1 .3.9 2.2.9 1.3 1 2.5.9-1.5.9.2 1 3.5.9.9.9 2.1 1 .5.9.3.9 1.7 1 2.5.9.7.9-.2 1 2.7.9-1.3.9 1.5 1 1.1.9-1.1.9.5 1 1.5.9.3.9.1 1-.1.9-.3.9.5 1 3 .9-2.6.9 1.9 1-2 .9 1.8.9-.1 1-.9.9-1.2.9-.8 1 2.1.9-2.3.9-.1 1 2.6.9-.1.9-1.5 1.9-.8.9.9 1-.8.9-1 .9.8 1 1 .9-1.7.9.6 1 1.2.9 1.6.9-1.3 1-.1.9 1.9.9-2.8 1 .4.9 1.6.9.3 1-.5.9-2.9.9 3.3 1 0 .9-.6 1.9 1.4.9-1.4 1.9-1.9.9 1.7.9-.8 1 0 .9-.6.9 1.2 1 .4.9-.5.9-1.5 1 1.8.9-.7.9-2.7 1 2.8.9-2.5.9.9 1 2.1.9-.3.9-1.2 1-.1.9 1.3.9-1.9 1 2.2.9-.5.9 1 1.9-1.5.9 1.3 1-.4.9-1 1.9.4.9 1 .9.7 1-.8.9-1.2 1.9 1.6.9.4.9-2 1 1.1.9-.8.9-1.8 1.9 1.3 1.9-.1.9-.4.9.3 1-2.2.9-1.8.9.6 1-2.5.9-.3.9-3 1 .6.9-3.7.9-.9 1 1.1.9.4.9-3 1 1.7.9-.6.9-1.2 1-1.5.9-2.4.9 0 1 .2.9.5 1.9-3 .9-.4.9-2.7 1 .8.9-2.1.9 1.3.9-1.5 1-1.3.9 0 .9-1.3 1 1.5.9-1.2.9.6 1 1.1.9-1 .9-.1 1 1.7.9-2.3.9-.4 1.9-4.6.9 0 1.9-5.1.9 2.9 1-.3.9-1.2.9 2.5 1-.9 1.8.1 1 2.6.9-.9 1.9 1.2.9.4.9-.2 1 1.7.9.8.9 2.4 1-.9.9 2.9.9-.1 1 .7.9 1.5 1.9 2.2.9 1.4.9.6 1-.8.9 1.8.9 3.2 1-.8.9-1.2.9 3.4 1 2.5.9.5.9-.1 1 1.2.9 1.4.9.2 1 .6.9 3 .9-1.1 1 2 .9-1.7.9 1.4 1 .3.9 2.2.9-.4 1 .5.9.3.9 1.5 1 1.1.9-1.3.9 1.3 1.9-.9 1.9 2 .9-3.7"/>
<path fill="none" stroke="#e0281e" stroke-width="2.4" stroke-linejoin="round" d="M42.5 141.1l83.2 0 .7 32.6 79 0 4.2-.2 4.2-.4 1.4-.2.7-.4.7-.4 1.4-1.3 6.3-7.6 2.1-2.7 4.2-6 2.1-3.2 11.9-19.3 4.2-6 2.8-3.7 1.4-1.5 2.8-2.6 2.1-1.7 1.4-.9 1.4-.6 2.1-.8 1.4-.2 1.4.1 1.4.3 2.1.8 2.8 1.5 1.4.9 1.4 1.2 1.3 1.4 3.5 4 2.1 2.8 2.1 3.3 5.6 9.4 11.2 19.3 2.1 3.3 3.5 5.1 2.8 3.7 2.1 2.4 2.1 2.1 4.2 3.8 2.8 3 .7.6.7.5"/>
<path fill="none" stroke="#1326e0" stroke-width="2.5" stroke-linejoin="round" d="M42.5 202.3l.9 2.7 1 .2.9.9.9 1.1 1-.6.9.8.9-.5 1 .1.9-3.1.9-.5 1-.7.9.3.9-3.1 1-2.1 1.8-8.5 1-3.2.9-7.1 1.9-13 .9-3.4.9-5.8 1-7.3 1.8-9.1 1-5.9.9-.9.9.1 1-4.2.9 1.2.9.8 1-3.3.9-.7.9.3 1 0 .9-.7.9-2.3 1 .7.9 1.4.9.3 1 2.1.9-.7.9.9 1 3.1.9-1.1.9-.3 1 1.7.9.7.9 1.5 1 0 .9-.9.9-.3 1 0 .9 2.1.9.6 1-2.5.9.2.9-.5 1-1.2 1.8-.5 1-1.6.9 1.2.9 1.6 1 .4.9-1.3.9-.4 1.9 2.5.9-3.4 1-.4.9.3.9.7 1-1.5.9.8.9-1.3.9.8 1-1.1.9-.4.9.8 1-2.3.9.2.9 1.6 1 .1.9-1.1.9-2.1 1 4.6.9 2.6.9 1.7 1 1.2.9 6.2.9 4.7 1 2.4.9 4.1.9 1.5 1 3.9.9 2.5.9 3.1 1 4.6 1.8 6.1 1 2.1.9 1.4 1.9 1.4.9-1 .9 1.5 1-1.7.9 2.1.9.1 1-2.3 1.8 4.3 1-.5.9-1 .9 0 1 1.1.9.3.9.7 1-.4.9.8.9-.5 1-1.3.9-.3.9.7 1 1.1.9-1 .9 1.5 1-2.3.9 1 .9-.4 1 1.3.9-.1.9-.5 1-1.4.9.2.9.5 1 1.6.9-1.5.9 1 1 .3.9-2.1.9-.3 1-1.8.9 1.9.9 1.2 1-1.7.9 1.2.9.5 1-.8.9-1.1.9.3 1-1.1.9.4.9 2.7 1-3.1.9-.5.9.9 1.9.8.9-1.6 1-.5.9.5.9 2.3 1 .5.9-1.8.9.2 1 .7.9-.7.9.8 1 1.6.9-1.9.9 1.8 1 1 .9-2.1.9 2.1 1-.9.9-.4.9 1.5 1-.6.9-.4.9-.4 1-.3.9.5.9.6 1 1.1.9-.9.9.3 1-.7.9.6.9-.7 1 .9.9-1.8.9-2.7 1 .8.9-.6.9.8 1-1.5.9.1.9-1.1 1-2.6 1.8-2 1-1.9.9 3 1.9-9.2.9-2.8.9-1.3 1-3.9.9-4.9.9-3.7 1-1.6.9-3.4.9-2.3 1-3.4.9-2.2.9-6 1-1 .9-4.4.9-3.1 1-1.3.9-5.8.9-1.6.9-3 1-1.9.9-5.7.9-1 1-2 .9-2.3.9-1.3 1-1.7.9-2.6.9-.3 1-1.9.9 2.4.9-.6 1-2.9.9 1.9 1.9-4.1.9.5.9 1.1 1.9-2.4.9 1.4 1-1 1.8-1.4 1 2.7.9 1.8.9-.1 1 2.7 1.8 4.7 1 1.3.9 5.6.9 1 1 2.7.9 1.4.9 4.6 1 .3.9-.3.9 4.9 1 1.2.9 1 .9 3.1 1 1.7.9 4 .9 2.2 1 .3.9 4.5.9 2.6 1-1.1.9 6.1.9 2.2 1.9 5.2.9.5 1 1.2.9 3.4.9 1.8 1 2.3.9-.8.9 4.4 1 5.5.9 0 .9 2.3 1.9 2.5.9 3.2 1 1.9.9.6.9 2.1 1 2.6.9.3.9 1.9 1 4.1.9 2.1"/>
</g>
<text x="162.3" y="100.5" font-size="14" text-anchor="middle" fill="#111">*</text>
<line x1="42.5" y1="10.7" x2="42.5" y2="222.1" stroke="#6b6b6b" stroke-width="0.9"/>
<line x1="42.5" y1="222.1" x2="321.5" y2="222.1" stroke="#6b6b6b" stroke-width="0.9"/>
<line x1="42.5" y1="206.3" x2="45.1" y2="206.3" stroke="#6b6b6b" stroke-width="0.8"/>
<text x="35.5" y="206.6" font-size="12.6" text-anchor="end" fill="#1a1a1a" stroke="#1a1a1a" stroke-width="0.22" font-weight="normal" dominant-baseline="central">0</text>
<line x1="42.5" y1="173.7" x2="45.1" y2="173.7" stroke="#6b6b6b" stroke-width="0.8"/>
<text x="35.5" y="174" font-size="12.6" text-anchor="end" fill="#1a1a1a" stroke="#1a1a1a" stroke-width="0.22" font-weight="normal" dominant-baseline="central">10</text>
<line x1="42.5" y1="141.1" x2="45.1" y2="141.1" stroke="#6b6b6b" stroke-width="0.8"/>
<text x="35.5" y="141.4" font-size="12.6" text-anchor="end" fill="#1a1a1a" stroke="#1a1a1a" stroke-width="0.22" font-weight="normal" dominant-baseline="central">20</text>
<line x1="42.5" y1="108.5" x2="45.1" y2="108.5" stroke="#6b6b6b" stroke-width="0.8"/>
<text x="35.5" y="108.8" font-size="12.6" text-anchor="end" fill="#1a1a1a" stroke="#1a1a1a" stroke-width="0.22" font-weight="normal" dominant-baseline="central">30</text>
<line x1="42.5" y1="75.9" x2="45.1" y2="75.9" stroke="#6b6b6b" stroke-width="0.8"/>
<text x="35.5" y="76.2" font-size="12.6" text-anchor="end" fill="#1a1a1a" stroke="#1a1a1a" stroke-width="0.22" font-weight="normal" dominant-baseline="central">40</text>
<line x1="42.5" y1="43.3" x2="45.1" y2="43.3" stroke="#6b6b6b" stroke-width="0.8"/>
<text x="35.5" y="43.6" font-size="12.6" text-anchor="end" fill="#1a1a1a" stroke="#1a1a1a" stroke-width="0.22" font-weight="normal" dominant-baseline="central">50</text>
<line x1="42.5" y1="10.7" x2="45.1" y2="10.7" stroke="#6b6b6b" stroke-width="0.8"/>
<text x="35.5" y="11" font-size="12.6" text-anchor="end" fill="#1a1a1a" stroke="#1a1a1a" stroke-width="0.22" font-weight="normal" dominant-baseline="central">60</text>
<line x1="42.5" y1="222.1" x2="42.5" y2="219.5" stroke="#6b6b6b" stroke-width="0.8"/>
<text x="42.5" y="233.5" font-size="12.6" text-anchor="middle" fill="#1a1a1a" stroke="#1a1a1a" stroke-width="0.22" font-weight="normal" dominant-baseline="central">0</text>
<line x1="89" y1="222.1" x2="89" y2="219.5" stroke="#6b6b6b" stroke-width="0.8"/>
<text x="89" y="233.5" font-size="12.6" text-anchor="middle" fill="#1a1a1a" stroke="#1a1a1a" stroke-width="0.22" font-weight="normal" dominant-baseline="central">200</text>
<line x1="135.5" y1="222.1" x2="135.5" y2="219.5" stroke="#6b6b6b" stroke-width="0.8"/>
<text x="135.5" y="233.5" font-size="12.6" text-anchor="middle" fill="#1a1a1a" stroke="#1a1a1a" stroke-width="0.22" font-weight="normal" dominant-baseline="central">400</text>
<line x1="182" y1="222.1" x2="182" y2="219.5" stroke="#6b6b6b" stroke-width="0.8"/>
<text x="182" y="233.5" font-size="12.6" text-anchor="middle" fill="#1a1a1a" stroke="#1a1a1a" stroke-width="0.22" font-weight="normal" dominant-baseline="central">600</text>
<line x1="228.5" y1="222.1" x2="228.5" y2="219.5" stroke="#6b6b6b" stroke-width="0.8"/>
<text x="228.5" y="233.5" font-size="12.6" text-anchor="middle" fill="#1a1a1a" stroke="#1a1a1a" stroke-width="0.22" font-weight="normal" dominant-baseline="central">800</text>
<line x1="275" y1="222.1" x2="275" y2="219.5" stroke="#6b6b6b" stroke-width="0.8"/>
<text x="275" y="233.5" font-size="12.6" text-anchor="middle" fill="#1a1a1a" stroke="#1a1a1a" stroke-width="0.22" font-weight="normal" dominant-baseline="central">1000</text>
<line x1="321.5" y1="222.1" x2="321.5" y2="219.5" stroke="#6b6b6b" stroke-width="0.8"/>
<text x="321.5" y="233.5" font-size="12.6" text-anchor="middle" fill="#1a1a1a" stroke="#1a1a1a" stroke-width="0.22" font-weight="normal" dominant-baseline="central">1200</text>
<text x="205.5" y="252.3" font-size="13.4" text-anchor="middle" fill="#1a1a1a" stroke="#1a1a1a" stroke-width="0.22" font-weight="normal" dominant-baseline="central">Time (min)</text>
<text x="6.2" y="118" font-size="13.4" text-anchor="middle" fill="#1a1a1a" stroke="#1a1a1a" stroke-width="0.22" font-weight="normal" dominant-baseline="central" transform="rotate(-90 6.2 118)">Fluorescence (a.u.)</text>
<clipPath id="clipAR"><rect x="391.3" y="10.7" width="279" height="196.1"/></clipPath>
<rect x="391.3" y="206.3" width="279" height="15.8" fill="#80befc"/>
<line x1="391.3" y1="206.3" x2="670.3" y2="206.3" stroke="#555" stroke-width="0.8" stroke-dasharray="1 1.4"/>
<text x="539.8" y="214.3" font-size="13.2" text-anchor="middle" fill="#1a1a1a" stroke="#1a1a1a" stroke-width="0.22" font-weight="normal" dominant-baseline="central">Individual closed loop (iCL)</text>
<defs><path id="R0" vector-effect="non-scaling-stroke" transform="translate(391.3 0) scale(1.402 0.25)" d="M0 807l1-4 1 5 1-6 1 15 1-28 1-3 1 1 1 7 1-53 1-46 1-29 1-39 1-57 1-24 1-64 1-9 1-32 1 3 1 10 1-11 1 5 1-19 1 44 1-18 1 33 1 30 1 0 1 21 1-5 1 11 1 6 1 15 1-23 1 12 1 1 1-5 1-22 1 1 1-15 1-30 1-17 1-60 1 11 1-7 1-1 1 6 1 1 1 22 1 18 1 13 1 26 1 3 1-1 1-12 1 5 1-2 1 22 1-12 1 5 1 9 1-18 1 20 1 43 1 10 1 12 1 49 1 9 1 36 1-17 1 40 1-11 1 2 1 5 1-27 1-20 1 9 1-9 1-24 1-13 1-2 1 4 1 12 1 3 1 17 1 2 1 31 1 3 1 23 1-8 1 10 1 0 1 23 1-6 1-3 1-14 1-14 1-3 1-17 1-12 1 9 1 19 1-20 1 22 1 0 1-11 1-8 1 30 1 1 1-37 1 15 1-20 1-8 1 2 1 1 1-2 1 5 1 2 1-6 1 18 1-16 1 21 1-17 1-10 1 21 1-24 1 11 1 6 1-8 1-1 1-12 1-19 1-8 1-24 1-27 1-37 1-28 1 14 1-46 1 7 1-17 1-31 1-31 1-31 1-11 1-67 1-40 1 2 1-28 1-37 1 7 1-29 1-6 1-22 1-27 1-1 1 3 1 18 1 11 1 15 1 23 1 45 1 2 1 18 1 66 1 14 1 23 1-55 1 35 1 1 1-25 1-7 1 11 1-7 1 15 1 11 1 12 1 2 1 53 1 27 1 29 1 27 1 10 1 11 1 54 1-22 1 38 1-9 1 35 1 15 1 24 1 24 1 10 1 26 1-5 1-12 1 27 1 9 1-9 1-1"/><path id="R1" vector-effect="non-scaling-stroke" transform="translate(391.3 0) scale(1.402 0.25)" d="M0 809l1 1 1-2 1-14 1 23 1 4 1 2 1 0 1 0 1 0 1 0 1 0 1 0 1 0 1-35 1-6 1-23 1-16 1-34 1-19 1-37 1 2 1-36 1-15 1 1 1-30 1 26 1 9 1 6 1 4 1 36 1-26 1 7 1-23 1 11 1 8 1 16 1-27 1 26 1-28 1 17 1-6 1 10 1-12 1-9 1-38 1 12 1 15 1-29 1 24 1-26 1 41 1-9 1 15 1 23 1 11 1 4 1-21 1 10 1 14 1-36 1-13 1-18 1 23 1 6 1 10 1 7 1 17 1 30 1 7 1 15 1 2 1 8 1 27 1-16 1 14 1 2 1 3 1 4 1-12 1 21 1-15 1-43 1 8 1 17 1-36 1 9 1 5 1 13 1-10 1 6 1-10 1-2 1 15 1-1 1 4 1 10 1-3 1 6 1 2 1 16 1-22 1-14 1 7 1-2 1-12 1 15 1 3 1 6 1-21 1 28 1-35 1 15 1-23 1-5 1 19 1 34 1-44 1 42 1-43 1 13 1 1 1 25 1-19 1 12 1 4 1-15 1-13 1-2 1 1 1-17 1-6 1 24 1-13 1 24 1 27 1 18 1 9 1-8 1-11 1-17 1-47 1-7 1-23 1 5 1-13 1 18 1-17 1-17 1-6 1-21 1-28 1-22 1-84 1 17 1-22 1 2 1-31 1 12 1 6 1 23 1-14 1 13 1-5 1 22 1 12 1-15 1 32 1-29 1 26 1-17 1-8 1 44 1-11 1 18 1-6 1 13 1-3 1 7 1 7 1 0 1 16 1 29 1 16 1-9 1-5 1 13 1 6 1 23 1-8 1 19 1 4 1 13 1 5 1 5 1 24 1-13 1 21 1 41 1-18"/><path id="R2" vector-effect="non-scaling-stroke" transform="translate(391.3 0) scale(1.402 0.25)" d="M0 792l1 18 1 13 1 0 1-9 1-7 1-14 1-40 1-30 1-36 1-54 1-45 1-44 1-25 1-24 1-8 1-18 1-2 1-14 1 26 1-3 1-3 1 15 1 11 1 18 1 40 1-7 1 19 1 17 1-38 1 53 1 1 1-6 1-4 1-9 1-16 1-12 1-8 1-38 1-28 1 1 1-15 1-21 1 39 1 9 1 1 1-13 1 8 1-7 1 27 1-18 1 6 1-10 1-5 1-16 1-15 1 17 1 7 1-10 1 33 1 39 1 44 1 7 1 11 1-9 1 11 1 37 1-7 1 36 1 0 1-6 1 1 1-3 1 19 1-33 1 23 1-32 1-12 1 23 1-22 1 25 1 4 1 18 1 24 1-4 1-22 1 33 1-25 1 0 1 15 1-34 1 18 1-10 1 4 1 5 1 0 1 7 1 10 1-16 1 18 1 8 1-19 1 26 1-45 1 22 1 7 1-24 1-4 1-1 1 10 1-16 1 51 1-31 1 8 1 8 1-27 1 38 1-16 1-18 1 5 1-7 1-28 1 22 1 14 1-15 1-35 1-3 1 17 1-15 1-10 1-21 1 0 1 8 1-20 1-47 1-11 1-11 1 14 1-3 1-10 1-4 1-16 1 25 1-31 1-10 1-65 1-2 1 19 1-16 1-41 1 6 1-20 1-49 1-63 1-1 1-58 1 8 1-10 1 11 1 9 1-22 1 35 1-13 1-6 1 40 1-18 1 47 1 8 1 39 1 30 1 18 1 2 1-15 1-3 1-42 1 32 1-1 1-2 1 45 1 51 1 59 1 34 1 35 1 33 1-18 1 7 1-10 1-13 1 10 1 17 1 7 1 45 1-21 1 6 1 17 1 6 1 13 1-13 1 23 1 5"/><path id="R3" vector-effect="non-scaling-stroke" transform="translate(391.3 0) scale(1.402 0.25)" d="M0 823l1 0 1-16 1-14 1-23 1-11 1-3 1-45 1-43 1-45 1-10 1 2 1-42 1-4 1-8 1 27 1-26 1-5 1-5 1 2 1 26 1 6 1 19 1 36 1-17 1 23 1 13 1 25 1 4 1-8 1 0 1 9 1-24 1 10 1-23 1-24 1-34 1-8 1-18 1-3 1 7 1-14 1 2 1 6 1-22 1 34 1-19 1 12 1-15 1 20 1-2 1-5 1 9 1 6 1 14 1-19 1 18 1 30 1 4 1 52 1-27 1 32 1 8 1 16 1-17 1 8 1 13 1-6 1-21 1 38 1-11 1 8 1-11 1 22 1-38 1-10 1 3 1 1 1-30 1 33 1-19 1 23 1-7 1 19 1-12 1 11 1-15 1 30 1 7 1-18 1 11 1 7 1 18 1-22 1 0 1 24 1-8 1 33 1-25 1-27 1 6 1-20 1 27 1-20 1 11 1-39 1 26 1-6 1-7 1 8 1 20 1-1 1-15 1-1 1 5 1 6 1 35 1-17 1 7 1-17 1 19 1-30 1-3 1-10 1-19 1 0 1-10 1-4 1-13 1-7 1-12 1-32 1 6 1-31 1 21 1-9 1-3 1 1 1 42 1 38 1 16 1-12 1 10 1-42 1 2 1-33 1-13 1-9 1-32 1 3 1-47 1-17 1-29 1 0 1-22 1-1 1-15 1 26 1 10 1 29 1 4 1 6 1 11 1 5 1-9 1-6 1-10 1 5 1-4 1 3 1 14 1 11 1-1 1 27 1-16 1 12 1 49 1-4 1 14 1 12 1 17 1 5 1 36 1-16 1 30 1 5 1 13 1 4 1 13 1-11 1 1 1 8 1 2 1-16 1 17 1-1 1 8 1-2 1 27 1 10"/><path id="R4" vector-effect="non-scaling-stroke" transform="translate(391.3 0) scale(1.402 0.25)" d="M0 823l1 0 1 0 1 0 1 0 1-5 1 5 1-14 1 12 1 0 1-9 1-53 1-8 1-35 1-8 1 0 1 1 1 6 1-3 1 10 1-23 1 1 1-12 1-38 1-4 1-18 1-22 1 3 1 38 1 3 1 40 1 10 1-7 1 8 1-17 1-25 1 3 1-11 1 16 1-15 1 11 1-7 1-13 1 0 1 1 1-12 1-7 1 5 1 11 1 15 1-9 1 3 1 24 1-9 1 22 1 13 1-31 1 2 1-5 1-19 1-22 1 5 1 5 1-8 1 34 1-7 1 19 1 0 1 6 1 43 1 5 1 9 1 17 1-1 1-4 1 1 1 20 1 20 1 11 1 10 1-16 1-22 1 11 1-10 1-7 1-14 1 35 1 8 1-22 1 27 1-38 1 12 1-2 1 4 1-18 1-23 1 15 1-52 1 45 1-7 1 3 1 6 1-11 1 24 1-26 1 0 1 20 1 11 1-7 1-12 1 12 1-21 1 18 1-12 1 17 1 1 1 7 1-1 1 2 1-18 1-9 1-1 1 25 1-5 1 7 1-11 1 19 1-31 1 23 1 14 1 8 1-18 1 1 1-20 1 6 1-6 1-14 1 0 1-47 1 21 1-9 1-1 1-5 1-3 1 18 1-12 1-9 1-11 1-20 1 2 1 17 1-26 1-1 1 56 1-28 1 10 1-35 1-4 1-43 1-37 1 4 1-35 1 1 1-3 1-10 1 26 1 26 1 25 1-12 1-3 1-2 1 1 1-10 1 30 1-26 1 30 1 26 1 36 1-2 1 17 1 7 1 5 1-18 1 16 1 7 1-24 1-15 1-31 1 34 1-17 1 0 1 32 1 2 1 30 1 3 1 33 1 17 1 5 1 11 1-23"/><path id="R5" vector-effect="non-scaling-stroke" transform="translate(391.3 0) scale(1.402 0.25)" d="M0 774l1 48 1-1 1 2 1-22 1 2 1 6 1-47 1-57 1-19 1-53 1-49 1-81 1-27 1-46 1-42 1-44 1-2 1-29 1-36 1 31 1 18 1 15 1 7 1 0 1 33 1 0 1 6 1 5 1 16 1 0 1-36 1 48 1-58 1 23 1-32 1-34 1 16 1 0 1 30 1-36 1 5 1-17 1 14 1 11 1-5 1-38 1 10 1 11 1 11 1 16 1 41 1-15 1-16 1-32 1 6 1 31 1 28 1-5 1 39 1 21 1 7 1 44 1-1 1 32 1 20 1 38 1 19 1 28 1 5 1-11 1 5 1-25 1-1 1 29 1-4 1-8 1-15 1-3 1-14 1-22 1 7 1-17 1-1 1 14 1-20 1 25 1-27 1 26 1 12 1 9 1 14 1-15 1-8 1 11 1 20 1-22 1 14 1 19 1 7 1-29 1 20 1-7 1-1 1 13 1 10 1-33 1 38 1-38 1 39 1-25 1 7 1 8 1-9 1 12 1-12 1 2 1-8 1-10 1 7 1 0 1 5 1-10 1 6 1-11 1 14 1-21 1 5 1 4 1-19 1 3 1-33 1-6 1-2 1-38 1-53 1-18 1-61 1-18 1-65 1-52 1 3 1-50 1-14 1-15 1-45 1-31 1 21 1-60 1-13 1-45 1-10 1 0 1 0 1 22 1-22 1 78 1 18 1-34 1 1 1-26 1-37 1 0 1 0 1 0 1 0 1 0 1 0 1 0 1 0 1 0 1 20 1 56 1 67 1 49 1 47 1 19 1 55 1 41 1 8 1 40 1 5 1 13 1-3 1 37 1-26 1 29 1 10 1-1 1 25 1 12 1 35 1-15 1-4 1 38 1-21 1 11 1 8 1 20 1-8"/><path id="R6" vector-effect="non-scaling-stroke" transform="translate(391.3 0) scale(1.402 0.25)" d="M0 821l1-7 1-3 1-13 1-5 1-27 1-23 1-3 1-29 1-15 1 8 1-36 1 14 1-17 1-22 1-25 1 17 1 13 1-7 1 14 1-27 1 43 1 21 1-16 1 13 1-17 1 14 1-31 1 28 1-9 1-33 1 27 1-2 1 30 1-3 1-7 1 1 1-23 1-16 1 13 1-32 1 5 1-7 1-26 1-4 1 23 1 24 1 13 1 10 1 3 1-14 1 0 1-18 1-7 1 10 1 12 1-34 1 15 1 15 1 4 1 18 1 27 1 28 1 5 1 3 1 48 1-28 1-20 1 16 1-5 1 5 1 16 1 1 1-25 1 16 1 32 1-33 1 20 1-2 1 3 1-1 1-13 1 2 1-4 1 10 1-25 1 20 1 3 1-13 1-5 1 3 1 12 1-12 1-19 1 12 1-18 1 20 1-12 1 39 1-27 1-5 1-9 1-26 1 21 1-19 1-12 1 5 1-2 1-3 1-9 1-32 1 50 1 2 1-1 1 12 1 11 1-7 1 23 1-12 1-2 1 7 1 17 1-13 1 20 1-34 1 14 1-3 1-17 1 12 1 3 1-16 1-33 1-12 1-11 1 3 1-22 1-1 1 30 1-20 1-7 1-16 1-16 1 9 1-31 1-17 1-4 1 28 1-13 1 18 1-6 1 25 1 6 1 26 1 10 1-7 1-11 1 13 1-37 1-42 1-33 1 8 1-23 1 5 1 20 1-6 1 16 1-15 1 16 1 1 1 4 1 27 1-28 1-14 1 19 1 9 1 8 1 20 1 12 1 7 1-2 1 48 1-28 1 0 1 34 1-18 1 15 1 32 1-4 1 7 1 11 1 11 1 18 1 6 1 15 1 10 1-9 1 2 1 8 1 12 1-28"/><path id="R7" vector-effect="non-scaling-stroke" transform="translate(391.3 0) scale(1.402 0.25)" d="M0 820l1 1 1 2 1-21 1 19 1-2 1 4 1-11 1 11 1 0 1 0 1-16 1-14 1 3 1-27 1-17 1-5 1-31 1 9 1-57 1 9 1-26 1-7 1-21 1-18 1-5 1 23 1-6 1-8 1 30 1 26 1 9 1-10 1 13 1-2 1-2 1-11 1-21 1 10 1-2 1 13 1-10 1 36 1-29 1 41 1-16 1-7 1-24 1 13 1 7 1-38 1 7 1 20 1-6 1 31 1-26 1-11 1 5 1 17 1-16 1 4 1-7 1 32 1 19 1 2 1 18 1 12 1-8 1-4 1 6 1 8 1-3 1 11 1-9 1 26 1-3 1 10 1 9 1-20 1 26 1-1 1-26 1 32 1-25 1 23 1-4 1 0 1 7 1-23 1-5 1-19 1 12 1 5 1 8 1-11 1-21 1 11 1-6 1-1 1-2 1 8 1-5 1-8 1 3 1 13 1-16 1 29 1-28 1-21 1 28 1 13 1-12 1 23 1-15 1 7 1 5 1 3 1-4 1 13 1-16 1 10 1-8 1-3 1-21 1 11 1-6 1-9 1 4 1-16 1-2 1 17 1-19 1 12 1 26 1-20 1 12 1 8 1 28 1-11 1 3 1-71 1-32 1 8 1-32 1 20 1-13 1 26 1-1 1 29 1 40 1 6 1-11 1-10 1-15 1-93 1-1 1-46 1-45 1-51 1-74 1-14 1-73 1 7 1 11 1 0 1 20 1 36 1 66 1 0 1 51 1 13 1 48 1-6 1-8 1-3 1 23 1-6 1 4 1-29 1 46 1 0 1 10 1 20 1 6 1 17 1 7 1 22 1 12 1 26 1 9 1 3 1 10 1 5 1-1 1 15 1 18 1-20 1 52 1-6 1-13"/><path id="R8" vector-effect="non-scaling-stroke" transform="translate(391.3 0) scale(1.402 0.25)" d="M0 778l1 21 1-11 1 32 1-10 1-6 1 19 1-54 1 9 1-85 1-28 1-29 1-81 1-23 1-29 1-23 1-35 1 12 1-51 1-12 1 6 1 19 1 10 1 29 1 11 1 8 1 14 1 10 1 6 1-9 1 10 1 4 1 8 1-1 1 19 1-24 1 6 1 7 1-22 1-13 1-43 1 0 1 4 1 11 1-1 1-3 1 1 1 12 1 23 1-7 1 29 1 13 1-6 1-5 1-57 1 12 1-11 1-53 1 7 1-2 1 7 1 35 1 24 1 30 1 23 1 19 1 27 1 29 1 14 1 7 1 32 1-8 1-9 1 13 1-23 1 3 1 32 1-42 1 9 1 26 1-27 1 14 1 3 1-16 1 6 1-20 1 20 1-27 1 60 1-41 1 3 1 12 1-2 1-1 1 24 1-7 1-13 1 4 1 9 1 22 1-36 1 34 1-12 1-13 1 17 1-12 1-21 1 10 1 20 1 1 1-39 1 7 1 14 1 7 1 11 1-19 1-1 1 2 1-2 1 24 1-28 1 6 1 0 1 6 1-22 1-8 1 17 1 13 1-28 1 11 1-32 1-35 1 18 1 3 1-53 1-18 1 12 1-35 1-27 1-19 1 5 1-31 1-30 1-38 1-51 1-35 1-67 1-3 1-58 1-14 1-36 1-10 1-44 1-6 1-10 1-41 1 21 1 13 1 6 1 65 1 53 1 16 1 23 1 12 1 26 1 39 1 7 1 2 1 66 1 29 1 8 1 33 1 35 1-8 1 25 1 10 1 8 1 30 1 6 1-19 1 13 1 5 1 5 1-24 1 19 1-19 1 2 1 11 1-10 1 24 1 8 1 4 1-4 1 9 1 32 1 1 1 45 1 1 1 42 1 18"/><path id="R9" vector-effect="non-scaling-stroke" transform="translate(391.3 0) scale(1.402 0.25)" d="M0 823l1-17 1 13 1-28 1 32 1-11 1 8 1 3 1-7 1-1 1 1 1-17 1-28 1-26 1-25 1-16 1-65 1-26 1-42 1-43 1-81 1-130 1-89 1-36 1 59 1 108 1 108 1 120 1 28 1 1 1 31 1-15 1-1 1-7 1-4 1 5 1 7 1-15 1-18 1 7 1-34 1-19 1 5 1 16 1-18 1 2 1 7 1 25 1 10 1-6 1 8 1 2 1-4 1 32 1-4 1 0 1 18 1 2 1-9 1-21 1-8 1-25 1-7 1-9 1 28 1 31 1 18 1 12 1 9 1 24 1 13 1 18 1-8 1 18 1-14 1 35 1-12 1 4 1 8 1 8 1 7 1-7 1 10 1-38 1-9 1 2 1 1 1-1 1-5 1 19 1-14 1-11 1 7 1 10 1 2 1-19 1 5 1-8 1 21 1 0 1 1 1 1 1-25 1 13 1 6 1 5 1-9 1-24 1 23 1 9 1-7 1-11 1 0 1-3 1 19 1 8 1 23 1-26 1-1 1-3 1-10 1-5 1-3 1 0 1-12 1 6 1 11 1-23 1 31 1-19 1 1 1-25 1 9 1 15 1-16 1-23 1-4 1-4 1-19 1-36 1-5 1-4 1-16 1 14 1-6 1 31 1-14 1 22 1-39 1-6 1-39 1-50 1-36 1-40 1-15 1-39 1-35 1 24 1 8 1 29 1 8 1 16 1 39 1 37 1 20 1-16 1 2 1-13 1-11 1-13 1 9 1 17 1 3 1-4 1 39 1-1 1 9 1 4 1 7 1 19 1 3 1 6 1 5 1 7 1 18 1 32 1-5 1 21 1 8 1 5 1 8 1 16 1 9 1 3 1 25 1-6 1-12 1 19 1 16 1-6"/><path id="R10" vector-effect="non-scaling-stroke" transform="translate(391.3 0) scale(1.402 0.25)" d="M0 818l1-5 1 1 1-18 1 27 1-14 1 14 1-9 1-9 1 2 1-13 1-28 1-25 1-20 1-16 1-20 1 5 1-12 1-38 1-5 1 8 1-37 1-16 1-19 1-4 1 6 1-22 1-10 1 1 1 43 1-15 1-24 1 13 1 25 1-4 1 4 1 6 1-20 1 6 1-4 1 2 1-4 1 14 1-6 1 3 1 6 1-11 1-26 1-3 1-31 1 17 1 3 1-7 1-5 1 28 1-8 1 8 1 12 1 6 1-9 1 25 1 6 1 28 1-2 1 70 1 17 1 24 1-2 1 39 1-30 1-7 1-2 1 11 1-8 1 16 1-8 1-41 1-5 1 15 1-32 1 12 1 0 1-21 1 33 1-9 1 2 1 7 1 15 1-11 1 9 1-12 1 14 1-2 1-12 1 18 1 18 1-38 1 34 1-38 1 12 1 28 1-4 1-25 1 5 1 2 1-10 1-11 1 21 1-8 1 11 1 7 1-20 1 28 1 0 1-28 1 34 1-4 1-4 1-6 1 1 1-10 1 3 1 1 1-10 1-4 1 14 1-47 1 18 1-7 1 26 1-24 1-2 1-6 1-37 1 12 1-37 1-26 1 2 1-10 1 8 1-12 1 12 1-34 1 10 1 9 1-2 1-6 1-30 1-5 1-16 1-26 1 27 1 32 1 32 1-15 1 8 1 7 1 31 1-35 1 15 1-10 1-10 1-19 1 26 1-14 1-22 1-7 1 16 1-22 1-6 1-17 1 24 1-19 1 26 1 24 1-1 1 7 1 19 1 12 1-11 1 33 1 29 1 2 1-5 1 44 1-34 1 23 1 21 1-16 1 3 1 6 1-4 1 22 1 8 1 14 1 11 1 36 1-3 1 23 1-18"/><path id="R11" vector-effect="non-scaling-stroke" transform="translate(391.3 0) scale(1.402 0.25)" d="M0 821l1-26 1-6 1 34 1 0 1 0 1-5 1-2 1 7 1-8 1 8 1 0 1-7 1-67 1-37 1-8 1-19 1-41 1 24 1-44 1-29 1 10 1 5 1-34 1-5 1 6 1-10 1 10 1 0 1 7 1 12 1 28 1-1 1 20 1 7 1 16 1-5 1-14 1-8 1 30 1 6 1 4 1-10 1-4 1 10 1 15 1-9 1-13 1-7 1-6 1-30 1 19 1-2 1 0 1 13 1 22 1-49 1-16 1 39 1 7 1 10 1-8 1-20 1 10 1-7 1 11 1 30 1 21 1-3 1 14 1 9 1 16 1 8 1 21 1-1 1 19 1-13 1 3 1 2 1-5 1-5 1-10 1-30 1 0 1-33 1-1 1-2 1-12 1-6 1-21 1 17 1-3 1 7 1 13 1 9 1-10 1 33 1 11 1-29 1 4 1-3 1 32 1-30 1 6 1-21 1 12 1 6 1-26 1 10 1-5 1 19 1 14 1 1 1-1 1 8 1 24 1-16 1-17 1 11 1-13 1 3 1-12 1 20 1-6 1-5 1 9 1 0 1 1 1-12 1-11 1-29 1 10 1-14 1-6 1-20 1 20 1-16 1 31 1-30 1 16 1-2 1-11 1-27 1-7 1-38 1 2 1-15 1 7 1 4 1-46 1-22 1-49 1-40 1-66 1-57 1-9 1-39 1 51 1 7 1 37 1 55 1 24 1 37 1 19 1 1 1 21 1 1 1 10 1 22 1 5 1-4 1 27 1 3 1 10 1 9 1-23 1 24 1-3 1 10 1 10 1-7 1 5 1 19 1 16 1-15 1 8 1 6 1-7 1 14 1 31 1-2 1 2 1 1 1 25 1 5 1-21 1 19 1 26 1-18 1 32"/><path id="R12" vector-effect="non-scaling-stroke" transform="translate(391.3 0) scale(1.402 0.25)" d="M0 813l1 4 1-6 1-9 1 3 1-3 1-22 1 25 1-19 1-6 1-49 1 0 1-36 1-22 1-9 1-36 1 2 1-38 1 4 1-16 1 18 1-27 1 15 1 7 1-4 1 5 1 8 1 2 1 34 1-1 1 41 1 4 1 24 1 5 1 5 1 9 1 24 1-25 1-3 1-30 1-18 1-23 1 9 1-26 1 6 1-28 1-13 1-4 1-25 1 22 1-19 1 3 1 26 1 9 1 43 1-8 1 18 1 15 1 0 1-34 1 5 1-2 1 22 1 8 1 21 1 44 1-16 1 24 1-3 1-3 1 4 1 7 1 7 1-32 1 27 1-1 1-41 1 26 1-5 1 24 1-20 1-24 1 19 1 11 1 2 1 1 1-29 1-9 1 22 1-12 1 17 1-19 1-3 1 26 1-4 1-4 1 22 1-26 1 30 1-22 1 10 1-23 1-12 1 36 1-8 1-15 1 8 1 7 1-17 1 20 1-3 1-13 1-19 1 9 1-12 1 0 1 12 1-27 1-5 1 18 1-16 1 23 1 0 1-25 1-16 1 9 1 3 1-2 1-5 1 17 1-22 1 7 1-4 1-11 1-23 1 26 1-3 1-17 1-6 1 18 1-31 1-3 1-16 1-15 1-16 1-11 1-1 1-9 1-43 1-10 1 29 1-28 1 3 1-4 1 23 1-42 1-72 1-61 1-94 1-85 1-12 1-26 1 63 1 71 1 71 1 69 1 83 1 64 1 47 1 7 1 44 1-3 1 1 1-3 1-37 1 0 1-8 1 6 1 14 1 18 1-10 1-16 1 38 1 4 1 2 1 2 1 24 1 33 1-27 1 18 1 17 1-18 1 34 1 8 1-13 1-6 1 13 1-3 1 16 1 19"/><path id="R13" vector-effect="non-scaling-stroke" transform="translate(391.3 0) scale(1.402 0.25)" d="M0 773l1 30 1-6 1 22 1-33 1 20 1-11 1-26 1-19 1-33 1-41 1-37 1-35 1-33 1-37 1-24 1-2 1-17 1 32 1-17 1 10 1-10 1-6 1-27 1 18 1-33 1 19 1 1 1-19 1 16 1 4 1 22 1 7 1-18 1 12 1 13 1 4 1-6 1 0 1 6 1 1 1-8 1 3 1-6 1-19 1-11 1-10 1-29 1-5 1-35 1 30 1 6 1-5 1-37 1-8 1-9 1 5 1 12 1 22 1 20 1 39 1 11 1 45 1 11 1 26 1 2 1 17 1 40 1 38 1-8 1-3 1 26 1-28 1 20 1 4 1 12 1-25 1-7 1-8 1-7 1 2 1-40 1 38 1-2 1-38 1 5 1 1 1 28 1-6 1 8 1-20 1 25 1-11 1-3 1-3 1 0 1 16 1-10 1 18 1 15 1-11 1 14 1 27 1 5 1 5 1-20 1 15 1-29 1 28 1-25 1-7 1 12 1 6 1-21 1-20 1 7 1-5 1 42 1-26 1-16 1 10 1-7 1-5 1-16 1-20 1 7 1-2 1 23 1-10 1 29 1 7 1 6 1-17 1 5 1-21 1 18 1-11 1-18 1-31 1-26 1-11 1-21 1-39 1-6 1-2 1-54 1-32 1-7 1-39 1-92 1-78 1-65 1-30 1-44 1 44 1-17 1 55 1 19 1 51 1 22 1-7 1 13 1 20 1-38 1 30 1 0 1 20 1-6 1 38 1-12 1 13 1-25 1 63 1-30 1 3 1 23 1-28 1 47 1 27 1 20 1 47 1 28 1 29 1 45 1 41 1 17 1 11 1 27 1-8 1 22 1-2 1 24 1-13 1 56 1-43 1 19 1-4 1-17 1 4 1-16"/><path id="R14" vector-effect="non-scaling-stroke" transform="translate(391.3 0) scale(1.402 0.25)" d="M0 805l1-11 1 22 1 7 1-23 1 17 1-27 1-10 1-1 1-50 1-53 1-25 1-58 1-29 1-8 1-30 1-65 1 0 1-4 1-5 1-4 1 9 1 5 1 37 1-22 1 3 1 12 1 1 1 11 1 10 1-3 1 9 1 4 1-13 1 2 1 7 1-34 1 29 1 34 1-28 1 7 1-18 1-40 1 10 1-11 1-27 1 6 1-7 1 8 1 42 1 19 1-6 1-8 1 15 1-12 1-14 1 5 1 18 1-4 1 9 1-6 1 28 1 22 1 7 1 36 1 4 1 37 1 6 1-25 1 36 1 6 1-18 1-17 1 24 1-25 1 28 1-15 1-10 1 30 1-31 1 17 1-22 1 24 1-15 1-9 1-9 1 1 1-2 1-21 1 8 1 9 1 24 1-1 1-6 1 24 1 2 1 20 1 6 1 14 1-1 1 2 1-9 1 5 1 0 1-18 1-4 1 23 1-27 1 7 1-19 1 26 1-7 1-13 1 9 1-4 1-1 1-3 1 10 1 11 1-28 1 18 1 17 1-22 1 29 1-26 1-11 1-10 1 29 1-52 1-4 1 13 1-20 1 2 1-14 1-15 1-32 1 14 1-23 1-41 1 0 1 12 1-22 1-24 1-23 1-28 1-64 1-59 1-37 1-58 1-42 1-42 1-15 1-9 1-3 1 30 1 20 1 56 1 2 1 33 1 16 1 37 1-10 1 56 1 11 1 17 1 45 1 49 1 19 1 10 1 3 1 22 1-68 1 3 1-33 1-35 1-9 1 14 1 6 1 35 1-3 1 46 1 5 1 38 1-6 1 40 1-19 1 24 1 9 1-14 1-13 1 20 1 23 1-27 1 22 1 8 1 2 1 30 1-5 1-2 1 19"/><path id="R15" vector-effect="non-scaling-stroke" transform="translate(391.3 0) scale(1.402 0.25)" d="M0 806l1 17 1 0 1-13 1 9 1-12 1 16 1-32 1 24 1-22 1-1 1 23 1 8 1-29 1-14 1-43 1 23 1-52 1-32 1-14 1-42 1-8 1-15 1-8 1-4 1 22 1 29 1 8 1-15 1 35 1 15 1-10 1 2 1-7 1 2 1-32 1 9 1-21 1 4 1-13 1 18 1 18 1-7 1-7 1-1 1 15 1 11 1-35 1-9 1-35 1 25 1-21 1 12 1-11 1 25 1-14 1-12 1-4 1-7 1-6 1 8 1 6 1 14 1 36 1 31 1 9 1 32 1 26 1-15 1 10 1-20 1 29 1-31 1 8 1-3 1-8 1 1 1 45 1-12 1 5 1 32 1 1 1-15 1 3 1 21 1-32 1-14 1 7 1-22 1 11 1-1 1-15 1 18 1-13 1 4 1 6 1 0 1 9 1-11 1-11 1 42 1-16 1-12 1 11 1 0 1-20 1 18 1-24 1-16 1 28 1-7 1 23 1-14 1 2 1 15 1 21 1 7 1-47 1 21 1-9 1-6 1 5 1 12 1 17 1-32 1-27 1 12 1-13 1-18 1-14 1 2 1 17 1-10 1 18 1 2 1-2 1 17 1-3 1-24 1 4 1 0 1 0 1-19 1 34 1-21 1 13 1-19 1-35 1-35 1-1 1-19 1 24 1-6 1-23 1-24 1 6 1-33 1-40 1-14 1-7 1 12 1-13 1 14 1 37 1 11 1-13 1 1 1-35 1 1 1-10 1-13 1 22 1 27 1 15 1 23 1 13 1 11 1 31 1-20 1 12 1 16 1 11 1 1 1 12 1 5 1-2 1 7 1 9 1 2 1 19 1-13 1 0 1-8 1 16 1 4 1 7 1 21 1 44 1-1 1-32"/><path id="R16" vector-effect="non-scaling-stroke" transform="translate(391.3 0) scale(1.402 0.25)" d="M0 807l1-5 1 7 1-9 1 17 1-1 1 7 1 0 1 0 1-1 1 0 1-11 1-49 1-23 1-22 1-7 1-20 1 12 1-3 1-9 1-33 1-47 1 12 1-28 1-21 1-12 1 2 1 23 1 14 1-6 1-3 1 8 1 10 1 26 1-11 1-8 1 55 1-6 1-15 1 3 1-13 1 17 1 16 1-59 1-3 1-10 1-40 1-15 1 1 1 7 1-26 1 18 1 36 1 14 1 13 1 21 1 36 1-9 1 11 1 6 1-9 1-22 1 4 1-13 1-4 1 23 1-6 1 44 1 4 1-16 1 20 1 7 1 5 1-30 1 29 1-2 1 7 1-2 1-8 1 0 1 45 1-16 1 5 1-20 1-9 1-21 1 4 1-6 1 10 1-26 1 4 1-4 1-8 1 18 1 3 1-18 1 37 1 1 1 20 1-21 1 13 1-1 1-11 1-9 1 12 1 12 1 13 1-14 1 10 1-12 1 16 1-19 1-2 1-3 1 23 1 14 1-25 1 6 1 2 1 15 1-13 1 7 1-21 1 12 1-32 1 5 1-6 1-3 1-6 1-11 1-8 1 10 1-13 1 16 1-26 1-11 1-10 1 21 1-7 1 3 1 15 1-37 1-21 1-9 1-36 1-10 1-25 1-9 1 0 1-2 1 20 1-23 1 12 1 7 1 18 1-51 1-3 1 4 1-11 1-13 1 20 1 26 1-16 1-5 1 3 1-13 1 23 1-14 1 12 1-6 1-30 1 8 1-7 1-5 1 15 1 1 1 0 1 19 1 20 1-5 1 3 1 47 1 13 1 15 1 21 1 8 1-16 1-6 1 35 1 12 1 15 1 3 1 11 1 2 1 8 1 28 1 22 1 5 1 9 1-2"/><path id="R17" vector-effect="non-scaling-stroke" transform="translate(391.3 0) scale(1.402 0.25)" d="M0 793l1 16 1 1 1 6 1-4 1-10 1 16 1-18 1-12 1-30 1-19 1-17 1-40 1-32 1 7 1-9 1-59 1 11 1-13 1 15 1-5 1-24 1 19 1 2 1-22 1-7 1 5 1-8 1 28 1-10 1 25 1-8 1-15 1 1 1-12 1 21 1 7 1-12 1-5 1 1 1 3 1-21 1 15 1-14 1-2 1-17 1 38 1 0 1-27 1 43 1-8 1-33 1 25 1 11 1 2 1 4 1-35 1-16 1 4 1-23 1-16 1 3 1 30 1-9 1 29 1 58 1-20 1 29 1-5 1 27 1 5 1 11 1-16 1 15 1 4 1 7 1-18 1 4 1 4 1 1 1 8 1-4 1 11 1 2 1 3 1-3 1 30 1-25 1-8 1 12 1-14 1 37 1-11 1-28 1 24 1 13 1-8 1 15 1-8 1-10 1 21 1-27 1 1 1 11 1-25 1-4 1 3 1-6 1 17 1 6 1-9 1-29 1 28 1-3 1-26 1 23 1 12 1 33 1-5 1-19 1-16 1 23 1-13 1 39 1-48 1 5 1 1 1 28 1-34 1-43 1 24 1 1 1 12 1-14 1-8 1 11 1-40 1-16 1-48 1 10 1-21 1 4 1-2 1 10 1 0 1-12 1 30 1-16 1-6 1 2 1-29 1-6 1-47 1-20 1-31 1-22 1 4 1-16 1-7 1-10 1 0 1 4 1 6 1 4 1-5 1 9 1 23 1 17 1 3 1 32 1 25 1-9 1 27 1 33 1-7 1 0 1-3 1 8 1 4 1-14 1-1 1 4 1 0 1-18 1 14 1 20 1 33 1 31 1 0 1 52 1-9 1 13 1 19 1 4 1 15 1 8 1 22 1 8 1-4 1 38"/><path id="R18" vector-effect="non-scaling-stroke" transform="translate(391.3 0) scale(1.402 0.25)" d="M0 803l1 20 1-7 1-4 1-6 1-7 1 3 1-3 1-32 1-64 1-23 1-32 1-54 1-9 1-22 1-23 1-48 1-5 1 8 1-1 1-4 1 5 1 2 1-1 1 6 1 18 1 28 1-19 1 13 1-5 1 6 1 15 1-6 1 18 1-14 1 10 1 6 1-6 1 2 1 33 1-27 1 5 1-32 1 2 1 1 1-17 1 3 1-6 1 4 1-18 1 16 1-8 1-19 1 0 1 4 1-51 1 50 1 2 1-3 1 5 1-15 1 10 1 15 1 34 1 19 1 67 1-9 1 32 1-5 1 29 1 11 1 0 1 30 1-23 1 23 1-30 1 0 1-10 1-15 1 15 1-25 1 9 1 0 1 21 1-3 1 25 1 25 1-15 1 28 1-8 1-2 1-28 1 27 1-19 1-16 1 9 1-37 1 20 1-12 1-20 1 8 1 32 1-7 1 26 1-15 1 3 1-7 1-9 1 22 1-41 1 13 1 1 1 20 1 5 1-21 1-3 1-8 1 25 1-13 1 16 1-16 1 9 1-14 1 2 1-6 1-9 1 10 1-16 1-28 1-11 1 6 1-32 1 11 1-11 1-25 1-39 1 9 1-13 1-15 1 5 1-25 1-21 1 17 1-43 1-8 1-21 1-17 1-41 1-7 1-42 1-34 1 2 1 10 1 28 1 33 1 28 1 22 1 16 1 0 1 10 1 31 1 10 1 23 1 7 1-32 1 17 1 4 1-16 1 24 1-31 1 34 1-59 1 34 1-13 1-11 1 15 1 4 1-7 1 13 1 13 1-7 1 7 1 29 1 9 1 21 1 12 1 6 1 7 1 19 1-3 1 11 1 21 1-16 1 21 1 33 1-1 1-1 1 27 1 4 1 1"/><path id="R19" vector-effect="non-scaling-stroke" transform="translate(391.3 0) scale(1.402 0.25)" d="M0 805l1 10 1 7 1 1 1 0 1 0 1-18 1-16 1-23 1-31 1 1 1-58 1-5 1-39 1-10 1 2 1-43 1 9 1-20 1 1 1-7 1-10 1 23 1-32 1 5 1-14 1 22 1 16 1 18 1-7 1 10 1 9 1-6 1-14 1 18 1-43 1-16 1 17 1-8 1 4 1-30 1-3 1-15 1-12 1 36 1-32 1 9 1-6 1 17 1-12 1 32 1 2 1 26 1 13 1 0 1 0 1-8 1-7 1 10 1-6 1-5 1 41 1-6 1 43 1 5 1 30 1-4 1 1 1-3 1 56 1-10 1-18 1 21 1-1 1 20 1-10 1 15 1-10 1 13 1 9 1-22 1-6 1 6 1 19 1-2 1-15 1 8 1-19 1-16 1-17 1-3 1 11 1-52 1 14 1 26 1-30 1-14 1 5 1 1 1-13 1 36 1 44 1-46 1 10 1-10 1 40 1-15 1-1 1 1 1 3 1-6 1-4 1 14 1-11 1 2 1-24 1 35 1-9 1 15 1-8 1 6 1-33 1-2 1-15 1-5 1-1 1-1 1 5 1-1 1-9 1 8 1-1 1 4 1-3 1-19 1-35 1 17 1-18 1-51 1-27 1 20 1-21 1 3 1-17 1 31 1-15 1-28 1 3 1 0 1-32 1 18 1-16 1 20 1 20 1-20 1-14 1-12 1-15 1-13 1 10 1-14 1 8 1-24 1-7 1 23 1-19 1-12 1-19 1 44 1 11 1 27 1 2 1 38 1 12 1 16 1 13 1-9 1 17 1 12 1 0 1 18 1-37 1 50 1-4 1 9 1 25 1 17 1-4 1 26 1-15 1 18 1 42 1-19 1 17 1 4 1 11 1-25 1 0 1 1 1 5"/><path id="R20" vector-effect="non-scaling-stroke" transform="translate(391.3 0) scale(1.402 0.25)" d="M0 796l1 8 1 10 1 1 1-11 1 11 1-12 1 3 1-43 1-31 1-20 1-40 1-73 1 20 1-27 1-26 1-20 1-16 1-32 1 14 1-5 1-18 1 37 1-20 1 11 1 6 1 14 1 7 1 3 1 1 1 47 1-15 1 13 1 8 1-4 1 2 1-16 1 5 1 5 1-52 1 26 1-30 1 31 1 11 1 21 1 13 1 29 1 0 1-7 1 25 1-35 1 24 1-7 1-20 1-9 1-10 1-11 1-21 1 4 1 16 1-2 1 21 1 14 1 41 1-9 1 28 1 27 1-11 1 16 1 16 1-34 1 5 1 20 1 3 1-5 1 15 1-26 1 20 1-10 1-8 1-47 1-11 1 15 1 5 1 6 1-15 1 32 1-9 1 29 1 13 1-45 1 48 1 23 1-1 1-27 1 5 1-3 1-12 1-20 1 10 1 3 1-25 1-1 1 13 1-11 1 13 1 4 1-19 1-16 1 39 1-10 1 12 1-14 1 1 1-5 1 35 1-7 1-13 1 16 1-3 1-32 1 8 1 0 1-5 1 18 1-28 1 28 1-2 1-22 1 5 1 0 1-1 1 2 1-21 1-4 1-2 1-21 1-9 1-2 1-17 1-28 1-5 1 4 1-21 1-31 1-47 1-21 1-21 1-62 1-43 1-51 1-26 1-50 1-6 1-22 1 21 1 48 1 44 1 102 1 57 1 79 1 4 1 24 1 22 1-37 1-24 1-52 1 15 1-20 1 19 1-15 1 26 1 24 1 14 1 13 1 20 1 14 1 2 1-39 1 15 1 9 1 35 1-12 1 52 1-29 1 27 1 27 1 22 1 32 1 4 1-11 1 8 1 9 1-14 1 21 1 17 1-32 1 33 1 15 1 4"/><path id="R21" vector-effect="non-scaling-stroke" transform="translate(391.3 0) scale(1.402 0.25)" d="M0 823l1-12 1 2 1 10 1-12 1-22 1 22 1-33 1-34 1-34 1 14 1-37 1-52 1 15 1-12 1-5 1-16 1-28 1-38 1-17 1-18 1 28 1-1 1-1 1-6 1 9 1-9 1-1 1 32 1 0 1-10 1 15 1-12 1 12 1 4 1 6 1 1 1-29 1-6 1 8 1-37 1 3 1 8 1 18 1-13 1 2 1 20 1 20 1-22 1 23 1 11 1-5 1-5 1-4 1-1 1 5 1-13 1-9 1 0 1-11 1 0 1 19 1 5 1 21 1 22 1 20 1 18 1 37 1-18 1 5 1 42 1-18 1 13 1-14 1-4 1-7 1 1 1-11 1 24 1-7 1-13 1-29 1 34 1-31 1 23 1 1 1 17 1-5 1 9 1 13 1 2 1 11 1-17 1 8 1-18 1 2 1-2 1-21 1 14 1 11 1-1 1 2 1-29 1 32 1 8 1-10 1-22 1 18 1 7 1 16 1-8 1 5 1 15 1-2 1-13 1 7 1 16 1-12 1-47 1 27 1 15 1-22 1 14 1-33 1 20 1 4 1-15 1 14 1-8 1-30 1 34 1-16 1-12 1 15 1-7 1 3 1 6 1 3 1 11 1-24 1 36 1-8 1-23 1-43 1-22 1-25 1-58 1-41 1-52 1 7 1-39 1-15 1 7 1 17 1-6 1 29 1 10 1-24 1 22 1-19 1-26 1-59 1-49 1-73 1-76 1-74 1-38 1-12 1 30 1 24 1 66 1 71 1 93 1 64 1 59 1 44 1 49 1-1 1 54 1 14 1-12 1 14 1 34 1 29 1 6 1-4 1-6 1 45 1-9 1 3 1 15 1 10 1 17 1-13 1 20 1-11 1 11 1-21 1 13 1-21"/><path id="R22" vector-effect="non-scaling-stroke" transform="translate(391.3 0) scale(1.402 0.25)" d="M0 801l1-20 1 19 1 11 1-31 1 26 1-18 1-19 1-26 1-44 1-25 1-60 1-75 1-73 1-29 1-62 1-64 1-26 1-21 1-8 1 37 1 65 1 36 1 45 1 34 1 32 1 6 1-16 1 31 1-18 1 24 1-24 1 9 1-27 1-7 1 9 1-20 1-4 1 17 1-8 1-12 1-19 1-55 1-29 1 1 1-12 1 1 1-6 1 21 1 20 1 25 1 16 1-7 1 11 1-29 1-11 1 12 1 4 1 6 1 23 1 15 1 8 1 8 1 7 1 26 1-3 1 28 1 43 1 2 1 21 1 34 1 30 1-48 1 17 1-22 1 15 1 1 1 8 1 24 1-50 1 43 1-18 1 33 1-25 1 18 1-21 1-8 1-18 1 8 1 4 1-2 1 28 1 0 1 4 1 17 1-7 1-25 1 15 1-25 1 1 1 3 1 1 1-7 1 10 1-13 1 25 1-37 1 5 1 30 1-20 1-1 1 16 1-20 1 29 1-9 1 1 1-33 1 12 1-5 1 47 1-12 1-3 1 14 1-20 1 33 1-3 1-1 1 11 1-33 1 17 1-19 1-11 1-21 1 18 1-49 1-9 1-6 1-45 1-18 1-70 1-78 1-35 1-40 1-42 1-43 1-30 1 1 1 2 1-27 1-27 1-27 1-31 1-37 1 7 1 17 1-37 1 38 1 6 1 41 1 48 1 47 1 22 1 41 1 58 1 1 1-8 1 15 1 4 1 26 1 11 1-4 1-7 1 29 1-8 1-6 1 6 1 1 1-1 1 26 1-5 1 14 1 35 1 0 1 5 1 1 1 24 1 52 1 7 1 6 1-6 1-11 1 28 1-17 1 9 1 57 1-17 1 41 1 28 1 24 1 4"/><path id="R23" vector-effect="non-scaling-stroke" transform="translate(391.3 0) scale(1.402 0.25)" d="M0 823l1 0 1 0 1 0 1 0 1 0 1 0 1-21 1-16 1-26 1-15 1-26 1-17 1-12 1-12 1-16 1-1 1-19 1-35 1-10 1 13 1 18 1 4 1-11 1 22 1 18 1 5 1 9 1 11 1 13 1 9 1 23 1-37 1-22 1-4 1-11 1-22 1 4 1-13 1-21 1-7 1 2 1-3 1 27 1-7 1 20 1-16 1-24 1 22 1-28 1-9 1-16 1 25 1-11 1 22 1 23 1 5 1-26 1 23 1-11 1 9 1 20 1-21 1 3 1 17 1 35 1 17 1 4 1 11 1-16 1 30 1-12 1 14 1 5 1-12 1 28 1 1 1 1 1 14 1-14 1 15 1-18 1 20 1-28 1 10 1-10 1-26 1 16 1-11 1-5 1 16 1-31 1 43 1-12 1 15 1-20 1 33 1-16 1-8 1 14 1-25 1 3 1-1 1 19 1 5 1-7 1 24 1-19 1-10 1 15 1-21 1 15 1-17 1 17 1 1 1 2 1 10 1 1 1-1 1-28 1 3 1-13 1 24 1-28 1-12 1 13 1 8 1 5 1-5 1-12 1 5 1-32 1 16 1 1 1-21 1 19 1-10 1-15 1-47 1 0 1-21 1-25 1 3 1-19 1-11 1 10 1-4 1 12 1 10 1-66 1 42 1-1 1-10 1 7 1-1 1-30 1 1 1 1 1 22 1-15 1 8 1-9 1 18 1 15 1-4 1 24 1-14 1 27 1-19 1-4 1 27 1-19 1-4 1 20 1 13 1 15 1-20 1 28 1 20 1-1 1-5 1 22 1 31 1-21 1 5 1 12 1 11 1-1 1 20 1-5 1 50 1-19 1 7 1 6 1 5 1 15 1-7 1 7 1-7 1-2"/><path id="R24" vector-effect="non-scaling-stroke" transform="translate(391.3 0) scale(1.402 0.25)" d="M0 796l1 10 1 10 1 7 1-9 1 6 1-49 1-9 1-12 1-27 1-37 1-52 1-12 1-41 1-34 1-22 1-47 1-23 1-49 1-18 1-6 1 2 1-10 1 29 1 28 1 25 1-3 1 24 1-1 1 33 1 13 1 24 1 16 1-14 1-20 1 12 1-2 1-14 1 18 1-40 1-38 1 8 1-36 1 27 1-18 1-15 1 20 1-25 1 24 1 32 1 6 1 3 1-4 1 1 1 8 1-8 1 11 1-3 1 1 1 2 1 28 1 2 1 27 1 25 1 5 1 31 1 2 1 35 1 14 1 12 1 16 1 17 1-2 1 2 1-3 1-6 1-8 1-20 1-17 1-12 1-16 1 17 1-17 1-9 1-5 1 11 1 8 1-2 1-8 1 16 1 0 1 28 1-12 1 23 1-21 1 9 1 14 1 9 1-5 1-1 1 9 1-30 1 6 1 17 1-24 1-12 1 14 1 7 1 2 1 1 1-5 1-8 1 40 1-4 1-5 1 6 1 8 1-24 1 22 1 2 1-4 1 6 1-26 1 12 1 4 1-44 1 2 1 13 1-10 1 9 1-27 1-29 1 25 1-25 1-7 1 9 1-37 1-31 1-23 1-29 1-47 1-53 1-11 1-51 1-7 1-50 1-30 1-36 1 3 1-58 1-21 1-36 1-3 1 23 1 26 1 22 1 66 1 26 1 36 1 54 1 13 1 9 1 4 1 14 1 4 1-10 1-1 1-10 1 3 1-18 1 19 1 14 1 26 1-6 1 24 1 0 1 25 1 8 1 41 1-11 1 26 1-16 1-12 1 15 1-7 1-11 1 12 1 48 1 37 1-10 1 64 1-13 1 16 1 13 1-11 1-1 1 19 1 17 1-22 1 28"/><path id="R25" vector-effect="non-scaling-stroke" transform="translate(391.3 0) scale(1.402 0.25)" d="M0 804l1 15 1 0 1-12 1 1 1-18 1-3 1-18 1-50 1-13 1-44 1-22 1-48 1-59 1-98 1-114 1-97 1-45 1 50 1 58 1 152 1 65 1 68 1 30 1 8 1-8 1 9 1 12 1-18 1 2 1-10 1-27 1 17 1-5 1-11 1-36 1 21 1 35 1-4 1-24 1 11 1-2 1-7 1-19 1-24 1 28 1-23 1-11 1 24 1 6 1 7 1-8 1-4 1 11 1 0 1 14 1 2 1-2 1 13 1 11 1 25 1-9 1 16 1 9 1 14 1-9 1 25 1 0 1 20 1-9 1-3 1 31 1-36 1 26 1-9 1 13 1-15 1 10 1-4 1-12 1 7 1-9 1 14 1 0 1 6 1-9 1-11 1-12 1 14 1 3 1 7 1-22 1 12 1-23 1 37 1-16 1 2 1-3 1 6 1 34 1-39 1 25 1 7 1-11 1-5 1 23 1 5 1-9 1 33 1 1 1-20 1 11 1-2 1 8 1 6 1-27 1 4 1 10 1 6 1-23 1-11 1 14 1-25 1-18 1-4 1-3 1-11 1-21 1 9 1 21 1-2 1-26 1 0 1 6 1-25 1-36 1 11 1 4 1-29 1-43 1 13 1-29 1 6 1-7 1-41 1-27 1 23 1-26 1-6 1-1 1-10 1 17 1 1 1 0 1-2 1-10 1 11 1 18 1-17 1 1 1-28 1 24 1-28 1 11 1-36 1-53 1-33 1-87 1-54 1-56 1-27 1-22 1 31 1 43 1 78 1 90 1 86 1 50 1 18 1 38 1 8 1 38 1-10 1 26 1 38 1 20 1-5 1 35 1 2 1 21 1 5 1 19 1 1 1 18 1 14 1 21 1 9 1 15 1-8 1-9"/><path id="R26" vector-effect="non-scaling-stroke" transform="translate(391.3 0) scale(1.402 0.25)" d="M0 817l1 6 1-22 1 16 1-9 1 15 1-8 1 8 1-6 1-25 1 4 1-6 1-22 1-25 1-46 1-2 1-8 1-27 1 29 1-17 1 8 1-18 1 17 1-52 1 22 1-28 1-7 1 30 1-11 1 21 1-19 1 3 1 12 1 19 1-24 1-8 1 2 1-6 1-6 1-16 1 25 1 2 1-5 1 22 1-3 1-12 1-9 1 20 1 5 1 7 1-8 1-10 1-7 1 30 1 5 1-24 1-9 1-1 1-12 1 30 1 16 1 8 1-18 1 43 1 2 1-3 1 7 1 18 1 27 1-5 1-12 1 17 1-9 1-12 1 6 1-10 1-8 1 23 1-8 1 15 1 14 1 7 1-38 1 4 1-3 1 4 1-15 1 10 1 5 1 11 1-5 1 10 1 18 1-19 1 28 1-35 1 15 1-15 1 15 1-5 1 11 1-35 1 14 1 1 1 1 1-16 1 17 1-13 1 15 1-30 1 18 1 2 1 12 1-9 1 2 1-8 1 2 1 3 1-19 1 0 1-5 1-25 1 20 1 1 1 0 1 13 1 1 1-32 1 34 1-17 1-3 1-7 1 0 1 5 1-9 1 5 1 9 1 12 1 1 1-3 1-12 1-1 1-3 1-1 1-25 1-24 1-5 1-15 1-40 1-43 1-64 1-50 1 40 1-43 1 54 1 49 1 34 1 24 1 2 1 8 1-28 1 17 1-4 1-15 1 1 1-11 1 19 1 14 1-5 1 14 1-9 1 17 1 20 1-21 1-20 1 23 1 40 1-6 1 0 1-15 1 14 1 2 1 8 1-6 1 2 1-3 1 38 1-13 1 43 1-21 1 12 1 7 1 25 1 20 1-4 1 34 1-2 1-8 1 24 1-6"/><path id="R27" vector-effect="non-scaling-stroke" transform="translate(391.3 0) scale(1.402 0.25)" d="M0 807l1-1 1 8 1-2 1 2 1-22 1 20 1-42 1-13 1-39 1-31 1-48 1-40 1-34 1-49 1-29 1-28 1-17 1-51 1-2 1-12 1 17 1 6 1 48 1-15 1 26 1 21 1 21 1-21 1 1 1-47 1 32 1-13 1-8 1 11 1-22 1 3 1 20 1 0 1 10 1 12 1-45 1 6 1-17 1 8 1-16 1-7 1 8 1 51 1 5 1 36 1-4 1 24 1-13 1-29 1 19 1-21 1-1 1-1 1-20 1-13 1 24 1 23 1 20 1 25 1 29 1 45 1-5 1 27 1 6 1 37 1-34 1-1 1 2 1-8 1 10 1 5 1 4 1-11 1-12 1-27 1 21 1-28 1-1 1 2 1 13 1 9 1-22 1 36 1-11 1 1 1 7 1 21 1-22 1-7 1 9 1-10 1 24 1 15 1 11 1 2 1 10 1-7 1 11 1-11 1 12 1-23 1 12 1 8 1-30 1-3 1 17 1-21 1-37 1 8 1 10 1-2 1 12 1 20 1-6 1-13 1 18 1 5 1-3 1 1 1-12 1 9 1 0 1-25 1-15 1-4 1-4 1-2 1-6 1-8 1-26 1-39 1-6 1-33 1-53 1-46 1-1 1 2 1-36 1 3 1-34 1-41 1-20 1-11 1-42 1-21 1-1 1-3 1-8 1 19 1-23 1-13 1-46 1-27 1-83 1-19 1 0 1 0 1 0 1 0 1 0 1 75 1 66 1 88 1 71 1 64 1 8 1 13 1 16 1-6 1 37 1 1 1-14 1 8 1 0 1-1 1 1 1 3 1 21 1 33 1-23 1 38 1-1 1 40 1 44 1-6 1 37 1-5 1 4 1 13 1-7 1 6 1 0 1 17 1 14"/><path id="R28" vector-effect="non-scaling-stroke" transform="translate(391.3 0) scale(1.402 0.25)" d="M0 780l1 15 1-4 1 32 1-35 1 9 1-16 1-10 1-2 1-61 1-40 1-63 1-58 1-63 1-36 1-64 1-51 1-20 1-16 1-27 1 59 1 21 1-5 1 49 1 16 1 8 1 14 1-17 1 20 1 17 1-10 1 4 1 23 1-30 1 19 1-26 1-18 1 12 1-1 1-48 1-5 1-18 1-26 1 34 1-23 1 34 1-6 1-11 1 1 1 43 1 15 1-1 1 12 1 10 1-42 1 38 1-10 1-2 1 14 1 8 1-6 1 24 1 51 1 8 1 43 1 14 1 20 1 27 1-15 1 28 1 28 1-23 1 15 1-8 1 5 1-14 1 13 1-17 1-13 1-14 1-15 1 43 1-9 1-11 1 4 1-5 1 1 1-5 1-23 1 18 1 7 1 1 1-3 1 16 1 27 1-9 1 14 1 15 1-3 1 7 1-5 1 11 1 6 1-8 1-1 1 0 1-5 1 9 1-16 1-9 1 3 1 1 1 0 1 14 1-31 1-13 1-10 1 13 1 17 1-20 1-16 1 39 1-9 1 7 1-9 1-8 1-2 1-11 1 1 1 23 1-9 1-17 1-6 1 27 1-40 1-29 1-9 1-42 1-29 1-59 1-23 1-36 1 12 1-15 1 21 1 28 1 0 1-17 1-59 1-91 1-90 1-89 1-67 1-19 1 0 1 0 1 0 1 26 1 40 1 74 1 73 1 25 1 47 1-23 1 28 1-10 1-38 1-82 1-36 1-28 1-13 1-29 1 57 1 40 1 62 1 31 1 15 1 76 1 9 1 28 1 18 1 28 1-22 1 30 1 32 1-3 1 2 1 37 1 32 1 14 1 27 1 9 1-20 1 19 1-18 1 22 1 9 1-3 1 21 1-37"/><path id="R29" vector-effect="non-scaling-stroke" transform="translate(391.3 0) scale(1.402 0.25)" d="M0 793l1-6 1 30 1-17 1-5 1-14 1-28 1-64 1 0 1-55 1-65 1-44 1-47 1-32 1-67 1-65 1-96 1-11 1-28 1-18 1 28 1 63 1 15 1 86 1 4 1 56 1 35 1-22 1 23 1-6 1 6 1-14 1-22 1-1 1-14 1-6 1-17 1 19 1-9 1 15 1-21 1-6 1-11 1 30 1-54 1 21 1-9 1 2 1 12 1 8 1 5 1 13 1 3 1-17 1-30 1-3 1-4 1 7 1 35 1 22 1 35 1 45 1 55 1 9 1 26 1 17 1 18 1 12 1-1 1 12 1-5 1-43 1 3 1-27 1 7 1-30 1 15 1-11 1-3 1 4 1-6 1 30 1-7 1 42 1-20 1 9 1-22 1 1 1 16 1 20 1-2 1-2 1-3 1 24 1-11 1-4 1 4 1 9 1-20 1 4 1-2 1 9 1 9 1 32 1-25 1 13 1-18 1 19 1 8 1-9 1-1 1 2 1-5 1 14 1-20 1-19 1 13 1 8 1 2 1-17 1-5 1 3 1 20 1-15 1 13 1-17 1 0 1-15 1-38 1-2 1-17 1-34 1-33 1 9 1-50 1-39 1-31 1-40 1-30 1-41 1-18 1 11 1-11 1-9 1-38 1-22 1-43 1-29 1-36 1-27 1-41 1 0 1 0 1 0 1 0 1 0 1 0 1 0 1 0 1 0 1 0 1 0 1 0 1 0 1 4 1 16 1 24 1-2 1 56 1 32 1 35 1-27 1 72 1 2 1-13 1 9 1 5 1 6 1 16 1-8 1 15 1 53 1-16 1 59 1 6 1 31 1 47 1 32 1 2 1 24 1 24 1 63 1-52 1 19 1 33 1-22 1 3 1-2 1 6 1-4"/><path id="R30" vector-effect="non-scaling-stroke" transform="translate(391.3 0) scale(1.402 0.25)" d="M0 806l1 16 1-1 1-16 1 18 1-3 1 3 1-11 1 10 1 0 1-35 1 13 1-34 1-9 1 8 1-18 1 3 1-28 1 24 1-30 1 18 1-36 1 21 1-41 1-4 1 18 1 1 1 22 1 2 1 7 1-3 1-29 1 13 1-51 1 22 1-2 1-20 1-19 1 10 1-9 1-3 1-20 1 6 1 7 1-23 1 4 1 16 1-3 1-2 1 35 1 4 1 1 1 21 1 15 1 3 1-7 1-17 1-15 1 23 1-18 1 29 1-37 1 7 1-14 1 39 1 7 1-2 1 50 1-14 1 12 1 21 1-11 1 65 1-26 1 25 1-2 1-11 1 3 1-31 1-10 1 18 1-60 1 25 1-13 1-5 1-17 1 19 1 6 1 6 1 15 1-13 1 19 1 14 1 7 1-49 1 37 1-15 1-12 1-19 1 26 1-7 1 9 1-11 1 25 1-39 1 19 1-4 1 5 1 27 1-10 1-1 1-1 1-27 1 20 1-36 1 42 1-6 1-8 1 4 1 20 1 6 1-7 1-18 1 7 1 41 1-10 1-31 1-8 1 1 1-37 1 19 1-15 1-12 1-29 1 5 1 12 1-3 1-17 1 32 1 8 1-8 1-27 1 44 1-54 1 21 1-9 1-10 1 9 1-14 1 12 1 40 1 32 1 11 1 32 1-26 1-3 1-34 1-51 1-27 1-13 1-31 1-10 1-4 1-13 1-7 1 29 1-48 1 65 1-37 1-1 1 21 1-25 1 19 1-17 1 33 1-7 1 3 1 45 1 2 1 39 1 5 1 7 1 27 1-11 1 27 1 50 1-18 1 8 1 28 1-32 1 12 1-26 1 11 1 29 1-1 1-1 1 10 1 0 1 0 1 0"/><path id="R31" vector-effect="non-scaling-stroke" transform="translate(391.3 0) scale(1.402 0.25)" d="M0 814l1-15 1 3 1 10 1 2 1-28 1-14 1-37 1-35 1-50 1-43 1-37 1-38 1-24 1-4 1-37 1-22 1 18 1 41 1-27 1 9 1-8 1-25 1 4 1-10 1 5 1 13 1 20 1-12 1 15 1 5 1 2 1-6 1-27 1 6 1 21 1-21 1-10 1-3 1 3 1 5 1-51 1-6 1-9 1 1 1-11 1 8 1 9 1 7 1 21 1 24 1 14 1-11 1-11 1-28 1 38 1-20 1 11 1-24 1 56 1 14 1 46 1 27 1 11 1 15 1 16 1 27 1 10 1 10 1 35 1-10 1-12 1-1 1-9 1-5 1-11 1-7 1-2 1-29 1 30 1-30 1-4 1 23 1-1 1 20 1-18 1 50 1-18 1 3 1-11 1 12 1-33 1 18 1 7 1-9 1-16 1 1 1 13 1-9 1 12 1 29 1-13 1-5 1 13 1-13 1 8 1 2 1-28 1 4 1 22 1-7 1 6 1 2 1 29 1-22 1-11 1 13 1 2 1-14 1 3 1-1 1-33 1 16 1-14 1 23 1-18 1-9 1 3 1 5 1-31 1-17 1-10 1 10 1-11 1-47 1-20 1 1 1-50 1-9 1-45 1 4 1-2 1-15 1 45 1-7 1 32 1 13 1 1 1-50 1-75 1-64 1-73 1-75 1-20 1-10 1 7 1 57 1 56 1-6 1 2 1-9 1-70 1 15 1-21 1-1 1-16 1 75 1-19 1 52 1 29 1 14 1-2 1 23 1-6 1-20 1 23 1 37 1 8 1 62 1-12 1 38 1 30 1 9 1 11 1-8 1 0 1 39 1 23 1 36 1 11 1 18 1 28 1 3 1 36 1-7 1-1 1 31 1 17 1 15 1-17"/><path id="Rx0" vector-effect="non-scaling-stroke" transform="translate(391.3 0) scale(1.402 0.25)" d="M0 797l1 22 1 2 1 0 1-42 1 6 1 24 1-8 1-15 1-13 1-12 1-44 1-64 1-197 1-191 1-179 1 54 1 145 1 167 1 56 1 10 1 43 1-12 1 34 1-10 1 14 1-13 1 15 1 5 1 15 1 1 1-5 1 6 1 27 1-15 1-7 1 4 1-8 1 12 1-32 1-22 1-7 1 9 1-12 1-17 1 21 1-39 1 37 1-32 1 29 1 12 1-16 1 22 1-3 1-2 1-4 1 12 1-33 1 12 1 2 1 27 1 21 1 15 1 32 1 23 1 17 1 29 1 5 1 6 1-16 1-4 1 3 1-6 1-19 1 15 1-10 1-5 1-5 1 5 1 17 1-2 1-20 1-16 1 14 1 8 1 10 1 45 1-3 1-8 1-27 1-7 1-7 1 35 1-19 1-39 1 20 1 12 1 42 1-47 1-3 1-21 1 0 1 4 1 14 1 39 1 3 1-3 1 22 1-17 1-3 1 8 1-11 1-14 1 8 1-1 1-3 1-47 1 39 1-36 1 22 1-2 1-6 1-29 1 31 1-37 1 27 1 30 1-4 1-14 1 16 1-5 1-1 1-22 1 10 1-18 1-26 1-26 1-1 1-2 1-9 1-23 1-49 1 13 1-23 1-9 1-1 1 6 1 5 1-23 1-3 1 24 1-17 1-16 1-6 1 9 1-19 1 10 1-13 1-13 1-21 1 25 1 0 1 21 1-3 1 7 1 6 1-36 1 60 1-45 1-2 1 7 1 3 1 9 1 16 1 17 1-5 1 52 1 18 1 23 1 3 1-8 1 22 1-44 1 18 1 13 1 1 1 14 1 32 1-15 1 31 1 1 1 5 1-1 1 8 1 2 1 38 1 2 1 11 1-19 1 9"/><path id="Rx1" vector-effect="non-scaling-stroke" transform="translate(391.3 0) scale(1.402 0.25)" d="M0 765l1 23 1 6 1 18 1-14 1-25 1 19 1-23 1-6 1-24 1-21 1-23 1-64 1-2 1-45 1-62 1-141 1-110 1-54 1 44 1 103 1 82 1 71 1 0 1 23 1 19 1 17 1-27 1 25 1-3 1 4 1 28 1-5 1-17 1 13 1-23 1-6 1 14 1-5 1 6 1-24 1 15 1-6 1-20 1-2 1-7 1 15 1 8 1-4 1-11 1-16 1-3 1-1 1 26 1 23 1 11 1 13 1-19 1-14 1-12 1 25 1 13 1 25 1 8 1 29 1 30 1 9 1 24 1-18 1 12 1-18 1 26 1 10 1-19 1 23 1-16 1 10 1 6 1 1 1-19 1 27 1-16 1 34 1-21 1-26 1-18 1 13 1-6 1-7 1 9 1 2 1 0 1-1 1-14 1 4 1-7 1-18 1-5 1 18 1 11 1 7 1 2 1 3 1 2 1-10 1 6 1 11 1 20 1 0 1-1 1-7 1 12 1-34 1-16 1 19 1-16 1-1 1 10 1-10 1 23 1-6 1-18 1 11 1 9 1 19 1-28 1-14 1-8 1-2 1 10 1-17 1-5 1-3 1-5 1-15 1-3 1-5 1-5 1-8 1 19 1-22 1-9 1-5 1-20 1-9 1-39 1-9 1-14 1-13 1 12 1-4 1 21 1-7 1-10 1 7 1-7 1 2 1-21 1-19 1 33 1-27 1 4 1-14 1 18 1-13 1 11 1-7 1 29 1 8 1 11 1-12 1 14 1 8 1-9 1 12 1 27 1-12 1 17 1-5 1 5 1 18 1 28 1-18 1 13 1 9 1-10 1-5 1 28 1 14 1 32 1-3 1 7 1 24 1 14 1 11 1 4 1-21 1 13 1-8 1 0"/><path id="Rx2" vector-effect="non-scaling-stroke" transform="translate(391.3 0) scale(1.402 0.25)" d="M0 817l1 4 1 0 1 0 1-10 1 2 1-3 1-27 1 31 1-70 1 18 1-37 1-40 1-41 1-30 1-7 1-26 1-3 1-8 1-26 1 18 1 6 1-6 1-4 1 5 1 33 1-9 1 12 1-23 1 20 1-20 1 20 1 20 1 21 1-27 1-18 1-2 1-27 1 26 1-6 1-26 1 33 1 2 1-15 1-20 1-4 1-4 1 31 1-2 1-35 1-24 1 18 1-2 1 23 1-10 1 22 1-2 1 3 1 8 1-7 1-19 1 39 1 36 1 4 1 41 1 0 1 24 1 30 1-9 1-19 1 18 1-1 1 10 1 6 1 20 1-55 1-8 1 0 1 0 1 7 1 4 1 3 1-10 1 7 1-8 1-5 1 33 1 16 1 3 1 2 1 3 1 22 1-29 1-26 1 6 1-28 1 19 1 25 1 3 1 32 1-25 1-8 1-7 1-4 1 11 1-9 1-39 1 29 1-9 1 11 1 3 1 22 1-11 1-4 1-6 1-13 1-17 1 30 1 1 1 17 1-1 1 1 1-19 1 4 1-21 1 7 1-12 1 6 1-21 1 4 1-16 1 3 1 5 1-12 1-24 1-10 1 2 1-23 1 32 1-4 1-44 1 16 1-21 1-26 1-6 1-22 1-26 1-53 1-66 1-61 1-90 1-69 1-46 1-26 1 57 1 76 1 61 1 45 1 53 1 24 1 3 1 28 1 29 1 12 1-25 1 21 1 15 1-31 1-5 1-2 1 6 1 13 1 27 1 13 1 15 1 11 1 25 1 2 1-11 1 23 1 2 1 10 1-4 1 15 1-13 1 14 1-13 1 55 1 2 1 20 1 19 1-4 1 12 1 20 1 18 1-3 1-5 1 3 1 31 1-8"/><path id="Rx3" vector-effect="non-scaling-stroke" transform="translate(391.3 0) scale(1.402 0.25)" d="M0 804l1 2 1 0 1 15 1-12 1-5 1 15 1-38 1-26 1-2 1-30 1-23 1-26 1-4 1-2 1-31 1-41 1-21 1 0 1 0 1 0 1 9 1 19 1 17 1 12 1-16 1-20 1-1 1-9 1-17 1-5 1 5 1 14 1-21 1-10 1 9 1-14 1-5 1 23 1-29 1 4 1 12 1 20 1-6 1-8 1-8 1 7 1 5 1 25 1-1 1 17 1-30 1 28 1-16 1 15 1-3 1-8 1-9 1-4 1 15 1 14 1 20 1-8 1 13 1 9 1 17 1 29 1 15 1 11 1 6 1-12 1 1 1 16 1-22 1 0 1-3 1 11 1 2 1 8 1-17 1-17 1 19 1 9 1 2 1-22 1 40 1-5 1 6 1 19 1-7 1 17 1-13 1-7 1 12 1-3 1-21 1 0 1 8 1-27 1 32 1 18 1-19 1-5 1-23 1-15 1-9 1-12 1-3 1 5 1 17 1 3 1-1 1 3 1 11 1-5 1 27 1-15 1-20 1 4 1-13 1 7 1-7 1 10 1 33 1-40 1 0 1 5 1-4 1-15 1 4 1-15 1 32 1-22 1-35 1 2 1-21 1 4 1-8 1-9 1 6 1-16 1-3 1-18 1 24 1-50 1-17 1-24 1 7 1 5 1-18 1-12 1-21 1-34 1-44 1-51 1-57 1-53 1-49 1-49 1-16 1 0 1 36 1 52 1 59 1 63 1 64 1 45 1 13 1 27 1 5 1 11 1 30 1 12 1-2 1 26 1-1 1-4 1 13 1 7 1 6 1 3 1 17 1 7 1-3 1 11 1 13 1-17 1 21 1 4 1 12 1 11 1 0 1 30 1 3 1-2 1-15 1-6 1 24 1 17 1 12"/><path id="Rx4" vector-effect="non-scaling-stroke" transform="translate(391.3 0) scale(1.402 0.25)" d="M0 814l1-6 1 13 1 0 1 0 1 0 1 0 1-22 1 1 1-36 1-15 1-38 1-30 1-28 1-27 1-6 1 2 1-23 1-20 1-18 1-10 1-20 1 22 1-6 1 13 1 35 1 3 1 41 1-14 1-23 1-4 1-15 1 9 1 15 1-16 1-17 1-2 1-2 1 2 1 17 1-19 1 6 1-14 1 14 1-20 1-3 1 13 1 14 1-21 1 3 1 15 1 8 1-4 1-18 1-14 1-23 1 14 1 30 1 26 1 4 1 2 1 13 1 19 1-19 1 17 1 28 1 19 1 25 1-26 1 16 1-5 1 33 1-14 1-24 1 1 1-5 1 29 1-10 1 12 1-23 1 6 1-22 1 28 1-4 1 1 1 1 1 20 1-16 1-4 1 14 1 17 1-12 1 1 1-1 1-25 1 13 1 1 1 2 1 8 1 1 1-27 1 9 1-3 1 7 1-11 1 40 1-12 1-8 1-9 1 14 1 12 1-15 1-6 1-6 1 15 1 8 1 17 1 2 1-7 1-11 1-14 1 6 1-8 1-12 1 9 1-1 1-26 1 8 1-7 1 5 1-8 1 14 1-8 1-32 1 2 1-1 1-10 1 2 1-4 1-31 1 3 1-20 1-28 1-8 1-21 1 0 1-12 1-1 1 17 1-37 1 3 1-30 1-4 1-28 1 16 1 19 1-19 1-3 1-19 1-52 1-33 1-61 1-13 1-19 1-30 1 7 1-11 1-40 1 36 1 21 1 28 1 96 1 36 1 53 1 29 1 27 1 36 1 4 1 22 1 14 1 0 1 21 1-6 1 42 1-6 1 16 1 8 1 19 1-16 1 10 1 10 1 29 1-9 1 4 1 8 1 17 1 22 1 1 1-14 1 15"/><path id="Rx5" vector-effect="non-scaling-stroke" transform="translate(391.3 0) scale(1.402 0.25)" d="M0 821l1 0 1-16 1-11 1 1 1-5 1-25 1-17 1-21 1 23 1-38 1 0 1-65 1-2 1-4 1-20 1-49 1 9 1 5 1 10 1 13 1-19 1-5 1-29 1 1 1 17 1-17 1 16 1-14 1 25 1 13 1 12 1 17 1 2 1-27 1-7 1-5 1 5 1-6 1 20 1-15 1-31 1-1 1-4 1 18 1-11 1 7 1-7 1-32 1 12 1 11 1-27 1 12 1-23 1 40 1-12 1 14 1-9 1-10 1 16 1-1 1 19 1 26 1 12 1 9 1 33 1 26 1 29 1 11 1 1 1 0 1 13 1-12 1-22 1 26 1-22 1 22 1-1 1-39 1 27 1-13 1-2 1-1 1 9 1 1 1-37 1-13 1 16 1-10 1 45 1 21 1-6 1 1 1-35 1 7 1 15 1-15 1-7 1-4 1 2 1-5 1-19 1-2 1 4 1 18 1 6 1 1 1-11 1 13 1 12 1-23 1 13 1-6 1-19 1 2 1 2 1-17 1 16 1 18 1 23 1 17 1-15 1-9 1-4 1 3 1-20 1 20 1-10 1-16 1 12 1-25 1-18 1 2 1 32 1-24 1-2 1-20 1-45 1-25 1 23 1 25 1-19 1 16 1-64 1 12 1-26 1-18 1-11 1-1 1 3 1-9 1-31 1-59 1-93 1-112 1-108 1-8 1 20 1 115 1 100 1 73 1 60 1 52 1 1 1-13 1-6 1-4 1-13 1 23 1-15 1-14 1 14 1 24 1 17 1 20 1 16 1-15 1 7 1 19 1-2 1 10 1 12 1 16 1 44 1 33 1-11 1-6 1 18 1-25 1-10 1 35 1 17 1-26 1 26 1 14 1 15 1-20 1 43 1-21 1 20"/></defs>
<clipPath id="bandR"><path d="M391.3 199.9l.9 2.1 1 .7.9 1.5.9.8 1-1.9.9.7.9-.8 1-.6.9-1.8.9-3.5 1-.5.9-2.8.9-6.1 1-2.1.9-5.7.9-4 1-5 .9-7.2.9-3.7 1-6.7 1.8-10.9 1-8.2.9-5.2.9-2.8 1-3.9.9-4.2.9-5.5 1-.6.9 1.1.9.2 1-2.2.9.8.9 4.3 1 3.5.9 1.2.9 4 2.8 4.2 1 1.1.9.3.9 3.9 1-.3.9-1.2.9.8 1-.6.9 2.1.9-2.5 1.9 2.4 1.9-.9.9-2.6.9 2 1-1.6.9 1.1.9-3 1 1.2.9-3 .9-1 1-2.6.9-.9.9-.7 1 1 .9-2.6.9-.2 1 1.1 1.8-2.6 1 .7.9-1.6.9 1.1 1.9 8.7.9.3.9 1.4 1-2.6.9-1.8.9 1.4 1-3.6.9-2.8.9 3.8 1 .7.9-.2.9 1.7 1 0 .9.4.9-.3 1 3.2.9 1.3.9 4 1 6 .9 1 .9 3.2 1 2 .9 7.9.9-2.2 1.9 9.5.9-.2 1 1.9.9 3.4.9 1.6 1 .6.9-1.9.9 1.9 1-2.7.9 0 .9-.4 1 1.3 1.8-2.5 1 .7.9-2.1.9-.3 1-.8 1.8-3 1-1 .9 2.6.9-4 1 3.1.9-1.2.9.4 1-.9.9 2.6.9-.2 1 2.5.9-1.7.9-.3 1 .4.9 3.3.9.1 1-.6.9 3.1.9-1.3 1-.3.9 1.4.9-1.8 1 1.8.9-1.4.9 2.4 1 .3.9-.7.9 1.7 1-2.1.9 1.7.9-.7 1-1.2.9 2.6.9 1.5 1 1.8.9-3.7.9.5 1 1.6.9-3.4.9 3.2 1-4 .9.6.9 1.2 1-.2.9 1.7.9-2.6 1 1.2.9-.3 1.9 1.3.9.4.9-.8 1 .1.9-.5.9-2.1 1-.3.9 2.8.9-2.2 1 .7.9 1.2 1.9-1.7.9-.4.9 1 1 1.5.9-4.4.9 1.5 1 1.2.9-1.4.9-1.5 1 .3 1.8-.3 1-4.4.9-.3.9.1 1-1.4.9-1.9.9-1.6 1-1.3.9-2.5.9.5 1-7 .9-3.1.9-5.1 1-1.3 2.8-13 .9 1 .9-4.6 1-2.2.9-5.3.9-.4 1-2.1.9-.7.9-3.6 1-1.6.9-5.4.9-.4 1-1.6 1.8-4.2 1-1.7.9.5.9-3.6.9-.1 1-1.6.9-2.6.9-.2 1-3.5 1.8 5.3 1-1.4.9-.9.9 4.9 1-1.8.9 4.3 1.9-1.9.9 1.4.9 3.6 1-1.2.9.3.9.9 1.9.4.9 2.4 1 2 .9-.7.9 3.1 1 .9.9-1.8.9 4.6 1 2.5.9-2.6.9 3.5 1 2.8.9-.3.9 2.5 1 .9.9.5.9 2.4 1 .9.9 1.9.9 1.4 1 .6.9 1.4.9 1.9 1 3.1.9-.1.9 4.9 1-.9.9 5.4.9-.8 1.9 3.5.9 3.2 1 1.5.9.5.9 3.4 1 2.5.9 1.7.9 3.3 1-2.8.9 4.7.9 1.4 1.9 6.5.9-2.8 1.9 4.1.9 2.8 1 1.4.9-1.1.9 3.1 1-.1.9 2.3.9-.3 1 1.4.9 0 0 21.3-.9-2.3-1 1.5-.9.3-1.9-3.6-.9-.6-.9.1-1-3.5-.9-.2-.9-1-1-1.8-.9-1-.9-.2-1-2.4-.9-.8-.9 0-1-1.2-.9-1.8-.9-.3-1.9-.9-.9-3.1-1-1.5-2.8-3-1.8-3.6-1 1.3-.9-3.9-.9-2.1-1-.2-.9-1.3-.9-.5-1 .5-.9-1.9-.9-2.7-1-1.6-.9-1.3-.9.4-1-4.4-.9 2.6-2.8-6.9-.9 1.8-1-3.2-.9 2.7-.9-1.6-1-.7-.9.5-.9-.4-1 .6-.9 2.4-.9-.8-1 1.2-.9 2.5-.9 1.3-1-.6-.9.9-.9 2.1-1-.6-.9 3.8-.9.3-1-1.5-.9 2.6-.9.5-1-1.6-.9 2.4-.9-.8-1 .5-.9.3-.9 2.2-1-2.1-.9-.8-.9-.5-.9 1-1-1.4-.9 2.5-.9.4-1-.7-.9-1.5-1.9 2.1-.9 1.4-1.9.2-.9 2.4-.9.7-1 2.8-.9 1.1-.9-2-1 1.7-.9 4.7-.9-2.2-1 2.5-.9-1.1-.9 4.1-1-.3-.9.5-1.9 3.9-.9-.1-.9 1-1 .2-.9-1.7-.9 2.3-1-1.4-.9 2.2-.9 1.8-1 .2-.9-1.7-.9 1-1 0-.9-.9-.9 3-1-2.7-.9.8-.9 1.4-1-.9-.9.4-.9 1.5-1-1.1-.9-.4-.9.8-1 .3-.9-1.5-.9-.4-1 .3-.9-1-.9 1-1 0-.9-.6-.9 1.5-1-2.4-.9 1.6-.9-1.6-1-1.1-.9 2.6-.9-.1-1-1.6-.9.7-.9 1.1-1-1.6-.9.9-.9 3.1-1-1.9-.9.8-.9-1-1 .1-.9.8-.9-1-1 2.6-.9-1.6-.9 2-1-.3-.9-.1-.9-1.3-1 2.5-.9-.2-.9-1.4-1 .6-.9-.1-.9 1.5-1-1.2-.9 2.6-.9-3.6-1 .5-.9-2.3-.9 1.6-1-.2-.9-1-.9-.5-1-1.1-.9 2.8-.9-1-1 .7-.9.4-.9 1.8-1-1.3-.9-.2-.9 2.4-1-.7-.9.1-.9-1-1 2.4-.9-.7-.9.3-1.9-2.9-.9 2.3-1-3.1-.9 0-.9-.8-1-1.4-.9-.5-.9-.9-1-2.4-.9.5-.9-3.5-1-.1-1.8-3.8-1-.9-.9-3-.9-1.5-1-2.2-.9-3.6-.9 2-1-2.2-.9 1.4-.9-.8-1-.1-.9-1.2-.9-1-1 1.6-.9 0-.9-.3-2.8-2.9-1 .6-.9 1-.9-.9-.9-.2-1-1-.9-1.1-.9 1.2-1 .8-.9.3-.9-.3-1 .4-.9-.3-.9.7-1-1.5-.9 4.6-.9-2.9-1 .3-.9 1.7-.9.9-1-1.2-.9 2.3-.9-.7-1 1.2-.9 1-.9.5-1-1-.9 1.4-.9.3-1-1.1-.9-.2-.9 1.4-1-2-.9 1.4-.9.1-1 2.5-.9-2.9-.9.4-1 1-.9-1.8-.9.6-1-.5-.9-.1-.9-.6-1-1-.9.5-.9-.3-1-1.5-.9 5.9-.9-.2-1 1.5-.9 4.2-1.9 5.5-.9 3.5-2.8 9.2-.9 6.7-1 .1-.9 4.7-.9.5-1 .2-.9.7-.9-1.6-1 1.7-.9 0-.9-.4-1 .2-.9-.1-.9.3-1-1.2-.9 1.2-.9-1.1-1 1.1-1.8 0-1-1.5-.9 1.2z"/></clipPath>
<g clip-path="url(#clipAR)">
<g fill="none" stroke="#c2c2c2" stroke-width="0.6"><use href="#R0"/><use href="#R1"/><use href="#R2"/><use href="#R3"/><use href="#R4"/><use href="#R5"/><use href="#R6"/><use href="#R7"/><use href="#R8"/><use href="#R9"/><use href="#R10"/><use href="#R11"/><use href="#R12"/><use href="#R13"/><use href="#R14"/><use href="#R15"/><use href="#R16"/><use href="#R17"/><use href="#R18"/><use href="#R19"/><use href="#R20"/><use href="#R21"/><use href="#R22"/><use href="#R23"/><use href="#R24"/><use href="#R25"/><use href="#R26"/><use href="#R27"/><use href="#R28"/><use href="#R29"/><use href="#R30"/><use href="#R31"/><use href="#Rx0"/><use href="#Rx1"/><use href="#Rx2"/><use href="#Rx3"/><use href="#Rx4"/><use href="#Rx5"/></g>
<path d="M391.3 199.9l.9 2.1 1 .7.9 1.5.9.8 1-1.9.9.7.9-.8 1-.6.9-1.8.9-3.5 1-.5.9-2.8.9-6.1 1-2.1.9-5.7.9-4 1-5 .9-7.2.9-3.7 1-6.7 1.8-10.9 1-8.2.9-5.2.9-2.8 1-3.9.9-4.2.9-5.5 1-.6.9 1.1.9.2 1-2.2.9.8.9 4.3 1 3.5.9 1.2.9 4 2.8 4.2 1 1.1.9.3.9 3.9 1-.3.9-1.2.9.8 1-.6.9 2.1.9-2.5 1.9 2.4 1.9-.9.9-2.6.9 2 1-1.6.9 1.1.9-3 1 1.2.9-3 .9-1 1-2.6.9-.9.9-.7 1 1 .9-2.6.9-.2 1 1.1 1.8-2.6 1 .7.9-1.6.9 1.1 1.9 8.7.9.3.9 1.4 1-2.6.9-1.8.9 1.4 1-3.6.9-2.8.9 3.8 1 .7.9-.2.9 1.7 1 0 .9.4.9-.3 1 3.2.9 1.3.9 4 1 6 .9 1 .9 3.2 1 2 .9 7.9.9-2.2 1.9 9.5.9-.2 1 1.9.9 3.4.9 1.6 1 .6.9-1.9.9 1.9 1-2.7.9 0 .9-.4 1 1.3 1.8-2.5 1 .7.9-2.1.9-.3 1-.8 1.8-3 1-1 .9 2.6.9-4 1 3.1.9-1.2.9.4 1-.9.9 2.6.9-.2 1 2.5.9-1.7.9-.3 1 .4.9 3.3.9.1 1-.6.9 3.1.9-1.3 1-.3.9 1.4.9-1.8 1 1.8.9-1.4.9 2.4 1 .3.9-.7.9 1.7 1-2.1.9 1.7.9-.7 1-1.2.9 2.6.9 1.5 1 1.8.9-3.7.9.5 1 1.6.9-3.4.9 3.2 1-4 .9.6.9 1.2 1-.2.9 1.7.9-2.6 1 1.2.9-.3 1.9 1.3.9.4.9-.8 1 .1.9-.5.9-2.1 1-.3.9 2.8.9-2.2 1 .7.9 1.2 1.9-1.7.9-.4.9 1 1 1.5.9-4.4.9 1.5 1 1.2.9-1.4.9-1.5 1 .3 1.8-.3 1-4.4.9-.3.9.1 1-1.4.9-1.9.9-1.6 1-1.3.9-2.5.9.5 1-7 .9-3.1.9-5.1 1-1.3 2.8-13 .9 1 .9-4.6 1-2.2.9-5.3.9-.4 1-2.1.9-.7.9-3.6 1-1.6.9-5.4.9-.4 1-1.6 1.8-4.2 1-1.7.9.5.9-3.6.9-.1 1-1.6.9-2.6.9-.2 1-3.5 1.8 5.3 1-1.4.9-.9.9 4.9 1-1.8.9 4.3 1.9-1.9.9 1.4.9 3.6 1-1.2.9.3.9.9 1.9.4.9 2.4 1 2 .9-.7.9 3.1 1 .9.9-1.8.9 4.6 1 2.5.9-2.6.9 3.5 1 2.8.9-.3.9 2.5 1 .9.9.5.9 2.4 1 .9.9 1.9.9 1.4 1 .6.9 1.4.9 1.9 1 3.1.9-.1.9 4.9 1-.9.9 5.4.9-.8 1.9 3.5.9 3.2 1 1.5.9.5.9 3.4 1 2.5.9 1.7.9 3.3 1-2.8.9 4.7.9 1.4 1.9 6.5.9-2.8 1.9 4.1.9 2.8 1 1.4.9-1.1.9 3.1 1-.1.9 2.3.9-.3 1 1.4.9 0 0 21.3-.9-2.3-1 1.5-.9.3-1.9-3.6-.9-.6-.9.1-1-3.5-.9-.2-.9-1-1-1.8-.9-1-.9-.2-1-2.4-.9-.8-.9 0-1-1.2-.9-1.8-.9-.3-1.9-.9-.9-3.1-1-1.5-2.8-3-1.8-3.6-1 1.3-.9-3.9-.9-2.1-1-.2-.9-1.3-.9-.5-1 .5-.9-1.9-.9-2.7-1-1.6-.9-1.3-.9.4-1-4.4-.9 2.6-2.8-6.9-.9 1.8-1-3.2-.9 2.7-.9-1.6-1-.7-.9.5-.9-.4-1 .6-.9 2.4-.9-.8-1 1.2-.9 2.5-.9 1.3-1-.6-.9.9-.9 2.1-1-.6-.9 3.8-.9.3-1-1.5-.9 2.6-.9.5-1-1.6-.9 2.4-.9-.8-1 .5-.9.3-.9 2.2-1-2.1-.9-.8-.9-.5-.9 1-1-1.4-.9 2.5-.9.4-1-.7-.9-1.5-1.9 2.1-.9 1.4-1.9.2-.9 2.4-.9.7-1 2.8-.9 1.1-.9-2-1 1.7-.9 4.7-.9-2.2-1 2.5-.9-1.1-.9 4.1-1-.3-.9.5-1.9 3.9-.9-.1-.9 1-1 .2-.9-1.7-.9 2.3-1-1.4-.9 2.2-.9 1.8-1 .2-.9-1.7-.9 1-1 0-.9-.9-.9 3-1-2.7-.9.8-.9 1.4-1-.9-.9.4-.9 1.5-1-1.1-.9-.4-.9.8-1 .3-.9-1.5-.9-.4-1 .3-.9-1-.9 1-1 0-.9-.6-.9 1.5-1-2.4-.9 1.6-.9-1.6-1-1.1-.9 2.6-.9-.1-1-1.6-.9.7-.9 1.1-1-1.6-.9.9-.9 3.1-1-1.9-.9.8-.9-1-1 .1-.9.8-.9-1-1 2.6-.9-1.6-.9 2-1-.3-.9-.1-.9-1.3-1 2.5-.9-.2-.9-1.4-1 .6-.9-.1-.9 1.5-1-1.2-.9 2.6-.9-3.6-1 .5-.9-2.3-.9 1.6-1-.2-.9-1-.9-.5-1-1.1-.9 2.8-.9-1-1 .7-.9.4-.9 1.8-1-1.3-.9-.2-.9 2.4-1-.7-.9.1-.9-1-1 2.4-.9-.7-.9.3-1.9-2.9-.9 2.3-1-3.1-.9 0-.9-.8-1-1.4-.9-.5-.9-.9-1-2.4-.9.5-.9-3.5-1-.1-1.8-3.8-1-.9-.9-3-.9-1.5-1-2.2-.9-3.6-.9 2-1-2.2-.9 1.4-.9-.8-1-.1-.9-1.2-.9-1-1 1.6-.9 0-.9-.3-2.8-2.9-1 .6-.9 1-.9-.9-.9-.2-1-1-.9-1.1-.9 1.2-1 .8-.9.3-.9-.3-1 .4-.9-.3-.9.7-1-1.5-.9 4.6-.9-2.9-1 .3-.9 1.7-.9.9-1-1.2-.9 2.3-.9-.7-1 1.2-.9 1-.9.5-1-1-.9 1.4-.9.3-1-1.1-.9-.2-.9 1.4-1-2-.9 1.4-.9.1-1 2.5-.9-2.9-.9.4-1 1-.9-1.8-.9.6-1-.5-.9-.1-.9-.6-1-1-.9.5-.9-.3-1-1.5-.9 5.9-.9-.2-1 1.5-.9 4.2-1.9 5.5-.9 3.5-2.8 9.2-.9 6.7-1 .1-.9 4.7-.9.5-1 .2-.9.7-.9-1.6-1 1.7-.9 0-.9-.4-1 .2-.9-.1-.9.3-1-1.2-.9 1.2-.9-1.1-1 1.1-1.8 0-1-1.5-.9 1.2z" fill="#c3e2cf"/>
<g clip-path="url(#bandR)"><g fill="none" stroke="#a2bcad" stroke-width="0.6"><use href="#R0"/><use href="#R2"/><use href="#R4"/><use href="#R6"/><use href="#R8"/><use href="#R10"/><use href="#R12"/><use href="#R14"/><use href="#R16"/><use href="#R18"/><use href="#R20"/><use href="#R22"/><use href="#R24"/><use href="#R26"/><use href="#R28"/><use href="#R30"/><use href="#Rx0"/><use href="#Rx2"/><use href="#Rx4"/></g>
<g fill="none" stroke="#f2fff7" stroke-width="0.5"><use href="#R1"/><use href="#R3"/><use href="#R5"/><use href="#R7"/><use href="#R9"/><use href="#R11"/><use href="#R13"/><use href="#R15"/><use href="#R17"/><use href="#R19"/><use href="#R21"/><use href="#R23"/><use href="#R25"/><use href="#R27"/><use href="#R29"/><use href="#R31"/><use href="#Rx1"/><use href="#Rx3"/><use href="#Rx5"/></g></g>
<path fill="none" stroke="#2f6040" stroke-width="0.85" d="M391.3 199.9l.9 2.1 1 .7.9 1.5.9.8 1-1.9.9.7.9-.8 1-.6.9-1.8.9-3.5 1-.5.9-2.8.9-6.1 1-2.1.9-5.7.9-4 1-5 .9-7.2.9-3.7 1-6.7 1.8-10.9 1-8.2.9-5.2.9-2.8 1-3.9.9-4.2.9-5.5 1-.6.9 1.1.9.2 1-2.2.9.8.9 4.3 1 3.5.9 1.2.9 4 2.8 4.2 1 1.1.9.3.9 3.9 1-.3.9-1.2.9.8 1-.6.9 2.1.9-2.5 1.9 2.4 1.9-.9.9-2.6.9 2 1-1.6.9 1.1.9-3 1 1.2.9-3 .9-1 1-2.6.9-.9.9-.7 1 1 .9-2.6.9-.2 1 1.1 1.8-2.6 1 .7.9-1.6.9 1.1 1.9 8.7.9.3.9 1.4 1-2.6.9-1.8.9 1.4 1-3.6.9-2.8.9 3.8 1 .7.9-.2.9 1.7 1 0 .9.4.9-.3 1 3.2.9 1.3.9 4 1 6 .9 1 .9 3.2 1 2 .9 7.9.9-2.2 1.9 9.5.9-.2 1 1.9.9 3.4.9 1.6 1 .6.9-1.9.9 1.9 1-2.7.9 0 .9-.4 1 1.3 1.8-2.5 1 .7.9-2.1.9-.3 1-.8 1.8-3 1-1 .9 2.6.9-4 1 3.1.9-1.2.9.4 1-.9.9 2.6.9-.2 1 2.5.9-1.7.9-.3 1 .4.9 3.3.9.1 1-.6.9 3.1.9-1.3 1-.3.9 1.4.9-1.8 1 1.8.9-1.4.9 2.4 1 .3.9-.7.9 1.7 1-2.1.9 1.7.9-.7 1-1.2.9 2.6.9 1.5 1 1.8.9-3.7.9.5 1 1.6.9-3.4.9 3.2 1-4 .9.6.9 1.2 1-.2.9 1.7.9-2.6 1 1.2.9-.3 1.9 1.3.9.4.9-.8 1 .1.9-.5.9-2.1 1-.3.9 2.8.9-2.2 1 .7.9 1.2 1.9-1.7.9-.4.9 1 1 1.5.9-4.4.9 1.5 1 1.2.9-1.4.9-1.5 1 .3 1.8-.3 1-4.4.9-.3.9.1 1-1.4.9-1.9.9-1.6 1-1.3.9-2.5.9.5 1-7 .9-3.1.9-5.1 1-1.3 2.8-13 .9 1 .9-4.6 1-2.2.9-5.3.9-.4 1-2.1.9-.7.9-3.6 1-1.6.9-5.4.9-.4 1-1.6 1.8-4.2 1-1.7.9.5.9-3.6.9-.1 1-1.6.9-2.6.9-.2 1-3.5 1.8 5.3 1-1.4.9-.9.9 4.9 1-1.8.9 4.3 1.9-1.9.9 1.4.9 3.6 1-1.2.9.3.9.9 1.9.4.9 2.4 1 2 .9-.7.9 3.1 1 .9.9-1.8.9 4.6 1 2.5.9-2.6.9 3.5 1 2.8.9-.3.9 2.5 1 .9.9.5.9 2.4 1 .9.9 1.9.9 1.4 1 .6.9 1.4.9 1.9 1 3.1.9-.1.9 4.9 1-.9.9 5.4.9-.8 1.9 3.5.9 3.2 1 1.5.9.5.9 3.4 1 2.5.9 1.7.9 3.3 1-2.8.9 4.7.9 1.4 1.9 6.5.9-2.8 1.9 4.1.9 2.8 1 1.4.9-1.1.9 3.1 1-.1.9 2.3.9-.3 1 1.4.9 0"/>
<path fill="none" stroke="#2f6040" stroke-width="0.85" d="M391.3 206.2l.9-1.2 1 1.5 1.8 0 1-1.1.9 1.1.9-1.2 1 1.2.9-.3.9.1 1-.2.9.4.9 0 1-1.7.9 1.6.9-.7 1-.2.9-.5.9-4.7 1-.1.9-6.7 2.8-9.2.9-3.5 1.9-5.5.9-4.2 1-1.5.9.2.9-5.9 1 1.5.9.3.9-.5 1 1 .9.6.9.1 1 .5.9-.6.9 1.8 1-1 .9-.4.9 2.9 1-2.5.9-.1.9-1.4 1 2 .9-1.4.9.2 1 1.1.9-.3.9-1.4 1 1 .9-.5.9-1 1-1.2.9.7.9-2.3 1 1.2.9-.9.9-1.7 1-.3.9 2.9.9-4.6 1 1.5.9-.7.9.3 1-.4.9.3.9-.3 1-.8.9-1.2.9 1.1 1 1 .9.2.9.9.9-1 1-.6 2.8 2.9.9.3.9 0 1-1.6.9 1 .9 1.2 1 .1.9.8.9-1.4 1 2.2.9-2 .9 3.6 1 2.2.9 1.5.9 3 1 .9 1.8 3.8 1 .1.9 3.5.9-.5 1 2.4.9.9.9.5 1 1.4.9.8.9 0 1 3.1.9-2.3 1.9 2.9.9-.3.9.7 1-2.4.9 1 .9-.1 1 .7.9-2.4.9.2 1 1.3.9-1.8.9-.4 1-.7.9 1 .9-2.8 1 1.1.9.5.9 1 1 .2.9-1.6.9 2.3 1-.5.9 3.6.9-2.6 1 1.2.9-1.5.9.1 1-.6.9 1.4.9.2 1-2.5.9 1.3.9.1 1 .3.9-2 .9 1.6 1-2.6.9 1 .9-.8 1-.1.9 1 .9-.8 1 1.9.9-3.1.9-.9 1 1.6.9-1.1.9-.7 1 1.6.9.1.9-2.6 1 1.1.9 1.6.9-1.6 1 2.4.9-1.5.9.6 1 0 .9-1 .9 1 1-.3.9.4.9 1.5 1-.3.9-.8.9.4 1 1.1.9-1.5.9-.4 1 .9.9-1.4.9-.8 1 2.7.9-3 .9.9 1 0 .9-1 .9 1.7 1-.2.9-1.8.9-2.2 1 1.4.9-2.3.9 1.7 1-.2.9-1 .9.1 1.9-3.9.9-.5 1 .3.9-4.1.9 1.1 1-2.5.9 2.2.9-4.7 1-1.7.9 2 .9-1.1 1-2.8.9-.7.9-2.4 1.9-.2.9-1.4 1.9-2.1.9 1.5 1 .7.9-.4.9-2.5 1 1.4.9-1 .9.5.9.8 1 2.1.9-2.2.9-.3 1-.5.9.8.9-2.4 1 1.6.9-.5.9-2.6 1 1.5.9-.3.9-3.8 1 .6.9-2.1.9-.9 1 .6.9-1.3.9-2.5 1-1.2.9.8.9-2.4 1-.6.9.4.9-.5 1 .7.9 1.6.9-2.7 1 3.2.9-1.8 2.8 6.9.9-2.6 1 4.4.9-.4.9 1.3 1 1.6.9 2.7.9 1.9 1-.5.9.5.9 1.3 1 .2.9 2.1.9 3.9 1-1.3 1.8 3.6 2.8 3 1 1.5.9 3.1 1.9.9.9.3.9 1.8 1 1.2.9 0 .9.8 1 2.4.9.2.9 1 1 1.8.9 1 .9.2 1 3.5.9-.1.9.6 1.9 3.6.9-.3 1-1.5.9 2.3"/>
<path fill="none" stroke="#e0281e" stroke-width="2.4" stroke-linejoin="round" d="M391.3 141.1l83.2 0 .7 32.6 79 0 4.2-.2 4.2-.4 1.4-.2.7-.4.7-.4 1.4-1.3 6.3-7.6 2.1-2.7 4.2-6 2.1-3.2 11.9-19.3 4.2-6 2.8-3.7 1.4-1.5 2.8-2.6 2.1-1.7 1.4-.9 1.4-.6 2.1-.8 1.4-.2 1.4.1 1.4.3 2.1.8 2.8 1.5 1.4.9 1.4 1.2 1.3 1.4 3.5 4 2.1 2.8 2.1 3.3 5.6 9.4 11.2 19.3 2.1 3.3 3.5 5.1 2.8 3.7 2.1 2.4 2.1 2.1 4.2 3.8 2.8 3 .7.6.7.5"/>
<path fill="none" stroke="#1326e0" stroke-width="2.5" stroke-linejoin="round" d="M391.3 200.9l.9 2.1 1 .7.9 2.3.9 0 1-1.7.9.5.9-.8 1-.6.9 1.8.9-3.7 1-1.5.9-2.6.9-3.6 1.9-10.4.9-3.5 1-4.6.9-7.8.9-3.2 1-2.3.9-1.8.9-3.5 1-2.8 1.8-7.3 1-1.4.9-.8.9-3.3 1-2.6.9 2.6.9-.4 1 .6.9 1.5.9-2.3 1-.3.9-1.2.9 3.6 1 1.8.9.4.9 1.1 1 2 .9.3.9.6 1 .2.9.8.9 1.6 1-.8.9-.4.9-.3 1 .1.9-.1.9-.4 1-1.2.9-1.5.9-1.8 1 1.5.9-2.1.9.3 1 .8 1.8-3.4 1 .9.9-1.4.9-.6 1 1.4.9-.5.9 1.7 1-4.6.9.5.9.9 1 1.3.9-.7.9 2.5 1-.7.9-.6.9.8.9.2 1-.1.9-.5.9.6 1 1.4.9.2.9.7 1-3 .9-.3.9 2.9 1-2 1.8-1.3 1 3.1.9 2.5.9 3.1 1 4.1.9.7.9 3.5 1 1.4.9 5 .9 1.8 1 4.8.9-.6.9 4.5 1-.8.9.4.9 2.9 1 .7.9-.8.9-.3 1-.6.9 2.6.9.9 1-2.3.9 2.1.9 1 1-4 .9 1.3.9-.8 1-1.9.9 0 .9-1.6 1 1.4.9 1 .9-2.3 1.9-2.2.9 4.1 1 .3.9-2.4 1.9 1.2.9 1.7.9-2.3 1 2.1.9-2.2.9 3.1 1-.5.9 2.5.9-.4 1-1.2.9-.2.9 0 1 3.1.9-.6.9-2.2 1-.9.9 1.8.9-.4 1-.7 1.8 1 1-.8.9.4.9-.8 1 0 .9-.8.9 1.2 1.9-1.3.9.3 1-.4.9.1.9.9 1 .2.9-2.5.9 1.3 1 .4.9-1 .9 1.6 1.9-1.1.9-1.3 1 .4 1.8 4.1 1-2.5.9-1.8.9 3.4 1-.6.9.6.9-1.9 1 1.1.9-.8.9-2.1 1 .5.9.2.9-1.1 1 1.5.9-1.7.9.6 1-1.4.9.4.9-1 1-3.3.9.9.9.3 1-1.7.9.9.9-1.3 1-3.4.9-.3.9-.7 1-2.2.9 1.2.9-2 1.9-5.2.9-1.9 1-1.3.9-.3.9-3.1 1 .2.9-.4.9-5.6 1-1.1.9.4.9-2.4 1-3 .9-.8.9-1.3 1-.8.9-3.1.9-1 1.9-2.1.9-2.3.9-3 1-.9.9 1.5.9-2.3 1-.1.9-.3.9.1 1 .7.9-1.5.9.4 1-.4.9-.7.9-1.6 1 .7.9 1.4.9-1.3 1-.3.9-.1.9-1 1 .4.9 1 .9-1.2 1-.3.9 2.3.9.7 1-.4.9.1.9 3.2 1 .5.9-1 .9 1.5 1 .5.9.9.9 4.9 1 1.3.9-2.4.9 3.7 1 1 .9 1.8.9 2.1 1 1.5.9.5.9 1.1 1 3.1.9 2.8.9-1.5 1 1.9.9 2.3.9 1 1 2.2.9 3 .9 1 1 .7.9 1.4.9.8 1 2.8.9.1.9.6 1 2 .9 2.2.9 3 1-.3.9 1.1.9 3.9 1-.5.9 2.4.9.6 1 1.1.9-.5.9 2.6 1 .5.9.7.9 2.8 1 .9.9 1.5"/>
</g>
<line x1="391.3" y1="10.7" x2="391.3" y2="222.1" stroke="#6b6b6b" stroke-width="0.9"/>
<line x1="391.3" y1="222.1" x2="670.3" y2="222.1" stroke="#6b6b6b" stroke-width="0.9"/>
<line x1="391.3" y1="206.3" x2="393.9" y2="206.3" stroke="#6b6b6b" stroke-width="0.8"/>
<text x="384.3" y="206.6" font-size="12.6" text-anchor="end" fill="#1a1a1a" stroke="#1a1a1a" stroke-width="0.22" font-weight="normal" dominant-baseline="central">0</text>
<line x1="391.3" y1="173.7" x2="393.9" y2="173.7" stroke="#6b6b6b" stroke-width="0.8"/>
<text x="384.3" y="174" font-size="12.6" text-anchor="end" fill="#1a1a1a" stroke="#1a1a1a" stroke-width="0.22" font-weight="normal" dominant-baseline="central">10</text>
<line x1="391.3" y1="141.1" x2="393.9" y2="141.1" stroke="#6b6b6b" stroke-width="0.8"/>
<text x="384.3" y="141.4" font-size="12.6" text-anchor="end" fill="#1a1a1a" stroke="#1a1a1a" stroke-width="0.22" font-weight="normal" dominant-baseline="central">20</text>
<line x1="391.3" y1="108.5" x2="393.9" y2="108.5" stroke="#6b6b6b" stroke-width="0.8"/>
<text x="384.3" y="108.8" font-size="12.6" text-anchor="end" fill="#1a1a1a" stroke="#1a1a1a" stroke-width="0.22" font-weight="normal" dominant-baseline="central">30</text>
<line x1="391.3" y1="75.9" x2="393.9" y2="75.9" stroke="#6b6b6b" stroke-width="0.8"/>
<text x="384.3" y="76.2" font-size="12.6" text-anchor="end" fill="#1a1a1a" stroke="#1a1a1a" stroke-width="0.22" font-weight="normal" dominant-baseline="central">40</text>
<line x1="391.3" y1="43.3" x2="393.9" y2="43.3" stroke="#6b6b6b" stroke-width="0.8"/>
<text x="384.3" y="43.6" font-size="12.6" text-anchor="end" fill="#1a1a1a" stroke="#1a1a1a" stroke-width="0.22" font-weight="normal" dominant-baseline="central">50</text>
<line x1="391.3" y1="10.7" x2="393.9" y2="10.7" stroke="#6b6b6b" stroke-width="0.8"/>
<text x="384.3" y="11" font-size="12.6" text-anchor="end" fill="#1a1a1a" stroke="#1a1a1a" stroke-width="0.22" font-weight="normal" dominant-baseline="central">60</text>
<line x1="391.3" y1="222.1" x2="391.3" y2="219.5" stroke="#6b6b6b" stroke-width="0.8"/>
<text x="391.3" y="233.5" font-size="12.6" text-anchor="middle" fill="#1a1a1a" stroke="#1a1a1a" stroke-width="0.22" font-weight="normal" dominant-baseline="central">0</text>
<line x1="437.8" y1="222.1" x2="437.8" y2="219.5" stroke="#6b6b6b" stroke-width="0.8"/>
<text x="437.8" y="233.5" font-size="12.6" text-anchor="middle" fill="#1a1a1a" stroke="#1a1a1a" stroke-width="0.22" font-weight="normal" dominant-baseline="central">200</text>
<line x1="484.3" y1="222.1" x2="484.3" y2="219.5" stroke="#6b6b6b" stroke-width="0.8"/>
<text x="484.3" y="233.5" font-size="12.6" text-anchor="middle" fill="#1a1a1a" stroke="#1a1a1a" stroke-width="0.22" font-weight="normal" dominant-baseline="central">400</text>
<line x1="530.8" y1="222.1" x2="530.8" y2="219.5" stroke="#6b6b6b" stroke-width="0.8"/>
<text x="530.8" y="233.5" font-size="12.6" text-anchor="middle" fill="#1a1a1a" stroke="#1a1a1a" stroke-width="0.22" font-weight="normal" dominant-baseline="central">600</text>
<line x1="577.3" y1="222.1" x2="577.3" y2="219.5" stroke="#6b6b6b" stroke-width="0.8"/>
<text x="577.3" y="233.5" font-size="12.6" text-anchor="middle" fill="#1a1a1a" stroke="#1a1a1a" stroke-width="0.22" font-weight="normal" dominant-baseline="central">800</text>
<line x1="623.8" y1="222.1" x2="623.8" y2="219.5" stroke="#6b6b6b" stroke-width="0.8"/>
<text x="623.8" y="233.5" font-size="12.6" text-anchor="middle" fill="#1a1a1a" stroke="#1a1a1a" stroke-width="0.22" font-weight="normal" dominant-baseline="central">1000</text>
<line x1="670.3" y1="222.1" x2="670.3" y2="219.5" stroke="#6b6b6b" stroke-width="0.8"/>
<text x="670.3" y="233.5" font-size="12.6" text-anchor="middle" fill="#1a1a1a" stroke="#1a1a1a" stroke-width="0.22" font-weight="normal" dominant-baseline="central">1200</text>
<text x="554" y="252.3" font-size="13.4" text-anchor="middle" fill="#1a1a1a" stroke="#1a1a1a" stroke-width="0.22" font-weight="normal" dominant-baseline="central">Time (min)</text>
<text x="356.2" y="118" font-size="13.4" text-anchor="middle" fill="#1a1a1a" stroke="#1a1a1a" stroke-width="0.22" font-weight="normal" dominant-baseline="central" transform="rotate(-90 356.2 118)">Fluorescence (a.u.)</text>
<text x="-0.5" y="10.2" font-size="17.5" font-weight="bold" fill="#000">a</text>
<clipPath id="clipB"><rect x="43.6" y="296.3" width="333.4" height="249.7"/></clipPath>
<rect x="43.6" y="526.7" width="173.2" height="19.3" fill="#f9be80"/>
<rect x="216.8" y="526.7" width="160.2" height="19.3" fill="#80befc"/>
<rect x="137" y="296.3" width="79.8" height="249.7" fill="#8a8a8a" fill-opacity="0.2"/>
<rect x="270.3" y="296.3" width="79.9" height="249.7" fill="#8a8a8a" fill-opacity="0.2"/>
<line x1="43.6" y1="526.7" x2="377.1" y2="526.7" stroke="#888" stroke-width="0.7" stroke-dasharray="1 1.5"/>
<defs><path id="p0" vector-effect="non-scaling-stroke" transform="translate(43.6 0) scale(1.4561 0.25)" d="M0 2081l1-30 1 28 1-5 1-27 1-12 1 1 1-35 1-70 1-32 1 25 1-102 1-7 1-24 1 12 1-116 1 10 1-61 1-28 1-100 1-70 1-59 1-39 1 63 1 58 1 84 1-26 1-111 1-92 1-39 1 35 1 122 1 18 1 16 1-13 1-131 1-183 1-17 1 0 1 12 1 33 1 146 1 166 1 37 1-77 1-117 1-139 1 46 1-46 1 75 1 76 1 55 1 26 1 13 1 42 1-37 1 2 1-54 1-45 1 76 1 31 1-93 1 19 1 24 1 58 1 48 1 41 1-102 1-51 1-120 1-54 1-27 1-64 1 0 1 38 1 86 1 33 1 132 1 13 1-63 1-12 1-46 1 99 1 50 1-50 1-240 1-40 1 0 1 0 1 0 1 0 1 0 1 50 1-50 1 0 1 0 1 0 1 0 1 71 1 26 1-49 1-1 1 17 1-64 1 0 1 0 1 0 1 0 1 0 1 0 1 0 1 0 1 0 1 0 1 0 1 0 1 0 1 0 1 0 1 0 1 0 1 0 1 0 1 0 1 0 1 0 1 0 1 0 1 92 1 142 1 109 1 112 1 67 1 84 1 35 1-2 1-4 1 5 1-11 1-103 1 23 1-16 1 4 1 41 1 11 1 0 1-30 1 38 1 7 1 1 1 5 1-22 1-34 1 21 1-25 1-2 1-9 1-22 1 4 1-6 1-22 1 27 1-9 1 13 1-50 1 35 1 10 1 25 1 24 1 3 1-38 1 14 1-39 1 9 1 5 1-67 1 36 1-6 1 38 1-22 1-25 1 37 1 30 1 31 1 35 1 35 1-10 1-39 1 48 1-15 1 15 1-21 1 29 1-5 1-28 1-8 1-51 1 5 1 18 1 37 1-13 1 36 1-15 1-27 1-14 1-57 1 12 1 36 1 44 1 13 1-38 1-33 1 39 1-14 1 19 1-31 1-10 1-43 1 23 1-48 1-1 1-2 1 50 1 25 1-23 1-17 1 99 1-38 1-18 1 11"/><path id="p1" vector-effect="non-scaling-stroke" transform="translate(43.6 0) scale(1.4561 0.25)" d="M0 2061l1 38 1 0 1 0 1-3 1 3 1-22 1-3 1-28 1-32 1-25 1 51 1-95 1-36 1-7 1-50 1 6 1-72 1-16 1-42 1-67 1-7 1 77 1 29 1 47 1-7 1-66 1-82 1 35 1-76 1 51 1 7 1-7 1 3 1-44 1-4 1 70 1 25 1 3 1 57 1-31 1 48 1-41 1-7 1-9 1-68 1-52 1 91 1 131 1 147 1-49 1-34 1-48 1-50 1 21 1 12 1 40 1-6 1-145 1 2 1-2 1-10 1-85 1-141 1 35 1 60 1 42 1-35 1 85 1 47 1 95 1 36 1-2 1-103 1-70 1 61 1 76 1 30 1-53 1-8 1 27 1 73 1 53 1-102 1-72 1-52 1-37 1-10 1 75 1 114 1 43 1 93 1-7 1-6 1 23 1 102 1-33 1-169 1-89 1-6 1 10 1-134 1-229 1-135 1-57 1 45 1 78 1 56 1 84 1 20 1 24 1 14 1 98 1-2 1-96 1-30 1 105 1 134 1-10 1-214 1-245 1-148 1 63 1 158 1 11 1-53 1-6 1 113 1 119 1 115 1 36 1 135 1-7 1-24 1-70 1-18 1 18 1 54 1 62 1 63 1 31 1-19 1-69 1-86 1-90 1 2 1-19 1-21 1 34 1 45 1 11 1 54 1 7 1-22 1-9 1 54 1-52 1-32 1 35 1-17 1-15 1 40 1-21 1 4 1 37 1-35 1 8 1-31 1-27 1 17 1 17 1-2 1 32 1 13 1 66 1-10 1-16 1-83 1 5 1 44 1 44 1 8 1-9 1-35 1-8 1-25 1 35 1 33 1-3 1-36 1 3 1-14 1-23 1-24 1 56 1 6 1 47 1-3 1 16 1-28 1-27 1-27 1 37 1 21 1-30 1 54 1 31 1-51 1 34 1-30 1-14 1-7 1 10 1 16 1 3 1 3 1-4 1-44 1-24 1-8 1 8 1 2 1 61 1 8 1 0 1-53 1-15 1 29 1 11 1-11"/><path id="p2" vector-effect="non-scaling-stroke" transform="translate(43.6 0) scale(1.4561 0.25)" d="M0 2068l1-20 1 51 1 0 1 0 1-24 1-12 1-86 1-25 1-34 1-28 1-64 1-43 1 20 1 26 1-86 1-28 1-181 1 4 1-128 1-31 1-72 1 65 1-22 1 139 1-78 1-37 1-70 1-40 1-43 1 20 1 50 1-129 1-17 1 33 1-11 1 98 1-52 1-44 1-45 1 0 1 4 1 56 1 102 1 48 1-28 1 59 1 98 1 44 1 55 1-21 1-22 1-12 1-37 1-59 1-126 1-31 1 51 1 56 1 41 1-90 1-146 1-42 1 0 1 0 1 124 1 117 1 28 1-93 1-62 1 15 1 18 1 76 1 35 1 68 1 24 1-15 1-53 1-29 1-80 1 9 1-39 1 12 1 113 1 117 1-35 1 24 1-15 1-11 1-21 1-10 1-77 1-167 1 6 1-2 1-2 1 18 1 157 1 102 1-84 1-150 1-118 1 0 1 0 1 0 1 0 1 0 1 0 1 0 1 0 1 0 1 0 1 0 1 0 1 0 1 78 1 110 1 197 1 35 1-15 1 72 1 6 1 10 1 4 1 112 1-14 1-8 1-108 1-100 1-54 1-16 1 112 1 97 1 66 1 18 1-15 1 35 1-68 1-20 1-11 1-48 1 19 1-33 1 10 1 44 1 8 1-72 1 51 1 45 1 1 1 17 1 37 1 25 1 25 1 19 1 2 1 34 1 9 1-15 1-7 1-42 1-11 1-25 1 6 1-63 1 15 1-85 1 7 1-30 1-31 1 35 1-34 1 43 1-25 1 11 1-11 1-23 1 35 1 112 1 78 1 39 1-56 1-78 1 18 1-17 1 14 1 18 1-29 1 19 1 29 1 2 1-3 1-11 1-6 1-10 1-5 1-40 1 47 1 49 1 3 1 0 1-11 1-6 1 25 1-14 1-43 1-16 1-34 1 2 1 39 1 49 1 2 1-70 1 22 1-37 1-1 1 17 1-6 1-40 1 26 1-28 1-34 1 19 1 32 1 35 1 41 1-2 1 15 1 25 1-14"/><path id="p3" vector-effect="non-scaling-stroke" transform="translate(43.6 0) scale(1.4561 0.25)" d="M0 2099l1 0 1 0 1-16 1-46 1 32 1 30 1-26 1-16 1-57 1 6 1 32 1-21 1-11 1-43 1-86 1-88 1 40 1 5 1-81 1-37 1-176 1-47 1-5 1-2 1-41 1 22 1-34 1 103 1 171 1 35 1 61 1-38 1-117 1-104 1-91 1 32 1-44 1 32 1 31 1 75 1 102 1 153 1-12 1-175 1-213 1-92 1 87 1 173 1 140 1-82 1-33 1-55 1 116 1 138 1 115 1 12 1-41 1-112 1-56 1-25 1-98 1-79 1 3 1 46 1-11 1 45 1 28 1 82 1-2 1-85 1-57 1-133 1-57 1-73 1-41 1 3 1 90 1 45 1 101 1 20 1 106 1 138 1-25 1-41 1-92 1 50 1 64 1 52 1 27 1-114 1-97 1-23 1-55 1 74 1 219 1 158 1 112 1 0 1-24 1-142 1-82 1-111 1-47 1-157 1 91 1 74 1 51 1-51 1-38 1-1 1-12 1-166 1-167 1-43 1 164 1 333 1 232 1 96 1-121 1-29 1 52 1 98 1-115 1-155 1-59 1 67 1 71 1 83 1 83 1 5 1-67 1-60 1-40 1 7 1 20 1-55 1 61 1-51 1-22 1-65 1-12 1-41 1 0 1 30 1 15 1 2 1 15 1-3 1 20 1-11 1-10 1 22 1-14 1 40 1 8 1 20 1-22 1-47 1-40 1-19 1 31 1 5 1-21 1 11 1-56 1 34 1 34 1 31 1-13 1 38 1-10 1 36 1 22 1-44 1-4 1-25 1-23 1-22 1-25 1-20 1-1 1 8 1 12 1 15 1 23 1 28 1-2 1 52 1-29 1 2 1-1 1-18 1-1 1 10 1 36 1 16 1-14 1-65 1-30 1-36 1 0 1 42 1-14 1 33 1-10 1 36 1-9 1 5 1 5 1 75 1-11 1 39 1-40 1-34 1-34 1-38 1-16 1 32 1-42 1 4 1-99 1-10 1 16 1 49 1 55 1 35 1 20 1-36 1-4"/><path id="p4" vector-effect="non-scaling-stroke" transform="translate(43.6 0) scale(1.4561 0.25)" d="M0 2031l1 68 1-25 1-4 1-11 1 37 1-15 1-6 1-35 1-41 1 48 1-1 1-99 1-71 1-93 1-38 1-1 1-71 1-90 1-14 1-21 1 37 1-121 1-57 1-93 1-72 1 73 1 136 1 135 1 43 1-57 1-107 1-113 1-84 1-52 1 221 1 117 1 0 1-79 1-108 1 25 1 110 1 70 1-59 1-61 1-5 1 44 1 49 1 67 1 60 1-49 1 43 1-57 1-26 1 48 1-85 1 22 1-9 1 62 1 104 1 11 1 21 1-16 1 38 1 62 1-117 1-89 1-127 1-139 1-56 1-17 1 89 1-14 1 121 1 49 1 15 1 36 1 137 1 62 1-159 1-49 1-38 1-38 1 56 1 34 1-45 1 47 1 20 1 80 1 4 1-42 1-32 1-81 1 47 1-89 1-57 1-2 1 125 1 83 1-86 1-146 1-145 1-94 1-55 1 81 1 70 1 123 1 74 1-38 1-44 1 14 1 100 1 83 1 12 1-82 1-172 1-221 1 0 1 0 1 0 1 90 1 186 1 37 1-157 1-100 1 35 1 33 1-31 1-10 1 69 1 182 1 281 1 126 1 0 1-6 1 3 1-17 1-43 1-45 1-50 1-100 1-22 1 25 1 72 1 47 1 101 1-14 1 18 1-85 1-78 1-19 1-13 1 58 1 41 1 24 1-7 1 6 1-28 1-24 1-11 1-18 1-49 1 7 1 69 1 73 1 27 1 20 1 71 1-75 1-18 1-56 1-42 1-40 1 13 1 68 1-1 1 43 1 4 1 28 1 9 1-13 1-14 1 4 1-28 1 2 1 13 1 10 1 32 1-6 1-18 1 22 1-24 1-38 1 37 1 21 1 34 1-15 1-38 1-45 1 22 1 38 1-44 1-26 1-18 1 9 1-47 1-28 1 90 1 12 1 31 1 6 1-3 1 8 1 37 1 56 1-20 1-52 1-56 1-127 1-51 1-15 1 31 1-9 1 37 1 54 1 25 1 19 1-27 1-55 1 41"/><path id="p5" vector-effect="non-scaling-stroke" transform="translate(43.6 0) scale(1.4561 0.25)" d="M0 2066l1-4 1 25 1 12 1 0 1 0 1-14 1-22 1-9 1-25 1-15 1-57 1-11 1-13 1-53 1-33 1-6 1 59 1 48 1-45 1-51 1 24 1-26 1-103 1-2 1 69 1-7 1 62 1 87 1-81 1-34 1-103 1-84 1-81 1-7 1 67 1 99 1 36 1 24 1 21 1 55 1-48 1-3 1 54 1 87 1 37 1-157 1-149 1-21 1-11 1 91 1 58 1-15 1-9 1-65 1 44 1 16 1-44 1 36 1-106 1 74 1 66 1 74 1 77 1-16 1-37 1-80 1-112 1-51 1-112 1 101 1 17 1 87 1 75 1 33 1 53 1-9 1-88 1-59 1-48 1 39 1 12 1-43 1-3 1-100 1-39 1 60 1 143 1 106 1 69 1 62 1 85 1 0 1 0 1 0 1 0 1 0 1 0 1-90 1 15 1-56 1-220 1-64 1 23 1 139 1-20 1 16 1 57 1 124 1-2 1 61 1 17 1 0 1 0 1 0 1-200 1-360 1-103 1 98 1 286 1 106 1 42 1-26 1 65 1 92 1 0 1 0 1 0 1-46 1-64 1-137 1-84 1-85 1-21 1 31 1 97 1-9 1-27 1 89 1 40 1-16 1-42 1-23 1-12 1 20 1 2 1 28 1-22 1-26 1 9 1 54 1 40 1 37 1-37 1-23 1-46 1-28 1 20 1 40 1-21 1 43 1-57 1 55 1-36 1-24 1-15 1 43 1 52 1-5 1 42 1-23 1 4 1-25 1-9 1 11 1-18 1 108 1-37 1-53 1-4 1-19 1 36 1-27 1 22 1-50 1-17 1 1 1 45 1 48 1-21 1-53 1-11 1-25 1 55 1-10 1 8 1 57 1-52 1-36 1 44 1-18 1 10 1-25 1 7 1 3 1 2 1-3 1-14 1-18 1-51 1 21 1 19 1 8 1-19 1 35 1-63 1-7 1 2 1 66 1 46 1 16 1 22 1-12 1 35 1 30 1-8 1-68 1-32 1-32 1 6"/><path id="p6" vector-effect="non-scaling-stroke" transform="translate(43.6 0) scale(1.4561 0.25)" d="M0 2092l1 7 1-13 1-33 1 30 1-20 1-17 1-86 1-58 1-6 1-7 1 8 1-66 1-34 1-6 1-29 1-19 1-57 1-82 1-71 1-73 1-80 1-124 1-48 1-50 1 42 1 60 1 34 1 83 1-41 1 68 1-1 1-11 1 165 1 54 1-45 1-90 1-115 1-31 1-15 1 15 1-11 1 26 1-4 1 47 1 114 1-64 1-42 1 32 1 30 1-86 1 13 1-43 1 25 1 29 1 2 1-17 1 4 1 9 1-17 1 4 1-36 1 36 1 35 1 61 1-1 1 27 1-101 1-63 1-116 1-16 1 45 1 50 1 13 1 101 1 124 1 55 1-60 1-16 1 23 1 10 1 28 1 3 1-74 1-19 1-115 1-44 1-83 1-69 1 4 1-11 1-41 1-7 1 16 1 76 1 102 1 6 1 79 1-41 1 73 1 5 1-68 1-69 1-179 1 16 1 127 1 190 1 149 1-127 1-192 1-134 1-29 1 0 1 0 1 0 1 0 1 303 1 184 1-168 1-166 1-131 1 1 1 32 1-55 1 0 1 0 1 0 1 0 1 137 1 195 1 106 1 69 1 110 1 46 1-41 1-16 1-25 1-1 1-16 1-39 1 40 1-37 1 10 1 2 1-27 1-32 1-16 1 98 1 49 1 9 1 8 1-15 1-38 1 29 1-51 1 19 1-18 1-11 1 2 1-4 1 8 1 32 1-26 1 31 1 8 1-23 1 19 1 37 1 8 1-12 1-37 1 2 1-23 1-47 1-58 1 16 1 44 1 40 1 64 1 51 1 0 1 8 1-28 1-55 1-30 1-30 1 49 1 58 1 25 1 14 1 5 1-24 1-17 1-59 1 52 1-43 1-44 1 14 1 8 1 22 1 3 1-67 1 19 1 57 1 35 1-3 1-3 1-7 1-27 1 35 1 3 1-1 1-12 1-53 1-24 1-79 1 59 1-26 1 9 1 21 1-3 1 29 1 41 1 26 1-3 1-18 1-10 1 18 1-46 1 6"/><path id="p7" vector-effect="non-scaling-stroke" transform="translate(43.6 0) scale(1.4561 0.25)" d="M0 2056l1 38 1 5 1-6 1 6 1-7 1-7 1 4 1-20 1 22 1 8 1 0 1-2 1-62 1-57 1-59 1 16 1 35 1 65 1-27 1-62 1-70 1-73 1 6 1 76 1 106 1-64 1-51 1-93 1-90 1-21 1 69 1 74 1 55 1 28 1-10 1 2 1 13 1-101 1-44 1-30 1-74 1 11 1 34 1 37 1 80 1-12 1-16 1 15 1 3 1 38 1-63 1-33 1-70 1-129 1-58 1 5 1 71 1 54 1 130 1 44 1 45 1-66 1-152 1-42 1-60 1-110 1 1 1 108 1 30 1 165 1 88 1 141 1 78 1 46 1-96 1-31 1-73 1-2 1-58 1 14 1-7 1-88 1-45 1 28 1 43 1-44 1 11 1-13 1 101 1 159 1 128 1 5 1-10 1-186 1-248 1-35 1 6 1 164 1 65 1-31 1-140 1-121 1-66 1 95 1 162 1 203 1 142 1-107 1-285 1-190 1 248 1 334 1 0 1 0 1 0 1-184 1-40 1-36 1 80 1 96 1 84 1 0 1 0 1 0 1 0 1 0 1 0 1-20 1-150 1-82 1-35 1 38 1 38 1-25 1 46 1-35 1-38 1 20 1 16 1 9 1-23 1-36 1-30 1 12 1 73 1 73 1 44 1-33 1-54 1 42 1 4 1 25 1-45 1-62 1-33 1-55 1 16 1-40 1 6 1 42 1 46 1-8 1 16 1-54 1 15 1-5 1 16 1 3 1 19 1-88 1-4 1 17 1 5 1-22 1-18 1-17 1-22 1 9 1 56 1 48 1 37 1 14 1 19 1 7 1 2 1 18 1 29 1 52 1-60 1-41 1-38 1-8 1 38 1 35 1 47 1 3 1 32 1-18 1-92 1-40 1 16 1-34 1-22 1 21 1 69 1-15 1-35 1-7 1 35 1 11 1-22 1-20 1 2 1-56 1 48 1 20 1-53 1 7 1-40 1 8 1-16 1 46 1-5 1 2 1 20 1 27 1-15 1 26 1-24"/><path id="p8" vector-effect="non-scaling-stroke" transform="translate(43.6 0) scale(1.4561 0.25)" d="M0 2079l1 20 1-1 1-1 1 2 1 0 1-105 1-8 1-46 1 0 1-33 1 48 1 23 1-85 1-19 1-107 1-38 1-84 1-38 1-58 1-126 1-94 1 19 1-74 1 13 1 45 1 75 1 9 1-63 1 43 1 52 1-51 1-20 1 1 1 44 1-56 1-99 1 39 1 31 1 56 1 34 1 78 1 52 1 97 1 75 1-59 1-167 1-3 1-13 1 102 1 0 1 43 1-29 1-9 1 1 1-18 1-13 1-25 1-90 1 23 1-64 1-84 1-37 1-94 1 55 1 110 1 65 1 8 1-26 1 6 1 28 1-38 1-100 1-71 1 46 1 83 1 29 1 19 1-10 1-42 1-26 1 28 1 80 1 64 1-31 1 54 1 105 1 43 1 50 1-7 1-108 1 2 1-68 1 94 1 15 1-65 1-105 1 7 1-115 1-100 1-148 1 0 1 0 1 0 1 0 1 0 1 0 1 67 1 7 1-74 1 0 1 129 1 267 1 142 1-132 1-231 1-175 1 0 1 0 1 0 1 0 1 0 1 57 1 284 1 99 1-52 1-123 1-33 1 96 1 122 1 219 1 102 1-29 1-27 1 19 1 12 1-20 1-77 1-31 1-46 1 19 1-57 1-20 1-3 1 47 1-2 1-35 1-9 1-5 1 30 1 54 1 21 1 33 1-7 1-24 1 4 1-2 1 31 1-23 1-37 1 17 1-72 1-8 1-38 1 29 1 46 1 20 1-22 1 14 1-20 1-31 1 75 1 22 1 10 1-12 1-24 1 0 1 38 1-58 1-9 1-7 1-2 1-1 1 20 1-15 1-6 1 48 1 30 1 27 1-23 1 28 1-67 1 14 1 14 1-23 1 19 1 4 1-35 1 15 1-32 1 7 1 4 1 35 1-34 1-9 1 20 1 38 1 53 1-11 1 64 1-28 1 17 1-56 1-50 1 5 1-20 1-6 1-31 1 6 1-24 1 12 1 32 1 16 1-30 1 10 1 15 1 39 1 5 1 28 1 20"/><path id="p9" vector-effect="non-scaling-stroke" transform="translate(43.6 0) scale(1.4561 0.25)" d="M0 2074l1 2 1 14 1 9 1 0 1-2 1 2 1-11 1 11 1-23 1-57 1-11 1-33 1-67 1-8 1-43 1-23 1 12 1-12 1-38 1-120 1-34 1-90 1-22 1 30 1 39 1 20 1 3 1 108 1 105 1-45 1-10 1-77 1-1 1 7 1-55 1 53 1 228 1 1 1-113 1-171 1-136 1 0 1 151 1 128 1 118 1 37 1-17 1-169 1 2 1-25 1-21 1 43 1 53 1-36 1 5 1 10 1-7 1 74 1 22 1-45 1-50 1 38 1-79 1-36 1-83 1 106 1 46 1 199 1 71 1-18 1 23 1-98 1-26 1-56 1-12 1 33 1-10 1-31 1 17 1-53 1 80 1-19 1 29 1-59 1 3 1-104 1-106 1-119 1 18 1 110 1 36 1 45 1-26 1-2 1 78 1 63 1 68 1-47 1-138 1-112 1 75 1 177 1 226 1 3 1 0 1 0 1 0 1 0 1 0 1-72 1-129 1-58 1-88 1-126 1 110 1 240 1 123 1 0 1 0 1-160 1-430 1-131 1 118 1 265 1 242 1 77 1 19 1-120 1-165 1-147 1-27 1 62 1 85 1 91 1-44 1-11 1-121 1 32 1-44 1-2 1 53 1-12 1-29 1 16 1 64 1 20 1-14 1 6 1 62 1 13 1-18 1 43 1 19 1-28 1-33 1-19 1 6 1-2 1 10 1-56 1 2 1 30 1 28 1-5 1-39 1 10 1 2 1-42 1 19 1 8 1 24 1 56 1-4 1-20 1-97 1 36 1-17 1 68 1-8 1-29 1-64 1-19 1 17 1 44 1 3 1 56 1 21 1 16 1-8 1-38 1-19 1-36 1 7 1 45 1-14 1 26 1 6 1 50 1-39 1-13 1 11 1-11 1 1 1 23 1 36 1-30 1-30 1-15 1 20 1-5 1-23 1 39 1 40 1-22 1-10 1-38 1-23 1-23 1 2 1 4 1-28 1-47 1 35 1-54 1 53 1 28 1 6 1 44 1 7"/><path id="p10" vector-effect="non-scaling-stroke" transform="translate(43.6 0) scale(1.4561 0.25)" d="M0 2082l1-13 1 30 1 0 1 0 1 0 1 0 1-2 1-8 1 10 1 0 1 0 1 0 1-68 1-20 1-43 1-51 1-77 1 26 1 53 1-61 1 9 1-42 1-56 1-29 1-27 1 13 1 63 1 93 1 13 1-116 1-106 1-42 1 24 1-18 1-12 1-26 1 64 1 113 1 57 1 4 1 17 1 61 1 105 1 7 1 7 1-11 1-79 1-95 1-26 1-99 1 57 1 25 1-94 1 87 1 77 1 134 1 52 1 37 1-197 1-24 1-84 1-24 1-2 1-4 1-74 1-40 1 17 1 15 1-2 1 109 1-19 1-14 1 4 1 12 1 78 1 60 1 11 1-46 1-45 1-31 1 18 1 65 1-6 1 34 1-95 1-48 1-35 1 62 1 41 1 57 1-104 1-12 1 65 1 67 1 118 1 73 1 0 1 0 1-107 1-110 1-45 1 40 1-109 1-135 1 32 1 96 1 109 1 172 1 57 1 0 1-13 1-176 1-171 1 17 1 54 1 288 1 1 1 0 1-39 1-235 1-125 1-57 1 66 1 67 1 103 1 31 1 15 1-3 1 5 1 18 1 30 1 39 1-31 1 60 1-49 1-9 1-32 1-9 1-1 1 31 1-19 1-34 1-21 1-64 1-43 1-33 1-12 1 68 1 25 1-18 1 23 1-2 1 10 1 36 1-26 1-11 1-58 1 7 1 9 1 65 1 56 1 34 1 6 1-39 1-67 1 15 1-20 1-18 1 43 1 40 1-16 1 23 1-100 1-34 1-45 1 92 1 41 1 51 1-18 1-21 1-16 1-10 1-9 1 79 1 2 1-11 1-9 1-43 1-15 1 16 1 67 1-53 1 28 1-10 1-46 1-50 1-31 1 50 1 25 1 31 1-18 1 43 1-29 1 10 1-9 1 13 1-12 1-56 1 10 1 36 1-41 1 81 1 15 1 24 1-35 1 25 1-1 1-9 1-7 1-26 1-39 1-12 1-22 1 30 1 17 1-26 1 13 1 9 1 31"/><path id="p11" vector-effect="non-scaling-stroke" transform="translate(43.6 0) scale(1.4561 0.25)" d="M0 2060l1-20 1 45 1 13 1-1 1-18 1 6 1-17 1-40 1-72 1-6 1 33 1-39 1 19 1 2 1-14 1 80 1 6 1-9 1-109 1-73 1 6 1-10 1-45 1-42 1 14 1 24 1 71 1-101 1-78 1 6 1 42 1 142 1 104 1 36 1-41 1 15 1 23 1-15 1-40 1-10 1-33 1 28 1-45 1 22 1-88 1-107 1-109 1 55 1 9 1 68 1 17 1 142 1 36 1-47 1-50 1-53 1-45 1 112 1 32 1-18 1-28 1-15 1 3 1-5 1-24 1-23 1-10 1 78 1 29 1-15 1-122 1-64 1-17 1 31 1 53 1 62 1 125 1 168 1 0 1-40 1-92 1-97 1 10 1-63 1 11 1-69 1-151 1-90 1 87 1 95 1 77 1-25 1-103 1-80 1 92 1 172 1 147 1 44 1-13 1-144 1-54 1 3 1 47 1 171 1 65 1 0 1 0 1-47 1-201 1-47 1 72 1 133 1 84 1 6 1 0 1-51 1-51 1 48 1 54 1 0 1-31 1-177 1-182 1-133 1 63 1 147 1 149 1 128 1 10 1 12 1-53 1-96 1-9 1-17 1-2 1-32 1-21 1-31 1-8 1 13 1-33 1 19 1 35 1 41 1 47 1 3 1 51 1-50 1-39 1-29 1-35 1-30 1 60 1-3 1 3 1 3 1 6 1-33 1 27 1-25 1-4 1-29 1-50 1-1 1 10 1 23 1 38 1-27 1 31 1-50 1 64 1-6 1-22 1 5 1 9 1-33 1 28 1-17 1 70 1-14 1 9 1 21 1 20 1 55 1 9 1-32 1 18 1-40 1-35 1-14 1 4 1 50 1-33 1-39 1-45 1 9 1 48 1 14 1 20 1 11 1-2 1-47 1-15 1-12 1 19 1-14 1-23 1 25 1-11 1 1 1 18 1-3 1 27 1-28 1 34 1-7 1 26 1 7 1-44 1-53 1-38 1-24 1-4 1 5 1 28 1 76 1 1 1 55 1-12"/><path id="p12" vector-effect="non-scaling-stroke" transform="translate(43.6 0) scale(1.4561 0.25)" d="M0 2099l1-23 1 23 1 0 1-75 1 10 1 2 1 7 1-49 1-14 1-17 1-79 1 58 1-103 1 24 1-74 1 18 1 20 1 36 1-33 1-103 1-210 1-53 1 26 1-12 1-133 1-139 1-22 1-47 1 70 1 184 1 124 1-36 1-59 1-27 1-65 1-29 1 49 1 89 1 12 1-23 1-17 1-7 1 144 1 69 1 26 1-38 1-160 1 0 1 86 1 47 1-79 1-51 1 22 1 26 1-14 1 48 1 28 1 29 1 76 1-102 1-47 1-43 1 113 1-27 1 54 1-40 1 31 1 46 1-18 1-43 1-125 1-57 1 100 1 209 1 9 1-84 1-182 1-74 1 36 1 49 1-8 1 102 1 92 1 111 1-151 1-138 1-169 1-44 1 14 1 29 1-32 1 176 1-7 1 87 1 36 1-108 1-56 1 47 1 96 1 82 1-83 1-222 1-160 1 112 1 156 1 38 1-152 1-77 1-100 1 3 1-16 1 0 1 0 1 0 1 2 1 179 1 66 1 81 1-75 1 27 1-23 1-103 1 40 1 118 1 84 1-38 1-9 1 28 1 132 1 114 1 20 1-4 1-41 1-22 1-50 1 24 1 28 1 40 1 79 1-11 1-65 1-96 1 21 1-7 1 25 1-37 1 35 1-23 1 34 1 49 1 30 1 18 1-48 1-30 1 40 1-22 1 28 1-5 1 6 1-35 1-28 1-17 1 32 1 1 1-12 1 34 1 43 1 4 1 32 1-66 1 12 1-8 1-5 1-99 1-20 1 34 1 24 1 29 1 7 1-59 1 14 1 32 1 48 1 34 1-9 1-24 1 12 1-23 1 41 1 9 1-12 1-3 1-62 1-11 1 2 1 20 1-8 1 26 1-5 1-36 1 20 1 8 1 25 1 46 1-19 1-22 1-18 1 2 1 4 1 73 1-6 1-5 1-26 1-69 1 0 1-21 1 22 1 36 1 19 1 1 1 9 1-7 1 1 1-47 1-26 1 21 1 21 1 88 1 28"/><path id="p13" vector-effect="non-scaling-stroke" transform="translate(43.6 0) scale(1.4561 0.25)" d="M0 2068l1 3 1-7 1 35 1-14 1 14 1-10 1-6 1-21 1 37 1-71 1 39 1-99 1 17 1-66 1-28 1-32 1-69 1-5 1-24 1-19 1-11 1-38 1 1 1-23 1-38 1-103 1 29 1 102 1 149 1-36 1-78 1-120 1 62 1-10 1-23 1 57 1 56 1 93 1 89 1 73 1 67 1 22 1-141 1 4 1-120 1-20 1-22 1 48 1 9 1-51 1-108 1 9 1 14 1 30 1 24 1-68 1 64 1 19 1-28 1 18 1-9 1 63 1-41 1-22 1-60 1 41 1 87 1 80 1-19 1 86 1-62 1-40 1-12 1-32 1-80 1 25 1 89 1 120 1 45 1-107 1-143 1-45 1 79 1 13 1 21 1 19 1 39 1-37 1-11 1 21 1-74 1 67 1-103 1-65 1 43 1 113 1 183 1-34 1 34 1 84 1 0 1 0 1-33 1-80 1 27 1-61 1-38 1-9 1-39 1-51 1-132 1-131 1 31 1 259 1 230 1 27 1 0 1-246 1-256 1-12 1 117 1 67 1 34 1-127 1-34 1-18 1 103 1 59 1 8 1-137 1-80 1 28 1-15 1 46 1 41 1-11 1 53 1 79 1 32 1 74 1 34 1-17 1-20 1-7 1 23 1 12 1 12 1 18 1-50 1-29 1-8 1 16 1-21 1-56 1 31 1 27 1 30 1 27 1-81 1-13 1 4 1-48 1 33 1-3 1 57 1 20 1-58 1-44 1 40 1 1 1 22 1-52 1-23 1-24 1 5 1-25 1 73 1 26 1 33 1 50 1-38 1-23 1 3 1-43 1-16 1 56 1-1 1-11 1 6 1 2 1 23 1-19 1 1 1 12 1-7 1 25 1-16 1-62 1 5 1-16 1-21 1 24 1 21 1-27 1 70 1-23 1-32 1 44 1-31 1 17 1-55 1 63 1 9 1 50 1-37 1-24 1 2 1-24 1 4 1-24 1 7 1 2 1 26 1-14 1 12 1 3 1-36 1 40 1 10"/><path id="p14" vector-effect="non-scaling-stroke" transform="translate(43.6 0) scale(1.4561 0.25)" d="M0 2095l1-51 1 54 1 1 1 0 1 0 1-79 1-34 1 6 1 4 1 56 1-78 1 31 1-81 1 41 1-47 1-47 1-43 1-37 1-73 1 2 1 4 1 13 1-85 1-27 1-106 1-76 1-26 1 71 1 1 1 74 1 72 1 35 1-12 1 27 1-43 1 6 1 2 1 31 1 51 1 22 1 35 1 25 1-30 1 7 1 0 1-30 1 62 1 63 1-25 1 30 1-35 1 30 1 56 1-10 1-2 1-94 1-33 1-23 1-22 1-24 1 71 1-45 1 38 1 0 1-15 1-124 1-97 1 19 1 52 1 54 1 26 1 55 1 58 1 35 1 32 1-26 1-37 1 3 1-59 1-28 1-102 1-73 1-68 1 64 1 162 1 208 1 162 1 0 1 0 1 0 1 0 1-17 1-146 1-67 1 66 1 66 1 27 1-104 1-41 1-84 1-108 1 1 1-34 1-62 1 40 1 150 1 216 1 96 1-49 1-192 1-114 1 81 1 88 1-22 1-193 1-232 1-178 1-154 1-9 1 0 1 0 1 36 1 234 1 200 1 197 1 191 1 76 1 41 1 0 1 0 1 0 1-117 1-38 1-80 1-32 1 57 1-30 1 14 1 17 1-25 1-10 1 29 1-21 1-1 1-49 1-19 1 10 1-27 1-47 1-42 1 50 1 6 1 65 1 7 1 49 1 2 1 5 1 4 1 20 1-12 1 6 1-43 1 10 1-41 1 2 1-13 1-23 1-21 1-18 1 23 1 43 1-41 1 42 1 7 1 41 1 7 1-30 1-22 1 37 1 67 1 23 1-17 1-30 1 2 1-19 1 27 1 1 1 20 1-32 1-17 1-20 1 14 1-46 1 20 1-22 1-20 1-56 1 26 1 13 1 94 1 86 1 43 1-5 1 21 1-28 1-67 1-61 1-45 1-41 1 43 1 21 1 5 1 21 1-6 1 65 1-73 1-1 1-61 1-58 1-54 1-19 1 62 1 39 1 46 1 20 1-1 1 12 1 24 1 17"/><path id="p15" vector-effect="non-scaling-stroke" transform="translate(43.6 0) scale(1.4561 0.25)" d="M0 2099l1-6 1-2 1 8 1 0 1 0 1 0 1 0 1 0 1 0 1 0 1 0 1 0 1-78 1-26 1-66 1-84 1-16 1-11 1-11 1 7 1 4 1 91 1-22 1 22 1-34 1-72 1-45 1-60 1 28 1 5 1 21 1 43 1 29 1 154 1 26 1-24 1-48 1-110 1-82 1-39 1-24 1 121 1 87 1 89 1-25 1-56 1-107 1 28 1-45 1 10 1 58 1 36 1-19 1-4 1-33 1-3 1 10 1-40 1-66 1-16 1 5 1 122 1 134 1 105 1-45 1-121 1-66 1-5 1 129 1 59 1 80 1 0 1 0 1-73 1-28 1 8 1-65 1-39 1-103 1-26 1 114 1 59 1 75 1-37 1-96 1-22 1 86 1 147 1 0 1 0 1 0 1 0 1 0 1 0 1 0 1 0 1 0 1-16 1-166 1 53 1 123 1 6 1-68 1-13 1 81 1 0 1 0 1 0 1 0 1 0 1 0 1 0 1 0 1 0 1 0 1 0 1 0 1 0 1 0 1 0 1 0 1 0 1 0 1 0 1 0 1 0 1 0 1 0 1 0 1 0 1 0 1-91 1-90 1 12 1 67 1-31 1-18 1 13 1 15 1-73 1-3 1 2 1 32 1 45 1 15 1-8 1 53 1 6 1-84 1-13 1-126 1-20 1 4 1-46 1 6 1 62 1 1 1 0 1 66 1-31 1-4 1-25 1 16 1 19 1-11 1-19 1 14 1 44 1 35 1-4 1-56 1 0 1-23 1-23 1-5 1-2 1-6 1 86 1 35 1 19 1 3 1-30 1-18 1 14 1 30 1 43 1 16 1-4 1-18 1 0 1 0 1 10 1-41 1-14 1-77 1-34 1 40 1 17 1 27 1 30 1-6 1-25 1-5 1 12 1-35 1 23 1-32 1-5 1-7 1-20 1-31 1 32 1-9 1 59 1-30 1 20 1-29 1-30 1-19 1 24 1-24 1 21 1-14 1-28 1-37 1 48 1 44 1 61 1-3"/><path id="p16" vector-effect="non-scaling-stroke" transform="translate(43.6 0) scale(1.4561 0.25)" d="M0 2063l1-5 1-5 1 46 1-19 1-16 1-28 1 22 1-12 1-4 1 1 1-12 1-29 1-88 1-58 1-34 1 19 1-10 1-51 1-41 1-52 1 3 1-34 1-187 1-15 1 38 1 45 1 30 1-90 1 4 1-53 1 45 1 9 1 124 1 35 1 81 1 31 1-68 1-163 1-29 1-82 1-54 1 130 1 72 1 28 1-24 1-64 1-10 1-44 1 109 1 71 1 23 1-13 1-101 1-7 1-2 1-86 1-29 1 28 1 67 1 29 1-34 1-57 1-131 1 26 1 134 1 136 1 106 1-13 1-21 1 80 1 21 1-16 1-3 1-33 1-74 1-75 1 123 1-49 1 41 1 92 1 38 1-64 1-117 1-142 1-119 1 2 1-8 1 34 1 126 1 108 1 21 1 42 1-156 1-32 1 38 1 2 1-55 1-78 1 11 1 13 1-1 1-42 1-115 1-15 1 78 1 146 1 27 1 100 1 33 1 18 1-75 1-233 1-107 1 23 1 27 1-83 1-47 1 233 1 148 1 15 1-81 1-28 1 43 1 22 1 130 1 135 1 78 1-78 1-143 1-33 1-45 1 56 1-14 1-32 1-26 1 36 1 87 1 20 1-54 1-19 1-29 1 106 1 37 1 68 1 43 1-73 1 16 1-55 1-7 1-30 1 71 1 26 1-47 1 7 1 39 1 68 1-21 1-38 1 20 1-26 1-11 1-35 1-6 1 2 1-37 1-50 1 46 1-4 1 13 1 35 1 60 1-52 1-12 1-47 1-99 1-17 1-41 1 23 1 89 1 63 1-7 1-1 1-19 1 5 1 56 1-31 1 35 1-1 1 11 1 4 1-5 1-26 1-11 1-38 1-13 1 55 1 55 1 18 1 1 1-36 1-7 1 3 1 16 1 9 1-4 1 56 1-12 1 9 1 10 1-10 1-45 1-10 1 23 1 13 1-37 1-8 1 12 1-56 1-32 1-23 1 32 1 28 1 52 1 2 1 12 1-17 1-8 1-19 1-16"/><path id="p17" vector-effect="non-scaling-stroke" transform="translate(43.6 0) scale(1.4561 0.25)" d="M0 2076l1 14 1 9 1 0 1 0 1-50 1-7 1 1 1 36 1-41 1-28 1-60 1-67 1-33 1 31 1-31 1-71 1-26 1-121 1-76 1-80 1-39 1 20 1-28 1-78 1-133 1-94 1 34 1-34 1 0 1 139 1-19 1 77 1-3 1 22 1 43 1 36 1 13 1-12 1 3 1-74 1-9 1 126 1 42 1 36 1-4 1-35 1-35 1-32 1 32 1-85 1 84 1 23 1-8 1-41 1-45 1 15 1 58 1-2 1 70 1 4 1 43 1 40 1-30 1 18 1-59 1 21 1 27 1 33 1-11 1 36 1-72 1-8 1-17 1 36 1-153 1-130 1-34 1-35 1 20 1 28 1 71 1 151 1 30 1-31 1-53 1-211 1-52 1 140 1 106 1 146 1 142 1 34 1-36 1-8 1-46 1 23 1-44 1-70 1-55 1 33 1-36 1 4 1-123 1-139 1-3 1-47 1-29 1-69 1 0 1 0 1 0 1 0 1 0 1 0 1 201 1 0 1-47 1 11 1 36 1-75 1-126 1 0 1 0 1 108 1 235 1 183 1-41 1-155 1-56 1-44 1 40 1 82 1 180 1 97 1 26 1 13 1-21 1 4 1-81 1-47 1-90 1-15 1-34 1-16 1-2 1 62 1 83 1 54 1 67 1 38 1 46 1 9 1-8 1 1 1 30 1-41 1 4 1-4 1-28 1-43 1-42 1-4 1-11 1 5 1-10 1-65 1 55 1-23 1 32 1 4 1-20 1 33 1-37 1-10 1 4 1-28 1 12 1 65 1 70 1-9 1 7 1-13 1-7 1 8 1 0 1 24 1 32 1 25 1-21 1 13 1-25 1 6 1 28 1-40 1-4 1-35 1 35 1-13 1-6 1-60 1 1 1 0 1-8 1-4 1 24 1-16 1 34 1-7 1 0 1 3 1 8 1-31 1-34 1 5 1-8 1-20 1 15 1 15 1 10 1-13 1-23 1-19 1 32 1 30 1 59 1 41 1 8 1 37 1-10"/><path id="p18" vector-effect="non-scaling-stroke" transform="translate(43.6 0) scale(1.4561 0.25)" d="M0 2085l1 6 1-6 1-19 1 33 1-22 1-14 1-6 1-23 1-52 1-63 1 34 1-45 1-50 1-3 1-95 1 6 1-31 1 32 1-9 1-129 1 1 1-109 1 42 1 81 1 151 1-2 1-37 1-32 1-111 1-174 1-109 1-6 1 37 1 59 1 18 1 102 1-124 1-102 1-2 1 16 1 95 1 84 1-40 1-23 1 1 1 21 1 73 1 106 1 45 1-15 1 7 1 8 1-10 1-24 1-76 1-49 1-73 1-24 1 0 1 63 1 119 1-7 1 42 1-59 1-37 1-63 1-8 1-15 1 26 1 15 1 33 1-9 1 82 1 5 1-2 1-34 1-40 1-13 1-86 1-60 1-56 1-44 1-60 1-5 1 12 1-15 1 22 1 39 1 182 1 61 1-73 1 35 1 6 1 41 1-25 1-153 1-1 1 86 1 137 1 129 1-10 1-22 1-130 1-243 1-175 1 0 1 0 1 0 1 0 1 0 1 0 1 0 1 0 1 0 1 0 1 174 1 345 1 138 1-41 1-102 1-109 1-165 1-81 1-39 1 131 1 138 1 150 1 71 1 93 1-55 1-24 1-41 1 39 1 5 1 0 1 2 1 13 1 1 1 28 1-5 1-32 1 21 1 8 1-31 1-59 1-54 1-38 1 16 1 56 1 17 1 72 1-33 1-4 1-62 1 57 1-21 1 32 1 17 1-13 1-10 1-6 1-48 1 36 1-15 1-38 1-37 1 65 1 24 1 2 1 8 1-4 1-31 1 1 1-34 1 22 1-17 1 6 1 34 1 19 1 30 1-3 1-20 1 9 1-7 1-3 1 16 1 62 1 8 1 47 1-1 1-51 1-22 1-72 1-33 1 47 1-27 1 5 1 10 1 18 1 29 1 32 1 24 1-47 1-17 1 72 1 6 1-6 1-10 1-34 1-18 1-10 1 32 1 19 1-7 1 39 1 14 1-35 1-90 1-63 1-28 1-2 1 20 1 37 1 28 1 34 1 7 1 29 1-12 1 11"/><path id="p19" vector-effect="non-scaling-stroke" transform="translate(43.6 0) scale(1.4561 0.25)" d="M0 2076l1 23 1-36 1 28 1 8 1 0 1-34 1 23 1-50 1 8 1 33 1 10 1 10 1-70 1-23 1-96 1-43 1-141 1 27 1 83 1 4 1 11 1 8 1-2 1 17 1 23 1 30 1 38 1-38 1-59 1-50 1-64 1 71 1 182 1 25 1-54 1-61 1-91 1-39 1-86 1 10 1-4 1-40 1-26 1-1 1-29 1-14 1 35 1 38 1 115 1 120 1 154 1-26 1-56 1-53 1 39 1-46 1-27 1-93 1-112 1-101 1-13 1-3 1 148 1-6 1-79 1-65 1 9 1 65 1 64 1 91 1 73 1 84 1 4 1 33 1-96 1-141 1-51 1-98 1-66 1-6 1 16 1 133 1 18 1-34 1 24 1 24 1 20 1 203 1 164 1 0 1 0 1-50 1-157 1-168 1-64 1 105 1 98 1 196 1 40 1 0 1 0 1 0 1 0 1 0 1 0 1 0 1 0 1 0 1 0 1 0 1-40 1-243 1-201 1-21 1-26 1 149 1 298 1 84 1 0 1-91 1-319 1-335 1-230 1 0 1 0 1 260 1 429 1 196 1 90 1 0 1-103 1-110 1-20 1-60 1 75 1-2 1 7 1 17 1 40 1-11 1-24 1-33 1-28 1 48 1 19 1-14 1-49 1-50 1 25 1-36 1 45 1 22 1 7 1-35 1-47 1-25 1 25 1 14 1-18 1 2 1 28 1-15 1 44 1-2 1-22 1 61 1 13 1 17 1-10 1-53 1-21 1-60 1 14 1 5 1 78 1 55 1 10 1 25 1-59 1-14 1 3 1-2 1 28 1-4 1 7 1-15 1 6 1 20 1-6 1-7 1 13 1-34 1 3 1 27 1 28 1 22 1-51 1-51 1 18 1-82 1 5 1 35 1-3 1 15 1 32 1 42 1-7 1-16 1-53 1 16 1-25 1-42 1 23 1 8 1 0 1-13 1-17 1-1 1 12 1 3 1-33 1 34 1 13 1 5 1-48 1 15 1-23 1 35 1 18"/><path id="q0" vector-effect="non-scaling-stroke" transform="translate(43.6 0) scale(1.4561 0.25)" d="M0 2066l1 36 1-4 1 4 1-26 1 2 1 24 1 0 1-4 1-13 1-58 1 37 1-22 1 3 1-27 1-54 1-8 1-65 1-25 1 33 1-10 1-25 1-83 1-64 1-42 1 44 1 68 1 58 1 45 1 58 1-9 1 39 1 11 1-30 1-51 1-3 1 8 1-44 1-20 1 51 1 20 1 84 1-14 1-61 1-89 1-21 1-52 1 41 1 44 1 39 1-53 1-55 1 46 1 37 1 82 1 15 1 13 1-29 1 3 1-60 1-29 1 44 1 83 1 70 1-28 1-9 1-66 1-58 1 41 1-28 1 29 1 15 1 3 1-59 1-15 1-36 1 55 1 1 1 61 1 48 1-2 1 6 1-56 1-161 1-18 1-1 1 18 1 79 1 46 1-36 1-71 1-15 1-41 1 2 1 87 1 59 1-9 1 12 1-74 1-29 1 0 1 43 1 82 1 94 1-51 1 16 1-32 1 51 1-15 1-3 1-79 1-110 1-87 1 78 1 100 1 86 1 71 1 23 1-39 1-55 1-85 1 9 1-2 1-20 1 38 1-28 1 47 1-13 1-20 1 20 1 30 1-5 1 4 1-27 1 32 1-2 1-5 1-81 1 7 1 53 1-22 1 56 1-9 1 10 1-18 1 8 1 41 1-43 1 39 1-23 1-3 1-23 1 8 1-22 1 6 1-22 1 49 1-21 1-13 1 9 1-19 1-31 1 13 1 39 1-39 1 9 1 0 1-11 1-7 1 40 1 34 1 19 1-8 1-67 1 21 1 24 1-21 1 50 1-56 1 34 1-3 1-3 1-22 1 18 1-12 1 30 1-58 1 25 1 22 1-11 1 9 1-20 1 45 1-25 1 50 1-19 1-56 1 39 1-72 1 69 1 13 1-77 1 36 1 60 1 0 1-2 1-23 1-30 1 3 1 11 1 18 1 34 1 21 1-33 1 50 1-48 1 46 1-32 1-47 1-55 1-27 1 56 1-3 1 8 1 1 1 34 1 23 1-54 1-17 1-10"/><path id="q1" vector-effect="non-scaling-stroke" transform="translate(43.6 0) scale(1.4561 0.25)" d="M0 2102l1 0 1 0 1 0 1-11 1 11 1-34 1 19 1-56 1-66 1-5 1-38 1-41 1 4 1-57 1 10 1 12 1 4 1-13 1 5 1-6 1 12 1 0 1 48 1-57 1-69 1-130 1-184 1-70 1-87 1 29 1 157 1 94 1 91 1 61 1-39 1-58 1-6 1 81 1 46 1 9 1-26 1-18 1 60 1 11 1-26 1-62 1-29 1 17 1 31 1 47 1 54 1 87 1-23 1-92 1-32 1 61 1 59 1 16 1-65 1 3 1-94 1 19 1 40 1 5 1-19 1 37 1 51 1 95 1 25 1 21 1 31 1-84 1-60 1-56 1-52 1 41 1 50 1-42 1-32 1 14 1-3 1 39 1 64 1 54 1-38 1-70 1-27 1-55 1 22 1 40 1 22 1 3 1-33 1-7 1 11 1 27 1 20 1 43 1-7 1-95 1-62 1-34 1 78 1 101 1 20 1-13 1 1 1-86 1-64 1-16 1-79 1 1 1-33 1 73 1 86 1 17 1 46 1 44 1 38 1 28 1-29 1 64 1-42 1-41 1-33 1-11 1-13 1 17 1 25 1-2 1-42 1 11 1-52 1 14 1-12 1 28 1-1 1 43 1 20 1 15 1-36 1 37 1-63 1 14 1 16 1-12 1 14 1-25 1 22 1 14 1 28 1-15 1 38 1-13 1-37 1 8 1-1 1-23 1 12 1 3 1-37 1 22 1 34 1-13 1 10 1 24 1-25 1 17 1-27 1-38 1 11 1 17 1 23 1 16 1-49 1 30 1-4 1-51 1-1 1-2 1-38 1 11 1 37 1 15 1-16 1 17 1-10 1-12 1-54 1 3 1 6 1-18 1-34 1 24 1 54 1 24 1-17 1 8 1 17 1 51 1 5 1-5 1-101 1-53 1 18 1-4 1 62 1-4 1-5 1 36 1 16 1 3 1 13 1 27 1-33 1 17 1-82 1 17 1 9 1-17 1 20 1 52 1-12 1-54 1 28 1 32 1-22 1-5 1-17"/><path id="q2" vector-effect="non-scaling-stroke" transform="translate(43.6 0) scale(1.4561 0.25)" d="M0 2094l1 3 1 5 1 0 1 0 1-11 1 11 1 0 1-18 1-8 1 13 1-34 1 16 1 31 1 0 1 0 1 0 1 0 1 0 1-25 1 7 1 18 1 0 1-8 1-2 1-14 1-9 1-121 1-127 1-40 1 63 1 169 1 89 1 0 1 0 1 0 1 0 1-25 1-127 1-84 1-49 1-33 1 59 1 69 1 61 1-42 1-39 1-43 1-16 1-12 1 65 1 7 1 130 1 77 1 2 1 0 1 0 1 0 1 0 1-37 1-16 1-59 1-36 1 34 1-15 1 51 1-3 1 9 1 38 1-69 1-14 1 93 1 24 1 0 1 0 1 0 1 0 1 0 1 0 1 0 1 0 1 0 1-72 1-82 1 1 1-12 1-35 1 72 1-10 1 34 1-7 1 33 1 48 1 0 1 13 1-45 1-32 1 18 1 9 1 49 1 18 1 0 1 0 1 0 1-26 1-127 1-47 1 61 1 51 1 39 1 6 1-26 1-38 1 12 1-8 1-2 1-17 1-35 1 5 1-16 1 43 1 61 1 58 1 6 1 0 1-21 1-89 1-20 1-48 1 26 1 22 1 27 1-18 1 12 1 11 1 10 1 37 1-32 1-1 1-16 1 1 1-21 1 43 1 66 1-48 1 0 1 20 1-43 1-6 1-29 1 31 1 5 1 9 1 0 1 11 1 5 1-80 1-1 1-23 1 48 1-26 1 34 1-27 1 26 1 14 1 18 1 2 1-38 1-18 1 0 1 22 1 24 1-13 1 17 1-2 1-6 1-38 1 21 1 10 1-48 1 27 1 46 1 17 1-14 1 2 1-50 1-71 1 0 1 35 1 67 1 13 1 30 1-32 1-60 1-18 1-6 1 24 1 29 1 2 1-6 1-25 1 49 1-52 1 29 1 62 1 11 1 17 1 14 1-43 1-56 1-39 1 56 1 66 1 1 1-27 1-14 1-3 1 12 1-25 1 26 1-1 1-13 1-10 1-1 1 39 1-81 1 33 1-43 1 9 1-15"/><path id="q3" vector-effect="non-scaling-stroke" transform="translate(43.6 0) scale(1.4561 0.25)" d="M0 2080l1 22 1 0 1-2 1 2 1 0 1 0 1-28 1 2 1-17 1-46 1-102 1 11 1 8 1 29 1-10 1 9 1 34 1-8 1 34 1 47 1 37 1-75 1-63 1-108 1-27 1-26 1-100 1-11 1-15 1 54 1 103 1 32 1 19 1 19 1 62 1 83 1-17 1-3 1-68 1 94 1 4 1 16 1-82 1-25 1-48 1 15 1-56 1 10 1-1 1 3 1 40 1-36 1-2 1-51 1-9 1 26 1-32 1 15 1 23 1-23 1 1 1 48 1 37 1 31 1 73 1-24 1 18 1-8 1-30 1-44 1-29 1 17 1 7 1 70 1-46 1 11 1-29 1-76 1-24 1 2 1 25 1 54 1 63 1-13 1-11 1-28 1 3 1-7 1-15 1-73 1 13 1-22 1 53 1 42 1 8 1 41 1-10 1 13 1 51 1 15 1-18 1-11 1 19 1-24 1 0 1-28 1-57 1-47 1-50 1 14 1 29 1-19 1 56 1 108 1 24 1 20 1-22 1 59 1-23 1-52 1-109 1-20 1 11 1 77 1 23 1 29 1-10 1-15 1-14 1-30 1-20 1 27 1-11 1 31 1-48 1 26 1-65 1-15 1 38 1 28 1 8 1-8 1 47 1-22 1 33 1-62 1-2 1-22 1-22 1 7 1-28 1 13 1 35 1 41 1 5 1-43 1-31 1 14 1-4 1 15 1-4 1 29 1 31 1-48 1 16 1 37 1 3 1 1 1-18 1-74 1-2 1 13 1-26 1 50 1 77 1-53 1 0 1-7 1-9 1-29 1-11 1-8 1-18 1 31 1-22 1 9 1 84 1 32 1 37 1-21 1 33 1-86 1 3 1-13 1-1 1 2 1 27 1-17 1-56 1-31 1-33 1 40 1 39 1-43 1 1 1 12 1 51 1 18 1-5 1-8 1-5 1-39 1 3 1 1 1 10 1 35 1-21 1 14 1-22 1-35 1 44 1-24 1 54 1 2 1 2 1-42 1 21 1-52 1 12"/><path id="q4" vector-effect="non-scaling-stroke" transform="translate(43.6 0) scale(1.4561 0.25)" d="M0 2102l1 0 1-6 1 2 1 4 1-10 1-14 1-41 1 31 1-23 1 24 1-17 1 26 1-25 1-46 1-68 1 16 1-13 1-19 1-22 1-29 1-30 1 51 1-41 1-54 1-40 1 57 1 98 1 85 1 19 1-35 1-13 1-16 1-106 1-80 1-166 1-70 1 63 1 18 1 78 1-29 1 4 1-34 1 35 1 59 1 35 1 44 1-20 1 15 1 0 1-26 1 2 1 17 1 72 1 104 1 85 1 10 1-99 1-48 1-24 1 21 1-6 1-21 1-19 1 124 1 23 1-44 1-53 1-63 1-43 1-35 1 27 1 33 1 54 1-48 1-10 1-48 1 4 1 65 1 38 1 33 1 9 1-2 1 16 1 27 1-14 1-43 1-99 1-10 1 6 1 20 1 32 1 49 1 11 1 4 1-55 1 13 1-20 1 31 1 48 1 68 1-8 1-16 1-119 1-117 1-66 1 22 1-45 1 25 1 19 1-21 1 56 1 38 1 120 1 17 1 18 1-84 1-19 1 8 1 58 1 58 1-38 1-19 1-55 1 24 1-25 1 13 1-4 1 51 1 43 1-35 1-42 1 1 1-29 1 39 1 15 1-16 1 17 1-23 1 54 1-5 1-9 1 25 1 53 1 17 1-53 1-18 1 12 1-37 1 1 1 9 1 13 1-60 1 53 1-9 1 47 1-16 1-49 1 20 1 10 1-21 1 9 1 17 1-26 1 12 1 43 1 1 1 47 1-65 1-16 1-9 1-10 1-5 1 9 1-22 1 53 1-20 1-18 1 12 1 3 1 54 1-14 1-69 1-27 1 23 1 44 1 18 1-10 1-13 1 29 1-28 1-2 1-35 1 15 1-23 1 1 1-46 1-16 1-34 1 34 1 44 1 25 1 21 1-27 1-29 1 28 1 0 1-56 1 16 1 11 1-5 1 38 1 23 1 13 1 36 1 10 1 1 1-30 1 4 1-42 1-2 1-16 1-35 1 14 1-13 1 15 1 63 1-26 1-4 1 23"/><path id="q5" vector-effect="non-scaling-stroke" transform="translate(43.6 0) scale(1.4561 0.25)" d="M0 2102l1 0 1-27 1 6 1 5 1 12 1-32 1-31 1 4 1-40 1-9 1-11 1-71 1-5 1 5 1-27 1 20 1-81 1-71 1-177 1-207 1-81 1 97 1 98 1 90 1-11 1-120 1-162 1-38 1-61 1-53 1 0 1 40 1 85 1 133 1-32 1 73 1 131 1 22 1 12 1-9 1-87 1-42 1-83 1-7 1 71 1 43 1 87 1-8 1-13 1-20 1-21 1 3 1 46 1 58 1 20 1-41 1-27 1-31 1-4 1 64 1-43 1 38 1-34 1 12 1 57 1 97 1 105 1 31 1-31 1-73 1-2 1-29 1 21 1 23 1-19 1-40 1 39 1 42 1 8 1 47 1-64 1 20 1 10 1 16 1 14 1-113 1-66 1 2 1-57 1 40 1 36 1-43 1 73 1 5 1-3 1 24 1-18 1-3 1-59 1-25 1 36 1-7 1-8 1-6 1-9 1 14 1 56 1 34 1 41 1 45 1-29 1-69 1-58 1 3 1-45 1 38 1 22 1 127 1 68 1-14 1-46 1-31 1-6 1 11 1 2 1-22 1 12 1 33 1 24 1 9 1-2 1-13 1-2 1 44 1-28 1 9 1-17 1-19 1 108 1-40 1 9 1-28 1 9 1-5 1 1 1-33 1-44 1 43 1-26 1 13 1 19 1 16 1-38 1 50 1-59 1 30 1-46 1-2 1 52 1 10 1-27 1-12 1 25 1-9 1 8 1 22 1-14 1 57 1-7 1-23 1-9 1-38 1 20 1-54 1 17 1 12 1 1 1 19 1 7 1-57 1 30 1-26 1 12 1 10 1-37 1 40 1 7 1 7 1 36 1 2 1-83 1 31 1-30 1-20 1 1 1 6 1-1 1 19 1 12 1-15 1 25 1-56 1-6 1 20 1-46 1-2 1-3 1-46 1 29 1 28 1 22 1 5 1-42 1 23 1 29 1-26 1-35 1 13 1-60 1 0 1 47 1 59 1 2 1 38 1-22 1 24 1 33 1-18 1 28"/><path id="q6" vector-effect="non-scaling-stroke" transform="translate(43.6 0) scale(1.4561 0.25)" d="M0 2102l1-37 1 37 1 0 1 0 1 0 1 0 1 0 1 0 1 0 1 0 1 0 1 0 1 0 1 0 1 0 1 0 1 0 1 0 1 0 1 0 1 0 1-25 1-43 1 45 1 23 1 0 1 0 1 0 1 0 1 0 1 0 1 0 1-114 1-52 1-11 1-7 1 50 1 23 1 41 1 23 1 29 1-31 1 27 1 22 1 0 1 0 1 0 1 0 1 0 1 0 1 0 1 0 1 0 1 0 1 0 1 0 1 0 1 0 1 0 1 0 1-69 1-28 1-14 1 86 1 25 1 0 1 0 1 0 1 0 1 0 1 0 1 0 1 0 1 0 1 0 1 0 1 0 1-47 1-41 1 2 1 66 1-8 1 28 1 0 1 0 1 0 1 0 1 0 1-18 1 18 1-15 1 15 1-40 1 1 1-16 1-12 1-84 1-2 1-14 1 49 1 42 1 76 1 0 1 0 1 0 1 0 1 0 1 0 1 0 1-25 1-23 1 7 1-73 1 3 1 96 1 15 1 0 1 0 1 0 1 0 1 0 1 0 1 0 1-8 1-21 1-9 1-2 1-16 1-16 1 17 1-41 1-47 1 35 1 46 1 45 1 16 1-4 1 5 1-19 1 19 1 0 1 0 1-21 1-24 1-58 1-26 1 96 1-20 1 0 1 24 1-21 1-4 1 1 1-52 1-17 1-3 1-17 1 5 1 29 1 46 1-20 1 9 1 7 1 66 1-24 1-16 1 6 1 29 1-18 1-14 1 37 1-27 1 27 1-48 1-33 1 3 1-12 1 27 1 29 1 17 1 17 1 0 1-25 1 17 1-36 1-94 1-22 1 42 1-9 1 9 1-42 1-1 1-15 1 54 1 2 1 36 1-25 1 33 1 40 1 22 1-35 1 16 1-55 1-18 1-6 1 35 1 36 1 41 1-41 1-45 1-56 1 26 1-2 1 0 1 52 1-18 1-12 1 16 1 19 1 16 1 36 1-29 1 4 1 34 1 0 1-1 1-49 1-16 1-28"/><path id="q7" vector-effect="non-scaling-stroke" transform="translate(43.6 0) scale(1.4561 0.25)" d="M0 2093l1 9 1-32 1 9 1 3 1 19 1-17 1 13 1-24 1 29 1-16 1 16 1-12 1-21 1-25 1 38 1 20 1 0 1 0 1 0 1 0 1 0 1 0 1-97 1-67 1-41 1 44 1-25 1 44 1 115 1 27 1 0 1 0 1-7 1-36 1-68 1-54 1 34 1-4 1 25 1-21 1 75 1 9 1 10 1-9 1-60 1-11 1-12 1 2 1-1 1-23 1 41 1-62 1-21 1-9 1-22 1 46 1 114 1 20 1 44 1 0 1-23 1-7 1-25 1-4 1-34 1-33 1-48 1-27 1-20 1-24 1 8 1 83 1 26 1 57 1-25 1-2 1-42 1 48 1 11 1-8 1 12 1-50 1-14 1 7 1 24 1 52 1-25 1-19 1 13 1-28 1-12 1 42 1-6 1-16 1 5 1 73 1 19 1-22 1 33 1-14 1-59 1 2 1-16 1 18 1 9 1-54 1-26 1 61 1 67 1 9 1-56 1-64 1-68 1-30 1-11 1 2 1 27 1 34 1 81 1 71 1 18 1 0 1-53 1-35 1-35 1 51 1-40 1 6 1-28 1-32 1 7 1-6 1 81 1-97 1-9 1-26 1 62 1-5 1 17 1-9 1 37 1 2 1 39 1 3 1-34 1 48 1-37 1-2 1-29 1-28 1 2 1-55 1 87 1 13 1 2 1-35 1-22 1-19 1 17 1 9 1 13 1 24 1 42 1 4 1-88 1-5 1-29 1 14 1-18 1 21 1 7 1-2 1 45 1-12 1-21 1-25 1 33 1-30 1 7 1-42 1 36 1 63 1 31 1 15 1-12 1-62 1-13 1 43 1 42 1-68 1-72 1-19 1 9 1-1 1-11 1 69 1 7 1 31 1 1 1 58 1 5 1 63 1-4 1-88 1-9 1-63 1 10 1-27 1 35 1-22 1-66 1 25 1 107 1 18 1-8 1-43 1 15 1-6 1 11 1-59 1 8 1 66 1-23 1 88 1-24 1 18 1-38 1 8 1-60"/><path id="q8" vector-effect="non-scaling-stroke" transform="translate(43.6 0) scale(1.4561 0.25)" d="M0 2092l1-3 1 13 1 0 1 0 1 0 1-12 1-40 1 52 1-14 1 14 1 0 1 0 1 0 1 0 1 0 1-3 1 3 1 0 1 0 1 0 1 0 1-25 1 25 1 0 1 0 1 0 1 0 1-20 1-29 1 49 1 0 1 0 1 0 1-40 1 40 1 0 1 0 1 0 1-10 1 5 1 5 1 0 1 0 1 0 1 0 1 0 1 0 1 0 1 0 1-65 1-42 1 17 1 20 1 28 1 42 1 0 1 0 1 0 1 0 1 0 1 0 1 0 1 0 1 0 1 0 1 0 1 0 1 0 1-48 1 14 1 20 1 14 1 0 1 0 1 0 1 0 1 0 1 0 1 0 1 0 1-1 1-32 1 15 1 17 1 1 1 0 1-40 1 15 1 2 1-38 1-29 1 50 1 40 1 0 1 0 1 0 1 0 1 0 1 0 1 0 1 0 1 0 1 0 1 0 1 0 1 0 1 0 1 0 1 0 1 0 1 0 1 0 1 0 1 0 1 0 1 0 1 0 1 0 1 0 1 0 1 0 1 0 1 0 1-35 1 18 1-36 1-25 1 9 1 24 1-69 1 27 1-18 1 19 1 42 1-32 1 18 1 3 1 6 1-20 1 2 1 13 1-37 1-32 1 25 1-23 1 45 1 34 1 19 1-38 1 11 1 6 1-26 1 29 1-3 1 44 1-7 1-10 1-19 1-2 1 23 1 9 1-59 1 1 1-17 1 3 1-52 1-4 1-3 1 36 1-41 1 3 1 22 1-62 1 9 1-3 1 48 1 15 1-13 1-40 1 78 1 35 1 35 1 15 1 0 1-33 1 6 1-47 1-13 1 8 1 24 1 21 1-61 1-15 1 4 1 34 1 6 1 66 1 0 1-36 1-35 1-3 1 35 1 26 1-16 1-3 1-15 1-27 1 0 1-25 1 29 1 31 1 14 1 25 1 0 1-55 1-32 1 12 1-25 1 57 1-42 1 56 1-89 1-15 1-21 1-11 1 26 1 21 1 5 1 34"/><path id="q9" vector-effect="non-scaling-stroke" transform="translate(43.6 0) scale(1.4561 0.25)" d="M0 2102l1 0 1-3 1 3 1-30 1 3 1 18 1 9 1 0 1 0 1 0 1 0 1 0 1-9 1-58 1-14 1 8 1 4 1 69 1 0 1 0 1 0 1 0 1 0 1-74 1-125 1-85 1 27 1 21 1 127 1 75 1-31 1-61 1-104 1-133 1-58 1 51 1 103 1 64 1-22 1 76 1 24 1-74 1-57 1-20 1 36 1-28 1-21 1-55 1-44 1 34 1 99 1 61 1 127 1-9 1-74 1-42 1-46 1 46 1 31 1 16 1 65 1 80 1 0 1 0 1-42 1-72 1-23 1 18 1 21 1 74 1-32 1-23 1-59 1-42 1-44 1-4 1 26 1 25 1 30 1 67 1 40 1 18 1-52 1-47 1-25 1-16 1 71 1 31 1 1 1-47 1 39 1 13 1-21 1-67 1-41 1-69 1-33 1-23 1 93 1 41 1 55 1 50 1-41 1-82 1-28 1-14 1 53 1-36 1 37 1 9 1 81 1 22 1 36 1 22 1-7 1 2 1-18 1 33 1-37 1 9 1 19 1 9 1 0 1 0 1-18 1-41 1-65 1-38 1-17 1 4 1 2 1 19 1-8 1 31 1 26 1 18 1 12 1-42 1-4 1-17 1 35 1-43 1 53 1 6 1-34 1-6 1-52 1 26 1 10 1-55 1 37 1 7 1 23 1 13 1 11 1 3 1 6 1 37 1-54 1 22 1-2 1 36 1-40 1-19 1-16 1 45 1-29 1 27 1 29 1-56 1 41 1-19 1 48 1-49 1 0 1-27 1 57 1 19 1-6 1 17 1-30 1 11 1-34 1-53 1-21 1 1 1 8 1-13 1-7 1 8 1 21 1 4 1 58 1-7 1-45 1-23 1-28 1 7 1 22 1 3 1 43 1 41 1-24 1 34 1-13 1 1 1-34 1-24 1-36 1-7 1 4 1 5 1 2 1-8 1-14 1 45 1 28 1-10 1 0 1-32 1-12 1-10 1 55 1-12 1 30 1 34 1-23 1-11 1-8"/><path id="q10" vector-effect="non-scaling-stroke" transform="translate(43.6 0) scale(1.4561 0.25)" d="M0 2066l1-16 1 37 1 15 1-4 1 4 1-12 1-32 1-26 1 4 1-2 1-70 1-29 1-77 1-52 1-58 1-24 1 8 1 22 1-32 1-99 1-35 1 73 1 56 1-29 1-36 1-7 1-12 1 5 1-68 1 1 1 1 1 39 1-14 1-14 1 10 1 67 1 47 1-63 1 31 1 53 1 69 1-15 1 69 1 27 1 40 1-79 1-135 1-29 1 11 1 83 1 41 1 29 1 45 1-29 1-25 1-31 1-83 1-47 1-29 1-66 1 16 1 45 1-13 1 35 1 7 1 41 1 70 1 62 1-18 1-46 1-11 1-104 1-16 1 19 1-34 1 52 1 171 1 24 1 50 1 4 1-37 1-71 1-8 1-51 1-3 1-10 1 20 1-16 1-24 1 9 1 7 1 16 1-35 1-46 1-52 1-34 1 51 1 9 1 19 1 56 1 52 1 40 1-54 1-45 1-47 1 35 1 18 1 72 1 84 1-23 1-6 1-14 1-13 1 23 1-58 1-96 1-42 1 36 1 59 1 78 1-25 1-14 1 5 1 55 1 38 1 12 1-70 1 40 1-30 1 38 1 24 1-14 1 17 1 14 1-47 1 4 1-43 1 25 1-12 1 45 1-10 1-1 1-8 1 49 1-25 1 38 1 0 1 21 1-65 1 11 1-32 1-38 1 7 1 43 1-10 1 13 1-7 1-20 1-18 1 33 1 29 1-28 1-1 1 17 1-2 1 14 1 29 1-56 1 27 1-42 1 36 1-23 1-43 1-8 1-9 1 23 1-14 1 64 1 2 1-32 1 4 1 21 1 14 1 23 1-20 1 62 1-58 1 8 1-61 1 73 1-23 1 43 1-47 1 5 1-11 1-31 1-18 1-36 1 35 1 16 1-53 1-20 1 21 1-20 1 37 1 47 1 28 1-51 1 18 1-24 1-6 1 76 1 26 1-1 1-26 1-2 1 0 1-2 1 17 1 17 1 72 1-77 1 5 1-73 1-31 1 51 1 21 1-11 1 24"/><path id="q11" vector-effect="non-scaling-stroke" transform="translate(43.6 0) scale(1.4561 0.25)" d="M0 2100l1 2 1 0 1 0 1 0 1 0 1 0 1 0 1 0 1 0 1-18 1-27 1-46 1-66 1-48 1-85 1-13 1-2 1 66 1 132 1 77 1-49 1-134 1-192 1-29 1-15 1 75 1 104 1 74 1-2 1-40 1-51 1-93 1-113 1-96 1 12 1 93 1 155 1 141 1 47 1 82 1-9 1-57 1 27 1 16 1 31 1 13 1-67 1-38 1-140 1 19 1 72 1 38 1-24 1 15 1-21 1 50 1 35 1-30 1-47 1-80 1-19 1-5 1 136 1 59 1-24 1-24 1-16 1-16 1 9 1-40 1-11 1 11 1 6 1 64 1 23 1-14 1 76 1 30 1-56 1 13 1 12 1-16 1-43 1-127 1-58 1 8 1 51 1 22 1 39 1-27 1 6 1 1 1 46 1 1 1 18 1 10 1-10 1 78 1-13 1-80 1-62 1-85 1 11 1 37 1 5 1 45 1-4 1-17 1 119 1 80 1 9 1 0 1-93 1-90 1-36 1-1 1 74 1 3 1 77 1-54 1-15 1 11 1-33 1-49 1-29 1 56 1-14 1 13 1 19 1-36 1-31 1-19 1-13 1-22 1-14 1 70 1-7 1 60 1 8 1 20 1-12 1-37 1 66 1-35 1 27 1-16 1 4 1 19 1-9 1 23 1-4 1-24 1-11 1 7 1 19 1-30 1 18 1-27 1-43 1-4 1 31 1 29 1 32 1-43 1 0 1 37 1-32 1 93 1-38 1 0 1 19 1-14 1 23 1-23 1-58 1-1 1 11 1 44 1 15 1-25 1 18 1-12 1-23 1-60 1 46 1-16 1 59 1-8 1-14 1-4 1-77 1 50 1 13 1 13 1 4 1 54 1 18 1-10 1-15 1-53 1-62 1 18 1 9 1 9 1-6 1-21 1-5 1 2 1-20 1 48 1 12 1-8 1 8 1-17 1 1 1 8 1-20 1 4 1 28 1-53 1 6 1-1 1 26 1-33 1-14 1 62 1-68 1 2 1-3"/><path id="q12" vector-effect="non-scaling-stroke" transform="translate(43.6 0) scale(1.4561 0.25)" d="M0 2061l1 41 1 0 1 0 1 0 1 0 1 0 1 0 1-1 1 1 1 0 1 0 1 0 1 0 1 0 1 0 1 0 1 0 1 0 1 0 1 0 1 0 1 0 1-58 1-83 1 42 1-2 1 66 1 35 1 0 1 0 1 0 1 0 1 0 1 0 1 0 1 0 1 0 1 0 1 0 1 0 1 0 1 0 1 0 1 0 1 0 1 0 1 0 1 0 1 0 1 0 1 0 1 0 1 0 1 0 1 0 1 0 1 0 1 0 1 0 1-6 1 6 1 0 1 0 1 0 1 0 1 0 1 0 1 0 1 0 1 0 1 0 1 0 1 0 1-32 1-28 1 6 1 54 1-4 1 4 1 0 1 0 1 0 1 0 1 0 1 0 1-24 1-35 1-36 1 95 1 0 1 0 1-3 1 3 1 0 1 0 1 0 1 0 1 0 1-2 1 2 1-53 1 46 1-11 1-12 1 30 1 0 1 0 1 0 1 0 1 0 1-4 1 4 1 0 1 0 1 0 1 0 1 0 1-23 1-49 1 61 1-33 1-36 1-36 1 59 1-31 1 30 1-57 1-16 1 21 1 31 1 6 1 3 1 26 1-65 1-18 1-8 1 68 1 32 1 3 1 12 1 13 1 7 1-16 1-73 1-14 1 10 1 0 1 29 1-16 1-17 1-28 1 36 1 31 1-13 1-2 1-43 1 4 1 14 1 25 1-22 1 7 1 48 1-24 1-5 1 3 1 14 1 27 1-1 1 1 1 17 1 8 1 0 1-10 1-30 1-19 1-34 1 13 1 6 1-55 1 32 1 35 1 15 1-6 1 22 1-33 1 6 1 8 1 2 1-1 1 33 1 2 1-11 1-10 1 12 1-29 1-1 1 51 1 2 1 0 1-9 1 9 1 0 1-40 1 13 1 19 1 5 1-7 1-89 1 51 1 17 1 31 1 0 1 0 1-25 1-1 1-41 1 64 1 0 1-24 1-20 1-17 1 39 1-32 1 8 1-13 1-55 1 1 1-12 1-15"/><path id="q13" vector-effect="non-scaling-stroke" transform="translate(43.6 0) scale(1.4561 0.25)" d="M0 2088l1-9 1 23 1 0 1 0 1 0 1-40 1 0 1-17 1-23 1 15 1-76 1 40 1-24 1-2 1-2 1 51 1 25 1-98 1-112 1-92 1-13 1 61 1 39 1 14 1-18 1-57 1-129 1-21 1 41 1 87 1 59 1-40 1-23 1 73 1 59 1-35 1 59 1-35 1 60 1 32 1-26 1-65 1-116 1-63 1-37 1 29 1 64 1-37 1 63 1 26 1 98 1 112 1 60 1 15 1-89 1-60 1-14 1-32 1 4 1-6 1-14 1-7 1 12 1 56 1 22 1 24 1-9 1-35 1-50 1-74 1 16 1 1 1-48 1 21 1 3 1 12 1 77 1 68 1 68 1 8 1 13 1-93 1-76 1-14 1 14 1 53 1 36 1-36 1-21 1-30 1-16 1 5 1 80 1-10 1 23 1-26 1-25 1-46 1-18 1-80 1-13 1-21 1-30 1 27 1 39 1 94 1 31 1 68 1 17 1-14 1-46 1-34 1 73 1 42 1-25 1-71 1-8 1-69 1 87 1 38 1-11 1 48 1 24 1-6 1-52 1-67 1-17 1 46 1 8 1 91 1-62 1 15 1-71 1-3 1 24 1 0 1-6 1 31 1-10 1-57 1 24 1-18 1 22 1 24 1 16 1-16 1-30 1-14 1 17 1-40 1-44 1 36 1 49 1 21 1 38 1 2 1-18 1-34 1-16 1-27 1-8 1 1 1-16 1 51 1 21 1 38 1 3 1-5 1-24 1 27 1 2 1-12 1-25 1 11 1-48 1 8 1 15 1 8 1-7 1 5 1 24 1-3 1-30 1 17 1-34 1 11 1 35 1-14 1 70 1-81 1-23 1 10 1 18 1 1 1-11 1-31 1-1 1 26 1 15 1-32 1 2 1 7 1-17 1 36 1 44 1-28 1 7 1-39 1-25 1 11 1 51 1-22 1 5 1-22 1-19 1-2 1 11 1-9 1 42 1 21 1-12 1 4 1-28 1 19 1-2 1 16 1-19 1 66 1-3"/><path id="q14" vector-effect="non-scaling-stroke" transform="translate(43.6 0) scale(1.4561 0.25)" d="M0 2092l1 10 1 0 1 0 1-4 1 4 1-6 1-29 1 30 1-52 1 34 1-34 1-14 1 11 1 25 1-29 1-10 1 74 1 0 1 0 1-81 1-80 1-37 1 22 1 4 1 78 1 30 1-25 1-47 1-128 1-55 1 59 1 59 1 53 1-2 1-35 1 12 1-23 1 29 1 1 1 40 1 126 1 0 1 0 1 0 1 0 1 0 1 0 1 0 1-26 1 11 1-41 1-62 1 29 1 32 1-42 1-12 1 22 1 79 1 10 1 0 1 0 1 0 1 0 1 0 1 0 1-2 1-53 1 2 1-42 1-11 1 1 1-15 1 54 1 41 1 3 1-22 1 15 1 0 1-22 1 6 1-61 1-13 1-6 1 38 1 35 1-5 1 23 1-88 1-53 1-31 1 48 1 75 1 78 1 5 1-14 1-3 1 6 1 11 1-98 1-21 1 21 1 22 1 43 1 33 1 0 1 0 1-2 1-89 1-16 1 31 1 29 1 31 1-18 1-20 1-69 1-63 1 3 1 25 1 19 1 15 1-21 1-20 1 24 1 24 1 49 1-9 1 23 1-93 1 9 1-3 1-46 1-15 1-3 1 14 1 27 1 24 1-6 1 41 1-24 1-20 1-23 1 37 1-25 1 70 1-51 1-11 1-6 1 1 1-13 1 18 1-15 1 18 1-27 1 49 1 24 1-44 1 54 1 1 1-50 1-22 1 18 1-21 1-11 1 41 1 15 1 7 1 42 1-37 1 52 1-19 1-25 1-5 1-4 1-2 1-11 1 54 1-29 1 7 1-10 1 39 1 0 1-34 1-30 1 42 1 18 1 36 1-57 1 23 1-31 1-34 1 26 1 36 1-27 1 8 1-67 1 12 1-31 1-8 1 25 1-44 1 2 1 97 1-7 1 39 1 10 1 9 1-40 1-32 1-6 1 35 1 24 1-33 1-1 1-23 1-24 1 8 1 6 1-5 1 18 1 1 1 20 1-20 1 14 1 13 1-9 1 11 1 0 1 22 1-7"/><path id="q15" vector-effect="non-scaling-stroke" transform="translate(43.6 0) scale(1.4561 0.25)" d="M0 2102l1 0 1 0 1-10 1 4 1-5 1 11 1 0 1-35 1 12 1-10 1-18 1-15 1 15 1 51 1 0 1 0 1 0 1 0 1 0 1 0 1 0 1 0 1 0 1 0 1 0 1 0 1 0 1 0 1 0 1-38 1-130 1 67 1 79 1 22 1-1 1-46 1 47 1 0 1 0 1 0 1-57 1 57 1 0 1 0 1 0 1 0 1 0 1 0 1-56 1-22 1 23 1 28 1 27 1 0 1 0 1 0 1 0 1 0 1 0 1-21 1 14 1 7 1 0 1 0 1 0 1 0 1 0 1 0 1 0 1 0 1 0 1-20 1-27 1-26 1-43 1-9 1 78 1-4 1 18 1-47 1 24 1-28 1-29 1 22 1 52 1 30 1 9 1 0 1-49 1-35 1 23 1 46 1 15 1 0 1 0 1 0 1 0 1 0 1 0 1 0 1 0 1-38 1-36 1 45 1-2 1 31 1 0 1 0 1 0 1 0 1 0 1 0 1 0 1 0 1 0 1 0 1 0 1 0 1 0 1 0 1 0 1 0 1-25 1-31 1 48 1-19 1 27 1-23 1-42 1-57 1-10 1 30 1-4 1-23 1 83 1-9 1 55 1-16 1-34 1-43 1-36 1 23 1-17 1 27 1 33 1-14 1-12 1 18 1-5 1-44 1 0 1 41 1-20 1 37 1 25 1 4 1 28 1-39 1 13 1 18 1-23 1 35 1-53 1 25 1-22 1-23 1 25 1 49 1-9 1 9 1-22 1-25 1 0 1 5 1-50 1 4 1 28 1 23 1-25 1-12 1-14 1-35 1 34 1 17 1 46 1-4 1-36 1 63 1-73 1-24 1-4 1-9 1-1 1 52 1-34 1 29 1-5 1 27 1 0 1 17 1 28 1 0 1 0 1 0 1 0 1 0 1-64 1 9 1-32 1 48 1 39 1-19 1-12 1-38 1-35 1 17 1 47 1 2 1 18 1 8 1-54 1 66 1-35 1-2 1-40 1-22 1 37 1 57 1-81"/></defs>
<g clip-path="url(#clipB)">
<g fill="none" stroke="#d2a0d2" stroke-width="0.6"><use href="#p2"/><use href="#p4"/><use href="#p6"/><use href="#p8"/><use href="#p12"/><use href="#p16"/></g>
<g fill="none" stroke="#bcd2d2" stroke-width="0.6"><use href="#q0"/><use href="#q1"/><use href="#q2"/><use href="#q3"/><use href="#q4"/><use href="#q5"/><use href="#q6"/><use href="#q7"/></g>
<path fill="none" stroke="#8fcfcf" stroke-width="0.6" vector-effect="non-scaling-stroke" transform="translate(43.6 0) scale(1.4561 0.25)" d="M0 2099l1 4 1 3 1 0 1 0 1-2 1-4 1-10 1-23 1-48 1-91 1-151 1-212 1-243 1-198 1 0 1 0 1 62 1 225 1 224 1 176 1 113 1 60 1 26 1 6 1-2 1-5 1-6 1-4 1-3 1-1 1 0 1 0 1 0 1 0 1 0 1 1 1 1 1 2 1 3 1 3 1 2 1 1 1 1 1 4 1 4 1 3 1 2 1 0 1 0 1 0 1 2 1 1 1 3 1 1 1 2 1 1 1-1 1-2 1-1 1 0 1 0 1 1 1 1 1 0 1 2 1 0 1-1 1 1 1 1 1 0 1 1 1 0 1 0 1 0 1 0 1 0 1 0 1 0 1-1 1-1 1 0 1-1 1-2 1-1 1 1 1 0 1-1 1 1 1 1 1-1 1-2 1-1 1-1 1 1 1 2 1 1 1 0 1-1 1-1 1-1 1 0 1 0 1 0 1-1 1 1 1 1 1 0 1 0 1 0 1 1 1 0 1 1 1 1 1 1 1 0 1 2 1 1 1 0 1-1 1 0 1 1 1 1 1 1 1 1 1 1 1-1 1-2 1-2 1 0 1-1 1-2 1-2 1-2 1 1 1 2 1 2 1 0 1 0 1 1 1 0 1 1 1 0 1 1 1 0 1 0 1 1 1 1 1 2 1 1 1 1 1 0 1 0 1-1 1 0 1 0 1-2 1-4 1-2 1-1 1 1 1 1 1 1 1 2 1 2 1 2 1 1 1 1 1-1 1-1 1 0 1-1 1 0 1-1 1-1 1 0 1 1 1 1 1 0 1 0 1-1 1-1 1 0 1-1 1 0 1-1 1-1 1 0 1 1 1 1 1 0 1-1 1 0 1 0 1 1 1-1 1-1 1 0 1 0 1 0 1-1 1 0 1 0 1-1 1-1 1-1 1-1 1-1 1-2 1-1 1 0 1 2 1 2 1 1 1 0 1-1 1 0 1 0 1 1 1 1 1 0 1 1 1 1 1 0 1 1 1 1 1 2 1 3 1 1 1 1"/>
<path fill="none" stroke="#d8b0d8" stroke-width="0.6" vector-effect="non-scaling-stroke" transform="translate(43.6 0) scale(1.4561 0.25)" d="M0 2078l1 10 1 8 1 5 1-1 1-12 1-20 1-27 1-33 1-42 1-57 1-77 1-102 1-129 1-155 1-177 1-145 1 0 1 0 1 0 1 0 1 0 1 0 1 0 1 0 1 0 1 117 1 118 1 97 1 71 1 48 1 29 1 17 1 10 1 6 1 5 1 6 1 5 1 3 1 1 1-1 1 2 1 3 1 1 1 1 1 2 1 1 1 4 1 9 1 12 1 10 1 6 1-1 1-8 1-12 1-9 1-3 1 4 1 7 1 5 1 0 1-3 1-4 1-2 1-2 1-3 1-2 1 1 1 2 1 3 1 2 1 2 1 1 1 2 1 3 1 5 1 2 1 0 1-1 1 1 1 4 1 4 1 3 1 2 1-1 1-2 1-3 1-2 1 1 1 3 1 4 1 4 1 6 1 7 1 6 1 1 1-2 1-4 1-3 1-6 1-9 1-9 1-5 1-2 1-2 1-3 1-3 1-2 1-2 1-2 1-3 1-1 1-1 1 1 1 4 1 6 1 4 1 2 1 2 1 5 1 5 1-1 1-5 1-2 1 3 1 11 1 17 1 18 1 15 1 13 1 13 1 10 1 5 1 2 1 2 1 5 1 5 1 1 1-3 1-7 1-11 1-8 1-4 1-1 1 3 1 6 1 8 1 6 1 5 1 5 1 8 1 7 1 4 1 0 1-2 1-1 1-1 1-4 1-4 1-3 1-4 1-5 1-6 1-6 1-4 1-1 1 2 1 7 1 6 1 2 1 0 1-2 1-3 1-6 1-5 1 0 1 5 1 8 1 7 1 6 1 3 1 1 1 2 1 5 1 9 1 10 1 14 1 12 1 5 1-2 1-6 1-6 1-6 1-6 1-7 1-6 1-5 1-4 1-3 1 0 1 2 1 4 1 3 1 0 1-3 1 0 1 3 1 3 1 2 1 0 1-1 1 0 1 1 1 0 1-3 1-4 1-6 1-6 1-6 1-6 1-7 1-4 1 0 1 5 1 9 1 10 1 9 1 6 1 3 1 1"/>
<path fill="none" stroke="#cf9fd0" stroke-width="0.6" vector-effect="non-scaling-stroke" transform="translate(43.6 0) scale(1.4561 0.25)" d="M0 2107l1 0 1 0 1 0 1 0 1-8 1-32 1-22 1-10 1-30 1-53 1-44 1-13 1 9 1 2 1-32 1-49 1-46 1-42 1-25 1-13 1-20 1-22 1-6 1-12 1-33 1-40 1-33 1-9 1 17 1 23 1 10 1-14 1-18 1 4 1 18 1 22 1 23 1 8 1-11 1 4 1 34 1 24 1-14 1-25 1-10 1 5 1 17 1 27 1 11 1-11 1 0 1 9 1-5 1-15 1-15 1-19 1-13 1-1 1-15 1-29 1-7 1 35 1 49 1 15 1-30 1-34 1-8 1-3 1-8 1 4 1 27 1 29 1 10 1-8 1-7 1-2 1 0 1 9 1 15 1 9 1-2 1-11 1-17 1-7 1 19 1 31 1 19 1 4 1-13 1-17 1-11 1-2 1 14 1 12 1-7 1-7 1 5 1 7 1 0 1-1 1 8 1 6 1 1 1-2 1-8 1-15 1-6 1 5 1 4 1 3 1-9 1-18 1-7 1 14 1 24 1 3 1-21 1-21 1-16 1-3 1 13 1 21 1 15 1 4 1 13 1 26 1 20 1 4 1 0 1-5 1-8 1 3 1 28 1 26 1-19 1-54 1-52 1-36 1-49 1-75 1-80 1-67 1-34 1 22 1 70 1 93 1 89 1 66 1 55 1 51 1 42 1 19 1-8 1-20 1-13 1-6 1 6 1 26 1 24 1-8 1-37 1-41 1-23 1 1 1 22 1 36 1 34 1 14 1-11 1-19 1-17 1-15 1-19 1-12 1 13 1 16 1-1 1-8 1-2 1 19 1 25 1-3 1-18 1-7 1 9 1 23 1 30 1 22 1-1 1-19 1-17 1 2 1 5 1-23 1-31 1 4 1 31 1 15 1-8 1-5 1 9 1 0 1-16 1-8 1 2 1 7 1 10 1 7 1 4 1-14 1-20 1 2 1 16 1 3 1-14 1-14 1-8 1-3 1 10 1 13 1 6 1 3 1 7 1 13 1 12 1-9 1-25 1-24 1-12"/>
<path fill="none" stroke="#cf9fd0" stroke-width="0.6" vector-effect="non-scaling-stroke" transform="translate(43.6 0) scale(1.4561 0.25)" d="M0 2050l1 40 1 17 1 0 1 0 1-2 1-27 1-16 1-17 1-26 1-31 1-43 1-38 1-8 1-6 1-32 1-51 1-53 1-30 1-16 1-21 1-10 1 0 1-13 1-16 1-7 1-14 1-6 1 10 1-13 1-30 1-9 1 9 1 21 1 22 1 2 1-8 1 3 1-11 1-31 1-16 1 6 1 14 1 20 1 22 1 24 1 12 1-14 1-15 1 7 1 13 1-4 1-14 1-8 1 8 1 16 1 13 1 9 1 0 1-11 1-16 1-10 1 4 1 7 1-2 1-10 1-10 1-23 1-26 1-1 1 17 1 12 1 4 1 14 1 28 1 23 1-11 1-43 1-35 1 1 1 15 1 5 1-3 1 0 1 7 1 15 1 7 1 1 1 9 1 6 1 0 1 9 1 20 1 16 1 0 1-1 1 15 1 17 1-6 1-21 1-21 1-17 1-5 1 15 1 8 1-6 1-5 1 4 1 9 1-1 1-11 1-14 1-15 1-11 1-4 1-3 1-10 1-14 1-5 1 19 1 35 1 44 1 37 1 3 1-19 1-24 1-23 1 18 1 58 1 33 1-1 1-8 1-8 1-13 1-15 1-3 1 15 1 22 1 19 1 1 1-19 1-11 1 6 1 6 1-6 1-11 1-7 1-24 1-66 1-80 1-43 1 1 1 21 1 25 1 34 1 56 1 55 1 34 1 30 1 30 1 16 1-3 1-13 1-12 1-13 1-16 1-16 1-3 1 20 1 14 1-9 1-10 1-6 1-14 1-14 1-1 1 3 1 3 1 2 1-1 1 3 1 17 1 20 1 18 1 21 1 27 1 27 1 14 1-11 1-28 1-21 1-3 1 9 1 5 1 1 1 0 1-16 1-31 1-21 1-12 1-7 1 9 1 26 1 37 1 21 1-14 1-28 1-4 1 25 1 20 1-11 1-22 1-5 1-1 1-24 1-16 1 20 1 19 1-18 1-36 1-17 1 17 1 21 1 0 1-5 1 10 1 20 1 20 1 5 1-5"/>
<path fill="none" stroke="#cf9fd0" stroke-width="0.6" vector-effect="non-scaling-stroke" transform="translate(43.6 0) scale(1.4561 0.25)" d="M0 2101l1-10 1-4 1 11 1-1 1-29 1-36 1-17 1-5 1-20 1-44 1-46 1-27 1-4 1-3 1-23 1-51 1-51 1-13 1 5 1-7 1-9 1 0 1-2 1-23 1-38 1-30 1 9 1 29 1 1 1-40 1-42 1-6 1 19 1 17 1 11 1-4 1-22 1-12 1 8 1 15 1 18 1 18 1 3 1-6 1 0 1-1 1 0 1 4 1 9 1 15 1 1 1-24 1-27 1-8 1-2 1-8 1-3 1 15 1 9 1-19 1-10 1 30 1 46 1 14 1-30 1-28 1 13 1 19 1-8 1-12 1 1 1-2 1-14 1-8 1 17 1 25 1 11 1 1 1-4 1-15 1-10 1 14 1 15 1 0 1-16 1-29 1-16 1 9 1 20 1 17 1 23 1 25 1 7 1-22 1-34 1-15 1 14 1 17 1 10 1 2 1-12 1-20 1-6 1 6 1 3 1-4 1-2 1 13 1 19 1 0 1-24 1-20 1 5 1 19 1 21 1 13 1 2 1-3 1-2 1-8 1-16 1-5 1-2 1-7 1 7 1 28 1 42 1 28 1 2 1 3 1 11 1-9 1-17 1-2 1 2 1 3 1 11 1 17 1 10 1-9 1-22 1-18 1-11 1-7 1 7 1 20 1 14 1-4 1-13 1-3 1 22 1 33 1 13 1-19 1-25 1-6 1 12 1 18 1 12 1 3 1-9 1-31 1-30 1 2 1 5 1-3 1 13 1 19 1 3 1-14 1-35 1-59 1-68 1-65 1-56 1-25 1 43 1 107 1 110 1 67 1 34 1 15 1-10 1-21 1 1 1 30 1 23 1-9 1-15 1 3 1 20 1 28 1 18 1 1 1-7 1-15 1-26 1-45 1-40 1-4 1 21 1 22 1 16 1-1 1-8 1 2 1-2 1-23 1-14 1 9 1 13 1 9 1 12 1 9 1-12 1-36 1-27 1-9 1-7 1-18 1-28 1-14 1 30 1 53 1 35 1 14 1 11 1 9 1-1"/>
<path fill="none" stroke="#cf9fd0" stroke-width="0.6" vector-effect="non-scaling-stroke" transform="translate(43.6 0) scale(1.4561 0.25)" d="M0 2098l1-12 1-16 1 0 1 0 1-21 1-30 1-20 1 0 1 8 1-7 1-33 1-44 1-25 1-10 1-16 1-34 1-50 1-41 1-18 1-16 1-28 1-28 1-1 1 15 1-3 1-20 1-31 1-35 1-15 1 11 1 16 1 9 1-3 1-5 1-2 1-8 1 3 1 15 1 0 1-19 1-15 1-3 1 4 1 15 1 18 1 7 1-8 1-13 1-1 1 28 1 50 1 34 1-3 1-18 1-9 1-1 1 1 1 9 1 11 1-10 1-26 1-22 1-17 1-6 1 2 1-20 1-33 1-3 1 42 1 50 1 21 1 3 1 4 1-4 1 1 1 18 1-2 1-38 1-28 1 19 1 38 1 15 1-17 1-23 1-7 1 2 1-12 1-25 1-5 1 33 1 42 1 18 1-7 1-18 1-12 1 16 1 32 1 12 1-27 1-51 1-31 1 5 1 10 1-3 1 3 1 14 1-300 1-11 1-15 1-19 1-35 1-28 1-5 1-22 1-68 1-16 1 0 1 0 1 0 1 0 1 0 1 0 1 0 1 0 1 0 1 94 1 135 1 109 1 84 1 52 1 28 1 25 1 31 1 30 1 33 1 26 1 15 1-4 1-27 1-28 1-17 1-5 1 18 1 29 1 18 1 2 1 3 1 5 1-1 1 1 1 7 1 10 1 18 1 13 1-9 1-10 1 3 1-2 1-17 1-15 1 6 1 14 1 4 1-9 1-16 1-2 1 24 1 31 1 23 1 3 1-15 1-34 1-39 1-26 1-9 1 9 1 17 1 11 1 4 1-5 1-7 1 6 1 13 1 12 1 18 1 25 1 16 1-3 1-8 1 9 1 19 1 13 1 3 1-6 1-21 1-21 1-5 1-12 1-30 1-5 1 23 1 5 1-14 1-10 1-3 1 0 1 18 1 43 1 36 1-6 1-33 1-27 1-1 1 11 1-1 1-14 1-15 1-7 1-5 1-13 1-17 1-13 1 5 1 19 1 18 1 23 1 28 1 7 1-18"/>
<path fill="none" stroke="#cf9fd0" stroke-width="0.6" vector-effect="non-scaling-stroke" transform="translate(43.6 0) scale(1.4561 0.25)" d="M0 2107l1 0 1 0 1-15 1 15 1 0 1 0 1 0 1-39 1-62 1-15 1-17 1-44 1-45 1-29 1-24 1-25 1-21 1-22 1-10 1 1 1-11 1-25 1-27 1-21 1-15 1-12 1-7 1-15 1-18 1-3 1 16 1 26 1 16 1-24 1-58 1-42 1 10 1 39 1 24 1 5 1 3 1 6 1-8 1-23 1-6 1 26 1 22 1 14 1 18 1 17 1 11 1-4 1-18 1-16 1-22 1-19 1-7 1-7 1-7 1 7 1 10 1-9 1-17 1 7 1 32 1 30 1 13 1-3 1-5 1-4 1-14 1-9 1 15 1 30 1 17 1-10 1-20 1-6 1 9 1 4 1-7 1-3 1 14 1 13 1-22 1-41 1-9 1 23 1 27 1 19 1 12 1 5 1 3 1 19 1 26 1 2 1-23 1-23 1-24 1-27 1-4 1 17 1 6 1-9 1 3 1 0 1-33 1-37 1-6 1 16 1 14 1-8 1-17 1 1 1 19 1 8 1-1 1 13 1 20 1 16 1 2 1-13 1-10 1-1 1 23 1 38 1 18 1 1 1 11 1 20 1 13 1-6 1-12 1 1 1 13 1 11 1 6 1-6 1-21 1-22 1 0 1 17 1 7 1-5 1 12 1 24 1 4 1-20 1-15 1 7 1 26 1 23 1 3 1-3 1 4 1-5 1-29 1-58 1-59 1-40 1-41 1-37 1 3 1 56 1 62 1 38 1 22 1 10 1 0 1 2 1 12 1 21 1 17 1 9 1 11 1 13 1 0 1-19 1-28 1-7 1 17 1 14 1-4 1-15 1 5 1 32 1 36 1 14 1-20 1-30 1-20 1-22 1-26 1-8 1 18 1 19 1 7 1 4 1 5 1 12 1 16 1 16 1 4 1-4 1 4 1 6 1-3 1-13 1-23 1-25 1-18 1-1 1 20 1 19 1 10 1 7 1-2 1-10 1-4 1-5 1-11 1 0 1 22 1 17 1-12 1-23 1-15 1 7 1 22"/>
<clipPath id="tealclip"><path d="M43.6 525.5l1.1-2 1.1 0 1.1 1.2 2.2.5 1.1-1 1.1 2.6 1.1-3.6 1.1-.4 2.2-5 1.1-1.4 1.1-1 1.1-6 1.1-4.6 1.1-1.1 1.1-.4 1.1-6.1 1.1-2.1 1.1-2.7 1.1-5.8 1.1-8.3 1.1-.5 1.1-5 1.1-2.9 1.1-4.7 1.1-1.2 1.1-2.2 1.1-5 1.1-4.2 1.1-2.2 1.1 1.8 1.1-5.7 1.1-4.3 1.1-3.6 1.1-8.6 2.2-7.2 1.1-.1 1.1-1.6 1.1 2.1 1.1-1.9 2.2-.1 1.1 3.7 1.1.1 1.1 3.2 1.1 1.8 1.1 6.4 1.1-.3 1.1 1.9 1.1 4.1 2.2 2 1.1 2.7 1.1.4 1.1.2 1.1 2 1.1-3.4 1.1 2.6 1.1-2.2 1.1 1.6 1.1-4.6 1.1 3.4 1.1 2.1 1.1 1 2.2-2.3 1.1 3.5 1.1 1.3 1.1-4.7 1.1 3.2 1.1 1.1 1.1.3 1.1-2.2 1.1 3 1.1 0 1.1-.4 1.1 1.7 1.1.1 1.1-2 1.1 2.9 1.1-3.8 1.1 4.6 1.1-4.6 1.1 3.7 1.1-3.4 1.1 3 1.1 1.2 1.1-1.5 1.1 2.7 1.1-1.8 1.1 1.4 1.1 1.9 1.1.8 1.1 1.2 1.1 1 1.1 3.7 1.1-2.4 1.1-.8 1.1.2 1.1.3 1.1.8 1.1-1 1.1 3.8 1.1-1.6 1.1-1.2 1.1 1 1.1 3 1.1-.4 1.1-1.4 1.1-.5 1.1.1 1.1 1.9 1.1-1.3 1.1-2.3 1.1 2.3 1.1-5.1 1.1 2.2 1.1 3 1.1-1.4 1.1-4.7 1.1 2 1.1-.4 1.1 2.5 1.1-1 1.1 1.2 1.1-1.4 1.1-1.2 1.1-3.8 1.1-.6 1.1-1.2 1.1-2.2 1.1 3.6 1.1-1.9 1.1-3.7 1.1 3.8 1.1-2.7 1.1 2.3 1.1-1.9 1.1-.6 1.1.1 1.1-.4 1.1 1.5 1.1-1.2 1.1 3.5 1.1-1.5 2.2 2.5 1.1-2 1.1 0 1.1 5.4 1.1-4.7 1.1 1.8 1.1 2.6 1.1.6 2.2-.9 1.1 4.7 2.2.5 1.1 1.2 1.1 2.8 1.1 2 1.1-.3 1.1 1.4 1.1 2.8 1.1-2.6 1.1 7.6 1.1-3.6 1.1 1.4 1.1 1 1.1-1.3 1.1 1.8 1.1.9 1.1-3.3 1.1.5 1.1-.7 1.1.3 1.1-2.1 1.1-.4 1.1 0 1.1 1 1.1 1.9 1.1-2.3 1.1 3.5 1.1-.5 1.1.4 1.1-1.7 1.1 1.7 1.1 3.1 1.1-2.4 1.1 3.1 1.1-3.7 1.1-.7 1.1 2.5 1.1-1.9 1.1 2.2 1.1.9 2.2-1.6 1.1-1.5 1.1 2.1 1.1-.3 1.1-1.4 1.1-.2 1.1-1 1.1.8 1.1-.5 1.1-.7 1.1.6 1.1 0 3.3-2.3 1.1 1.3 1.1-1.5 1.1 1.3 1.1-.9 1.1 1.5 1.1-2.5 1.1.2 1.1 1.3 1.1.6 1.1.2 1.1 1 1.1 1.7 1.1-.3 1.1-1.6 1.1 1 1.1 3.5 1.1-3.3 1.1.5 1.1-.5 1.1-.3 1.1.1 1.1 1.2 1.1-1.8 1.1-1.1 2.2.9 1.1-3.5 1.1 4.5 1.1-4.5 1.1 2 1.1 1.5 1.1-1.1 1.1.2 1.1-1.1 1.1-1.7 1.1 3.4 1.1 2 1.1-4.5 1.1-.9 3.3-1.2 1.1 1.3 1.1-2.7 1.1 2.8 1.1-3.8 1.1-1.3 1.1 1.1 1.1.4 1.1-1 1.1.4 1.1-1.2 1.1-.5 1.1.2 1.1-1.1 2.2 1.1 1.1-1.9 1.1 5.4 1.1-5 1.1 2.9 1.1 1.4 1.1-.1 1.1 1.8 2.2-1.7 1.1 1.5 2.2 2.3 1.1-2.1 1.1 1.7 1.1-.9 1.1-1.7 1.1-1 1.1 2.1 1.1-.3 1.1-1.6 1.1 3.9 1.1 1.2 1.1-.2 1.1-2.6 1.1.9 1.1-.7 1.1 2 1.1.2 1.1.4 1.1-.1 1.1 2.7 0 18.5-1.1 2.2-1.1-1.7-1.1 1-1.1 1.4-1.1-.3-1.1-1.6-1.1-.1-1.1-1.2-1.1 2.8-1.1-2.3-1.1.5-1.1 1.2-1.1-1.2-1.1.7-1.1-.4-1.1.9-1.1.4-1.1.2-1.1.3-1.1.9-1.1 1.7-1.1-1.2-1.1 2-1.1-.5-1.1.6-1.1-.3-1.1 0-1.1.6-1.1 1.3-1.1-1.7-1.1.6-1.1 1-1.1-.2-1.1-2.9-1.1-.2-1.1.1-1.1.4-1.1-.9-1.1 1.4-1.1-.9-2.2-.3-1.1-3.1-1.1.1-1.1 2.7-1.1 0-1.1.4-1.1.6-1.1-.1-1.1 1.9-1.1-.5-1.1-.9-1.1 1.1-1.1-1.1-1.1 1.5-1.1-.5-1.1.8-1.1-1-1.1 2.5-1.1.1-1.1-3.5-1.1.6-1.1-1-1.1 1.5-1.1-1-1.1-.7-1.1 1.4-1.1-1.6-1.1 1.3-1.1-3.1-1.1 1-1.1.1-1.1 2-1.1-1.5-1.1.4-1.1-.1-1.1-2.9-1.1 1.5-1.1.2-2.2-1.3-1.1-1-1.1-.8-1.1-1.7-1.1 2.3-1.1.3-1.1-.5-1.1.5-1.1-.9-1.1 1.3-1.1.1-1.1-2.4-1.1-.2-1.1 2.7-1.1 1.1-1.1-.1-1.1 1.3-1.1-.7-1.1 1-1.1-.8-1.1.8-1.1 2.2-1.1-1.7-1.1-.3-1.1-1.6-1.1.1-1.1 1-1.1-1.8-1.1.7-1.1-.2-1.1-.9-1.1 1-1.1.2-1.1-.3-1.1-.5-1.1.6-1.1-2.1-1.1-.3-1.1-1.4-1.1.4-1.1 2.7-1.1-.5-1.1-1.1-1.1 1.1-2.2-1.3-1.1-.4-1.1.7-1.1-1-1.1-.1-1.1.8-1.1 2.5-1.1.6-1.1 1.6-1.1 4.9-1.1 3.1-1.1.7-1.1 2.7-1.1 1.7-1.1 1.3-1.1 1.1-1.1-1.2-1.1.9-1.1-.3-1.1-3.8-1.1 3-1.1 1.9-1.1-1.7-1.1-.2-1.1-2.3-1.1 3.4-1.1-.6-1.1-1.1-1.1 1.1-1.1.6-1.1-1.4-1.1.3-1.1-.7-1.1 1.3-1.1-.5-1.1 1.3-1.1-2.5-1.1-.2-1.1 1-1.1.4-1.1-2.1-1.1.1-1.1-1.1-1.1-.7-1.1.7-1.1.7-1.1.1-1.1-1.8-1.1-.6-1.1.8-1.1 1.7-1.1-2.2-1.1-1.1-1.1.4-1.1.9-1.1.1-1.1-.9-1.1-1.3-1.1-2.2-2.2 1.4-1.1-2-1.1.6-1.1 1.2-1.1.4-1.1-1.5-1.1.9-2.2.7-1.1-1.1-1.1 1.5-1.1-.5-1.1 1.7-1.1-.1-1.1 1.7-1.1-1.2-1.1.9-1.1 1-1.1 1.5-1.1-1-1.1 1.6-1.1.4-1.1-2.3-1.1 1.2-1.1 1.7-1.1-.9-1.1.7-1.1.4-4.4-.2-1.1-.6-2.2.1-1.1.7-1.1-.4-1.1.4-1.1 1.9-1.1-.8-1.1.6-1.1-2.5-1.1.5-1.1-.4-1.1.5-1.1-.6-1.1 1.2-1.1-1.3-1.1.2-1.1 1.5-1.1-1.1-1.1-.7-1.1.7-1.1 1.2-2.2-1.8-1.1 3.5-1.1-.1-1.1-1.8-1.1.9-1.1-.5-1.1.2-1.1-.4-1.1-1.9-1.1.8-1.1-.4-1.1.1-1.1 1.3-1.1-.5-1.1-2.5-1.1 1.2-1.1.1-1.1-.6-1.1-1-1.1 1.6-1.1-1.4-1.1-.7-1.1.2-1.1-1.1-1.1.6-1.1-.1-1.1.4-1.1-.7-1.1-.9-1.1 2.5-1.1-.6-1.1.7-1.1.2-1.1 8.6-1.1 19.7-1.1.3-1.1 0-1.1 1.4-1.1-2-1.1-.1-1.1-2.5-1.1-3-1.1-.5-2.2-3.6-1.1 1.2-1.1-2.8-1.1 2.7-1.1-2-1.1-1-1.1-.8-1.1-.3-1.1.7-1.1-.8-1.1-.5-1.1-.1-1.1-1.4-1.1-1.9-1.1.2-1.1-.5-1.1-1.4-1.1.4-1.1.7z"/></clipPath>
<clipPath id="purpclip"><path d="M43.6 524.3l2.2-.3 1.1-2.7 1.1-.5 2.2-5.2 1.1 1 1.1-8.1 1.1-3.3 1.1-3.8 1.1-5.2 1.1-5.9 1.1-4.6 1.1-1.4 2.2-15.8 1.1-2.7 1.1-6.8 2.2-12.5 1.1-1.7 1.1-5.2 1.1-10.3 2.2-12.6 1.1-7.5 2.2-10.1 1.1-7.2 1.1-4.6 2.2-11 1.1-7.7 1.1-5.7 1.1-4 1.1-3 1.1-4.4 1.1-1.7 1.1-.5 1.1 2.1 1.1.2 1.1-.4 1.1 4.3 1.1-2.9 1.1.2 1.1-.1 1.1 3.3 1.1.1 1.1-3.7 1.1 1.4 1.1 0 1.1-3.6 1.1-.9 1.1.6 1.1 7.1 1.1-2.7 1.1 1 1.1.5 1.1 1 1.1 5.4 1.1-3 1.1 3.9 1.1 6 1.1-1.5 1.1 3.3 1.1 2.2 1.1.6 2.2 5.4 1.1-3 1.1-.1 2.2-5.7 1.1 4.7 1.1-5.2 1.1.6 1.1-.9 1.1 1.7 1.1-6.4 1.1 1.8 1.1-6.3 1.1 3.1 1.1-.6 1.1-2.5 1.1-.9 1.1-1.2 1.1.4 1.1-3.4 1.1 4.8 1.1-5.6 1.1.5 1.1 0 1.1.7 1.1-.8 1.1 1.2 1.1-1.8 1.1 0 1.1 2 1.1 3.6 1.1 2.9 1.1-4.8 1.1 3.1 1.1-1.6 1.1 4.5 1.1-1 1.1 6.4 1.1-5.7 1.1 3.8 1.1-2.1 1.1.1 1.1 1.4 1.1-3.9 1.1 1.5 1.1-4.5 1.1-.5 1.1-2.4 1.1-6.8 1.1.7 1.1-.1 1.1-2.2 1.1.9 1.1-1.3 1.1-2 1.1.7 2.2-4.4 1.1 1.5 1.1-2.7 1.1.7 1.1-3.4 2.2-1.9 1.1-.3 1.1-4.6 1.1 2.3 2.2-5.3 1.1-4.2 1.1 0 1.1-1.7 1.1-.4 1.1-2.8 1.1 0 1.1-.9 1.1-2.7 1.1-.1 1.1-4.1 1.1-.2 1.1 1.3 1.1-1.4 1.1-2.5 1.1-.8 1.1 1 1.1-4.9 1.1 2.3 1.1-2.1 2.2 9.9 1.1-.3 1.1-2.4 1.1 3.7 1.1-5.8 1.1 1.1 1.1 11.2 1.1 9.7 1.1 13.1 1.1 6.5 3.3 23.3 1.1 4.4 2.2 9.9 1.1 6.9 1.1 8.2 1.1 7.1 1.1 3.5 1.1 5.9 1.1-1.7 1.1-1.2 1.1 2.1 1.1-7.9 1.1.8 1.1-5.3 1.1 1.2 1.1-3.7 1.1-.9 1.1 2.2 1.1-2.2 1.1-1.3 1.1.7 1.1 1.3 1.1 5.1 1.1.6 1.1-.8 1.1 3.5 1.1 5.8 1.1.3 1.1 2.3 1.1 6.5 1.1-1.1 1.1 1.6 1.1 3.5 1.1 1.4 1.1 0 1.1-3.1 2.2-1.6 1.1.1 1.1-3.4 1.1 1.3 1.1-4 1.1.4 1.1-1 1.1 0 1.1-4 1.1.9 1.1 1.1 1.1-1.9 1.1-5.1 1.1 3 1.1.1 1.1-3.8 1.1-.6 2.2 7.3 1.1-2.4 1.1 3.7 1.1 2.6 1.1-5.2 1.1.3 1.1-1.4 2.2-6.5 1.1 5 1.1 1.2 1.1 4.1 1.1-.9 1.1 5.4 1.1.8 1.1-.2 1.1 2.7 1.1-1.1 1.1 4.5 1.1.9 1.1 2.1 2.2 3.8 1.1.7 1.1 3.9 1.1 0 1.1-1.4 1.1-2.9 1.1.7 1.1-6.5 1.1 1.6 1.1-2.5 1.1-1.7 1.1-2.3 1.1 1.1 1.1.8 1.1.1 1.1 2.6 1.1 1.2 1.1-4.3 1.1 2.4 1.1-4.8 2.2 1.4 1.1-.3 1.1-3 1.1-1.9 1.1-.9 1.1.9 2.2 5 1.1 1.7 1.1-1.3 1.1 3 1.1-4.7 1.1.5 1.1 2.1 1.1-2.2 2.2-5.9 1.1 3.6 1.1-1.5 1.1.1 1.1-3.1 1.1 4.4 1.1-.5 1.1-1.2 1.1-2.5 2.2 6.4 1.1-.6 1.1-2.4 1.1 3.5 1.1 3.2 1.1.8 2.2-1.1 1.1 2.6 0 36.5-1.1.1-1.1-.3-1.1-.7-1.1 1.8-1.1 1.4-1.1-.9-1.1.9-2.2-.9-1.1 0-1.1-.7-1.1-1-1.1-.4-1.1 1.7-1.1.1-1.1-1.7-1.1.6-2.2-2.3-1.1-.5-1.1 1.4-1.1-.5-1.1-1-1.1.8-1.1 1.3-1.1-1.4-1.1-.7-1.1.7-1.1-.7-1.1.5-1.1 1.1-1.1.5-1.1-1.2-1.1 1-1.1.4-1.1.2-1.1 1.6-1.1-.6-1.1.3-1.1-1.5-1.1 1.9-1.1 2.6-1.1.6-1.1-1.6-2.2 1.3-1.1 2.3-1.1 3.8-1.1-2.8-1.1 1.4-1.1.4-1.1 2.7-1.1-3.2-1.1 2.5-1.1-.5-1.1-1.1-1.1-1.5-1.1.3-1.1.9-1.1-3.1-1.1.8-1.1-1.4-1.1.5-1.1-1.4-1.1.8-1.1-1.5-1.1-.3-1.1-2-1.1.5-1.1-.9-1.1-.5-1.1-2.5-1.1-.7-1.1.6-1.1-.4-1.1.4-1.1-.1-1.1-2.5-1.1 0-1.1.8-1.1-2-1.1 1.2-1.1 1.9-1.1-2.4-1.1.6-1.1 1.3-1.1-1.5-2.2 1.6-1.1.5-1.1.7-1.1-.3-2.2-.1-1.1-1.2-1.1 1.8-1.1-1.1-1.1 1.8-1.1 3.2-1.1-2.4-1.1-1.5-1.1 1.7-1.1-.3-1.1-2.1-1.1 2-1.1-.7-1.1-.6-1.1-1.2-1.1-.2-1.1.9-1.1.2-1.1.6-1.1-1.1-1.1-.5-1.1.1-1.1-.4-1.1 2.8-1.1-2.1-1.1-.5-1.1.1-1.1.7-1.1.5-1.1.2-1.1-.8-1.1 1.2-1.1 1.5-1.1-.3-1.1 4.7-1.1 7.8-1.1 6.8-1.1 4.6-2.2 7.9-1.1 3-1.1 1.6-1.1 1.9-1.1 2.5-1.1 3.5-1.1 1.1-1.1.8-1.1 3.1-1.1-3.1-1.1-.7-1.1-1.2-1.1 1.9-1.1-.5-1.1 1.3-1.1-.3-1.1-2.6-1.1-.1-1.1.5-1.1-1.4-1.1-.4-1.1-2.3-1.1-.4-1.1-2.5-1.1-4.6-1.1-1.5-1.1-4-1.1-1.8-1.1-.1-1.1-.2-1.1.5-1.1 2.4-1.1-1.1-1.1-2.6-1.1 1.9-1.1 1.6-1.1.7-1.1-2-1.1 2.3-1.1 0-1.1-3.4-1.1 1-1.1 1.3-1.1-2-1.1-.3-1.1 1-1.1-2.7-1.1-4.1-1.1.4-1.1-3.9-3.3-8.8-1.1-.6-1.1-5.8-1.1-1.9-1.1-4-1.1-3.5-1.1-5.2-1.1-6.2-1.1-.7-1.1-4-1.1-.1-1.1.3-1.1 1.3-1.1-1.2-1.1-2.1-1.1 1-1.1-2-1.1-.3-1.1-.6-1.1 1.5-1.1-1.4-1.1 1.2-1.1 1-1.1-2-1.1-1.1-1.1 1.4-1.1.5-1.1 1-2.2-2.4-1.1-.3-1.1-1.3-1.1.7-1.1 2.1-1.1.8-1.1-1.6-1.1-.1-1.1.7-1.1-1.6-1.1.7-1.1 1.6-2.2-.5-1.1-2.3-1.1-.1-1.1.4-1.1-1.1-1.1.3-1.1 0-1.1 1.8-1.1.4-1.1-1.1-1.1 1.4-1.1-2.7-1.1 2-1.1-1.4-1.1-.2-1.1 1.2-1.1-1.1-1.1 2.3-1.1.7-1.1 2.8-1.1 1.3-1.1-1.7-1.1-1.2-1.1 1.1-1.1.4-1.1-1.2-1.1 1.1-1.1.4-1.1-.1-1.1.6-1.1-2.5-1.1.3-1.1-.7-1.1 1.8-1.1 0-1.1-.3-1.1 1.4-1.1-1.2-1.1 2-1.1-1-1.1-.3-1.1-.8-1.1 2.5-1.1 1.7-1.1 5.8-1.1 0-1.1-.3-1.1 4-1.1 3.1-1.1 1-2.2 7.1-1.1 4.2-1.1 3.3-1.1 4.6-1.1 3.4-1.1 5.8-1.1 4.9-1.1 3.2-2.2 8-1.1 1.5-1.1 2.1-2.2 8-1.1 2.2-1.1-.9-1.1 1.2-1.1 1.7-1.1 2.7-1.1.5-1.1-.5-1.1.4-1.1-.4-1.1.8-1.1.4-1.1-1.3z"/></clipPath>
<path d="M43.6 525.5l1.1-2 1.1 0 1.1 1.2 2.2.5 1.1-1 1.1 2.6 1.1-3.6 1.1-.4 2.2-5 1.1-1.4 1.1-1 1.1-6 1.1-4.6 1.1-1.1 1.1-.4 1.1-6.1 1.1-2.1 1.1-2.7 1.1-5.8 1.1-8.3 1.1-.5 1.1-5 1.1-2.9 1.1-4.7 1.1-1.2 1.1-2.2 1.1-5 1.1-4.2 1.1-2.2 1.1 1.8 1.1-5.7 1.1-4.3 1.1-3.6 1.1-8.6 2.2-7.2 1.1-.1 1.1-1.6 1.1 2.1 1.1-1.9 2.2-.1 1.1 3.7 1.1.1 1.1 3.2 1.1 1.8 1.1 6.4 1.1-.3 1.1 1.9 1.1 4.1 2.2 2 1.1 2.7 1.1.4 1.1.2 1.1 2 1.1-3.4 1.1 2.6 1.1-2.2 1.1 1.6 1.1-4.6 1.1 3.4 1.1 2.1 1.1 1 2.2-2.3 1.1 3.5 1.1 1.3 1.1-4.7 1.1 3.2 1.1 1.1 1.1.3 1.1-2.2 1.1 3 1.1 0 1.1-.4 1.1 1.7 1.1.1 1.1-2 1.1 2.9 1.1-3.8 1.1 4.6 1.1-4.6 1.1 3.7 1.1-3.4 1.1 3 1.1 1.2 1.1-1.5 1.1 2.7 1.1-1.8 1.1 1.4 1.1 1.9 1.1.8 1.1 1.2 1.1 1 1.1 3.7 1.1-2.4 1.1-.8 1.1.2 1.1.3 1.1.8 1.1-1 1.1 3.8 1.1-1.6 1.1-1.2 1.1 1 1.1 3 1.1-.4 1.1-1.4 1.1-.5 1.1.1 1.1 1.9 1.1-1.3 1.1-2.3 1.1 2.3 1.1-5.1 1.1 2.2 1.1 3 1.1-1.4 1.1-4.7 1.1 2 1.1-.4 1.1 2.5 1.1-1 1.1 1.2 1.1-1.4 1.1-1.2 1.1-3.8 1.1-.6 1.1-1.2 1.1-2.2 1.1 3.6 1.1-1.9 1.1-3.7 1.1 3.8 1.1-2.7 1.1 2.3 1.1-1.9 1.1-.6 1.1.1 1.1-.4 1.1 1.5 1.1-1.2 1.1 3.5 1.1-1.5 2.2 2.5 1.1-2 1.1 0 1.1 5.4 1.1-4.7 1.1 1.8 1.1 2.6 1.1.6 2.2-.9 1.1 4.7 2.2.5 1.1 1.2 1.1 2.8 1.1 2 1.1-.3 1.1 1.4 1.1 2.8 1.1-2.6 1.1 7.6 1.1-3.6 1.1 1.4 1.1 1 1.1-1.3 1.1 1.8 1.1.9 1.1-3.3 1.1.5 1.1-.7 1.1.3 1.1-2.1 1.1-.4 1.1 0 1.1 1 1.1 1.9 1.1-2.3 1.1 3.5 1.1-.5 1.1.4 1.1-1.7 1.1 1.7 1.1 3.1 1.1-2.4 1.1 3.1 1.1-3.7 1.1-.7 1.1 2.5 1.1-1.9 1.1 2.2 1.1.9 2.2-1.6 1.1-1.5 1.1 2.1 1.1-.3 1.1-1.4 1.1-.2 1.1-1 1.1.8 1.1-.5 1.1-.7 1.1.6 1.1 0 3.3-2.3 1.1 1.3 1.1-1.5 1.1 1.3 1.1-.9 1.1 1.5 1.1-2.5 1.1.2 1.1 1.3 1.1.6 1.1.2 1.1 1 1.1 1.7 1.1-.3 1.1-1.6 1.1 1 1.1 3.5 1.1-3.3 1.1.5 1.1-.5 1.1-.3 1.1.1 1.1 1.2 1.1-1.8 1.1-1.1 2.2.9 1.1-3.5 1.1 4.5 1.1-4.5 1.1 2 1.1 1.5 1.1-1.1 1.1.2 1.1-1.1 1.1-1.7 1.1 3.4 1.1 2 1.1-4.5 1.1-.9 3.3-1.2 1.1 1.3 1.1-2.7 1.1 2.8 1.1-3.8 1.1-1.3 1.1 1.1 1.1.4 1.1-1 1.1.4 1.1-1.2 1.1-.5 1.1.2 1.1-1.1 2.2 1.1 1.1-1.9 1.1 5.4 1.1-5 1.1 2.9 1.1 1.4 1.1-.1 1.1 1.8 2.2-1.7 1.1 1.5 2.2 2.3 1.1-2.1 1.1 1.7 1.1-.9 1.1-1.7 1.1-1 1.1 2.1 1.1-.3 1.1-1.6 1.1 3.9 1.1 1.2 1.1-.2 1.1-2.6 1.1.9 1.1-.7 1.1 2 1.1.2 1.1.4 1.1-.1 1.1 2.7 0 18.5-1.1 2.2-1.1-1.7-1.1 1-1.1 1.4-1.1-.3-1.1-1.6-1.1-.1-1.1-1.2-1.1 2.8-1.1-2.3-1.1.5-1.1 1.2-1.1-1.2-1.1.7-1.1-.4-1.1.9-1.1.4-1.1.2-1.1.3-1.1.9-1.1 1.7-1.1-1.2-1.1 2-1.1-.5-1.1.6-1.1-.3-1.1 0-1.1.6-1.1 1.3-1.1-1.7-1.1.6-1.1 1-1.1-.2-1.1-2.9-1.1-.2-1.1.1-1.1.4-1.1-.9-1.1 1.4-1.1-.9-2.2-.3-1.1-3.1-1.1.1-1.1 2.7-1.1 0-1.1.4-1.1.6-1.1-.1-1.1 1.9-1.1-.5-1.1-.9-1.1 1.1-1.1-1.1-1.1 1.5-1.1-.5-1.1.8-1.1-1-1.1 2.5-1.1.1-1.1-3.5-1.1.6-1.1-1-1.1 1.5-1.1-1-1.1-.7-1.1 1.4-1.1-1.6-1.1 1.3-1.1-3.1-1.1 1-1.1.1-1.1 2-1.1-1.5-1.1.4-1.1-.1-1.1-2.9-1.1 1.5-1.1.2-2.2-1.3-1.1-1-1.1-.8-1.1-1.7-1.1 2.3-1.1.3-1.1-.5-1.1.5-1.1-.9-1.1 1.3-1.1.1-1.1-2.4-1.1-.2-1.1 2.7-1.1 1.1-1.1-.1-1.1 1.3-1.1-.7-1.1 1-1.1-.8-1.1.8-1.1 2.2-1.1-1.7-1.1-.3-1.1-1.6-1.1.1-1.1 1-1.1-1.8-1.1.7-1.1-.2-1.1-.9-1.1 1-1.1.2-1.1-.3-1.1-.5-1.1.6-1.1-2.1-1.1-.3-1.1-1.4-1.1.4-1.1 2.7-1.1-.5-1.1-1.1-1.1 1.1-2.2-1.3-1.1-.4-1.1.7-1.1-1-1.1-.1-1.1.8-1.1 2.5-1.1.6-1.1 1.6-1.1 4.9-1.1 3.1-1.1.7-1.1 2.7-1.1 1.7-1.1 1.3-1.1 1.1-1.1-1.2-1.1.9-1.1-.3-1.1-3.8-1.1 3-1.1 1.9-1.1-1.7-1.1-.2-1.1-2.3-1.1 3.4-1.1-.6-1.1-1.1-1.1 1.1-1.1.6-1.1-1.4-1.1.3-1.1-.7-1.1 1.3-1.1-.5-1.1 1.3-1.1-2.5-1.1-.2-1.1 1-1.1.4-1.1-2.1-1.1.1-1.1-1.1-1.1-.7-1.1.7-1.1.7-1.1.1-1.1-1.8-1.1-.6-1.1.8-1.1 1.7-1.1-2.2-1.1-1.1-1.1.4-1.1.9-1.1.1-1.1-.9-1.1-1.3-1.1-2.2-2.2 1.4-1.1-2-1.1.6-1.1 1.2-1.1.4-1.1-1.5-1.1.9-2.2.7-1.1-1.1-1.1 1.5-1.1-.5-1.1 1.7-1.1-.1-1.1 1.7-1.1-1.2-1.1.9-1.1 1-1.1 1.5-1.1-1-1.1 1.6-1.1.4-1.1-2.3-1.1 1.2-1.1 1.7-1.1-.9-1.1.7-1.1.4-4.4-.2-1.1-.6-2.2.1-1.1.7-1.1-.4-1.1.4-1.1 1.9-1.1-.8-1.1.6-1.1-2.5-1.1.5-1.1-.4-1.1.5-1.1-.6-1.1 1.2-1.1-1.3-1.1.2-1.1 1.5-1.1-1.1-1.1-.7-1.1.7-1.1 1.2-2.2-1.8-1.1 3.5-1.1-.1-1.1-1.8-1.1.9-1.1-.5-1.1.2-1.1-.4-1.1-1.9-1.1.8-1.1-.4-1.1.1-1.1 1.3-1.1-.5-1.1-2.5-1.1 1.2-1.1.1-1.1-.6-1.1-1-1.1 1.6-1.1-1.4-1.1-.7-1.1.2-1.1-1.1-1.1.6-1.1-.1-1.1.4-1.1-.7-1.1-.9-1.1 2.5-1.1-.6-1.1.7-1.1.2-1.1 8.6-1.1 19.7-1.1.3-1.1 0-1.1 1.4-1.1-2-1.1-.1-1.1-2.5-1.1-3-1.1-.5-2.2-3.6-1.1 1.2-1.1-2.8-1.1 2.7-1.1-2-1.1-1-1.1-.8-1.1-.3-1.1.7-1.1-.8-1.1-.5-1.1-.1-1.1-1.4-1.1-1.9-1.1.2-1.1-.5-1.1-1.4-1.1.4-1.1.7z" fill="#62b6ae"/>
<g clip-path="url(#tealclip)" fill="none" stroke="#3d948c" stroke-width="0.6" stroke-opacity="0.7"><use href="#q0"/><use href="#q1"/><use href="#q2"/><use href="#q3"/><use href="#q4"/><use href="#q5"/><use href="#q6"/><use href="#q7"/><use href="#q8"/><use href="#q9"/><use href="#q10"/><use href="#q11"/><use href="#q12"/><use href="#q13"/><use href="#q14"/><use href="#q15"/></g>
<path d="M43.6 524.3l2.2-.3 1.1-2.7 1.1-.5 2.2-5.2 1.1 1 1.1-8.1 1.1-3.3 1.1-3.8 1.1-5.2 1.1-5.9 1.1-4.6 1.1-1.4 2.2-15.8 1.1-2.7 1.1-6.8 2.2-12.5 1.1-1.7 1.1-5.2 1.1-10.3 2.2-12.6 1.1-7.5 2.2-10.1 1.1-7.2 1.1-4.6 2.2-11 1.1-7.7 1.1-5.7 1.1-4 1.1-3 1.1-4.4 1.1-1.7 1.1-.5 1.1 2.1 1.1.2 1.1-.4 1.1 4.3 1.1-2.9 1.1.2 1.1-.1 1.1 3.3 1.1.1 1.1-3.7 1.1 1.4 1.1 0 1.1-3.6 1.1-.9 1.1.6 1.1 7.1 1.1-2.7 1.1 1 1.1.5 1.1 1 1.1 5.4 1.1-3 1.1 3.9 1.1 6 1.1-1.5 1.1 3.3 1.1 2.2 1.1.6 2.2 5.4 1.1-3 1.1-.1 2.2-5.7 1.1 4.7 1.1-5.2 1.1.6 1.1-.9 1.1 1.7 1.1-6.4 1.1 1.8 1.1-6.3 1.1 3.1 1.1-.6 1.1-2.5 1.1-.9 1.1-1.2 1.1.4 1.1-3.4 1.1 4.8 1.1-5.6 1.1.5 1.1 0 1.1.7 1.1-.8 1.1 1.2 1.1-1.8 1.1 0 1.1 2 1.1 3.6 1.1 2.9 1.1-4.8 1.1 3.1 1.1-1.6 1.1 4.5 1.1-1 1.1 6.4 1.1-5.7 1.1 3.8 1.1-2.1 1.1.1 1.1 1.4 1.1-3.9 1.1 1.5 1.1-4.5 1.1-.5 1.1-2.4 1.1-6.8 1.1.7 1.1-.1 1.1-2.2 1.1.9 1.1-1.3 1.1-2 1.1.7 2.2-4.4 1.1 1.5 1.1-2.7 1.1.7 1.1-3.4 2.2-1.9 1.1-.3 1.1-4.6 1.1 2.3 2.2-5.3 1.1-4.2 1.1 0 1.1-1.7 1.1-.4 1.1-2.8 1.1 0 1.1-.9 1.1-2.7 1.1-.1 1.1-4.1 1.1-.2 1.1 1.3 1.1-1.4 1.1-2.5 1.1-.8 1.1 1 1.1-4.9 1.1 2.3 1.1-2.1 2.2 9.9 1.1-.3 1.1-2.4 1.1 3.7 1.1-5.8 1.1 1.1 1.1 11.2 1.1 9.7 1.1 13.1 1.1 6.5 3.3 23.3 1.1 4.4 2.2 9.9 1.1 6.9 1.1 8.2 1.1 7.1 1.1 3.5 1.1 5.9 1.1-1.7 1.1-1.2 1.1 2.1 1.1-7.9 1.1.8 1.1-5.3 1.1 1.2 1.1-3.7 1.1-.9 1.1 2.2 1.1-2.2 1.1-1.3 1.1.7 1.1 1.3 1.1 5.1 1.1.6 1.1-.8 1.1 3.5 1.1 5.8 1.1.3 1.1 2.3 1.1 6.5 1.1-1.1 1.1 1.6 1.1 3.5 1.1 1.4 1.1 0 1.1-3.1 2.2-1.6 1.1.1 1.1-3.4 1.1 1.3 1.1-4 1.1.4 1.1-1 1.1 0 1.1-4 1.1.9 1.1 1.1 1.1-1.9 1.1-5.1 1.1 3 1.1.1 1.1-3.8 1.1-.6 2.2 7.3 1.1-2.4 1.1 3.7 1.1 2.6 1.1-5.2 1.1.3 1.1-1.4 2.2-6.5 1.1 5 1.1 1.2 1.1 4.1 1.1-.9 1.1 5.4 1.1.8 1.1-.2 1.1 2.7 1.1-1.1 1.1 4.5 1.1.9 1.1 2.1 2.2 3.8 1.1.7 1.1 3.9 1.1 0 1.1-1.4 1.1-2.9 1.1.7 1.1-6.5 1.1 1.6 1.1-2.5 1.1-1.7 1.1-2.3 1.1 1.1 1.1.8 1.1.1 1.1 2.6 1.1 1.2 1.1-4.3 1.1 2.4 1.1-4.8 2.2 1.4 1.1-.3 1.1-3 1.1-1.9 1.1-.9 1.1.9 2.2 5 1.1 1.7 1.1-1.3 1.1 3 1.1-4.7 1.1.5 1.1 2.1 1.1-2.2 2.2-5.9 1.1 3.6 1.1-1.5 1.1.1 1.1-3.1 1.1 4.4 1.1-.5 1.1-1.2 1.1-2.5 2.2 6.4 1.1-.6 1.1-2.4 1.1 3.5 1.1 3.2 1.1.8 2.2-1.1 1.1 2.6 0 36.5-1.1.1-1.1-.3-1.1-.7-1.1 1.8-1.1 1.4-1.1-.9-1.1.9-2.2-.9-1.1 0-1.1-.7-1.1-1-1.1-.4-1.1 1.7-1.1.1-1.1-1.7-1.1.6-2.2-2.3-1.1-.5-1.1 1.4-1.1-.5-1.1-1-1.1.8-1.1 1.3-1.1-1.4-1.1-.7-1.1.7-1.1-.7-1.1.5-1.1 1.1-1.1.5-1.1-1.2-1.1 1-1.1.4-1.1.2-1.1 1.6-1.1-.6-1.1.3-1.1-1.5-1.1 1.9-1.1 2.6-1.1.6-1.1-1.6-2.2 1.3-1.1 2.3-1.1 3.8-1.1-2.8-1.1 1.4-1.1.4-1.1 2.7-1.1-3.2-1.1 2.5-1.1-.5-1.1-1.1-1.1-1.5-1.1.3-1.1.9-1.1-3.1-1.1.8-1.1-1.4-1.1.5-1.1-1.4-1.1.8-1.1-1.5-1.1-.3-1.1-2-1.1.5-1.1-.9-1.1-.5-1.1-2.5-1.1-.7-1.1.6-1.1-.4-1.1.4-1.1-.1-1.1-2.5-1.1 0-1.1.8-1.1-2-1.1 1.2-1.1 1.9-1.1-2.4-1.1.6-1.1 1.3-1.1-1.5-2.2 1.6-1.1.5-1.1.7-1.1-.3-2.2-.1-1.1-1.2-1.1 1.8-1.1-1.1-1.1 1.8-1.1 3.2-1.1-2.4-1.1-1.5-1.1 1.7-1.1-.3-1.1-2.1-1.1 2-1.1-.7-1.1-.6-1.1-1.2-1.1-.2-1.1.9-1.1.2-1.1.6-1.1-1.1-1.1-.5-1.1.1-1.1-.4-1.1 2.8-1.1-2.1-1.1-.5-1.1.1-1.1.7-1.1.5-1.1.2-1.1-.8-1.1 1.2-1.1 1.5-1.1-.3-1.1 4.7-1.1 7.8-1.1 6.8-1.1 4.6-2.2 7.9-1.1 3-1.1 1.6-1.1 1.9-1.1 2.5-1.1 3.5-1.1 1.1-1.1.8-1.1 3.1-1.1-3.1-1.1-.7-1.1-1.2-1.1 1.9-1.1-.5-1.1 1.3-1.1-.3-1.1-2.6-1.1-.1-1.1.5-1.1-1.4-1.1-.4-1.1-2.3-1.1-.4-1.1-2.5-1.1-4.6-1.1-1.5-1.1-4-1.1-1.8-1.1-.1-1.1-.2-1.1.5-1.1 2.4-1.1-1.1-1.1-2.6-1.1 1.9-1.1 1.6-1.1.7-1.1-2-1.1 2.3-1.1 0-1.1-3.4-1.1 1-1.1 1.3-1.1-2-1.1-.3-1.1 1-1.1-2.7-1.1-4.1-1.1.4-1.1-3.9-3.3-8.8-1.1-.6-1.1-5.8-1.1-1.9-1.1-4-1.1-3.5-1.1-5.2-1.1-6.2-1.1-.7-1.1-4-1.1-.1-1.1.3-1.1 1.3-1.1-1.2-1.1-2.1-1.1 1-1.1-2-1.1-.3-1.1-.6-1.1 1.5-1.1-1.4-1.1 1.2-1.1 1-1.1-2-1.1-1.1-1.1 1.4-1.1.5-1.1 1-2.2-2.4-1.1-.3-1.1-1.3-1.1.7-1.1 2.1-1.1.8-1.1-1.6-1.1-.1-1.1.7-1.1-1.6-1.1.7-1.1 1.6-2.2-.5-1.1-2.3-1.1-.1-1.1.4-1.1-1.1-1.1.3-1.1 0-1.1 1.8-1.1.4-1.1-1.1-1.1 1.4-1.1-2.7-1.1 2-1.1-1.4-1.1-.2-1.1 1.2-1.1-1.1-1.1 2.3-1.1.7-1.1 2.8-1.1 1.3-1.1-1.7-1.1-1.2-1.1 1.1-1.1.4-1.1-1.2-1.1 1.1-1.1.4-1.1-.1-1.1.6-1.1-2.5-1.1.3-1.1-.7-1.1 1.8-1.1 0-1.1-.3-1.1 1.4-1.1-1.2-1.1 2-1.1-1-1.1-.3-1.1-.8-1.1 2.5-1.1 1.7-1.1 5.8-1.1 0-1.1-.3-1.1 4-1.1 3.1-1.1 1-2.2 7.1-1.1 4.2-1.1 3.3-1.1 4.6-1.1 3.4-1.1 5.8-1.1 4.9-1.1 3.2-2.2 8-1.1 1.5-1.1 2.1-2.2 8-1.1 2.2-1.1-.9-1.1 1.2-1.1 1.7-1.1 2.7-1.1.5-1.1-.5-1.1.4-1.1-.4-1.1.8-1.1.4-1.1-1.3z" fill="#b35fb6" fill-opacity="0.93"/>
<g clip-path="url(#purpclip)" fill="none" stroke="#8c3a92" stroke-width="0.6" stroke-opacity="0.55"><use href="#p0"/><use href="#p1"/><use href="#p2"/><use href="#p3"/><use href="#p4"/><use href="#p5"/><use href="#p6"/><use href="#p7"/><use href="#p8"/><use href="#p9"/><use href="#p10"/><use href="#p11"/><use href="#p12"/><use href="#p13"/><use href="#p14"/><use href="#p15"/><use href="#p16"/><use href="#p17"/><use href="#p18"/><use href="#p19"/></g>
<path d="M43.6 524.3l2.2-.3 1.1-2.7 1.1-.5 2.2-5.2 1.1 1 1.1-8.1 1.1-3.3 1.1-3.8 1.1-5.2 1.1-5.9 1.1-4.6 1.1-1.4 2.2-15.8 1.1-2.7 1.1-6.8 2.2-12.5 1.1-1.7 1.1-5.2 1.1-10.3 2.2-12.6 1.1-7.5 2.2-10.1 1.1-7.2 1.1-4.6 2.2-11 1.1-7.7 1.1-5.7 1.1-4 1.1-3 1.1-4.4 1.1-1.7 1.1-.5 1.1 2.1 1.1.2 1.1-.4 1.1 4.3 1.1-2.9 1.1.2 1.1-.1 1.1 3.3 1.1.1 1.1-3.7 1.1 1.4 1.1 0 1.1-3.6 1.1-.9 1.1.6 1.1 7.1 1.1-2.7 1.1 1 1.1.5 1.1 1 1.1 5.4 1.1-3 1.1 3.9 1.1 6 1.1-1.5 1.1 3.3 1.1 2.2 1.1.6 2.2 5.4 1.1-3 1.1-.1 2.2-5.7 1.1 4.7 1.1-5.2 1.1.6 1.1-.9 1.1 1.7 1.1-6.4 1.1 1.8 1.1-6.3 1.1 3.1 1.1-.6 1.1-2.5 1.1-.9 1.1-1.2 1.1.4 1.1-3.4 1.1 4.8 1.1-5.6 1.1.5 1.1 0 1.1.7 1.1-.8 1.1 1.2 1.1-1.8 1.1 0 1.1 2 1.1 3.6 1.1 2.9 1.1-4.8 1.1 3.1 1.1-1.6 1.1 4.5 1.1-1 1.1 6.4 1.1-5.7 1.1 3.8 1.1-2.1 1.1.1 1.1 1.4 1.1-3.9 1.1 1.5 1.1-4.5 1.1-.5 1.1-2.4 1.1-6.8 1.1.7 1.1-.1 1.1-2.2 1.1.9 1.1-1.3 1.1-2 1.1.7 2.2-4.4 1.1 1.5 1.1-2.7 1.1.7 1.1-3.4 2.2-1.9 1.1-.3 1.1-4.6 1.1 2.3 2.2-5.3 1.1-4.2 1.1 0 1.1-1.7 1.1-.4 1.1-2.8 1.1 0 1.1-.9 1.1-2.7 1.1-.1 1.1-4.1 1.1-.2 1.1 1.3 1.1-1.4 1.1-2.5 1.1-.8 1.1 1 1.1-4.9 1.1 2.3 1.1-2.1 2.2 9.9 1.1-.3 1.1-2.4 1.1 3.7 1.1-5.8 1.1 1.1 1.1 11.2 1.1 9.7 1.1 13.1 1.1 6.5 3.3 23.3 1.1 4.4 2.2 9.9 1.1 6.9 1.1 8.2 1.1 7.1 1.1 3.5 1.1 5.9 1.1-1.7 1.1-1.2 1.1 2.1 1.1-7.9 1.1.8 1.1-5.3 1.1 1.2 1.1-3.7 1.1-.9 1.1 2.2 1.1-2.2 1.1-1.3 1.1.7 1.1 1.3 1.1 5.1 1.1.6 1.1-.8 1.1 3.5 1.1 5.8 1.1.3 1.1 2.3 1.1 6.5 1.1-1.1 1.1 1.6 1.1 3.5 1.1 1.4 1.1 0 1.1-3.1 2.2-1.6 1.1.1 1.1-3.4 1.1 1.3 1.1-4 1.1.4 1.1-1 1.1 0 1.1-4 1.1.9 1.1 1.1 1.1-1.9 1.1-5.1 1.1 3 1.1.1 1.1-3.8 1.1-.6 2.2 7.3 1.1-2.4 1.1 3.7 1.1 2.6 1.1-5.2 1.1.3 1.1-1.4 2.2-6.5 1.1 5 1.1 1.2 1.1 4.1 1.1-.9 1.1 5.4 1.1.8 1.1-.2 1.1 2.7 1.1-1.1 1.1 4.5 1.1.9 1.1 2.1 2.2 3.8 1.1.7 1.1 3.9 1.1 0 1.1-1.4 1.1-2.9 1.1.7 1.1-6.5 1.1 1.6 1.1-2.5 1.1-1.7 1.1-2.3 1.1 1.1 1.1.8 1.1.1 1.1 2.6 1.1 1.2 1.1-4.3 1.1 2.4 1.1-4.8 2.2 1.4 1.1-.3 1.1-3 1.1-1.9 1.1-.9 1.1.9 2.2 5 1.1 1.7 1.1-1.3 1.1 3 1.1-4.7 1.1.5 1.1 2.1 1.1-2.2 2.2-5.9 1.1 3.6 1.1-1.5 1.1.1 1.1-3.1 1.1 4.4 1.1-.5 1.1-1.2 1.1-2.5 2.2 6.4 1.1-.6 1.1-2.4 1.1 3.5 1.1 3.2 1.1.8 2.2-1.1 1.1 2.6 0 36.5-1.1.1-1.1-.3-1.1-.7-1.1 1.8-1.1 1.4-1.1-.9-1.1.9-2.2-.9-1.1 0-1.1-.7-1.1-1-1.1-.4-1.1 1.7-1.1.1-1.1-1.7-1.1.6-2.2-2.3-1.1-.5-1.1 1.4-1.1-.5-1.1-1-1.1.8-1.1 1.3-1.1-1.4-1.1-.7-1.1.7-1.1-.7-1.1.5-1.1 1.1-1.1.5-1.1-1.2-1.1 1-1.1.4-1.1.2-1.1 1.6-1.1-.6-1.1.3-1.1-1.5-1.1 1.9-1.1 2.6-1.1.6-1.1-1.6-2.2 1.3-1.1 2.3-1.1 3.8-1.1-2.8-1.1 1.4-1.1.4-1.1 2.7-1.1-3.2-1.1 2.5-1.1-.5-1.1-1.1-1.1-1.5-1.1.3-1.1.9-1.1-3.1-1.1.8-1.1-1.4-1.1.5-1.1-1.4-1.1.8-1.1-1.5-1.1-.3-1.1-2-1.1.5-1.1-.9-1.1-.5-1.1-2.5-1.1-.7-1.1.6-1.1-.4-1.1.4-1.1-.1-1.1-2.5-1.1 0-1.1.8-1.1-2-1.1 1.2-1.1 1.9-1.1-2.4-1.1.6-1.1 1.3-1.1-1.5-2.2 1.6-1.1.5-1.1.7-1.1-.3-2.2-.1-1.1-1.2-1.1 1.8-1.1-1.1-1.1 1.8-1.1 3.2-1.1-2.4-1.1-1.5-1.1 1.7-1.1-.3-1.1-2.1-1.1 2-1.1-.7-1.1-.6-1.1-1.2-1.1-.2-1.1.9-1.1.2-1.1.6-1.1-1.1-1.1-.5-1.1.1-1.1-.4-1.1 2.8-1.1-2.1-1.1-.5-1.1.1-1.1.7-1.1.5-1.1.2-1.1-.8-1.1 1.2-1.1 1.5-1.1-.3-1.1 4.7-1.1 7.8-1.1 6.8-1.1 4.6-2.2 7.9-1.1 3-1.1 1.6-1.1 1.9-1.1 2.5-1.1 3.5-1.1 1.1-1.1.8-1.1 3.1-1.1-3.1-1.1-.7-1.1-1.2-1.1 1.9-1.1-.5-1.1 1.3-1.1-.3-1.1-2.6-1.1-.1-1.1.5-1.1-1.4-1.1-.4-1.1-2.3-1.1-.4-1.1-2.5-1.1-4.6-1.1-1.5-1.1-4-1.1-1.8-1.1-.1-1.1-.2-1.1.5-1.1 2.4-1.1-1.1-1.1-2.6-1.1 1.9-1.1 1.6-1.1.7-1.1-2-1.1 2.3-1.1 0-1.1-3.4-1.1 1-1.1 1.3-1.1-2-1.1-.3-1.1 1-1.1-2.7-1.1-4.1-1.1.4-1.1-3.9-3.3-8.8-1.1-.6-1.1-5.8-1.1-1.9-1.1-4-1.1-3.5-1.1-5.2-1.1-6.2-1.1-.7-1.1-4-1.1-.1-1.1.3-1.1 1.3-1.1-1.2-1.1-2.1-1.1 1-1.1-2-1.1-.3-1.1-.6-1.1 1.5-1.1-1.4-1.1 1.2-1.1 1-1.1-2-1.1-1.1-1.1 1.4-1.1.5-1.1 1-2.2-2.4-1.1-.3-1.1-1.3-1.1.7-1.1 2.1-1.1.8-1.1-1.6-1.1-.1-1.1.7-1.1-1.6-1.1.7-1.1 1.6-2.2-.5-1.1-2.3-1.1-.1-1.1.4-1.1-1.1-1.1.3-1.1 0-1.1 1.8-1.1.4-1.1-1.1-1.1 1.4-1.1-2.7-1.1 2-1.1-1.4-1.1-.2-1.1 1.2-1.1-1.1-1.1 2.3-1.1.7-1.1 2.8-1.1 1.3-1.1-1.7-1.1-1.2-1.1 1.1-1.1.4-1.1-1.2-1.1 1.1-1.1.4-1.1-.1-1.1.6-1.1-2.5-1.1.3-1.1-.7-1.1 1.8-1.1 0-1.1-.3-1.1 1.4-1.1-1.2-1.1 2-1.1-1-1.1-.3-1.1-.8-1.1 2.5-1.1 1.7-1.1 5.8-1.1 0-1.1-.3-1.1 4-1.1 3.1-1.1 1-2.2 7.1-1.1 4.2-1.1 3.3-1.1 4.6-1.1 3.4-1.1 5.8-1.1 4.9-1.1 3.2-2.2 8-1.1 1.5-1.1 2.1-2.2 8-1.1 2.2-1.1-.9-1.1 1.2-1.1 1.7-1.1 2.7-1.1.5-1.1-.5-1.1.4-1.1-.4-1.1.8-1.1.4-1.1-1.3z" fill="#6f4f98" clip-path="url(#tealclip)"/>
<clipPath id="belowzero"><rect x="43.6" y="527" width="200" height="30"/></clipPath>
<path d="M43.6 525.5l1.1-2 1.1 0 1.1 1.2 2.2.5 1.1-1 1.1 2.6 1.1-3.6 1.1-.4 2.2-5 1.1-1.4 1.1-1 1.1-6 1.1-4.6 1.1-1.1 1.1-.4 1.1-6.1 1.1-2.1 1.1-2.7 1.1-5.8 1.1-8.3 1.1-.5 1.1-5 1.1-2.9 1.1-4.7 1.1-1.2 1.1-2.2 1.1-5 1.1-4.2 1.1-2.2 1.1 1.8 1.1-5.7 1.1-4.3 1.1-3.6 1.1-8.6 2.2-7.2 1.1-.1 1.1-1.6 1.1 2.1 1.1-1.9 2.2-.1 1.1 3.7 1.1.1 1.1 3.2 1.1 1.8 1.1 6.4 1.1-.3 1.1 1.9 1.1 4.1 2.2 2 1.1 2.7 1.1.4 1.1.2 1.1 2 1.1-3.4 1.1 2.6 1.1-2.2 1.1 1.6 1.1-4.6 1.1 3.4 1.1 2.1 1.1 1 2.2-2.3 1.1 3.5 1.1 1.3 1.1-4.7 1.1 3.2 1.1 1.1 1.1.3 1.1-2.2 1.1 3 1.1 0 1.1-.4 1.1 1.7 1.1.1 1.1-2 1.1 2.9 1.1-3.8 1.1 4.6 1.1-4.6 1.1 3.7 1.1-3.4 1.1 3 1.1 1.2 1.1-1.5 1.1 2.7 1.1-1.8 1.1 1.4 1.1 1.9 1.1.8 1.1 1.2 1.1 1 1.1 3.7 1.1-2.4 1.1-.8 1.1.2 1.1.3 1.1.8 1.1-1 1.1 3.8 1.1-1.6 1.1-1.2 1.1 1 1.1 3 1.1-.4 1.1-1.4 1.1-.5 1.1.1 1.1 1.9 1.1-1.3 1.1-2.3 1.1 2.3 1.1-5.1 1.1 2.2 1.1 3 1.1-1.4 1.1-4.7 1.1 2 1.1-.4 1.1 2.5 1.1-1 1.1 1.2 1.1-1.4 1.1-1.2 1.1-3.8 1.1-.6 1.1-1.2 1.1-2.2 1.1 3.6 1.1-1.9 1.1-3.7 1.1 3.8 1.1-2.7 1.1 2.3 1.1-1.9 1.1-.6 1.1.1 1.1-.4 1.1 1.5 1.1-1.2 1.1 3.5 1.1-1.5 2.2 2.5 1.1-2 1.1 0 1.1 5.4 1.1-4.7 1.1 1.8 1.1 2.6 1.1.6 2.2-.9 1.1 4.7 2.2.5 1.1 1.2 1.1 2.8 1.1 2 1.1-.3 1.1 1.4 1.1 2.8 1.1-2.6 1.1 7.6 1.1-3.6 1.1 1.4 1.1 1 1.1-1.3 1.1 1.8 1.1.9 1.1-3.3 1.1.5 1.1-.7 1.1.3 1.1-2.1 1.1-.4 1.1 0 1.1 1 1.1 1.9 1.1-2.3 1.1 3.5 1.1-.5 1.1.4 1.1-1.7 1.1 1.7 1.1 3.1 1.1-2.4 1.1 3.1 1.1-3.7 1.1-.7 1.1 2.5 1.1-1.9 1.1 2.2 1.1.9 2.2-1.6 1.1-1.5 1.1 2.1 1.1-.3 1.1-1.4 1.1-.2 1.1-1 1.1.8 1.1-.5 1.1-.7 1.1.6 1.1 0 3.3-2.3 1.1 1.3 1.1-1.5 1.1 1.3 1.1-.9 1.1 1.5 1.1-2.5 1.1.2 1.1 1.3 1.1.6 1.1.2 1.1 1 1.1 1.7 1.1-.3 1.1-1.6 1.1 1 1.1 3.5 1.1-3.3 1.1.5 1.1-.5 1.1-.3 1.1.1 1.1 1.2 1.1-1.8 1.1-1.1 2.2.9 1.1-3.5 1.1 4.5 1.1-4.5 1.1 2 1.1 1.5 1.1-1.1 1.1.2 1.1-1.1 1.1-1.7 1.1 3.4 1.1 2 1.1-4.5 1.1-.9 3.3-1.2 1.1 1.3 1.1-2.7 1.1 2.8 1.1-3.8 1.1-1.3 1.1 1.1 1.1.4 1.1-1 1.1.4 1.1-1.2 1.1-.5 1.1.2 1.1-1.1 2.2 1.1 1.1-1.9 1.1 5.4 1.1-5 1.1 2.9 1.1 1.4 1.1-.1 1.1 1.8 2.2-1.7 1.1 1.5 2.2 2.3 1.1-2.1 1.1 1.7 1.1-.9 1.1-1.7 1.1-1 1.1 2.1 1.1-.3 1.1-1.6 1.1 3.9 1.1 1.2 1.1-.2 1.1-2.6 1.1.9 1.1-.7 1.1 2 1.1.2 1.1.4 1.1-.1 1.1 2.7 0 18.5-1.1 2.2-1.1-1.7-1.1 1-1.1 1.4-1.1-.3-1.1-1.6-1.1-.1-1.1-1.2-1.1 2.8-1.1-2.3-1.1.5-1.1 1.2-1.1-1.2-1.1.7-1.1-.4-1.1.9-1.1.4-1.1.2-1.1.3-1.1.9-1.1 1.7-1.1-1.2-1.1 2-1.1-.5-1.1.6-1.1-.3-1.1 0-1.1.6-1.1 1.3-1.1-1.7-1.1.6-1.1 1-1.1-.2-1.1-2.9-1.1-.2-1.1.1-1.1.4-1.1-.9-1.1 1.4-1.1-.9-2.2-.3-1.1-3.1-1.1.1-1.1 2.7-1.1 0-1.1.4-1.1.6-1.1-.1-1.1 1.9-1.1-.5-1.1-.9-1.1 1.1-1.1-1.1-1.1 1.5-1.1-.5-1.1.8-1.1-1-1.1 2.5-1.1.1-1.1-3.5-1.1.6-1.1-1-1.1 1.5-1.1-1-1.1-.7-1.1 1.4-1.1-1.6-1.1 1.3-1.1-3.1-1.1 1-1.1.1-1.1 2-1.1-1.5-1.1.4-1.1-.1-1.1-2.9-1.1 1.5-1.1.2-2.2-1.3-1.1-1-1.1-.8-1.1-1.7-1.1 2.3-1.1.3-1.1-.5-1.1.5-1.1-.9-1.1 1.3-1.1.1-1.1-2.4-1.1-.2-1.1 2.7-1.1 1.1-1.1-.1-1.1 1.3-1.1-.7-1.1 1-1.1-.8-1.1.8-1.1 2.2-1.1-1.7-1.1-.3-1.1-1.6-1.1.1-1.1 1-1.1-1.8-1.1.7-1.1-.2-1.1-.9-1.1 1-1.1.2-1.1-.3-1.1-.5-1.1.6-1.1-2.1-1.1-.3-1.1-1.4-1.1.4-1.1 2.7-1.1-.5-1.1-1.1-1.1 1.1-2.2-1.3-1.1-.4-1.1.7-1.1-1-1.1-.1-1.1.8-1.1 2.5-1.1.6-1.1 1.6-1.1 4.9-1.1 3.1-1.1.7-1.1 2.7-1.1 1.7-1.1 1.3-1.1 1.1-1.1-1.2-1.1.9-1.1-.3-1.1-3.8-1.1 3-1.1 1.9-1.1-1.7-1.1-.2-1.1-2.3-1.1 3.4-1.1-.6-1.1-1.1-1.1 1.1-1.1.6-1.1-1.4-1.1.3-1.1-.7-1.1 1.3-1.1-.5-1.1 1.3-1.1-2.5-1.1-.2-1.1 1-1.1.4-1.1-2.1-1.1.1-1.1-1.1-1.1-.7-1.1.7-1.1.7-1.1.1-1.1-1.8-1.1-.6-1.1.8-1.1 1.7-1.1-2.2-1.1-1.1-1.1.4-1.1.9-1.1.1-1.1-.9-1.1-1.3-1.1-2.2-2.2 1.4-1.1-2-1.1.6-1.1 1.2-1.1.4-1.1-1.5-1.1.9-2.2.7-1.1-1.1-1.1 1.5-1.1-.5-1.1 1.7-1.1-.1-1.1 1.7-1.1-1.2-1.1.9-1.1 1-1.1 1.5-1.1-1-1.1 1.6-1.1.4-1.1-2.3-1.1 1.2-1.1 1.7-1.1-.9-1.1.7-1.1.4-4.4-.2-1.1-.6-2.2.1-1.1.7-1.1-.4-1.1.4-1.1 1.9-1.1-.8-1.1.6-1.1-2.5-1.1.5-1.1-.4-1.1.5-1.1-.6-1.1 1.2-1.1-1.3-1.1.2-1.1 1.5-1.1-1.1-1.1-.7-1.1.7-1.1 1.2-2.2-1.8-1.1 3.5-1.1-.1-1.1-1.8-1.1.9-1.1-.5-1.1.2-1.1-.4-1.1-1.9-1.1.8-1.1-.4-1.1.1-1.1 1.3-1.1-.5-1.1-2.5-1.1 1.2-1.1.1-1.1-.6-1.1-1-1.1 1.6-1.1-1.4-1.1-.7-1.1.2-1.1-1.1-1.1.6-1.1-.1-1.1.4-1.1-.7-1.1-.9-1.1 2.5-1.1-.6-1.1.7-1.1.2-1.1 8.6-1.1 19.7-1.1.3-1.1 0-1.1 1.4-1.1-2-1.1-.1-1.1-2.5-1.1-3-1.1-.5-2.2-3.6-1.1 1.2-1.1-2.8-1.1 2.7-1.1-2-1.1-1-1.1-.8-1.1-.3-1.1.7-1.1-.8-1.1-.5-1.1-.1-1.1-1.4-1.1-1.9-1.1.2-1.1-.5-1.1-1.4-1.1.4-1.1.7z" fill="#a89a5c" clip-path="url(#belowzero)"/>
<path fill="none" stroke="#2f4f45" stroke-width="0.7" stroke-opacity="0.85" d="M43.6 524.3l2.2-.3 1.1-2.7 1.1-.5 2.2-5.2 1.1 1 1.1-8.1 1.1-3.3 1.1-3.8 1.1-5.2 1.1-5.9 1.1-4.6 1.1-1.4 2.2-15.8 1.1-2.7 1.1-6.8 2.2-12.5 1.1-1.7 1.1-5.2 1.1-10.3 2.2-12.6 1.1-7.5 2.2-10.1 1.1-7.2 1.1-4.6 2.2-11 1.1-7.7 1.1-5.7 1.1-4 1.1-3 1.1-4.4 1.1-1.7 1.1-.5 1.1 2.1 1.1.2 1.1-.4 1.1 4.3 1.1-2.9 1.1.2 1.1-.1 1.1 3.3 1.1.1 1.1-3.7 1.1 1.4 1.1 0 1.1-3.6 1.1-.9 1.1.6 1.1 7.1 1.1-2.7 1.1 1 1.1.5 1.1 1 1.1 5.4 1.1-3 1.1 3.9 1.1 6 1.1-1.5 1.1 3.3 1.1 2.2 1.1.6 2.2 5.4 1.1-3 1.1-.1 2.2-5.7 1.1 4.7 1.1-5.2 1.1.6 1.1-.9 1.1 1.7 1.1-6.4 1.1 1.8 1.1-6.3 1.1 3.1 1.1-.6 1.1-2.5 1.1-.9 1.1-1.2 1.1.4 1.1-3.4 1.1 4.8 1.1-5.6 1.1.5 1.1 0 1.1.7 1.1-.8 1.1 1.2 1.1-1.8 1.1 0 1.1 2 1.1 3.6 1.1 2.9 1.1-4.8 1.1 3.1 1.1-1.6 1.1 4.5 1.1-1 1.1 6.4 1.1-5.7 1.1 3.8 1.1-2.1 1.1.1 1.1 1.4 1.1-3.9 1.1 1.5 1.1-4.5 1.1-.5 1.1-2.4 1.1-6.8 1.1.7 1.1-.1 1.1-2.2 1.1.9 1.1-1.3 1.1-2 1.1.7 2.2-4.4 1.1 1.5 1.1-2.7 1.1.7 1.1-3.4 2.2-1.9 1.1-.3 1.1-4.6 1.1 2.3 2.2-5.3 1.1-4.2 1.1 0 1.1-1.7 1.1-.4 1.1-2.8 1.1 0 1.1-.9 1.1-2.7 1.1-.1 1.1-4.1 1.1-.2 1.1 1.3 1.1-1.4 1.1-2.5 1.1-.8 1.1 1 1.1-4.9 1.1 2.3 1.1-2.1 2.2 9.9 1.1-.3 1.1-2.4 1.1 3.7 1.1-5.8 1.1 1.1 1.1 11.2 1.1 9.7 1.1 13.1 1.1 6.5 3.3 23.3 1.1 4.4 2.2 9.9 1.1 6.9 1.1 8.2 1.1 7.1 1.1 3.5 1.1 5.9 1.1-1.7 1.1-1.2 1.1 2.1 1.1-7.9 1.1.8 1.1-5.3 1.1 1.2 1.1-3.7 1.1-.9 1.1 2.2 1.1-2.2 1.1-1.3 1.1.7 1.1 1.3 1.1 5.1 1.1.6 1.1-.8 1.1 3.5 1.1 5.8 1.1.3 1.1 2.3 1.1 6.5 1.1-1.1 1.1 1.6 1.1 3.5 1.1 1.4 1.1 0 1.1-3.1 2.2-1.6 1.1.1 1.1-3.4 1.1 1.3 1.1-4 1.1.4 1.1-1 1.1 0 1.1-4 1.1.9 1.1 1.1 1.1-1.9 1.1-5.1 1.1 3 1.1.1 1.1-3.8 1.1-.6 2.2 7.3 1.1-2.4 1.1 3.7 1.1 2.6 1.1-5.2 1.1.3 1.1-1.4 2.2-6.5 1.1 5 1.1 1.2 1.1 4.1 1.1-.9 1.1 5.4 1.1.8 1.1-.2 1.1 2.7 1.1-1.1 1.1 4.5 1.1.9 1.1 2.1 2.2 3.8 1.1.7 1.1 3.9 1.1 0 1.1-1.4 1.1-2.9 1.1.7 1.1-6.5 1.1 1.6 1.1-2.5 1.1-1.7 1.1-2.3 1.1 1.1 1.1.8 1.1.1 1.1 2.6 1.1 1.2 1.1-4.3 1.1 2.4 1.1-4.8 2.2 1.4 1.1-.3 1.1-3 1.1-1.9 1.1-.9 1.1.9 2.2 5 1.1 1.7 1.1-1.3 1.1 3 1.1-4.7 1.1.5 1.1 2.1 1.1-2.2 2.2-5.9 1.1 3.6 1.1-1.5 1.1.1 1.1-3.1 1.1 4.4 1.1-.5 1.1-1.2 1.1-2.5 2.2 6.4 1.1-.6 1.1-2.4 1.1 3.5 1.1 3.2 1.1.8 2.2-1.1 1.1 2.6"/>
<path fill="none" stroke="#2f4f45" stroke-width="0.7" stroke-opacity="0.85" d="M43.6 526.2l1.1 1.3 1.1-.4 1.1-.8 1.1.4 1.1-.4 1.1.5 1.1-.5 1.1-2.7 1.1-1.7 1.1-1.2 1.1.9 1.1-2.2 2.2-8 1.1-2.1 1.1-1.5 2.2-8 1.1-3.2 1.1-4.9 1.1-5.8 1.1-3.4 1.1-4.6 1.1-3.3 1.1-4.2 2.2-7.1 1.1-1 1.1-3.1 1.1-4 1.1.3 1.1 0 1.1-5.8 1.1-1.7 1.1-2.5 1.1.8 1.1.3 1.1 1 1.1-2 1.1 1.2 1.1-1.4 1.1.3 1.1 0 1.1-1.8 1.1.7 1.1-.3 1.1 2.5 1.1-.6 1.1.1 1.1-.4 1.1-1.1 1.1 1.2 1.1-.4 1.1-1.1 1.1 1.2 1.1 1.7 1.1-1.3 1.1-2.8 1.1-.7 1.1-2.3 1.1 1.1 1.1-1.2 1.1.2 1.1 1.4 1.1-2 1.1 2.7 1.1-1.4 1.1 1.1 1.1-.4 1.1-1.8 1.1 0 1.1-.3 1.1 1.1 1.1-.4 1.1.1 1.1 2.3 2.2.5 1.1-1.6 1.1-.7 1.1 1.6 1.1-.7 1.1.1 1.1 1.6 1.1-.8 1.1-2.1 1.1-.7 1.1 1.3 1.1.3 2.2 2.4 1.1-1 1.1-.5 1.1-1.4 1.1 1.1 1.1 2 1.1-1 1.1-1.2 1.1 1.4 1.1-1.5 1.1.6 1.1.3 1.1 2 1.1-1 1.1 2.1 1.1 1.2 1.1-1.3 1.1-.3 1.1.1 1.1 4 1.1.7 1.1 6.2 1.1 5.2 1.1 3.5 1.1 4 1.1 1.9 1.1 5.8 1.1.6 3.3 8.8 1.1 3.9 1.1-.4 1.1 4.1 1.1 2.7 1.1-1 1.1.3 1.1 2 1.1-1.3 1.1-1 1.1 3.4 1.1 0 1.1-2.3 1.1 2 1.1-.7 1.1-1.6 1.1-1.9 1.1 2.6 1.1 1.1 1.1-2.4 1.1-.5 1.1.2 1.1.1 1.1 1.8 1.1 4 1.1 1.5 1.1 4.6 1.1 2.5 1.1.4 1.1 2.3 1.1.4 1.1 1.4 1.1-.5 1.1.1 1.1 2.6 1.1.3 1.1-1.3 1.1.5 1.1-1.9 1.1 1.2 1.1.7 1.1 3.1 1.1-3.1 1.1-.8 1.1-1.1 1.1-3.5 1.1-2.5 1.1-1.9 1.1-1.6 1.1-3 2.2-7.9 1.1-4.6 1.1-6.8 1.1-7.8 1.1-4.7 1.1.3 1.1-1.5 1.1-1.2 1.1.8 1.1-.2 1.1-.5 1.1-.7 1.1-.1 1.1.5 1.1 2.1 1.1-2.8 1.1.4 1.1-.1 1.1.5 1.1 1.1 1.1-.6 1.1-.2 1.1-.9 1.1.2 1.1 1.2 1.1.6 1.1.7 1.1-2 1.1 2.1 1.1.3 1.1-1.7 1.1 1.5 1.1 2.4 1.1-3.2 1.1-1.8 1.1 1.1 1.1-1.8 1.1 1.2 2.2.1 1.1.3 1.1-.7 1.1-.5 2.2-1.6 1.1 1.5 1.1-1.3 1.1-.6 1.1 2.4 1.1-1.9 1.1-1.2 1.1 2 1.1-.8 1.1 0 1.1 2.5 1.1.1 1.1-.4 1.1.4 1.1-.6 1.1.7 1.1 2.5 1.1.5 1.1.9 1.1-.5 1.1 2 1.1.3 1.1 1.5 1.1-.8 1.1 1.4 1.1-.5 1.1 1.4 1.1-.8 1.1 3.1 1.1-.9 1.1-.3 1.1 1.5 1.1 1.1 1.1.5 1.1-2.5 1.1 3.2 1.1-2.7 1.1-.4 1.1-1.4 1.1 2.8 1.1-3.8 1.1-2.3 2.2-1.3 1.1 1.6 1.1-.6 1.1-2.6 1.1-1.9 1.1 1.5 1.1-.3 1.1.6 1.1-1.6 1.1-.2 1.1-.4 1.1-1 1.1 1.2 1.1-.5 1.1-1.1 1.1-.5 1.1.7 1.1-.7 1.1.7 1.1 1.4 1.1-1.3 1.1-.8 1.1 1 1.1.5 1.1-1.4 1.1.5 2.2 2.3 1.1-.6 1.1 1.7 1.1-.1 1.1-1.7 1.1.4 1.1 1 1.1.7 1.1 0 2.2.9 1.1-.9 1.1.9 1.1-1.4 1.1-1.8 1.1.7 1.1.3 1.1-.1"/>
<path fill="none" stroke="#2f4f45" stroke-width="0.7" stroke-opacity="0.85" d="M43.6 525.5l1.1-2 1.1 0 1.1 1.2 2.2.5 1.1-1 1.1 2.6 1.1-3.6 1.1-.4 2.2-5 1.1-1.4 1.1-1 1.1-6 1.1-4.6 1.1-1.1 1.1-.4 1.1-6.1 1.1-2.1 1.1-2.7 1.1-5.8 1.1-8.3 1.1-.5 1.1-5 1.1-2.9 1.1-4.7 1.1-1.2 1.1-2.2 1.1-5 1.1-4.2 1.1-2.2 1.1 1.8 1.1-5.7 1.1-4.3 1.1-3.6 1.1-8.6 2.2-7.2 1.1-.1 1.1-1.6 1.1 2.1 1.1-1.9 2.2-.1 1.1 3.7 1.1.1 1.1 3.2 1.1 1.8 1.1 6.4 1.1-.3 1.1 1.9 1.1 4.1 2.2 2 1.1 2.7 1.1.4 1.1.2 1.1 2 1.1-3.4 1.1 2.6 1.1-2.2 1.1 1.6 1.1-4.6 1.1 3.4 1.1 2.1 1.1 1 2.2-2.3 1.1 3.5 1.1 1.3 1.1-4.7 1.1 3.2 1.1 1.1 1.1.3 1.1-2.2 1.1 3 1.1 0 1.1-.4 1.1 1.7 1.1.1 1.1-2 1.1 2.9 1.1-3.8 1.1 4.6 1.1-4.6 1.1 3.7 1.1-3.4 1.1 3 1.1 1.2 1.1-1.5 1.1 2.7 1.1-1.8 1.1 1.4 1.1 1.9 1.1.8 1.1 1.2 1.1 1 1.1 3.7 1.1-2.4 1.1-.8 1.1.2 1.1.3 1.1.8 1.1-1 1.1 3.8 1.1-1.6 1.1-1.2 1.1 1 1.1 3 1.1-.4 1.1-1.4 1.1-.5 1.1.1 1.1 1.9 1.1-1.3 1.1-2.3 1.1 2.3 1.1-5.1 1.1 2.2 1.1 3 1.1-1.4 1.1-4.7 1.1 2 1.1-.4 1.1 2.5 1.1-1 1.1 1.2 1.1-1.4 1.1-1.2 1.1-3.8 1.1-.6 1.1-1.2 1.1-2.2 1.1 3.6 1.1-1.9 1.1-3.7 1.1 3.8 1.1-2.7 1.1 2.3 1.1-1.9 1.1-.6 1.1.1 1.1-.4 1.1 1.5 1.1-1.2 1.1 3.5 1.1-1.5 2.2 2.5 1.1-2 1.1 0 1.1 5.4 1.1-4.7 1.1 1.8 1.1 2.6 1.1.6 2.2-.9 1.1 4.7 2.2.5 1.1 1.2 1.1 2.8 1.1 2 1.1-.3 1.1 1.4 1.1 2.8 1.1-2.6 1.1 7.6 1.1-3.6 1.1 1.4 1.1 1 1.1-1.3 1.1 1.8 1.1.9 1.1-3.3 1.1.5 1.1-.7 1.1.3 1.1-2.1 1.1-.4 1.1 0 1.1 1 1.1 1.9 1.1-2.3 1.1 3.5 1.1-.5 1.1.4 1.1-1.7 1.1 1.7 1.1 3.1 1.1-2.4 1.1 3.1 1.1-3.7 1.1-.7 1.1 2.5 1.1-1.9 1.1 2.2 1.1.9 2.2-1.6 1.1-1.5 1.1 2.1 1.1-.3 1.1-1.4 1.1-.2 1.1-1 1.1.8 1.1-.5 1.1-.7 1.1.6 1.1 0 3.3-2.3 1.1 1.3 1.1-1.5 1.1 1.3 1.1-.9 1.1 1.5 1.1-2.5 1.1.2 1.1 1.3 1.1.6 1.1.2 1.1 1 1.1 1.7 1.1-.3 1.1-1.6 1.1 1 1.1 3.5 1.1-3.3 1.1.5 1.1-.5 1.1-.3 1.1.1 1.1 1.2 1.1-1.8 1.1-1.1 2.2.9 1.1-3.5 1.1 4.5 1.1-4.5 1.1 2 1.1 1.5 1.1-1.1 1.1.2 1.1-1.1 1.1-1.7 1.1 3.4 1.1 2 1.1-4.5 1.1-.9 3.3-1.2 1.1 1.3 1.1-2.7 1.1 2.8 1.1-3.8 1.1-1.3 1.1 1.1 1.1.4 1.1-1 1.1.4 1.1-1.2 1.1-.5 1.1.2 1.1-1.1 2.2 1.1 1.1-1.9 1.1 5.4 1.1-5 1.1 2.9 1.1 1.4 1.1-.1 1.1 1.8 2.2-1.7 1.1 1.5 2.2 2.3 1.1-2.1 1.1 1.7 1.1-.9 1.1-1.7 1.1-1 1.1 2.1 1.1-.3 1.1-1.6 1.1 3.9 1.1 1.2 1.1-.2 1.1-2.6 1.1.9 1.1-.7 1.1 2 1.1.2 1.1.4 1.1-.1 1.1 2.7"/>
<path fill="none" stroke="#2f4f45" stroke-width="0.7" stroke-opacity="0.85" d="M43.6 526.7l1.1-.7 1.1-.4 1.1 1.4 1.1.5 1.1-.2 1.1 1.9 1.1 1.4 1.1.1 1.1.5 1.1.8 1.1-.7 1.1.3 1.1.8 1.1 1 1.1 2 1.1-2.7 1.1 2.8 1.1-1.2 2.2 3.6 1.1.5 1.1 3 1.1 2.5 1.1.1 1.1 2 1.1-1.4 1.1 0 1.1-.3 1.1-19.7 1.1-8.6 1.1-.2 1.1-.7 1.1.6 1.1-2.5 1.1.9 1.1.7 1.1-.4 1.1.1 1.1-.6 1.1 1.1 1.1-.2 1.1.7 1.1 1.4 1.1-1.6 1.1 1 1.1.6 1.1-.1 1.1-1.2 1.1 2.5 1.1.5 1.1-1.3 1.1-.1 1.1.4 1.1-.8 1.1 1.9 1.1.4 1.1-.2 1.1.5 1.1-.9 1.1 1.8 1.1.1 1.1-3.5 2.2 1.8 1.1-1.2 1.1-.7 1.1.7 1.1 1.1 1.1-1.5 1.1-.2 1.1 1.3 1.1-1.2 1.1.6 1.1-.5 1.1.4 1.1-.5 1.1 2.5 1.1-.6 1.1.8 1.1-1.9 1.1-.4 1.1.4 1.1-.7 2.2-.1 1.1.6 4.4.2 1.1-.4 1.1-.7 1.1.9 1.1-1.7 1.1-1.2 1.1 2.3 1.1-.4 1.1-1.6 1.1 1 1.1-1.5 1.1-1 1.1-.9 1.1 1.2 1.1-1.7 1.1.1 1.1-1.7 1.1.5 1.1-1.5 1.1 1.1 2.2-.7 1.1-.9 1.1 1.5 1.1-.4 1.1-1.2 1.1-.6 1.1 2 2.2-1.4 1.1 2.2 1.1 1.3 1.1.9 1.1-.1 1.1-.9 1.1-.4 1.1 1.1 1.1 2.2 1.1-1.7 1.1-.8 1.1.6 1.1 1.8 1.1-.1 1.1-.7 1.1-.7 1.1.7 1.1 1.1 1.1-.1 1.1 2.1 1.1-.4 1.1-1 1.1.2 1.1 2.5 1.1-1.3 1.1.5 1.1-1.3 1.1.7 1.1-.3 1.1 1.4 1.1-.6 1.1-1.1 1.1 1.1 1.1.6 1.1-3.4 1.1 2.3 1.1.2 1.1 1.7 1.1-1.9 1.1-3 1.1 3.8 1.1.3 1.1-.9 1.1 1.2 1.1-1.1 1.1-1.3 1.1-1.7 1.1-2.7 1.1-.7 1.1-3.1 1.1-4.9 1.1-1.6 1.1-.6 1.1-2.5 1.1-.8 1.1.1 1.1 1 1.1-.7 1.1.4 2.2 1.3 1.1-1.1 1.1 1.1 1.1.5 1.1-2.7 1.1-.4 1.1 1.4 1.1.3 1.1 2.1 1.1-.6 1.1.5 1.1.3 1.1-.2 1.1-1 1.1.9 1.1.2 1.1-.7 1.1 1.8 1.1-1 1.1-.1 1.1 1.6 1.1.3 1.1 1.7 1.1-2.2 1.1-.8 1.1.8 1.1-1 1.1.7 1.1-1.3 1.1.1 1.1-1.1 1.1-2.7 1.1.2 1.1 2.4 1.1-.1 1.1-1.3 1.1.9 1.1-.5 1.1.5 1.1-.3 1.1-2.3 1.1 1.7 1.1.8 1.1 1 2.2 1.3 1.1-.2 1.1-1.5 1.1 2.9 1.1.1 1.1-.4 1.1 1.5 1.1-2 1.1-.1 1.1-1 1.1 3.1 1.1-1.3 1.1 1.6 1.1-1.4 1.1.7 1.1 1 1.1-1.5 1.1 1 1.1-.6 1.1 3.5 1.1-.1 1.1-2.5 1.1 1 1.1-.8 1.1.5 1.1-1.5 1.1 1.1 1.1-1.1 1.1.9 1.1.5 1.1-1.9 1.1.1 1.1-.6 1.1-.4 1.1 0 1.1-2.7 1.1-.1 1.1 3.1 2.2.3 1.1.9 1.1-1.4 1.1.9 1.1-.4 1.1-.1 1.1.2 1.1 2.9 1.1.2 1.1-1 1.1-.6 1.1 1.7 1.1-1.3 1.1-.6 1.1 0 1.1.3 1.1-.6 1.1.5 1.1-2 1.1 1.2 1.1-1.7 1.1-.9 1.1-.3 1.1-.2 1.1-.4 1.1-.9 1.1.4 1.1-.7 1.1 1.2 1.1-1.2 1.1-.5 1.1 2.3 1.1-2.8 1.1 1.2 1.1.1 1.1 1.6 1.1.3 1.1-1.4 1.1-1 1.1 1.7 1.1-2.2"/>
<path fill="none" stroke="#e0281e" stroke-width="2.3" d="M43.6 526.7l1.7-.4 1.7-1.3 1.6-2.1 1.7-2.7 1.7-3.4 1.7-3.8 1.6-4.3 1.7-4.6 10.1-30.2 3.3-9.1 1.7-4 1.7-3.5 1.6-2.9 1.7-2.2 1.7-1.6 1.7-.7 296.5 0"/>
<path fill="none" stroke="#e0281e" stroke-width="2.3" d="M43.6 526.7l1.7-.2 1.7-.7 1.6-1 1.7-1.4 1.7-1.6 1.7-2 3.3-4.4 10.1-15.1 3.3-4.6 1.7-1.9 1.7-1.8 1.6-1.4 1.7-1.2 1.7-.7 1.7-.4 296.5 0"/>
<path fill="none" stroke="#1326e0" stroke-width="2.5" stroke-linejoin="round" d="M43.6 518.7l2.2 4.1 1.1 1.5 1.1 1 1.1.2 1.1-1.3 1.1-2.9 1.1-3.8 6.6-25.2 5.5-23.3 3.3-16.9 2.2-10.2 4.4-17.9 1.1-4.2 1.1-3.7 2.2-6.2 2.2-6.8 1.1-2.3 1.1-.9 2.2-.2 1.1-.3 1.1-.4 2.2-1 1.1-.3 2.2 0 1.1.3 1.1.8 2.2 2 1.1.7 1.1.3 2.2-.2 1.1.3 1.1.6 1.1.4 2.2.4 2.2.9 1.1.2 1.1.5 1.1 1.6 2.2 5.2 1.1 2.1 1.1 1.4 1.1.7 1.1-.5 1.1-1.9 2.2-5.1 1.1-1.5 1.1-.4 1.1.5 1.1 1.3 1.1 1.5 1.1 1 1.1.2 1.1-.5 3.3-2 4.4-1.8 1.1-.2 1.1.2 1.1.5 2.2 1.3 1.1.4 3.3.8 1.1.6 3.3 2.6 1.1.2 2.2-.7 1.1.2 1.1.6 3.3 2.4 1.1.6 1.1.3 1.1-.1 1.1-.4 2.2-1.4 1.1-.4 1.1.1 1.1.5 3.3 2.3 1.1 1.1 3.3 4.2 1.1.8 1.1 0 3.3-2.1 1.1-.8 1.1-1.3 2.2-3.9 1.1-1.6 1.1-.9 2.2-.8 3.3-1.9 3.3-1.1 2.2-1.2 3.3-.9 1.1.1 1.1.6 1.1.9 2.2 2.3 1.1.7 2.2.4 1.1 1 1.1 1.3 1.1.9 1.1-.3 2.2-1.8 1.1-.2 1.1.7 1.1 1.8 1.1 3.1 2.2 7.7 1.1 3.3 3.3 8.2 1.1 2.3 1.1 1.6 1.1.8 2.2.5 1.1.9 1.1 1.2 1.1 1 1.1.2 1.1-.3 1.1-.8 1.1-1.7 2.2-4.4 1.1-1.3 1.1-.6 1.1-.3 1.1.2 1.1.9 3.3 4.7 1.1 1.2 2.2 1.9 1.1 1.4 2.2 3.2 1.1 1 1.1 0 2.2-.8 2.2-.1 1.1-.6 2.2-1.7 2.2-1.3 2.2-2.2 2.2-2.6 1.1-1.1 1.1-.8 1.1-.4 1.1.1 1.1.9 2.2 2.9 1.1.8 1.1.3 1.1-.1 1.1-.3 1.1-.6 1.1-1 2.2-2.5 1.1-.5 1.1.5 1.1 1.4 3.3 4.5 1.1 1.4 1.1.8 2.2.1 1.1.5 1.1 1.2 1.1 1.6 1.1 1.9 1.1 2.4 2.2 5.9 1.1 2 1.1.5 1.1-.6 1.1-1 4.4-5.1 3.3-4.1 2.2-2.1 1.1-.8 1.1-.5 1.1-.2 1.1.2 1.1.5 2.2 1.8 1.1.3 1.1-.3 1.1-.6 1.1-.3 1.1.4 2.2 1.6 1.1.5 1.1.1 2.2-.5 1.1 0 2.2.4 1.1-.1 1.1-.6 2.2-1.8 1.1-1.2 2.2-2.8 2.2-2.4 1.1-1.4 1.1-1.3 1.1-.5 1.1.3 1.1 1.1 1.1 1.8 2.2 4.2 1.1 1.8 1.1 1.5 1.1.9 1.1.5 1.1.1"/>
<path fill="none" stroke="#1326e0" stroke-width="2.5" stroke-linejoin="round" d="M43.6 522.9l2.2 2.9 1.1.5 2.2 0 1.1-.1 1.1-.5 1.1-.9 1.1-1.3 3.3-4.7 1.1-1.2 3.3-3.4 1.1-1.5 3.3-5.5 2.2-2.8 1.1-1.7 1.1-2.3 2.2-5.2 1.1-2.2 1.1-1.9 2.2-3.1 1.1-1.9 5.5-11.8 1.1-1.7 1.1-.9 1.1-.5 2.2-.5 1.1-.2 1.1.1 2.2.4 2.2 0 1.1.3 1.1.6 2.2 1.6 3.3 3.2 1.1.6 1.1.2 1.1.6 1.1 1.1 2.2 3 1.1 1.1 1.1.7 1.1.3 2.2 0 1.1.1 1.1.4 1.1.5 3.3 2.4 2.2 1.1 1.1.3 1.1-.2 2.2-1.3 1.1-.4 1.1-.2 1.1.3 2.2.6 2.2.3 2.2.9 1.1.1 1.1-.2 1.1 0 2.2.5 5.5 1 1.1 0 2.2-.3 2.2.3 1.1 0 3.3-1 2.2-.2 1.1-.3 2.2-1.3 1.1-.2 2.2.4 1.1-.1 1.1-.3 1.1 0 2.2.7 1.1-.3 2.2-1.5 1.1-.4 1.1 0 1.1.2 1.1.5 1.1.7 1.1.4 1.1 0 2.2-.4 2.2-.9 1.1-.3 2.2.2 2.2-.4 1.1 0 2.2.5 2.2.1 2.2.4 2.2.1 1.1.2 1.1.3 2.2 1 1.1.2 1.1.1 1.1.4 1.1.7 1.1.4 1.1-.1 1.1-.3 1.1-.1 1.1 0 3.3.9 3.3 1.4 1.1-.1 1.1-.5 2.2-1.4 1.1-.4 2.2-.2 1.1-.7 2.2-1.9 1.1-.5 1.1.1 1.1.7 1.1.8 1.1.5 2.2 0 1.1.2 2.2.7 2.2.2 2.2.7 1.1.1 2.2-.2 1.1.3 2.2 1.1 3.3 1.4 1.1.3 1.1 0 2.2-.5 2.2.1 1.1-.1 1.1-.6 2.2-2.5 1.1-1.1 1.1-.5 1.1 0 4.4 2 1.1.6 3.3 2.4 1.1.4 1.1 0 1.1-.1 2.2-.7 1.1-.2 2.2-.2 1.1-.3 2.2-.9 1.1-.2 1.1.3 2.2.9 1.1.1 1.1 0 2.2-.3 2.2-.6 3.3-.5 3.3-.8 1.1-.2 1.1.1 2.2.8 1.1.2 3.3-.9 1.1.1 1.1.3 1.1.2 1.1-.2 2.2-.7 1.1 0 2.2 0 1.1-.1 2.2-.4 2.2-.3 1.1-.2 4.4-1.7 3.3-1.4 1.1-.3 1.1.1 3.3 1.8 1.1.3 1.1.1 2.2-.3 1.1-.1 5.5 1.1 2.2.7 3.3.2 1.1.5 1.1.7 2.2 1.8 1.1.7 1.1.5 1.1.3"/>
</g>
<line x1="216.8" y1="296.3" x2="216.8" y2="546" stroke="#000" stroke-width="2"/>
<text x="152" y="537.4" font-size="13" text-anchor="middle" fill="#1a1a1a" stroke="#1a1a1a" stroke-width="0.22" font-weight="normal" dominant-baseline="central">OL</text>
<text x="286" y="536.8" font-size="13" text-anchor="middle" fill="#1a1a1a" stroke="#1a1a1a" stroke-width="0.22" font-weight="normal" dominant-baseline="central">iCL</text>
<line x1="43.6" y1="296.3" x2="43.6" y2="546" stroke="#6b6b6b" stroke-width="0.9"/>
<line x1="43.6" y1="546" x2="377.1" y2="546" stroke="#6b6b6b" stroke-width="0.9"/>
<line x1="43.6" y1="526.7" x2="46.2" y2="526.7" stroke="#6b6b6b" stroke-width="0.8"/>
<text x="36.1" y="527" font-size="12.6" text-anchor="end" fill="#1a1a1a" stroke="#1a1a1a" stroke-width="0.22" font-weight="normal" dominant-baseline="central">0</text>
<line x1="43.6" y1="488.3" x2="46.2" y2="488.3" stroke="#6b6b6b" stroke-width="0.8"/>
<text x="36.1" y="488.6" font-size="12.6" text-anchor="end" fill="#1a1a1a" stroke="#1a1a1a" stroke-width="0.22" font-weight="normal" dominant-baseline="central">10</text>
<line x1="43.6" y1="449.9" x2="46.2" y2="449.9" stroke="#6b6b6b" stroke-width="0.8"/>
<text x="36.1" y="450.2" font-size="12.6" text-anchor="end" fill="#1a1a1a" stroke="#1a1a1a" stroke-width="0.22" font-weight="normal" dominant-baseline="central">20</text>
<line x1="43.6" y1="411.5" x2="46.2" y2="411.5" stroke="#6b6b6b" stroke-width="0.8"/>
<text x="36.1" y="411.8" font-size="12.6" text-anchor="end" fill="#1a1a1a" stroke="#1a1a1a" stroke-width="0.22" font-weight="normal" dominant-baseline="central">30</text>
<line x1="43.6" y1="373.1" x2="46.2" y2="373.1" stroke="#6b6b6b" stroke-width="0.8"/>
<text x="36.1" y="373.4" font-size="12.6" text-anchor="end" fill="#1a1a1a" stroke="#1a1a1a" stroke-width="0.22" font-weight="normal" dominant-baseline="central">40</text>
<line x1="43.6" y1="334.7" x2="46.2" y2="334.7" stroke="#6b6b6b" stroke-width="0.8"/>
<text x="36.1" y="335" font-size="12.6" text-anchor="end" fill="#1a1a1a" stroke="#1a1a1a" stroke-width="0.22" font-weight="normal" dominant-baseline="central">50</text>
<line x1="43.6" y1="296.3" x2="46.2" y2="296.3" stroke="#6b6b6b" stroke-width="0.8"/>
<text x="36.1" y="296.6" font-size="12.6" text-anchor="end" fill="#1a1a1a" stroke="#1a1a1a" stroke-width="0.22" font-weight="normal" dominant-baseline="central">60</text>
<text x="8.5" y="422" font-size="13.4" text-anchor="middle" fill="#1a1a1a" stroke="#1a1a1a" stroke-width="0.22" font-weight="normal" dominant-baseline="central" transform="rotate(-90 8.5 422)">Fluorescence (a.u.)</text>
<text x="1" y="296" font-size="17.5" font-weight="bold" fill="#000">b</text>
<line x1="391.2" y1="526.7" x2="454" y2="526.7" stroke="#999" stroke-width="0.7" stroke-dasharray="1 1.5"/>
<clipPath id="hclipOL"><rect x="391.2" y="295.3" width="62.8" height="231.4"/></clipPath>
<g clip-path="url(#hclipOL)">
<clipPath id="hcOL"><path d="M391.2 524.8h51.5v1.9h-51.5zM391.2 522.9h37.7v1.9h-37.7zM391.2 520.9h39.5v1.9h-39.5zM391.2 519h9.9v1.9h-9.9zM391.2 517.1h51.1v1.9h-51.1zM391.2 515.2h48.6v1.9h-48.6zM391.2 513.3h46.3v1.9h-46.3zM391.2 511.3h60.6v1.9h-60.6zM391.2 509.4h62.7v1.9h-62.7zM391.2 507.5h38v1.9h-38zM391.2 505.6h40.7v1.9h-40.7zM391.2 503.7h46.7v1.9h-46.7zM391.2 501.7h64.6v1.9h-64.6zM391.2 499.8h61.3v1.9h-61.3zM391.2 497.9h31.2v1.9h-31.2zM391.2 496h33v1.9h-33zM391.2 494.1h58.9v1.9h-58.9zM391.2 492.1h68.8v1.9h-68.8zM391.2 490.2h44.2v1.9h-44.2zM391.2 488.3h33.3v1.9h-33.3zM391.2 486.4h52v1.9h-52zM391.2 484.5h33v1.9h-33zM391.2 482.5h41.1v1.9h-41.1zM391.2 480.6h45.8v1.9h-45.8zM391.2 478.7h34.2v1.9h-34.2zM391.2 476.8h26.8v1.9h-26.8zM391.2 474.9h29v1.9h-29zM391.2 472.9h17.2v1.9h-17.2zM391.2 471h17.7v1.9h-17.7zM391.2 469.1h13.5v1.9h-13.5zM391.2 467.2h13.3v1.9h-13.3zM391.2 465.3h10.6v1.9h-10.6zM391.2 463.3h10v1.9h-10zM391.2 461.4h7.9v1.9h-7.9zM391.2 459.5h7.7v1.9h-7.7zM391.2 457.6h6.6v1.9h-6.6zM391.2 455.7h6v1.9h-6zM391.2 453.7h6.4v1.9h-6.4zM391.2 451.8h2v1.9h-2zM391.2 449.9h4.5v1.9h-4.5zM391.2 448h2.6v1.9h-2.6zM391.2 446.1h1.4v1.9h-1.4zM391.2 444.1h1.7v1.9h-1.7zM391.2 442.2h1.3v1.9h-1.3zM391.2 440.3h1.2v1.9h-1.2zM391.2 438.4h0.5v1.9h-0.5zM391.2 436.5h0.6v1.9h-0.6zM391.2 434.5h0.4v1.9h-0.4z"/></clipPath>
<path d="M391.2 524.8h51.5v1.9h-51.5zM391.2 522.9h37.7v1.9h-37.7zM391.2 520.9h39.5v1.9h-39.5zM391.2 519h9.9v1.9h-9.9zM391.2 517.1h51.1v1.9h-51.1zM391.2 515.2h48.6v1.9h-48.6zM391.2 513.3h46.3v1.9h-46.3zM391.2 511.3h60.6v1.9h-60.6zM391.2 509.4h62.7v1.9h-62.7zM391.2 507.5h38v1.9h-38zM391.2 505.6h40.7v1.9h-40.7zM391.2 503.7h46.7v1.9h-46.7zM391.2 501.7h64.6v1.9h-64.6zM391.2 499.8h61.3v1.9h-61.3zM391.2 497.9h31.2v1.9h-31.2zM391.2 496h33v1.9h-33zM391.2 494.1h58.9v1.9h-58.9zM391.2 492.1h68.8v1.9h-68.8zM391.2 490.2h44.2v1.9h-44.2zM391.2 488.3h33.3v1.9h-33.3zM391.2 486.4h52v1.9h-52zM391.2 484.5h33v1.9h-33zM391.2 482.5h41.1v1.9h-41.1zM391.2 480.6h45.8v1.9h-45.8zM391.2 478.7h34.2v1.9h-34.2zM391.2 476.8h26.8v1.9h-26.8zM391.2 474.9h29v1.9h-29zM391.2 472.9h17.2v1.9h-17.2zM391.2 471h17.7v1.9h-17.7zM391.2 469.1h13.5v1.9h-13.5zM391.2 467.2h13.3v1.9h-13.3zM391.2 465.3h10.6v1.9h-10.6zM391.2 463.3h10v1.9h-10zM391.2 461.4h7.9v1.9h-7.9zM391.2 459.5h7.7v1.9h-7.7zM391.2 457.6h6.6v1.9h-6.6zM391.2 455.7h6v1.9h-6zM391.2 453.7h6.4v1.9h-6.4zM391.2 451.8h2v1.9h-2zM391.2 449.9h4.5v1.9h-4.5zM391.2 448h2.6v1.9h-2.6zM391.2 446.1h1.4v1.9h-1.4zM391.2 444.1h1.7v1.9h-1.7zM391.2 442.2h1.3v1.9h-1.3zM391.2 440.3h1.2v1.9h-1.2zM391.2 438.4h0.5v1.9h-0.5zM391.2 436.5h0.6v1.9h-0.6zM391.2 434.5h0.4v1.9h-0.4z" fill="#72c2ba"/>
<path d="M391.2 524.8h3.4v1.9h-3.4zM391.2 522.9h7.5v1.9h-7.5zM391.2 520.9h8.1v1.9h-8.1zM391.2 519h12.9v1.9h-12.9zM391.2 517.1h6v1.9h-6zM391.2 515.2h9.7v1.9h-9.7zM391.2 513.3h8.8v1.9h-8.8zM391.2 511.3h9.9v1.9h-9.9zM391.2 509.4h15.7v1.9h-15.7zM391.2 507.5h11.9v1.9h-11.9zM391.2 505.6h9.4v1.9h-9.4zM391.2 503.7h11.6v1.9h-11.6zM391.2 501.7h13.9v1.9h-13.9zM391.2 499.8h8.1v1.9h-8.1zM391.2 497.9h10.8v1.9h-10.8zM391.2 496h17.4v1.9h-17.4zM391.2 494.1h15.1v1.9h-15.1zM391.2 492.1h11.8v1.9h-11.8zM391.2 490.2h10.3v1.9h-10.3zM391.2 488.3h11.4v1.9h-11.4zM391.2 486.4h6.4v1.9h-6.4zM391.2 484.5h15.4v1.9h-15.4zM391.2 482.5h13.2v1.9h-13.2zM391.2 480.6h12.5v1.9h-12.5zM391.2 478.7h7.3v1.9h-7.3zM391.2 476.8h9.4v1.9h-9.4zM391.2 474.9h13.9v1.9h-13.9zM391.2 472.9h12.9v1.9h-12.9zM391.2 471h10.1v1.9h-10.1zM391.2 469.1h13.4v1.9h-13.4zM391.2 467.2h14.6v1.9h-14.6zM391.2 465.3h8.9v1.9h-8.9zM391.2 463.3h9.1v1.9h-9.1zM391.2 461.4h7.9v1.9h-7.9zM391.2 459.5h6.8v1.9h-6.8zM391.2 457.6h12.5v1.9h-12.5zM391.2 455.7h11.2v1.9h-11.2zM391.2 453.7h10.2v1.9h-10.2zM391.2 451.8h5.7v1.9h-5.7zM391.2 449.9h5.7v1.9h-5.7zM391.2 448h7.8v1.9h-7.8zM391.2 446.1h7v1.9h-7zM391.2 444.1h8.3v1.9h-8.3zM391.2 442.2h6.3v1.9h-6.3zM391.2 440.3h10.2v1.9h-10.2zM391.2 438.4h14.6v1.9h-14.6zM391.2 436.5h15.4v1.9h-15.4zM391.2 434.5h17.1v1.9h-17.1zM391.2 432.6h12.8v1.9h-12.8zM391.2 430.7h17.2v1.9h-17.2zM391.2 428.8h13.2v1.9h-13.2zM391.2 426.9h21.1v1.9h-21.1zM391.2 424.9h16.1v1.9h-16.1zM391.2 423h16.9v1.9h-16.9zM391.2 421.1h17.3v1.9h-17.3zM391.2 419.2h28v1.9h-28zM391.2 417.3h26.4v1.9h-26.4zM391.2 415.3h26.5v1.9h-26.5zM391.2 413.4h17v1.9h-17zM391.2 411.5h27.8v1.9h-27.8zM391.2 409.6h15.2v1.9h-15.2zM391.2 407.7h37.9v1.9h-37.9zM391.2 405.7h24.7v1.9h-24.7zM391.2 403.8h26.7v1.9h-26.7zM391.2 401.9h23.5v1.9h-23.5zM391.2 400h11.9v1.9h-11.9zM391.2 398.1h12.5v1.9h-12.5zM391.2 396.1h19.6v1.9h-19.6zM391.2 394.2h26.4v1.9h-26.4zM391.2 392.3h11.1v1.9h-11.1zM391.2 390.4h12.4v1.9h-12.4zM391.2 388.5h14.8v1.9h-14.8zM391.2 386.5h7.1v1.9h-7.1zM391.2 384.6h6.7v1.9h-6.7zM391.2 382.7h11.4v1.9h-11.4zM391.2 380.8h12.2v1.9h-12.2zM391.2 378.9h10.5v1.9h-10.5zM391.2 376.9h17v1.9h-17zM391.2 375h10.8v1.9h-10.8zM391.2 373.1h12.3v1.9h-12.3zM391.2 371.2h16.1v1.9h-16.1zM391.2 369.3h16.1v1.9h-16.1zM391.2 367.3h5.4v1.9h-5.4zM391.2 365.4h9v1.9h-9zM391.2 363.5h13.3v1.9h-13.3zM391.2 361.6h5.6v1.9h-5.6zM391.2 359.7h6.8v1.9h-6.8zM391.2 357.7h5.6v1.9h-5.6zM391.2 355.8h5.2v1.9h-5.2zM391.2 353.9h5.7v1.9h-5.7zM391.2 352h8.8v1.9h-8.8zM391.2 350.1h11.2v1.9h-11.2zM391.2 348.1h11.5v1.9h-11.5zM391.2 346.2h7.7v1.9h-7.7zM391.2 344.3h3v1.9h-3zM391.2 342.4h7v1.9h-7zM391.2 340.5h6.2v1.9h-6.2zM391.2 338.5h7.3v1.9h-7.3zM391.2 336.6h6.1v1.9h-6.1zM391.2 334.7h2.8v1.9h-2.8zM391.2 332.8h6.7v1.9h-6.7zM391.2 330.9h2.2v1.9h-2.2zM391.2 328.9h4.6v1.9h-4.6zM391.2 327h6.2v1.9h-6.2zM391.2 325.1h6.1v1.9h-6.1zM391.2 323.2h8v1.9h-8zM391.2 321.3h1.6v1.9h-1.6zM391.2 319.3h5.8v1.9h-5.8zM391.2 317.4h6.2v1.9h-6.2zM391.2 315.5h4.6v1.9h-4.6zM391.2 313.6h5.9v1.9h-5.9zM391.2 311.7h3.2v1.9h-3.2zM391.2 309.7h5.7v1.9h-5.7zM391.2 307.8h5.4v1.9h-5.4zM391.2 305.9h3.2v1.9h-3.2zM391.2 304h3.6v1.9h-3.6zM391.2 302.1h4.1v1.9h-4.1zM391.2 300.1h3.4v1.9h-3.4zM391.2 298.2h5.5v1.9h-5.5zM391.2 296.3h4.3v1.9h-4.3z" fill="#c07ec6"/>
<path d="M391.2 524.8h3.4v1.9h-3.4zM391.2 522.9h7.5v1.9h-7.5zM391.2 520.9h8.1v1.9h-8.1zM391.2 519h12.9v1.9h-12.9zM391.2 517.1h6v1.9h-6zM391.2 515.2h9.7v1.9h-9.7zM391.2 513.3h8.8v1.9h-8.8zM391.2 511.3h9.9v1.9h-9.9zM391.2 509.4h15.7v1.9h-15.7zM391.2 507.5h11.9v1.9h-11.9zM391.2 505.6h9.4v1.9h-9.4zM391.2 503.7h11.6v1.9h-11.6zM391.2 501.7h13.9v1.9h-13.9zM391.2 499.8h8.1v1.9h-8.1zM391.2 497.9h10.8v1.9h-10.8zM391.2 496h17.4v1.9h-17.4zM391.2 494.1h15.1v1.9h-15.1zM391.2 492.1h11.8v1.9h-11.8zM391.2 490.2h10.3v1.9h-10.3zM391.2 488.3h11.4v1.9h-11.4zM391.2 486.4h6.4v1.9h-6.4zM391.2 484.5h15.4v1.9h-15.4zM391.2 482.5h13.2v1.9h-13.2zM391.2 480.6h12.5v1.9h-12.5zM391.2 478.7h7.3v1.9h-7.3zM391.2 476.8h9.4v1.9h-9.4zM391.2 474.9h13.9v1.9h-13.9zM391.2 472.9h12.9v1.9h-12.9zM391.2 471h10.1v1.9h-10.1zM391.2 469.1h13.4v1.9h-13.4zM391.2 467.2h14.6v1.9h-14.6zM391.2 465.3h8.9v1.9h-8.9zM391.2 463.3h9.1v1.9h-9.1zM391.2 461.4h7.9v1.9h-7.9zM391.2 459.5h6.8v1.9h-6.8zM391.2 457.6h12.5v1.9h-12.5zM391.2 455.7h11.2v1.9h-11.2zM391.2 453.7h10.2v1.9h-10.2zM391.2 451.8h5.7v1.9h-5.7zM391.2 449.9h5.7v1.9h-5.7zM391.2 448h7.8v1.9h-7.8zM391.2 446.1h7v1.9h-7zM391.2 444.1h8.3v1.9h-8.3zM391.2 442.2h6.3v1.9h-6.3zM391.2 440.3h10.2v1.9h-10.2zM391.2 438.4h14.6v1.9h-14.6zM391.2 436.5h15.4v1.9h-15.4zM391.2 434.5h17.1v1.9h-17.1zM391.2 432.6h12.8v1.9h-12.8zM391.2 430.7h17.2v1.9h-17.2zM391.2 428.8h13.2v1.9h-13.2zM391.2 426.9h21.1v1.9h-21.1zM391.2 424.9h16.1v1.9h-16.1zM391.2 423h16.9v1.9h-16.9zM391.2 421.1h17.3v1.9h-17.3zM391.2 419.2h28v1.9h-28zM391.2 417.3h26.4v1.9h-26.4zM391.2 415.3h26.5v1.9h-26.5zM391.2 413.4h17v1.9h-17zM391.2 411.5h27.8v1.9h-27.8zM391.2 409.6h15.2v1.9h-15.2zM391.2 407.7h37.9v1.9h-37.9zM391.2 405.7h24.7v1.9h-24.7zM391.2 403.8h26.7v1.9h-26.7zM391.2 401.9h23.5v1.9h-23.5zM391.2 400h11.9v1.9h-11.9zM391.2 398.1h12.5v1.9h-12.5zM391.2 396.1h19.6v1.9h-19.6zM391.2 394.2h26.4v1.9h-26.4zM391.2 392.3h11.1v1.9h-11.1zM391.2 390.4h12.4v1.9h-12.4zM391.2 388.5h14.8v1.9h-14.8zM391.2 386.5h7.1v1.9h-7.1zM391.2 384.6h6.7v1.9h-6.7zM391.2 382.7h11.4v1.9h-11.4zM391.2 380.8h12.2v1.9h-12.2zM391.2 378.9h10.5v1.9h-10.5zM391.2 376.9h17v1.9h-17zM391.2 375h10.8v1.9h-10.8zM391.2 373.1h12.3v1.9h-12.3zM391.2 371.2h16.1v1.9h-16.1zM391.2 369.3h16.1v1.9h-16.1zM391.2 367.3h5.4v1.9h-5.4zM391.2 365.4h9v1.9h-9zM391.2 363.5h13.3v1.9h-13.3zM391.2 361.6h5.6v1.9h-5.6zM391.2 359.7h6.8v1.9h-6.8zM391.2 357.7h5.6v1.9h-5.6zM391.2 355.8h5.2v1.9h-5.2zM391.2 353.9h5.7v1.9h-5.7zM391.2 352h8.8v1.9h-8.8zM391.2 350.1h11.2v1.9h-11.2zM391.2 348.1h11.5v1.9h-11.5zM391.2 346.2h7.7v1.9h-7.7zM391.2 344.3h3v1.9h-3zM391.2 342.4h7v1.9h-7zM391.2 340.5h6.2v1.9h-6.2zM391.2 338.5h7.3v1.9h-7.3zM391.2 336.6h6.1v1.9h-6.1zM391.2 334.7h2.8v1.9h-2.8zM391.2 332.8h6.7v1.9h-6.7zM391.2 330.9h2.2v1.9h-2.2zM391.2 328.9h4.6v1.9h-4.6zM391.2 327h6.2v1.9h-6.2zM391.2 325.1h6.1v1.9h-6.1zM391.2 323.2h8v1.9h-8zM391.2 321.3h1.6v1.9h-1.6zM391.2 319.3h5.8v1.9h-5.8zM391.2 317.4h6.2v1.9h-6.2zM391.2 315.5h4.6v1.9h-4.6zM391.2 313.6h5.9v1.9h-5.9zM391.2 311.7h3.2v1.9h-3.2zM391.2 309.7h5.7v1.9h-5.7zM391.2 307.8h5.4v1.9h-5.4zM391.2 305.9h3.2v1.9h-3.2zM391.2 304h3.6v1.9h-3.6zM391.2 302.1h4.1v1.9h-4.1zM391.2 300.1h3.4v1.9h-3.4zM391.2 298.2h5.5v1.9h-5.5zM391.2 296.3h4.3v1.9h-4.3z" fill="#7d5c9e" clip-path="url(#hcOL)"/>
<path d="M391.2 526.7h62.8M391.2 524.8h62.8M391.2 522.9h62.8M391.2 520.9h62.8M391.2 519h62.8M391.2 517.1h62.8M391.2 515.2h62.8M391.2 513.3h62.8M391.2 511.3h62.8M391.2 509.4h62.8M391.2 507.5h62.8M391.2 505.6h62.8M391.2 503.7h62.8M391.2 501.7h62.8M391.2 499.8h62.8M391.2 497.9h62.8M391.2 496h62.8M391.2 494.1h62.8M391.2 492.1h62.8M391.2 490.2h62.8M391.2 488.3h62.8M391.2 486.4h62.8M391.2 484.5h62.8M391.2 482.5h62.8M391.2 480.6h62.8M391.2 478.7h62.8M391.2 476.8h62.8M391.2 474.9h62.8M391.2 472.9h62.8M391.2 471h62.8M391.2 469.1h62.8M391.2 467.2h62.8M391.2 465.3h62.8M391.2 463.3h62.8M391.2 461.4h62.8M391.2 459.5h62.8M391.2 457.6h62.8M391.2 455.7h62.8M391.2 453.7h62.8M391.2 451.8h62.8M391.2 449.9h62.8M391.2 448h62.8M391.2 446.1h62.8M391.2 444.1h62.8M391.2 442.2h62.8M391.2 440.3h62.8M391.2 438.4h62.8M391.2 436.5h62.8M391.2 434.5h62.8M391.2 432.6h62.8M391.2 430.7h62.8M391.2 428.8h62.8M391.2 426.9h62.8M391.2 424.9h62.8M391.2 423h62.8M391.2 421.1h62.8M391.2 419.2h62.8M391.2 417.3h62.8M391.2 415.3h62.8M391.2 413.4h62.8M391.2 411.5h62.8M391.2 409.6h62.8M391.2 407.7h62.8M391.2 405.7h62.8M391.2 403.8h62.8M391.2 401.9h62.8M391.2 400h62.8M391.2 398.1h62.8M391.2 396.1h62.8M391.2 394.2h62.8M391.2 392.3h62.8M391.2 390.4h62.8M391.2 388.5h62.8M391.2 386.5h62.8M391.2 384.6h62.8M391.2 382.7h62.8M391.2 380.8h62.8M391.2 378.9h62.8M391.2 376.9h62.8M391.2 375h62.8M391.2 373.1h62.8M391.2 371.2h62.8M391.2 369.3h62.8M391.2 367.3h62.8M391.2 365.4h62.8M391.2 363.5h62.8M391.2 361.6h62.8M391.2 359.7h62.8M391.2 357.7h62.8M391.2 355.8h62.8M391.2 353.9h62.8M391.2 352h62.8M391.2 350.1h62.8M391.2 348.1h62.8M391.2 346.2h62.8M391.2 344.3h62.8M391.2 342.4h62.8M391.2 340.5h62.8M391.2 338.5h62.8M391.2 336.6h62.8M391.2 334.7h62.8M391.2 332.8h62.8M391.2 330.9h62.8M391.2 328.9h62.8M391.2 327h62.8M391.2 325.1h62.8M391.2 323.2h62.8M391.2 321.3h62.8M391.2 319.3h62.8M391.2 317.4h62.8M391.2 315.5h62.8M391.2 313.6h62.8M391.2 311.7h62.8M391.2 309.7h62.8M391.2 307.8h62.8M391.2 305.9h62.8M391.2 304h62.8M391.2 302.1h62.8M391.2 300.1h62.8M391.2 298.2h62.8M391.2 296.3h62.8" stroke="#fff" stroke-width="0.45" stroke-opacity="0.9"/>
<path fill="none" stroke="#111" stroke-width="1.2" stroke-dasharray="3.2 2.2" d="M397.3 526.7l3.4-1.9 5.9-1.9 13.7-3.9 6.5-1.9 5.9-1.9 5-1.9 4.1-2 2.5-1.9.8-1.9-.5-1.9-1.3-1.9-1.6-2-4-3.8-4.5-3.8-12.4-9.6-4.8-3.9-2.1-1.9-4.1-3.8-5.5-5.8-1.7-1.9-1.5-1.9-1.2-2-2-3.8-.9-1.9-.6-1.9-1.6-5.8-.9-3.8-.6-3.9-1.2-9.6-.3-3.8 0-132.5"/>
<path fill="none" stroke="#111" stroke-width="1.2" stroke-dasharray="3.2 2.2" d="M392.7 526.7l.6-1.9 3.2-5.8.7-1.9 1.1-3.8 1-3.9.3-1.9.3-1.9.9-17.3 0-34.6.2-3.8.4-1.9 2.4-9.6 1.2-3.9.9-1.9 3.8-7.7.9-1.9.6-1.9 1.6-5.8.4-1.9.2-1.9 0-1.9-.3-1.9-1-5.8-.5-1.9-.7-1.9-4-9.6-1.3-3.9-3.1-9.6-.6-1.9-.9-3.8-3.1-15.4-2.1-15.4-.6-5.7-1.4-17.3-.8-15.4-.1-3.8"/>
</g>
<line x1="391.2" y1="449.9" x2="454" y2="449.9" stroke="#e0281e" stroke-width="2.1"/>
<line x1="391.2" y1="488.3" x2="454" y2="488.3" stroke="#e0281e" stroke-width="2.1"/>
<line x1="444" y1="345" x2="444" y2="481.4" stroke="#7e0c86" stroke-width="2.8"/>
<circle cx="442.8" cy="412.9" r="3.4" fill="#7e0c86"/>
<rect x="443.2" y="409.4" width="4" height="7" fill="#7e0c86"/>
<line x1="450.6" y1="464" x2="450.6" y2="513.5" stroke="#108080" stroke-width="2.8"/>
<circle cx="449.4" cy="488.9" r="3.4" fill="#108080"/>
<rect x="449.8" y="485.4" width="4" height="7" fill="#108080"/>
<line x1="391.2" y1="296.3" x2="391.2" y2="546" stroke="#6b6b6b" stroke-width="0.9"/>
<line x1="391.2" y1="546" x2="454" y2="546" stroke="#6b6b6b" stroke-width="0.9"/>
<line x1="454" y1="546" x2="454" y2="543.5" stroke="#6b6b6b" stroke-width="0.8"/>
<line x1="391.2" y1="526.7" x2="393.4" y2="526.7" stroke="#6b6b6b" stroke-width="0.7"/>
<line x1="391.2" y1="488.3" x2="393.4" y2="488.3" stroke="#6b6b6b" stroke-width="0.7"/>
<line x1="391.2" y1="449.9" x2="393.4" y2="449.9" stroke="#6b6b6b" stroke-width="0.7"/>
<line x1="391.2" y1="411.5" x2="393.4" y2="411.5" stroke="#6b6b6b" stroke-width="0.7"/>
<line x1="391.2" y1="373.1" x2="393.4" y2="373.1" stroke="#6b6b6b" stroke-width="0.7"/>
<line x1="391.2" y1="334.7" x2="393.4" y2="334.7" stroke="#6b6b6b" stroke-width="0.7"/>
<line x1="391.2" y1="296.3" x2="393.4" y2="296.3" stroke="#6b6b6b" stroke-width="0.7"/>
<text x="428.5" y="536.4" font-size="13" text-anchor="middle" fill="#e8902e" stroke="#e8902e" stroke-width="0.22" font-weight="normal" dominant-baseline="central">OL</text>
<text x="424.4" y="558.6" font-size="12.8" text-anchor="middle" fill="#1a1a1a" stroke="#1a1a1a" stroke-width="0.22" font-weight="normal" dominant-baseline="central">prob.</text>
<line x1="463.8" y1="526.7" x2="526" y2="526.7" stroke="#999" stroke-width="0.7" stroke-dasharray="1 1.5"/>
<clipPath id="hclipiCL"><rect x="463.8" y="295.3" width="62.2" height="231.4"/></clipPath>
<g clip-path="url(#hclipiCL)">
<clipPath id="hciCL"><path d="M463.8 524.8h10.1v1.9h-10.1zM463.8 522.9h13.2v1.9h-13.2zM463.8 520.9h12.5v1.9h-12.5zM463.8 519h13.9v1.9h-13.9zM463.8 517.1h12.7v1.9h-12.7zM463.8 515.2h16.1v1.9h-16.1zM463.8 513.3h18.8v1.9h-18.8zM463.8 511.3h31.2v1.9h-31.2zM463.8 509.4h23.1v1.9h-23.1zM463.8 507.5h35.3v1.9h-35.3zM463.8 505.6h39.7v1.9h-39.7zM463.8 503.7h34.5v1.9h-34.5zM463.8 501.7h40.4v1.9h-40.4zM463.8 499.8h63.4v1.9h-63.4zM463.8 497.9h67.9v1.9h-67.9zM463.8 496h36.2v1.9h-36.2zM463.8 494.1h45.1v1.9h-45.1zM463.8 492.1h42.3v1.9h-42.3zM463.8 490.2h43.5v1.9h-43.5zM463.8 488.3h68.8v1.9h-68.8zM463.8 486.4h55.3v1.9h-55.3zM463.8 484.5h60.1v1.9h-60.1zM463.8 482.5h63.4v1.9h-63.4zM463.8 480.6h34v1.9h-34zM463.8 478.7h34.5v1.9h-34.5zM463.8 476.8h33.9v1.9h-33.9zM463.8 474.9h39.9v1.9h-39.9zM463.8 472.9h26.7v1.9h-26.7zM463.8 471h29.2v1.9h-29.2zM463.8 469.1h29v1.9h-29zM463.8 467.2h25v1.9h-25zM463.8 465.3h17.6v1.9h-17.6zM463.8 463.3h9.9v1.9h-9.9zM463.8 461.4h5.9v1.9h-5.9zM463.8 459.5h12v1.9h-12zM463.8 457.6h8v1.9h-8zM463.8 455.7h4v1.9h-4zM463.8 453.7h3.8v1.9h-3.8zM463.8 451.8h3v1.9h-3zM463.8 449.9h1.2v1.9h-1.2zM463.8 448h1.9v1.9h-1.9zM463.8 446.1h1v1.9h-1zM463.8 444.1h0.7v1.9h-0.7z"/></clipPath>
<path d="M463.8 524.8h10.1v1.9h-10.1zM463.8 522.9h13.2v1.9h-13.2zM463.8 520.9h12.5v1.9h-12.5zM463.8 519h13.9v1.9h-13.9zM463.8 517.1h12.7v1.9h-12.7zM463.8 515.2h16.1v1.9h-16.1zM463.8 513.3h18.8v1.9h-18.8zM463.8 511.3h31.2v1.9h-31.2zM463.8 509.4h23.1v1.9h-23.1zM463.8 507.5h35.3v1.9h-35.3zM463.8 505.6h39.7v1.9h-39.7zM463.8 503.7h34.5v1.9h-34.5zM463.8 501.7h40.4v1.9h-40.4zM463.8 499.8h63.4v1.9h-63.4zM463.8 497.9h67.9v1.9h-67.9zM463.8 496h36.2v1.9h-36.2zM463.8 494.1h45.1v1.9h-45.1zM463.8 492.1h42.3v1.9h-42.3zM463.8 490.2h43.5v1.9h-43.5zM463.8 488.3h68.8v1.9h-68.8zM463.8 486.4h55.3v1.9h-55.3zM463.8 484.5h60.1v1.9h-60.1zM463.8 482.5h63.4v1.9h-63.4zM463.8 480.6h34v1.9h-34zM463.8 478.7h34.5v1.9h-34.5zM463.8 476.8h33.9v1.9h-33.9zM463.8 474.9h39.9v1.9h-39.9zM463.8 472.9h26.7v1.9h-26.7zM463.8 471h29.2v1.9h-29.2zM463.8 469.1h29v1.9h-29zM463.8 467.2h25v1.9h-25zM463.8 465.3h17.6v1.9h-17.6zM463.8 463.3h9.9v1.9h-9.9zM463.8 461.4h5.9v1.9h-5.9zM463.8 459.5h12v1.9h-12zM463.8 457.6h8v1.9h-8zM463.8 455.7h4v1.9h-4zM463.8 453.7h3.8v1.9h-3.8zM463.8 451.8h3v1.9h-3zM463.8 449.9h1.2v1.9h-1.2zM463.8 448h1.9v1.9h-1.9zM463.8 446.1h1v1.9h-1zM463.8 444.1h0.7v1.9h-0.7z" fill="#72c2ba"/>
<path d="M463.8 524.8h2.6v1.9h-2.6zM463.8 522.9h2.6v1.9h-2.6zM463.8 520.9h1.2v1.9h-1.2zM463.8 519h3.6v1.9h-3.6zM463.8 517.1h2.2v1.9h-2.2zM463.8 515.2h2.4v1.9h-2.4zM463.8 513.3h2.4v1.9h-2.4zM463.8 511.3h2.3v1.9h-2.3zM463.8 509.4h1.8v1.9h-1.8zM463.8 507.5h2.3v1.9h-2.3zM463.8 505.6h3.7v1.9h-3.7zM463.8 503.7h1.6v1.9h-1.6zM463.8 501.7h0.8v1.9h-0.8zM463.8 499.8h3.3v1.9h-3.3zM463.8 497.9h3.2v1.9h-3.2zM463.8 496h3.6v1.9h-3.6zM463.8 494.1h4.7v1.9h-4.7zM463.8 492.1h2.6v1.9h-2.6zM463.8 490.2h3.8v1.9h-3.8zM463.8 488.3h4.5v1.9h-4.5zM463.8 486.4h5.6v1.9h-5.6zM463.8 484.5h5.7v1.9h-5.7zM463.8 482.5h3.5v1.9h-3.5zM463.8 480.6h2.9v1.9h-2.9zM463.8 478.7h5.1v1.9h-5.1zM463.8 476.8h3.4v1.9h-3.4zM463.8 474.9h10v1.9h-10zM463.8 472.9h7.5v1.9h-7.5zM463.8 471h8.5v1.9h-8.5zM463.8 469.1h7.7v1.9h-7.7zM463.8 467.2h17.2v1.9h-17.2zM463.8 465.3h14.7v1.9h-14.7zM463.8 463.3h13.3v1.9h-13.3zM463.8 461.4h19.9v1.9h-19.9zM463.8 459.5h18v1.9h-18zM463.8 457.6h23.8v1.9h-23.8zM463.8 455.7h30.4v1.9h-30.4zM463.8 453.7h21.4v1.9h-21.4zM463.8 451.8h28.6v1.9h-28.6zM463.8 449.9h30v1.9h-30zM463.8 448h37.2v1.9h-37.2zM463.8 446.1h34.5v1.9h-34.5zM463.8 444.1h30v1.9h-30zM463.8 442.2h23.4v1.9h-23.4zM463.8 440.3h30.8v1.9h-30.8zM463.8 438.4h19v1.9h-19zM463.8 436.5h32.3v1.9h-32.3zM463.8 434.5h26.8v1.9h-26.8zM463.8 432.6h29.3v1.9h-29.3zM463.8 430.7h19.8v1.9h-19.8zM463.8 428.8h16.6v1.9h-16.6zM463.8 426.9h14.6v1.9h-14.6zM463.8 424.9h24.6v1.9h-24.6zM463.8 423h15.7v1.9h-15.7zM463.8 421.1h14.4v1.9h-14.4zM463.8 419.2h6.6v1.9h-6.6zM463.8 417.3h12.9v1.9h-12.9zM463.8 413.4h15.1v1.9h-15.1zM463.8 411.5h8.9v1.9h-8.9zM463.8 409.6h8.6v1.9h-8.6zM463.8 407.7h4.4v1.9h-4.4zM463.8 405.7h4.6v1.9h-4.6zM463.8 403.8h7.2v1.9h-7.2zM463.8 401.9h4.9v1.9h-4.9zM463.8 400h5v1.9h-5zM463.8 398.1h5.2v1.9h-5.2zM463.8 396.1h4v1.9h-4zM463.8 394.2h1.3v1.9h-1.3zM463.8 392.3h1.8v1.9h-1.8zM463.8 390.4h1.4v1.9h-1.4zM463.8 388.5h1.2v1.9h-1.2zM463.8 386.5h0.5v1.9h-0.5zM463.8 384.6h0.4v1.9h-0.4zM463.8 382.7h0.7v1.9h-0.7zM463.8 380.8h0.5v1.9h-0.5zM463.8 378.9h0.4v1.9h-0.4z" fill="#c07ec6"/>
<path d="M463.8 524.8h2.6v1.9h-2.6zM463.8 522.9h2.6v1.9h-2.6zM463.8 520.9h1.2v1.9h-1.2zM463.8 519h3.6v1.9h-3.6zM463.8 517.1h2.2v1.9h-2.2zM463.8 515.2h2.4v1.9h-2.4zM463.8 513.3h2.4v1.9h-2.4zM463.8 511.3h2.3v1.9h-2.3zM463.8 509.4h1.8v1.9h-1.8zM463.8 507.5h2.3v1.9h-2.3zM463.8 505.6h3.7v1.9h-3.7zM463.8 503.7h1.6v1.9h-1.6zM463.8 501.7h0.8v1.9h-0.8zM463.8 499.8h3.3v1.9h-3.3zM463.8 497.9h3.2v1.9h-3.2zM463.8 496h3.6v1.9h-3.6zM463.8 494.1h4.7v1.9h-4.7zM463.8 492.1h2.6v1.9h-2.6zM463.8 490.2h3.8v1.9h-3.8zM463.8 488.3h4.5v1.9h-4.5zM463.8 486.4h5.6v1.9h-5.6zM463.8 484.5h5.7v1.9h-5.7zM463.8 482.5h3.5v1.9h-3.5zM463.8 480.6h2.9v1.9h-2.9zM463.8 478.7h5.1v1.9h-5.1zM463.8 476.8h3.4v1.9h-3.4zM463.8 474.9h10v1.9h-10zM463.8 472.9h7.5v1.9h-7.5zM463.8 471h8.5v1.9h-8.5zM463.8 469.1h7.7v1.9h-7.7zM463.8 467.2h17.2v1.9h-17.2zM463.8 465.3h14.7v1.9h-14.7zM463.8 463.3h13.3v1.9h-13.3zM463.8 461.4h19.9v1.9h-19.9zM463.8 459.5h18v1.9h-18zM463.8 457.6h23.8v1.9h-23.8zM463.8 455.7h30.4v1.9h-30.4zM463.8 453.7h21.4v1.9h-21.4zM463.8 451.8h28.6v1.9h-28.6zM463.8 449.9h30v1.9h-30zM463.8 448h37.2v1.9h-37.2zM463.8 446.1h34.5v1.9h-34.5zM463.8 444.1h30v1.9h-30zM463.8 442.2h23.4v1.9h-23.4zM463.8 440.3h30.8v1.9h-30.8zM463.8 438.4h19v1.9h-19zM463.8 436.5h32.3v1.9h-32.3zM463.8 434.5h26.8v1.9h-26.8zM463.8 432.6h29.3v1.9h-29.3zM463.8 430.7h19.8v1.9h-19.8zM463.8 428.8h16.6v1.9h-16.6zM463.8 426.9h14.6v1.9h-14.6zM463.8 424.9h24.6v1.9h-24.6zM463.8 423h15.7v1.9h-15.7zM463.8 421.1h14.4v1.9h-14.4zM463.8 419.2h6.6v1.9h-6.6zM463.8 417.3h12.9v1.9h-12.9zM463.8 413.4h15.1v1.9h-15.1zM463.8 411.5h8.9v1.9h-8.9zM463.8 409.6h8.6v1.9h-8.6zM463.8 407.7h4.4v1.9h-4.4zM463.8 405.7h4.6v1.9h-4.6zM463.8 403.8h7.2v1.9h-7.2zM463.8 401.9h4.9v1.9h-4.9zM463.8 400h5v1.9h-5zM463.8 398.1h5.2v1.9h-5.2zM463.8 396.1h4v1.9h-4zM463.8 394.2h1.3v1.9h-1.3zM463.8 392.3h1.8v1.9h-1.8zM463.8 390.4h1.4v1.9h-1.4zM463.8 388.5h1.2v1.9h-1.2zM463.8 386.5h0.5v1.9h-0.5zM463.8 384.6h0.4v1.9h-0.4zM463.8 382.7h0.7v1.9h-0.7zM463.8 380.8h0.5v1.9h-0.5zM463.8 378.9h0.4v1.9h-0.4z" fill="#7d5c9e" clip-path="url(#hciCL)"/>
<path d="M463.8 526.7h62.2M463.8 524.8h62.2M463.8 522.9h62.2M463.8 520.9h62.2M463.8 519h62.2M463.8 517.1h62.2M463.8 515.2h62.2M463.8 513.3h62.2M463.8 511.3h62.2M463.8 509.4h62.2M463.8 507.5h62.2M463.8 505.6h62.2M463.8 503.7h62.2M463.8 501.7h62.2M463.8 499.8h62.2M463.8 497.9h62.2M463.8 496h62.2M463.8 494.1h62.2M463.8 492.1h62.2M463.8 490.2h62.2M463.8 488.3h62.2M463.8 486.4h62.2M463.8 484.5h62.2M463.8 482.5h62.2M463.8 480.6h62.2M463.8 478.7h62.2M463.8 476.8h62.2M463.8 474.9h62.2M463.8 472.9h62.2M463.8 471h62.2M463.8 469.1h62.2M463.8 467.2h62.2M463.8 465.3h62.2M463.8 463.3h62.2M463.8 461.4h62.2M463.8 459.5h62.2M463.8 457.6h62.2M463.8 455.7h62.2M463.8 453.7h62.2M463.8 451.8h62.2M463.8 449.9h62.2M463.8 448h62.2M463.8 446.1h62.2M463.8 444.1h62.2M463.8 442.2h62.2M463.8 440.3h62.2M463.8 438.4h62.2M463.8 436.5h62.2M463.8 434.5h62.2M463.8 432.6h62.2M463.8 430.7h62.2M463.8 428.8h62.2M463.8 426.9h62.2M463.8 424.9h62.2M463.8 423h62.2M463.8 421.1h62.2M463.8 419.2h62.2M463.8 417.3h62.2M463.8 415.3h62.2M463.8 413.4h62.2M463.8 411.5h62.2M463.8 409.6h62.2M463.8 407.7h62.2M463.8 405.7h62.2M463.8 403.8h62.2M463.8 401.9h62.2M463.8 400h62.2M463.8 398.1h62.2M463.8 396.1h62.2M463.8 394.2h62.2M463.8 392.3h62.2M463.8 390.4h62.2M463.8 388.5h62.2M463.8 386.5h62.2M463.8 384.6h62.2M463.8 382.7h62.2M463.8 380.8h62.2M463.8 378.9h62.2M463.8 376.9h62.2M463.8 375h62.2M463.8 373.1h62.2M463.8 371.2h62.2M463.8 369.3h62.2M463.8 367.3h62.2M463.8 365.4h62.2M463.8 363.5h62.2M463.8 361.6h62.2M463.8 359.7h62.2M463.8 357.7h62.2M463.8 355.8h62.2M463.8 353.9h62.2M463.8 352h62.2M463.8 350.1h62.2M463.8 348.1h62.2M463.8 346.2h62.2M463.8 344.3h62.2M463.8 342.4h62.2M463.8 340.5h62.2M463.8 338.5h62.2M463.8 336.6h62.2M463.8 334.7h62.2M463.8 332.8h62.2M463.8 330.9h62.2M463.8 328.9h62.2M463.8 327h62.2M463.8 325.1h62.2M463.8 323.2h62.2M463.8 321.3h62.2M463.8 319.3h62.2M463.8 317.4h62.2M463.8 315.5h62.2M463.8 313.6h62.2M463.8 311.7h62.2M463.8 309.7h62.2M463.8 307.8h62.2M463.8 305.9h62.2M463.8 304h62.2M463.8 302.1h62.2M463.8 300.1h62.2M463.8 298.2h62.2M463.8 296.3h62.2" stroke="#fff" stroke-width="0.45" stroke-opacity="0.9"/>
<path fill="none" stroke="#111" stroke-width="1.2" stroke-dasharray="3.2 2.2" d="M466.3 526.7l1.1-1.9 2.1-1.9 2.5-2 2.8-1.9 3-1.9 13.1-7.7 2.9-1.9 2.4-1.9 2.2-1.9 4-3.9 1.8-1.9 1.5-1.9 1-1.9.6-2 .4-1.9-.2-1.9-.8-1.9-1.4-1.9-1.6-2-1.9-1.9-2.3-1.9-2.6-1.9-5.6-3.9-8.8-5.7-2.6-1.9-2.4-2-4-3.8-1.8-1.9-1.5-1.9-2.5-3.9-1-1.9-.7-1.9-1-3.9-.4-1.9-.1-1.9-.1-3.8 0-140.2"/>
<path fill="none" stroke="#111" stroke-width="1.2" stroke-dasharray="3.2 2.2" d="M464.4 526.7l.1-32.6.1-2 .4-1.9.9-3.8 1.1-3.9.7-1.9.9-1.9 2.3-3.8 2.4-3.9 1.3-1.9 1.5-1.9 6.6-7.7 1.5-1.9 1.3-1.9 3.5-5.8 1-1.9.5-1.9-.2-2-.6-1.9-1.6-3.8-1-1.9-1.1-2-1.4-1.9-6.5-7.7-1.5-1.9-2.5-3.8-3.5-5.8-.9-1.9-.8-1.9-.7-1.9-1.7-5.8-.8-3.8-1-7.7-.2-1.9-.1-3.9 0-88.3"/>
</g>
<line x1="463.8" y1="449.9" x2="526" y2="449.9" stroke="#e0281e" stroke-width="2.1"/>
<line x1="463.8" y1="488.3" x2="526" y2="488.3" stroke="#e0281e" stroke-width="2.1"/>
<line x1="516.5" y1="428" x2="516.5" y2="479" stroke="#7e0c86" stroke-width="2.8"/>
<circle cx="515.3" cy="451.5" r="3.4" fill="#7e0c86"/>
<rect x="515.7" y="448" width="4" height="7" fill="#7e0c86"/>
<line x1="522.8" y1="478.3" x2="522.8" y2="502.8" stroke="#108080" stroke-width="2.8"/>
<circle cx="521.6" cy="490.5" r="3.4" fill="#108080"/>
<rect x="522" y="487" width="4" height="7" fill="#108080"/>
<line x1="463.8" y1="296.3" x2="463.8" y2="546" stroke="#6b6b6b" stroke-width="0.9"/>
<line x1="463.8" y1="546" x2="526" y2="546" stroke="#6b6b6b" stroke-width="0.9"/>
<line x1="526" y1="546" x2="526" y2="543.5" stroke="#6b6b6b" stroke-width="0.8"/>
<line x1="463.8" y1="526.7" x2="466" y2="526.7" stroke="#6b6b6b" stroke-width="0.7"/>
<line x1="463.8" y1="488.3" x2="466" y2="488.3" stroke="#6b6b6b" stroke-width="0.7"/>
<line x1="463.8" y1="449.9" x2="466" y2="449.9" stroke="#6b6b6b" stroke-width="0.7"/>
<line x1="463.8" y1="411.5" x2="466" y2="411.5" stroke="#6b6b6b" stroke-width="0.7"/>
<line x1="463.8" y1="373.1" x2="466" y2="373.1" stroke="#6b6b6b" stroke-width="0.7"/>
<line x1="463.8" y1="334.7" x2="466" y2="334.7" stroke="#6b6b6b" stroke-width="0.7"/>
<line x1="463.8" y1="296.3" x2="466" y2="296.3" stroke="#6b6b6b" stroke-width="0.7"/>
<text x="502" y="536.4" font-size="13" text-anchor="middle" fill="#2e9fe8" stroke="#2e9fe8" stroke-width="0.22" font-weight="normal" dominant-baseline="central">iCL</text>
<text x="502" y="558.6" font-size="12.8" text-anchor="middle" fill="#1a1a1a" stroke="#1a1a1a" stroke-width="0.22" font-weight="normal" dominant-baseline="central">prob.</text>
<line x1="495.4" y1="546" x2="495.4" y2="543.5" stroke="#6b6b6b" stroke-width="0.8"/>
<rect x="43.6" y="559.3" width="334" height="27.7" fill="#2ee812"/>
<path d="M43.6 559.3h2.2v27.7h-2.2zM68.2 559.3h1.1v27.7h-1.1zM73.8 559.3h1.1v27.7h-1.1zM82.8 559.3h1.1v27.7h-1.1zM152.2 559.3h1.1v27.7h-1.1zM161.2 559.3h1.1v27.7h-1.1zM185.8 559.3h1.1v27.7h-1.1zM194.8 559.3h1.1v27.7h-1.1zM199.3 559.3h1.1v27.7h-1.1zM213.8 559.3h1.1v27.7h-1.1z" fill="#6a5a0e"/>
<path d="M50.3 559.3h1.1v27.7h-1.1zM98.5 559.3h1.1v27.7h-1.1zM104.1 559.3h1.1v27.7h-1.1zM117.5 559.3h1.1v27.7h-1.1zM122 559.3h1.1v27.7h-1.1zM126.5 559.3h1.1v27.7h-1.1zM132.1 559.3h1.1v27.7h-1.1zM142.2 559.3h1.1v27.7h-1.1zM165.7 559.3h1.1v27.7h-1.1zM181.4 559.3h1.1v27.7h-1.1zM218.3 559.3h0.1v27.7h-0.1z" fill="#8a420c"/>
<path d="M54.8 559.3h1.1v27.7h-1.1zM78.3 559.3h1.1v27.7h-1.1zM88.4 559.3h1.1v27.7h-1.1zM92.9 559.3h1.1v27.7h-1.1zM108.6 559.3h1.1v27.7h-1.1zM113 559.3h1.1v27.7h-1.1zM147.8 559.3h1.1v27.7h-1.1zM170.2 559.3h1.1v27.7h-1.1zM203.8 559.3h1.1v27.7h-1.1zM208.2 559.3h1.1v27.7h-1.1z" fill="#5e7a0e"/>
<path d="M59.3 559.3h1.1v27.7h-1.1zM63.8 559.3h1.1v27.7h-1.1zM136.6 559.3h1.1v27.7h-1.1zM156.7 559.3h1.1v27.7h-1.1zM175.8 559.3h1.1v27.7h-1.1zM190.3 559.3h1.1v27.7h-1.1z" fill="#7a4a0c"/>
<path d="M225 559.3h5.5v2h-5.5zM247.1 559.3h1.1v2h-1.1zM275.9 559.3h1.1v2h-1.1zM278.1 559.3h3.3v2h-3.3zM302.4 559.3h6.6v2h-6.6zM313.5 559.3h4.4v2h-4.4zM326.7 559.3h10v2h-10zM337.8 559.3h15.5v2h-15.5zM374.3 559.3h3.3v2h-3.3zM222.8 561.3h5.5v2h-5.5zM229.5 561.3h2.2v2h-2.2zM237.2 561.3h3.3v2h-3.3zM263.7 561.3h1.1v2h-1.1zM274.8 561.3h10v2h-10zM299.1 561.3h2.2v2h-2.2zM311.3 561.3h3.3v2h-3.3zM341.1 561.3h13.3v2h-13.3zM366.5 561.3h3.3v2h-3.3zM376.5 561.3h1.1v2h-1.1zM218.4 563.3h14.4v2h-14.4zM233.9 563.3h3.3v2h-3.3zM238.3 563.3h1.1v2h-1.1zM241.6 563.3h11.1v2h-11.1zM275.9 563.3h1.1v2h-1.1zM288.1 563.3h11.1v2h-11.1zM308 563.3h1.1v2h-1.1zM359.9 563.3h2.2v2h-2.2zM363.2 563.3h6.6v2h-6.6zM374.3 563.3h3.3v2h-3.3zM227.2 565.2h3.3v2h-3.3zM249.4 565.2h3.3v2h-3.3zM284.7 565.2h4.4v2h-4.4zM293.6 565.2h3.3v2h-3.3zM300.2 565.2h3.3v2h-3.3zM313.5 565.2h1.1v2h-1.1zM330.1 565.2h7.7v2h-7.7zM348.9 565.2h7.7v2h-7.7zM359.9 565.2h5.5v2h-5.5zM222.8 567.2h1.1v2h-1.1zM238.3 567.2h8.8v2h-8.8zM249.4 567.2h2.2v2h-2.2zM253.8 567.2h4.4v2h-4.4zM261.5 567.2h1.1v2h-1.1zM275.9 567.2h7.7v2h-7.7zM286.9 567.2h2.2v2h-2.2zM295.8 567.2h1.1v2h-1.1zM306.8 567.2h1.1v2h-1.1zM316.8 567.2h7.7v2h-7.7zM344.4 567.2h3.3v2h-3.3zM350 567.2h2.2v2h-2.2zM356.6 567.2h3.3v2h-3.3zM219.5 569.2h3.3v2h-3.3zM225 569.2h7.7v2h-7.7zM238.3 569.2h4.4v2h-4.4zM243.8 569.2h1.1v2h-1.1zM254.9 569.2h8.8v2h-8.8zM275.9 569.2h5.5v2h-5.5zM284.7 569.2h2.2v2h-2.2zM295.8 569.2h3.3v2h-3.3zM309.1 569.2h1.1v2h-1.1zM335.6 569.2h2.2v2h-2.2zM368.8 569.2h1.1v2h-1.1zM374.3 569.2h3.3v2h-3.3zM219.5 571.2h2.2v2h-2.2zM223.9 571.2h4.4v2h-4.4zM237.2 571.2h21v2h-21zM298 571.2h3.3v2h-3.3zM304.6 571.2h3.3v2h-3.3zM342.2 571.2h5.5v2h-5.5zM352.2 571.2h7.7v2h-7.7zM367.6 571.2h1.1v2h-1.1zM230.6 573.1h10v2h-10zM254.9 573.1h3.3v2h-3.3zM264.8 573.1h6.6v2h-6.6zM285.8 573.1h1.1v2h-1.1zM289.2 573.1h4.4v2h-4.4zM296.9 573.1h1.1v2h-1.1zM303.5 573.1h8.8v2h-8.8zM317.9 573.1h5.5v2h-5.5zM337.8 573.1h1.1v2h-1.1zM356.6 573.1h3.3v2h-3.3zM376.5 573.1h1.1v2h-1.1zM219.5 575.1h8.8v2h-8.8zM235 575.1h1.1v2h-1.1zM244.9 575.1h10v2h-10zM259.3 575.1h1.1v2h-1.1zM270.4 575.1h1.1v2h-1.1zM284.7 575.1h8.8v2h-8.8zM296.9 575.1h15.5v2h-15.5zM322.3 575.1h1.1v2h-1.1zM329 575.1h5.5v2h-5.5zM335.6 575.1h4.4v2h-4.4zM365.4 575.1h1.1v2h-1.1zM368.8 575.1h8.8v2h-8.8zM218.4 577.1h10v2h-10zM232.8 577.1h10v2h-10zM248.2 577.1h8.8v2h-8.8zM261.5 577.1h1.1v2h-1.1zM278.1 577.1h1.1v2h-1.1zM299.1 577.1h6.6v2h-6.6zM312.4 577.1h3.3v2h-3.3zM336.7 577.1h7.7v2h-7.7zM345.5 577.1h1.1v2h-1.1zM358.8 577.1h1.1v2h-1.1zM364.3 577.1h4.4v2h-4.4zM218.4 579.1h2.2v2h-2.2zM222.8 579.1h2.2v2h-2.2zM244.9 579.1h3.3v2h-3.3zM250.5 579.1h8.8v2h-8.8zM265.9 579.1h4.4v2h-4.4zM273.7 579.1h10v2h-10zM286.9 579.1h1.1v2h-1.1zM300.2 579.1h2.2v2h-2.2zM308 579.1h1.1v2h-1.1zM329 579.1h3.3v2h-3.3zM337.8 579.1h2.2v2h-2.2zM344.4 579.1h6.6v2h-6.6zM361 579.1h7.7v2h-7.7zM218.4 581.1h15.5v2h-15.5zM246 581.1h3.3v2h-3.3zM258.2 581.1h6.6v2h-6.6zM268.1 581.1h4.4v2h-4.4zM280.3 581.1h5.5v2h-5.5zM295.8 581.1h8.8v2h-8.8zM311.3 581.1h1.1v2h-1.1zM337.8 581.1h3.3v2h-3.3zM343.3 581.1h13.3v2h-13.3zM358.8 581.1h7.7v2h-7.7zM368.8 581.1h2.2v2h-2.2zM233.9 583h3.3v2h-3.3zM244.9 583h5.5v2h-5.5zM251.6 583h4.4v2h-4.4zM265.9 583h8.8v2h-8.8zM283.6 583h16.6v2h-16.6zM315.7 583h5.5v2h-5.5zM327.9 583h1.1v2h-1.1zM334.5 583h6.6v2h-6.6zM345.5 583h1.1v2h-1.1zM354.4 583h1.1v2h-1.1zM366.5 583h4.4v2h-4.4zM374.3 583h3.3v2h-3.3zM218.4 585h2.2v2h-2.2zM223.9 585h15.5v2h-15.5zM246 585h5.5v2h-5.5zM259.3 585h4.4v2h-4.4zM265.9 585h2.2v2h-2.2zM290.3 585h12.2v2h-12.2zM306.8 585h34.3v2h-34.3zM353.3 585h4.4v2h-4.4zM365.4 585h3.3v2h-3.3z" fill="#d8280a"/>
<rect x="43.6" y="559.3" width="334" height="27.7" fill="none" stroke="#5a3a10" stroke-width="0.8"/>
<text x="37" y="561.3" font-size="12.6" text-anchor="end" fill="#1a1a1a" stroke="#1a1a1a" stroke-width="0.22" font-weight="normal" dominant-baseline="central">1</text>
<text x="37.5" y="586.5" font-size="12.6" text-anchor="end" fill="#1a1a1a" stroke="#1a1a1a" stroke-width="0.22" font-weight="normal" dominant-baseline="central">14</text>
<text x="10" y="573.1" font-size="13.4" text-anchor="middle" fill="#1a1a1a" stroke="#1a1a1a" stroke-width="0.22" font-weight="normal" dominant-baseline="central" transform="rotate(-90 10 573.1)">Cell</text>
<rect x="43.6" y="595" width="334" height="35.4" fill="#2ee812"/>
<path d="M43.6 595h2.2v35.4h-2.2zM62.6 595h2.2v35.4h-2.2zM71.6 595h2.2v35.4h-2.2zM80.6 595h2.2v35.4h-2.2zM85 595h2.2v35.4h-2.2zM89.5 595h2.2v35.4h-2.2zM97.4 595h2.2v35.4h-2.2zM146.6 595h2.2v35.4h-2.2zM159 595h2.2v35.4h-2.2zM190.3 595h2.2v35.4h-2.2zM198.2 595h2.2v35.4h-2.2zM202.6 595h2.2v35.4h-2.2zM208.2 595h2.2v35.4h-2.2zM212.7 595h2.2v35.4h-2.2zM218.3 595h0.1v35.4h-0.1z" fill="#b8620e"/>
<path d="M48.1 595h2.2v35.4h-2.2zM53.7 595h2.2v35.4h-2.2zM58.2 595h2.2v35.4h-2.2zM67.1 595h2.2v35.4h-2.2zM76.1 595h2.2v35.4h-2.2zM110.8 595h2.2v35.4h-2.2zM118.6 595h2.2v35.4h-2.2zM132.1 595h2.2v35.4h-2.2zM137.7 595h2.2v35.4h-2.2zM143.3 595h2.2v35.4h-2.2zM162.3 595h2.2v35.4h-2.2zM166.8 595h2.2v35.4h-2.2zM171.3 595h2.2v35.4h-2.2zM187 595h2.2v35.4h-2.2zM193.7 595h2.2v35.4h-2.2z" fill="#d42a08"/>
<path d="M92.9 595h2.2v35.4h-2.2zM101.8 595h2.2v35.4h-2.2zM106.3 595h2.2v35.4h-2.2zM115.3 595h2.2v35.4h-2.2zM123.1 595h2.2v35.4h-2.2zM127.6 595h2.2v35.4h-2.2zM151.1 595h2.2v35.4h-2.2zM155.6 595h2.2v35.4h-2.2zM176.9 595h2.2v35.4h-2.2zM181.4 595h2.2v35.4h-2.2z" fill="#7a8a10"/>
<path d="M218.4 595h7.7v2h-7.7zM230.6 595h3.3v2h-3.3zM235 595h4.4v2h-4.4zM244.9 595h2.2v2h-2.2zM251.6 595h7.7v2h-7.7zM265.9 595h1.1v2h-1.1zM275.9 595h5.5v2h-5.5zM282.5 595h1.1v2h-1.1zM285.8 595h3.3v2h-3.3zM291.4 595h4.4v2h-4.4zM298 595h4.4v2h-4.4zM304.6 595h1.1v2h-1.1zM306.8 595h1.1v2h-1.1zM324.5 595h2.2v2h-2.2zM331.2 595h1.1v2h-1.1zM333.4 595h1.1v2h-1.1zM336.7 595h4.4v2h-4.4zM345.5 595h1.1v2h-1.1zM351.1 595h2.2v2h-2.2zM364.3 595h1.1v2h-1.1zM366.5 595h1.1v2h-1.1zM371 595h6.6v2h-6.6zM218.4 597h1.1v2h-1.1zM220.6 597h2.2v2h-2.2zM232.8 597h1.1v2h-1.1zM236.1 597h2.2v2h-2.2zM240.5 597h11.1v2h-11.1zM253.8 597h2.2v2h-2.2zM257.1 597h18.8v2h-18.8zM283.6 597h1.1v2h-1.1zM285.8 597h3.3v2h-3.3zM293.6 597h4.4v2h-4.4zM299.1 597h16.6v2h-16.6zM316.8 597h2.2v2h-2.2zM323.4 597h3.3v2h-3.3zM333.4 597h2.2v2h-2.2zM341.1 597h4.4v2h-4.4zM348.9 597h1.1v2h-1.1zM351.1 597h2.2v2h-2.2zM359.9 597h1.1v2h-1.1zM372.1 597h3.3v2h-3.3zM218.4 598.9h1.1v2h-1.1zM230.6 598.9h1.1v2h-1.1zM232.8 598.9h2.2v2h-2.2zM236.1 598.9h7.7v2h-7.7zM247.1 598.9h5.5v2h-5.5zM253.8 598.9h6.6v2h-6.6zM261.5 598.9h3.3v2h-3.3zM268.1 598.9h8.8v2h-8.8zM290.3 598.9h1.1v2h-1.1zM294.7 598.9h1.1v2h-1.1zM300.2 598.9h12.2v2h-12.2zM313.5 598.9h3.3v2h-3.3zM317.9 598.9h3.3v2h-3.3zM325.6 598.9h2.2v2h-2.2zM331.2 598.9h2.2v2h-2.2zM334.5 598.9h5.5v2h-5.5zM341.1 598.9h5.5v2h-5.5zM348.9 598.9h6.6v2h-6.6zM356.6 598.9h2.2v2h-2.2zM359.9 598.9h1.1v2h-1.1zM364.3 598.9h1.1v2h-1.1zM367.6 598.9h10v2h-10zM218.4 600.9h2.2v2h-2.2zM223.9 600.9h1.1v2h-1.1zM227.2 600.9h14.4v2h-14.4zM243.8 600.9h1.1v2h-1.1zM253.8 600.9h2.2v2h-2.2zM260.4 600.9h1.1v2h-1.1zM273.7 600.9h1.1v2h-1.1zM278.1 600.9h16.6v2h-16.6zM296.9 600.9h1.1v2h-1.1zM299.1 600.9h4.4v2h-4.4zM320.1 600.9h2.2v2h-2.2zM326.7 600.9h2.2v2h-2.2zM332.3 600.9h2.2v2h-2.2zM341.1 600.9h1.1v2h-1.1zM345.5 600.9h1.1v2h-1.1zM358.8 600.9h2.2v2h-2.2zM366.5 600.9h1.1v2h-1.1zM371 600.9h2.2v2h-2.2zM375.4 600.9h2.2v2h-2.2zM221.7 602.9h2.2v2h-2.2zM226.1 602.9h1.1v2h-1.1zM228.3 602.9h5.5v2h-5.5zM237.2 602.9h6.6v2h-6.6zM249.4 602.9h2.2v2h-2.2zM256 602.9h7.7v2h-7.7zM264.8 602.9h1.1v2h-1.1zM268.1 602.9h1.1v2h-1.1zM274.8 602.9h1.1v2h-1.1zM281.4 602.9h2.2v2h-2.2zM284.7 602.9h3.3v2h-3.3zM290.3 602.9h2.2v2h-2.2zM298 602.9h2.2v2h-2.2zM301.3 602.9h1.1v2h-1.1zM304.6 602.9h3.3v2h-3.3zM320.1 602.9h6.6v2h-6.6zM330.1 602.9h4.4v2h-4.4zM340 602.9h1.1v2h-1.1zM342.2 602.9h6.6v2h-6.6zM351.1 602.9h12.2v2h-12.2zM369.9 602.9h7.7v2h-7.7zM223.9 604.8h5.5v2h-5.5zM231.7 604.8h5.5v2h-5.5zM238.3 604.8h1.1v2h-1.1zM240.5 604.8h11.1v2h-11.1zM252.7 604.8h5.5v2h-5.5zM263.7 604.8h2.2v2h-2.2zM267 604.8h1.1v2h-1.1zM275.9 604.8h2.2v2h-2.2zM283.6 604.8h2.2v2h-2.2zM290.3 604.8h4.4v2h-4.4zM295.8 604.8h5.5v2h-5.5zM302.4 604.8h5.5v2h-5.5zM314.6 604.8h1.1v2h-1.1zM323.4 604.8h1.1v2h-1.1zM325.6 604.8h2.2v2h-2.2zM329 604.8h2.2v2h-2.2zM335.6 604.8h6.6v2h-6.6zM343.3 604.8h13.3v2h-13.3zM361 604.8h3.3v2h-3.3zM365.4 604.8h7.7v2h-7.7zM220.6 606.8h6.6v2h-6.6zM238.3 606.8h5.5v2h-5.5zM253.8 606.8h3.3v2h-3.3zM269.3 606.8h5.5v2h-5.5zM275.9 606.8h3.3v2h-3.3zM291.4 606.8h3.3v2h-3.3zM295.8 606.8h1.1v2h-1.1zM298 606.8h4.4v2h-4.4zM303.5 606.8h4.4v2h-4.4zM313.5 606.8h4.4v2h-4.4zM320.1 606.8h3.3v2h-3.3zM324.5 606.8h2.2v2h-2.2zM330.1 606.8h1.1v2h-1.1zM333.4 606.8h1.1v2h-1.1zM335.6 606.8h2.2v2h-2.2zM344.4 606.8h2.2v2h-2.2zM347.8 606.8h2.2v2h-2.2zM354.4 606.8h4.4v2h-4.4zM359.9 606.8h4.4v2h-4.4zM366.5 606.8h1.1v2h-1.1zM369.9 606.8h4.4v2h-4.4zM218.4 608.8h1.1v2h-1.1zM220.6 608.8h1.1v2h-1.1zM228.3 608.8h7.7v2h-7.7zM244.9 608.8h2.2v2h-2.2zM248.2 608.8h1.1v2h-1.1zM254.9 608.8h13.3v2h-13.3zM269.3 608.8h3.3v2h-3.3zM274.8 608.8h2.2v2h-2.2zM279.2 608.8h1.1v2h-1.1zM283.6 608.8h1.1v2h-1.1zM290.3 608.8h5.5v2h-5.5zM310.2 608.8h1.1v2h-1.1zM317.9 608.8h7.7v2h-7.7zM326.7 608.8h4.4v2h-4.4zM332.3 608.8h2.2v2h-2.2zM336.7 608.8h8.8v2h-8.8zM364.3 608.8h1.1v2h-1.1zM373.2 608.8h4.4v2h-4.4zM218.4 610.7h8.8v2h-8.8zM228.3 610.7h1.1v2h-1.1zM237.2 610.7h2.2v2h-2.2zM240.5 610.7h8.8v2h-8.8zM267 610.7h3.3v2h-3.3zM271.5 610.7h4.4v2h-4.4zM278.1 610.7h1.1v2h-1.1zM282.5 610.7h5.5v2h-5.5zM289.2 610.7h6.6v2h-6.6zM301.3 610.7h5.5v2h-5.5zM309.1 610.7h3.3v2h-3.3zM313.5 610.7h2.2v2h-2.2zM323.4 610.7h7.7v2h-7.7zM336.7 610.7h1.1v2h-1.1zM350 610.7h1.1v2h-1.1zM352.2 610.7h2.2v2h-2.2zM358.8 610.7h2.2v2h-2.2zM365.4 610.7h1.1v2h-1.1zM372.1 610.7h3.3v2h-3.3zM376.5 610.7h1.1v2h-1.1zM218.4 612.7h2.2v2h-2.2zM221.7 612.7h1.1v2h-1.1zM228.3 612.7h1.1v2h-1.1zM242.7 612.7h2.2v2h-2.2zM250.5 612.7h6.6v2h-6.6zM264.8 612.7h1.1v2h-1.1zM269.3 612.7h1.1v2h-1.1zM275.9 612.7h3.3v2h-3.3zM282.5 612.7h1.1v2h-1.1zM284.7 612.7h2.2v2h-2.2zM298 612.7h1.1v2h-1.1zM301.3 612.7h1.1v2h-1.1zM310.2 612.7h1.1v2h-1.1zM327.9 612.7h1.1v2h-1.1zM330.1 612.7h3.3v2h-3.3zM334.5 612.7h1.1v2h-1.1zM337.8 612.7h3.3v2h-3.3zM345.5 612.7h1.1v2h-1.1zM361 612.7h3.3v2h-3.3zM373.2 612.7h4.4v2h-4.4zM225 614.7h3.3v2h-3.3zM235 614.7h4.4v2h-4.4zM242.7 614.7h4.4v2h-4.4zM249.4 614.7h5.5v2h-5.5zM258.2 614.7h2.2v2h-2.2zM264.8 614.7h1.1v2h-1.1zM268.1 614.7h2.2v2h-2.2zM275.9 614.7h3.3v2h-3.3zM284.7 614.7h1.1v2h-1.1zM288.1 614.7h2.2v2h-2.2zM291.4 614.7h2.2v2h-2.2zM298 614.7h1.1v2h-1.1zM304.6 614.7h10v2h-10zM315.7 614.7h1.1v2h-1.1zM321.2 614.7h8.8v2h-8.8zM333.4 614.7h1.1v2h-1.1zM345.5 614.7h1.1v2h-1.1zM350 614.7h2.2v2h-2.2zM353.3 614.7h5.5v2h-5.5zM365.4 614.7h1.1v2h-1.1zM367.6 614.7h4.4v2h-4.4zM218.4 616.6h4.4v2h-4.4zM226.1 616.6h1.1v2h-1.1zM228.3 616.6h2.2v2h-2.2zM241.6 616.6h3.3v2h-3.3zM251.6 616.6h4.4v2h-4.4zM258.2 616.6h1.1v2h-1.1zM262.6 616.6h2.2v2h-2.2zM278.1 616.6h4.4v2h-4.4zM299.1 616.6h6.6v2h-6.6zM316.8 616.6h2.2v2h-2.2zM323.4 616.6h1.1v2h-1.1zM331.2 616.6h1.1v2h-1.1zM335.6 616.6h2.2v2h-2.2zM338.9 616.6h3.3v2h-3.3zM351.1 616.6h1.1v2h-1.1zM353.3 616.6h4.4v2h-4.4zM358.8 616.6h3.3v2h-3.3zM365.4 616.6h4.4v2h-4.4zM372.1 616.6h3.3v2h-3.3zM218.4 618.6h3.3v2h-3.3zM228.3 618.6h1.1v2h-1.1zM233.9 618.6h2.2v2h-2.2zM250.5 618.6h4.4v2h-4.4zM261.5 618.6h1.1v2h-1.1zM264.8 618.6h2.2v2h-2.2zM268.1 618.6h2.2v2h-2.2zM272.6 618.6h1.1v2h-1.1zM277 618.6h1.1v2h-1.1zM282.5 618.6h1.1v2h-1.1zM285.8 618.6h1.1v2h-1.1zM292.5 618.6h2.2v2h-2.2zM298 618.6h1.1v2h-1.1zM303.5 618.6h1.1v2h-1.1zM308 618.6h15.5v2h-15.5zM324.5 618.6h1.1v2h-1.1zM327.9 618.6h3.3v2h-3.3zM338.9 618.6h5.5v2h-5.5zM347.8 618.6h7.7v2h-7.7zM358.8 618.6h1.1v2h-1.1zM361 618.6h2.2v2h-2.2zM364.3 618.6h3.3v2h-3.3zM222.8 620.6h5.5v2h-5.5zM230.6 620.6h7.7v2h-7.7zM247.1 620.6h7.7v2h-7.7zM256 620.6h4.4v2h-4.4zM262.6 620.6h2.2v2h-2.2zM273.7 620.6h7.7v2h-7.7zM286.9 620.6h4.4v2h-4.4zM294.7 620.6h1.1v2h-1.1zM303.5 620.6h1.1v2h-1.1zM305.7 620.6h3.3v2h-3.3zM315.7 620.6h1.1v2h-1.1zM319 620.6h3.3v2h-3.3zM324.5 620.6h5.5v2h-5.5zM334.5 620.6h5.5v2h-5.5zM343.3 620.6h2.2v2h-2.2zM346.6 620.6h2.2v2h-2.2zM350 620.6h8.8v2h-8.8zM359.9 620.6h2.2v2h-2.2zM363.2 620.6h1.1v2h-1.1zM368.8 620.6h4.4v2h-4.4zM219.5 622.5h3.3v2h-3.3zM228.3 622.5h3.3v2h-3.3zM235 622.5h10v2h-10zM247.1 622.5h4.4v2h-4.4zM253.8 622.5h7.7v2h-7.7zM264.8 622.5h1.1v2h-1.1zM269.3 622.5h4.4v2h-4.4zM278.1 622.5h7.7v2h-7.7zM286.9 622.5h5.5v2h-5.5zM298 622.5h4.4v2h-4.4zM304.6 622.5h1.1v2h-1.1zM310.2 622.5h11.1v2h-11.1zM322.3 622.5h7.7v2h-7.7zM335.6 622.5h12.2v2h-12.2zM353.3 622.5h1.1v2h-1.1zM355.5 622.5h3.3v2h-3.3zM363.2 622.5h1.1v2h-1.1zM366.5 622.5h11.1v2h-11.1zM218.4 624.5h1.1v2h-1.1zM223.9 624.5h6.6v2h-6.6zM237.2 624.5h2.2v2h-2.2zM244.9 624.5h6.6v2h-6.6zM258.2 624.5h3.3v2h-3.3zM263.7 624.5h6.6v2h-6.6zM272.6 624.5h1.1v2h-1.1zM274.8 624.5h17.7v2h-17.7zM309.1 624.5h1.1v2h-1.1zM311.3 624.5h4.4v2h-4.4zM316.8 624.5h4.4v2h-4.4zM322.3 624.5h4.4v2h-4.4zM329 624.5h2.2v2h-2.2zM333.4 624.5h3.3v2h-3.3zM342.2 624.5h1.1v2h-1.1zM346.6 624.5h6.6v2h-6.6zM358.8 624.5h1.1v2h-1.1zM361 624.5h1.1v2h-1.1zM371 624.5h1.1v2h-1.1zM373.2 624.5h1.1v2h-1.1zM218.4 626.5h1.1v2h-1.1zM220.6 626.5h1.1v2h-1.1zM222.8 626.5h7.7v2h-7.7zM237.2 626.5h2.2v2h-2.2zM243.8 626.5h2.2v2h-2.2zM250.5 626.5h2.2v2h-2.2zM258.2 626.5h2.2v2h-2.2zM271.5 626.5h6.6v2h-6.6zM283.6 626.5h7.7v2h-7.7zM292.5 626.5h3.3v2h-3.3zM296.9 626.5h3.3v2h-3.3zM302.4 626.5h1.1v2h-1.1zM312.4 626.5h6.6v2h-6.6zM320.1 626.5h8.8v2h-8.8zM336.7 626.5h8.8v2h-8.8zM347.8 626.5h7.7v2h-7.7zM356.6 626.5h3.3v2h-3.3zM363.2 626.5h6.6v2h-6.6zM371 626.5h2.2v2h-2.2zM375.4 626.5h1.1v2h-1.1zM218.4 628.4h2.2v2h-2.2zM225 628.4h1.1v2h-1.1zM229.5 628.4h1.1v2h-1.1zM232.8 628.4h1.1v2h-1.1zM238.3 628.4h3.3v2h-3.3zM243.8 628.4h1.1v2h-1.1zM246 628.4h10v2h-10zM257.1 628.4h4.4v2h-4.4zM263.7 628.4h1.1v2h-1.1zM269.3 628.4h13.3v2h-13.3zM284.7 628.4h5.5v2h-5.5zM299.1 628.4h3.3v2h-3.3zM306.8 628.4h1.1v2h-1.1zM315.7 628.4h8.8v2h-8.8zM329 628.4h11.1v2h-11.1zM343.3 628.4h2.2v2h-2.2zM350 628.4h4.4v2h-4.4zM358.8 628.4h1.1v2h-1.1zM364.3 628.4h1.1v2h-1.1zM372.1 628.4h1.1v2h-1.1zM376.5 628.4h1.1v2h-1.1z" fill="#d8280a"/>
<rect x="43.6" y="595" width="334" height="35.4" fill="none" stroke="#5a3a10" stroke-width="0.8"/>
<text x="37" y="597" font-size="12.6" text-anchor="end" fill="#1a1a1a" stroke="#1a1a1a" stroke-width="0.22" font-weight="normal" dominant-baseline="central">1</text>
<text x="37.5" y="629.9" font-size="12.6" text-anchor="end" fill="#1a1a1a" stroke="#1a1a1a" stroke-width="0.22" font-weight="normal" dominant-baseline="central">18</text>
<text x="10" y="612.7" font-size="13.4" text-anchor="middle" fill="#1a1a1a" stroke="#1a1a1a" stroke-width="0.22" font-weight="normal" dominant-baseline="central" transform="rotate(-90 10 612.7)">Cell</text>
<text x="43.6" y="641.8" font-size="12.6" text-anchor="middle" fill="#1a1a1a" stroke="#1a1a1a" stroke-width="0.22" font-weight="normal" dominant-baseline="central">0</text>
<text x="110.3" y="641.8" font-size="12.6" text-anchor="middle" fill="#1a1a1a" stroke="#1a1a1a" stroke-width="0.22" font-weight="normal" dominant-baseline="central">300</text>
<text x="177" y="641.8" font-size="12.6" text-anchor="middle" fill="#1a1a1a" stroke="#1a1a1a" stroke-width="0.22" font-weight="normal" dominant-baseline="central">600</text>
<text x="217" y="641.8" font-size="12.6" text-anchor="middle" fill="#1a1a1a" stroke="#1a1a1a" stroke-width="0.22" font-weight="normal" dominant-baseline="central">780</text>
<text x="243.7" y="641.8" font-size="12.6" text-anchor="middle" fill="#1a1a1a" stroke="#1a1a1a" stroke-width="0.22" font-weight="normal" dominant-baseline="central">900</text>
<text x="310.4" y="641.8" font-size="12.6" text-anchor="middle" fill="#1a1a1a" stroke="#1a1a1a" stroke-width="0.22" font-weight="normal" dominant-baseline="central">1200</text>
<text x="377.1" y="641.8" font-size="12.6" text-anchor="middle" fill="#1a1a1a" stroke="#1a1a1a" stroke-width="0.22" font-weight="normal" dominant-baseline="central">1500</text>
<text x="208.5" y="661" font-size="13.4" text-anchor="middle" fill="#1a1a1a" stroke="#1a1a1a" stroke-width="0.22" font-weight="normal" dominant-baseline="central">Time (min)</text>
<path fill="none" stroke="#f0892a" stroke-width="1.2" stroke-dasharray="3.8 2.6" d="M44.4 740.3l.6-10.4.6-3.6.7-1.3.6-.4 1.2-.2 1.9.2 2.5.5 1.9.5 1.8.8 1.9 1 1.9 1.2 1.8 1.5 1.3 1.2 2.5 2.6 3.1 4 3.1 4.7 2.5 4.1 3.1 5.7 3.1 6 8.7 17.5 3.1 5.9 2.5 4.4 3.1 5.1 2.5 3.6 2.5 3.3 3.1 3.5 3.2 2.8 1.8 1.5 1.9 1.2 1.9 1.1 1.8.9 1.9.8 1.9.6 1.8.5 2.5.6 5 .7 5.6.4 8.1.1"/>
<path fill="none" stroke="#f0892a" stroke-width="1.2" stroke-dasharray="3.8 2.6" d="M44.4 769.4l.6-8.5.6-3 .7-1 .6-.4.6-.1 2.5.3 3.1.7 2.5.9 3.1 1.7 2.5 1.7 2.5 2.1 3.1 3 2.5 2.8 3.1 3.8 11.8 15.7 3.2 3.9 2.5 2.9 3.1 3.4 3.1 2.9 2.5 2 3.1 2.1 3.1 1.8 3.7 1.6 3.8 1.1 4.3 1 4.4.5 5.6.4 6.8.2 10 .1"/>
<path fill="none" stroke="#2a8be6" stroke-width="1.2" stroke-dasharray="3.8 2.6" d="M44.4 798.5l.6-4.8.6-1.6.7-.6.6-.2 1.9 0 3.1.2 3.7.4 3.1.6 3.1.7 3.1.8 3.8 1.1 6.2 2.3 13.7 5.5 6.2 2.4 6.9 2.3 6.2 1.6 3.7.8 3.8.7 3.7.6 4.4.5 8.7.6 11.2.4"/>
<path fill="none" stroke="#2a8be6" stroke-width="1.2" stroke-dasharray="3.8 2.6" d="M44.4 805.7l.6-4.2.6-1.5.7-.5.6-.2 1.2-.1 6.9.3 7.5.8 8.1 1.3 7.4 1.5 21.2 4.9 6.2 1.2 6.2 1 6.9.9 7.5.8 8.1.5 9.3.3"/>
<path fill="none" stroke="#f0892a" stroke-width="2.2" d="M44.4 776.6l.6-23.6.6-8.2.7-2.9.6-1 .6-.3.6-.1 1.3 0 1.8.3 1.9.5 1.3.4 1.8.8 1.9 1 1.9 1.3 1.2 1 1.3 1.1 1.8 1.8 3.1 3.7 3.2 4.4 3.1 4.9 3.7 6.4 8.7 15.6 3.1 5.2 2.5 3.8 3.1 4.3 2.5 3.1 2.5 2.6 3.1 2.8 3.1 2.1 1.9 1.1 1.9.9 1.8.7 1.9.6 3.7.9 4.4.6 5 .3 6.2.2 10.6.1"/>
<path fill="none" stroke="#2a8be6" stroke-width="2.2" d="M44.4 804.3l.6-6.2.6-2.1.7-.8.6-.2 1.2-.1 5 .2 3.8.4 3.7.6 3.7.7 4.4 1 7.5 2.1 14.3 4.7 6.2 1.9 6.9 1.8 6.2 1.4 7.4 1.2 7.5.9 8.7.6 10 .4"/>
<line x1="44.4" y1="704" x2="44.4" y2="813" stroke="#6b6b6b" stroke-width="0.9"/>
<line x1="44.4" y1="813" x2="143.4" y2="813" stroke="#6b6b6b" stroke-width="0.9"/>
<line x1="44.4" y1="813" x2="46.9" y2="813" stroke="#6b6b6b" stroke-width="0.8"/>
<text x="37.9" y="813.3" font-size="12.6" text-anchor="end" fill="#1a1a1a" stroke="#1a1a1a" stroke-width="0.22" font-weight="normal" dominant-baseline="central">0</text>
<line x1="44.4" y1="776.6" x2="46.9" y2="776.6" stroke="#6b6b6b" stroke-width="0.8"/>
<text x="37.9" y="776.9" font-size="12.6" text-anchor="end" fill="#1a1a1a" stroke="#1a1a1a" stroke-width="0.22" font-weight="normal" dominant-baseline="central">0.5</text>
<line x1="44.4" y1="740.3" x2="46.9" y2="740.3" stroke="#6b6b6b" stroke-width="0.8"/>
<text x="37.9" y="740.6" font-size="12.6" text-anchor="end" fill="#1a1a1a" stroke="#1a1a1a" stroke-width="0.22" font-weight="normal" dominant-baseline="central">1</text>
<line x1="44.4" y1="704" x2="46.9" y2="704" stroke="#6b6b6b" stroke-width="0.8"/>
<text x="37.9" y="704.2" font-size="12.6" text-anchor="end" fill="#1a1a1a" stroke="#1a1a1a" stroke-width="0.22" font-weight="normal" dominant-baseline="central">1.5</text>
<line x1="44.4" y1="813" x2="44.4" y2="810.5" stroke="#6b6b6b" stroke-width="0.8"/>
<text x="44.4" y="824.8" font-size="12.6" text-anchor="middle" fill="#1a1a1a" stroke="#1a1a1a" stroke-width="0.22" font-weight="normal" dominant-baseline="central">0</text>
<line x1="77.4" y1="813" x2="77.4" y2="810.5" stroke="#6b6b6b" stroke-width="0.8"/>
<text x="77.4" y="824.8" font-size="12.6" text-anchor="middle" fill="#1a1a1a" stroke="#1a1a1a" stroke-width="0.22" font-weight="normal" dominant-baseline="central">0.01</text>
<line x1="110.4" y1="813" x2="110.4" y2="810.5" stroke="#6b6b6b" stroke-width="0.8"/>
<text x="110.4" y="824.8" font-size="12.6" text-anchor="middle" fill="#1a1a1a" stroke="#1a1a1a" stroke-width="0.22" font-weight="normal" dominant-baseline="central">0.02</text>
<text x="7" y="758" font-size="13.4" text-anchor="middle" fill="#1a1a1a" stroke="#1a1a1a" stroke-width="0.22" font-weight="normal" dominant-baseline="central" transform="rotate(-90 7 758)">Norm. power</text>
<text x="90.5" y="849" font-size="13.4" text-anchor="middle" fill="#1a1a1a">Frequency (min<tspan font-size="8.5" dy="-5">−1</tspan><tspan dy="5">)</tspan></text>
<line x1="77.4" y1="727.6" x2="106.6" y2="727.6" stroke="#f0892a" stroke-width="2.2"/>
<line x1="77.4" y1="743" x2="106.6" y2="743" stroke="#2a8be6" stroke-width="2.2"/>
<text x="109.5" y="728" font-size="12.6" text-anchor="start" fill="#1a1a1a" stroke="#1a1a1a" stroke-width="0.22" font-weight="normal" dominant-baseline="central">OL</text>
<text x="109.5" y="743.3" font-size="12.6" text-anchor="start" fill="#1a1a1a" stroke="#1a1a1a" stroke-width="0.22" font-weight="normal" dominant-baseline="central">iCL</text>
<text x="-0.5" y="699.5" font-size="17.5" font-weight="bold" fill="#000">c</text>
<rect x="615.1" y="632.3" width="49.9" height="44.5" fill="#000"/>
<path d="M633.6 632.3h9.2v1.9h-9.2zM628 634.2h20.3v1.9h-20.3zM624.3 636h9.2v1.9h-9.2zM642.8 636h7.4v1.9h-7.4zM622.5 637.9h5.5v1.9h-5.5zM646.5 637.9h7.4v1.9h-7.4zM620.6 639.7h5.5v1.9h-5.5zM650.2 639.7h5.5v1.9h-5.5zM618.8 641.6h5.5v1.9h-5.5zM652.1 641.6h3.7v1.9h-3.7zM618.8 643.4h3.7v1.9h-3.7zM629.9 643.4h1.8v1.9h-1.8zM642.8 643.4h1.8v1.9h-1.8zM653.9 643.4h3.7v1.9h-3.7zM616.9 645.3h3.7v1.9h-3.7zM628 645.3h5.5v1.9h-5.5zM641 645.3h5.5v1.9h-5.5zM653.9 645.3h3.7v1.9h-3.7zM616.9 647.1h3.7v1.9h-3.7zM628 647.1h5.5v1.9h-5.5zM641 647.1h5.5v1.9h-5.5zM655.8 647.1h3.7v1.9h-3.7zM616.9 649h3.7v1.9h-3.7zM628 649h5.5v1.9h-5.5zM641 649h5.5v1.9h-5.5zM655.8 649h3.7v1.9h-3.7zM615.1 650.8h3.7v1.9h-3.7zM629.9 650.8h3.7v1.9h-3.7zM642.8 650.8h3.7v1.9h-3.7zM655.8 650.8h3.7v1.9h-3.7zM615.1 652.7h3.7v1.9h-3.7zM657.6 652.7h1.8v1.9h-1.8zM615.1 654.5h3.7v1.9h-3.7zM657.6 654.5h1.8v1.9h-1.8zM615.1 656.4h3.7v1.9h-3.7zM624.3 656.4h3.7v1.9h-3.7zM648.4 656.4h1.8v1.9h-1.8zM655.8 656.4h3.7v1.9h-3.7zM616.9 658.3h3.7v1.9h-3.7zM626.2 658.3h1.8v1.9h-1.8zM646.5 658.3h3.7v1.9h-3.7zM655.8 658.3h3.7v1.9h-3.7zM616.9 660.1h3.7v1.9h-3.7zM628 660.1h3.7v1.9h-3.7zM644.7 660.1h3.7v1.9h-3.7zM655.8 660.1h3.7v1.9h-3.7zM616.9 662h3.7v1.9h-3.7zM629.9 662h16.6v1.9h-16.6zM653.9 662h5.5v1.9h-5.5zM618.8 663.8h3.7v1.9h-3.7zM633.6 663.8h7.4v1.9h-7.4zM653.9 663.8h3.7v1.9h-3.7zM618.8 665.7h5.5v1.9h-5.5zM652.1 665.7h3.7v1.9h-3.7zM620.6 667.5h5.5v1.9h-5.5zM650.2 667.5h5.5v1.9h-5.5zM622.5 669.4h5.5v1.9h-5.5zM648.4 669.4h5.5v1.9h-5.5zM624.3 671.2h7.4v1.9h-7.4zM642.8 671.2h9.2v1.9h-9.2zM628 673.1h20.3v1.9h-20.3zM631.7 674.9h11.1v1.9h-11.1z" fill="#fff"/>
<rect x="615.1" y="632.3" width="49.9" height="44.5" fill="none" stroke="#000" stroke-width="1"/>
<text x="603.5" y="655" font-size="13.4" text-anchor="middle" fill="#1a1a1a" stroke="#1a1a1a" stroke-width="0.22" font-weight="normal" dominant-baseline="central" transform="rotate(-90 603.5 655)">Cell</text>
<text x="639.5" y="691" font-size="13.4" text-anchor="middle" fill="#1a1a1a" stroke="#1a1a1a" stroke-width="0.22" font-weight="normal" dominant-baseline="central">Time</text>
<line x1="671" y1="624" x2="671" y2="696" stroke="#eee" stroke-width="0.8"/>
<path d="M513.4 681.7l1-.3 1-.4 2-1.6 2-2.6 1-.2 1-2 1-1.2 1-1.5 1 .3 1 1.7 1 .2 1 .1 1 .3 1-.7 1-1.8 1.1 2 1-.4 2 1.6 1 1.5 1 .7 1-1.2 1-.4 1 2 1-.2 2 .8 1 .2 1-1.1 1-.7 1-.5 1 1 1 .3 1 .2 1 .9 1-1.3 1-1.8 1-.7 1 1.9 1 .1 1 2.4 1 .8 2 2.8 1 2.2 2 2.5 1 .8 1 1.1 2 1.5-53.1-9.3z" fill="#8a8a8a"/>
<path fill="none" stroke="#222" stroke-width="0.75" d="M439.2 668.7l74.2 13 1-.3 1-.4 2-1.6 2-2.6 1-.2 1-2 1-1.2 1-1.5 1 .3 1 1.7 1 .2 1 .1 1 .3 1-.7 1-1.8 1.1 2 1-.4 2 1.6 1 1.5 1 .7 1-1.2 1-.4 1 2 1-.2 2 .8 1 .2 1-1.1 1-.7 1-.5 1 1 1 .3 1 .2 1 .9 1-1.3 1-1.8 1-.7 1 1.9 1 .1 1 2.4 1 .8 2 2.8 1 2.2 2 2.5 1 .8 1 1.1 2 1.5 93.3 16.3"/>
<path d="M488.8 684.2l2-.6 2-.9 2-2.2 1-.2 1-.9 1-.7 1-.5 1 .2 1 2 1 .7 1 1 2.1 1.9 1 .4 1 1 1 .5 2 1.4 2 .9-23.1-4z" fill="#8a8a8a"/>
<path d="M525.9 690.7l1-.2 2-.5 1-.9 1-.5 2-1.9 2-.3 1-1.1 1-.3 1 1.1 1 .6 1.1 1 1 1.6 2 1.1 1 1.3 1 .8 4 2.2-23.1-4z" fill="#8a8a8a"/>
<path d="M564 697.3l1-.3 1-.2 1-.5 1-.7 2-1.6 1-1.3 1 .1 1-.6 1-.1 1 .7 1.1.6 1 1.3 1 .4 1 1.3 1 .6 1 1 1 .6 1 1 3 1.6-22.1-3.9z" fill="#8a8a8a"/>
<path fill="none" stroke="#222" stroke-width="0.75" d="M436.7 675l52.1 9.2 2-.6 2-.9 2-2.2 1-.2 1-.9 1-.7 1-.5 1 .2 1 2 1 .7 1 1 2.1 1.9 1 .4 1 1 1 .5 2 1.4 2 .9 14 2.5 1-.2 2-.5 1-.9 1-.5 2-1.9 2-.3 1-1.1 1-.3 1 1.1 1 .6 1.1 1 1 1.6 2 1.1 1 1.3 1 .8 4 2.2 15 2.6 1-.3 1-.2 1-.5 1-.7 2-1.6 1-1.3 1 .1 1-.6 1-.1 1 .7 1.1.6 1 1.3 1 .4 1 1.3 1 .6 1 1 1 .6 1 1 3 1.6 71.2 12.5"/>
<path d="M471.2 687.8l2-.6 1-.8 1-.5 1-.7 1-1.7 2.1-1.4 1-1.5 1 1.2 1-1.6 1 2.1 1 .4 1 1 1-.1 1-.2 1 .6 1-.5 2 1.8 1 .6 1 .7 1 .1 1-.7 1 .5 1-.1 1 1 1 1.2 1 .9 2 1.1 2 1.5 1 .5 1 .7 1 .5 1 .6-37.1-6.6z" fill="#8a8a8a"/>
<path d="M553.5 702.3l2-.7 2-1.1 1-.7 2-2.5 1-.4 1-1.3 1-.5 1 0 1 1.8 1 .2 1 1.7 1 .3 1 .3 2-.8 1 1.4 1 .2 1-.2 1 .3 1-1.6 1 .3 1-1.7 1 .5 1 1.4 1 1.6 1.1.2 1 1.6 1 1.1 1 .9 1 1.3 1 .5 2 1.5 2 1.1-38.1-6.7z" fill="#8a8a8a"/>
<path fill="none" stroke="#222" stroke-width="0.75" d="M434.1 681.3l37.1 6.5 2-.6 1-.8 1-.5 1-.7 1-1.7 2.1-1.4 1-1.5 1 1.2 1-1.6 1 2.1 1 .4 1 1 1-.1 1-.2 1 .6 1-.5 2 1.8 1 .6 1 .7 1 .1 1-.7 1 .5 1-.1 1 1 1 1.2 1 .9 2 1.1 2 1.5 1 .5 1 .7 1 .5 1 .6 45.2 7.9 2-.7 2-1.1 1-.7 2-2.5 1-.4 1-1.3 1-.5 1 0 1 1.8 1 .2 1 1.7 1 .3 1 .3 2-.8 1 1.4 1 .2 1-.2 1 .3 1-1.6 1 .3 1-1.7 1 .5 1 1.4 1 1.6 1.1.2 1 1.6 1 1.1 1 .9 1 1.3 1 .5 2 1.5 2 1.1 63.2 11.1"/>
<path d="M460.7 692.7l1-.1 1-.2 2-1.2 1-.9 1-.6 1-1.5 1-.6 1-1.8 1-.4 1-.1 2 1.7 1 .1 1 .8 1 1.1 1-.4 1-.3 1 .1 1 1.7 2 1.6 2 2 1 .5 2 1.8 2.1 1.3 2 .9-31.1-5.5z" fill="#8a8a8a"/>
<path d="M566 711.3l3-.5 1-.4 4-2.3 1-.7 1 .4 2-.2 1 1.7 1-.2 1-.4 1 0 1-.5 1 1.1 1-.5 1 .5 3.1-.9 1-1 1-.5 1 1.6 1 0 2 1.8 1 1.9 1 .6 1 1 2 1.8 2 1.3 2 1.1-38.1-6.7z" fill="#8a8a8a"/>
<path fill="none" stroke="#222" stroke-width="0.75" d="M431.6 687.6l29.1 5.1 1-.1 1-.2 2-1.2 1-.9 1-.6 1-1.5 1-.6 1-1.8 1-.4 1-.1 2 1.7 1 .1 1 .8 1 1.1 1-.4 1-.3 1 .1 1 1.7 2 1.6 2 2 1 .5 2 1.8 2.1 1.3 2 .9 74.2 13.1 3-.5 1-.4 4-2.3 1-.7 1 .4 2-.2 1 1.7 1-.2 1-.4 1 0 1-.5 1 1.1 1-.5 1 .5 3.1-.9 1-1 1-.5 1 1.6 1 0 2 1.8 1 1.9 1 .6 1 1 2 1.8 2 1.3 2 1.1 48.1 8.4"/>
<path d="M451.1 697.8l2-.5 4-2.4 1-2 1 .3 1-1.7 1 1.2 1-.8 1 .3 1 .8 1.1.3 1 0 1-.5 1-1.5 1 .5 2 1.8 1 1.6 1 .5 1 1.1 1 1.6 2 1.6 1 1.1 1 .6 2 1.4-30.1-5.3z" fill="#8a8a8a"/>
<path d="M571.5 719l2-.7 1-.5 2-1.4 1-.9 1-1.2 1-.3 1-.6 1 .4 1-.2 1 1.5 1-.5 1 1.6 1-1.2 1-.1 1-1.4 1 .7 1 1.4 1 .3 1-.3 1 .5 1.1-.7 1 .8 1 .2 1-.3 1 .3 1 2.1 1 .7 1 1.3 1 .5 1 1.2 2 1.7 3 1.7-37.1-6.6z" fill="#8a8a8a"/>
<path fill="none" stroke="#222" stroke-width="0.75" d="M429 693.9l22.1 3.9 2-.5 4-2.4 1-2 1 .3 1-1.7 1 1.2 1-.8 1 .3 1 .8 1.1.3 1 0 1-.5 1-1.5 1 .5 2 1.8 1 1.6 1 .5 1 1.1 1 1.6 2 1.6 1 1.1 1 .6 2 1.4 90.3 15.9 2-.7 1-.5 2-1.4 1-.9 1-1.2 1-.3 1-.6 1 .4 1-.2 1 1.5 1-.5 1 1.6 1-1.2 1-.1 1-1.4 1 .7 1 1.4 1 .3 1-.3 1 .5 1.1-.7 1 .8 1 .2 1-.3 1 .3 1 2.1 1 .7 1 1.3 1 .5 1 1.2 2 1.7 3 1.7 41.1 7.2"/>
<path d="M440.5 702.7l2.1-.3 1-.3 1-.8 1-.9 1-1.2 1-.7 1-1 1-.5 1-2.2 1 1.5 1 .6 1 .4 1 1.7 1-.3 1 .9 1 .1 1 .7 2 .5 1 .8 1 .3 2 2.6 1 .4 1 .7 1 .5 1 .7 1 .5 1 .6-30.1-5.3z" fill="#8a8a8a"/>
<path d="M576 726.6l2-.3 1-.4 2-1.2 1-.3 1-.3 1-1.2 1-.1 1-.6 1 .4 1-.8 1 1.8 1-1 1-1.3 1 .2 1-.2 1-1.1 1 2.7 2 1.6 1 .5 1 1 1.1 1.3 1 .5 1 1.3 2 1.6 1 .5 1 .7-30.1-5.3z" fill="#8a8a8a"/>
<path fill="none" stroke="#222" stroke-width="0.75" d="M426.5 700.2l14 2.5 2.1-.3 1-.3 1-.8 1-.9 1-1.2 1-.7 1-1 1-.5 1-2.2 1 1.5 1 .6 1 .4 1 1.7 1-.3 1 .9 1 .1 1 .7 2 .5 1 .8 1 .3 2 2.6 1 .4 1 .7 1 .5 1 .7 1 .5 1 .6 105.4 18.6 2-.3 1-.4 2-1.2 1-.3 1-.3 1-1.2 1-.1 1-.6 1 .4 1-.8 1 1.8 1-1 1-1.3 1 .2 1-.2 1-1.1 1 2.7 2 1.6 1 .5 1 1 1.1 1.3 1 .5 1 1.3 2 1.6 1 .5 1 .7 41.1 7.3"/>
<path d="M438 709l2-.3 2-1 1-1.1 1 0 2-2.8 1-.2 1-1.8 1 .2 1 1.2 1 .5 1.1 1.8 2 1.8 1 1.3 1 .4 1 1.2 1 .7 1 .9 2 1.3-23.1-4.1z" fill="#8a8a8a"/>
<path d="M491.2 718.4l3-.5 1-.4 1-.2 2-2 1-.7 1 .5 1-.6 1 .2 2 2.3 1 0 1 1.1 1 .7 1 .5 1 .8 4.1 2.2-22.1-3.9z" fill="#8a8a8a"/>
<path d="M580.5 734.2l2-.2 2-.8 1-.6 2-1.6 2-1 1-1 1 1.3 1-.6 1 .6 2 .5 2-1.4 1 .8 1-.1 1 .7 1 1.6 1 .9 1 .3 2.1 2.4 1 .6 1 .8 2 1.3 1 .8-30.1-5.3z" fill="#8a8a8a"/>
<path fill="none" stroke="#222" stroke-width="0.75" d="M424 706.6l14 2.4 1-.1 1-.2 2-1 1-1.1 1 0 2-2.8 1-.2 1-1.8 1 .2 1 1.2 1 .5 1.1 1.8 2 1.8 1 1.3 1 .4 1 1.2 1 .7 1 .9 2 1.3 30.1 5.3 3-.5 1-.4 1-.2 2-2 1-.7 1 .5 1-.6 1 .2 2 2.3 1 0 1 1.1 1 .7 1 .5 1 .8 4.1 2.2 67.2 11.9 2-.2 2-.8 1-.6 2-1.6 2-1 1-1 1 1.3 1-.6 1 .6 2 .5 2-1.4 1 .8 1-.1 1 .7 1 1.6 1 .9 1 .3 2.1 2.4 1 .6 1 .8 2 1.3 1 .8 34.1 6.1"/>
<path d="M428.4 714.1l2.1-.4 1-.6 1-.3 1-1.1 1-.8 1-1.2 1-.5 1-1.2 1 .2 1-.3 1 1.8 1-.5 1 .2 1 .7 1-1.6 1 .6 1-1.1 1 1.2 1 .6 1 1.3 1 1.7 1 .3 1 1.2 1 1.4 1 .7 2 1.7 1 .6 2 .9-31.1-5.5z" fill="#8a8a8a"/>
<path d="M480.6 723.4l1-.2 1-.3 1-.7 1-.4 1-1.2 1-.8 1-.5 2-2.5 2.1-.5 1 1.3 1 .9 1 .1 1 1.1 1 .7 1-.2 1-.5 1 1.3 1 .8 1-.2 1-.1 1 .1 1 .6 1 .2 1-1 1 1.1 1 .6 1 1 1 .5 1 1.1 3 2.4 4 2-38.1-6.7z" fill="#8a8a8a"/>
<path d="M533.8 732.8l3-1.1 1-.6 2-1.4 1-1.2 1 .4 1-1.4 1 .5 1 .4 1 .7 1 .2 1 .9 1-.3 1.1-.6 3 1.1 2 1.9 1 .7 1 1 1 .5 1 1 1 .7 1 .4 1 .6 2 .9-30.1-5.3z" fill="#8a8a8a"/>
<path d="M586 742l2-.4 1-.4 1-.5 2-.9 1-1.2 1-.1 1-.9 2 .7 1 .1 1 .7 1 1.4 1 .8 1 .7 2 1.7 1 .5 1 .7 1 .4 1 .6-22-3.9z" fill="#8a8a8a"/>
<path fill="none" stroke="#222" stroke-width="0.75" d="M421.4 712.9l7 1.2 1-.2 1.1-.2 1-.6 1-.3 1-1.1 1-.8 1-1.2 1-.5 1-1.2 1 .2 1-.3 1 1.8 1-.5 1 .2 1 .7 1-1.6 1 .6 1-1.1 1 1.2 1 .6 1 1.3 1 1.7 1 .3 1 1.2 1 1.4 1 .7 2 1.7 1 .6 2 .9 21.1 3.8 1-.2 1-.3 1-.7 1-.4 1-1.2 1-.8 1-.5 2-2.5 2.1-.5 1 1.3 1 .9 1 .1 1 1.1 1 .7 1-.2 1-.5 1 1.3 1 .8 1-.2 1-.1 1 .1 1 .6 1 .2 1-1 1 1.1 1 .6 1 1 1 .5 1 1.1 3 2.4 4 2 15.1 2.7 3-1.1 1-.6 2-1.4 1-1.2 1 .4 1-1.4 1 .5 1 .4 1 .7 1 .2 1 .9 1-.3 1.1-.6 3 1.1 2 1.9 1 .7 1 1 1 .5 1 1 1 .7 1 .4 1 .6 2 .9 22.1 3.9 2-.4 1-.4 1-.5 2-.9 1-1.2 1-.1 1-.9 2 .7 1 .1 1 .7 1 1.4 1 .8 1 .7 2 1.7 1 .5 1 .7 1 .4 1 .6 34.2 6.1"/>
<path d="M425.9 720.4l2-.5 1-.4 2-1.5 1-1.3 1-.8 1-.4 2-1.2 1 .3 1 .9 1 .3 1.1 1.7 2 1.8 1 1.3 1 .5 3 2.4 2 1-23.1-4.1z" fill="#8a8a8a"/>
<path d="M478.1 729.7l2-.4 1-.4 2-1.4 1-1.2 1-.9 1-.7 1-.5 1-.8 1-.6 1 1.2 1 .3 1 1 1 .1 1-.2 1 .2 1-1.3 1 .5 1.1.8 1 .3 1 1 1-1.5 1 .9 1-1.2 1 1.1 1 .3 1 .4 1 2.3 1 .5 3 3.2 2 1.7 1 .8 2 1.2-38.1-6.7z" fill="#8a8a8a"/>
<path d="M531.3 739.1l1-.4 1-.2 2-1.2 2-1.7 1-1.3 1-.1 1-.6 1-.9 1 1.1 1 .8 1 1.6 1 .5 1 .1 2-.1 1-.4 1 1.8 2 1 1 .8 1 .6 1 .9 1.1.7 1 .4 3 1.8-29.1-5.2z" fill="#8a8a8a"/>
<path d="M583.4 748.4l2.1-.8 1-.8 1-.4 1-1.6 1-.4 1-1.2 1-1.7 1 1 1-.6 1 0 1 .4 1 .6 1 1 1 1.5 1-.2 1 .7 1-.3 1 1.2 1 .3 1 1.3 1 .4 1 1.1 1 .5 1 .9 1 .4 1 .6 3.1 1.4-30.2-5.3z" fill="#8a8a8a"/>
<path fill="none" stroke="#222" stroke-width="0.75" d="M418.9 719.2l7 1.2 1-.2 1-.3 1-.4 2-1.5 1-1.3 1-.8 1-.4 2-1.2 1 .3 1 .9 1 .3 1.1 1.7 2 1.8 1 1.3 1 .5 3 2.4 2 1 29.1 5.2 2-.4 1-.4 2-1.4 1-1.2 1-.9 1-.7 1-.5 1-.8 1-.6 1 1.2 1 .3 1 1 1 .1 1-.2 1 .2 1-1.3 1 .5 1.1.8 1 .3 1 1 1-1.5 1 .9 1-1.2 1 1.1 1 .3 1 .4 1 2.3 1 .5 3 3.2 2 1.7 1 .8 2 1.2 15.1 2.7 1-.4 1-.2 2-1.2 2-1.7 1-1.3 1-.1 1-.6 1-.9 1 1.1 1 .8 1 1.6 1 .5 1 .1 2-.1 1-.4 1 1.8 2 1 1 .8 1 .6 1 .9 1.1.7 1 .4 3 1.8 23 4.1 2.1-.8 1-.8 1-.4 1-1.6 1-.4 1-1.2 1-1.7 1 1 1-.6 1 0 1 .4 1 .6 1 1 1 1.5 1-.2 1 .7 1-.3 1 1.2 1 .3 1 1.3 1 .4 1 1.1 1 .5 1 .9 1 .4 1 .6 3.1 1.4 26 4.6"/>
<path d="M423.4 726.7l2-.5 1-.5 1-1.1 1-.3 1-1.3 1-.6 1-1.7 2-2.2 1 1 1 1.4 1 .5 3 3.9 1 .6 1 1.4 1 1 2 1.4 2 1.1-23-4.1z" fill="#8a8a8a"/>
<path d="M475.5 736l2.1-.3 1-.4 1-.6 1-.9 1-.5 1-1 1-1.2 1-.3 1-.6 1 .1 2 1.1 1 .1 1 1.4 1 .5 1-1.1 1 .2 1 .7 1 1.3 1-.3 1 .5 1-.1 1-1.3 1 .2 1-.4 1 1.1 1 1.6 1.1.1 1 1.6 2 1.4 2 1.6 2 1.2 2 1.1-38.2-6.8z" fill="#8a8a8a"/>
<path d="M527.7 745.3l1-.1 1-.3 1-.3 1-.5 1.1-1.3 2-1.4 1-1.4 1-.7 1-1.2 1 1.3 1-.4 1 1.6 1-.1 1 1.4 1 0 1-.4 1 1 1-.1 2 2 1 .4 1 1.2 1 .3 1 1.1 1 .5 2 1.5 1 .5 2 .9-31.1-5.5z" fill="#8a8a8a"/>
<path d="M587.9 756l2.1-.2 2-.7 1-.7 1-.8 2-1 1-1.7 1 .7 1 .2 1 .3 1 1.2 1 .9 1 .7 1 .4 1 1.1 1 .7 1 1 4 2-23.1-4.1z" fill="#8a8a8a"/>
<path fill="none" stroke="#222" stroke-width="0.75" d="M416.3 725.5l7.1 1.2 2-.5 1-.5 1-1.1 1-.3 1-1.3 1-.6 1-1.7 2-2.2 1 1 1 1.4 1 .5 3 3.9 1 .6 1 1.4 1 1 2 1.4 2 1.1 29.1 5.2 2.1-.3 1-.4 1-.6 1-.9 1-.5 1-1 1-1.2 1-.3 1-.6 1 .1 2 1.1 1 .1 1 1.4 1 .5 1-1.1 1 .2 1 .7 1 1.3 1-.3 1 .5 1-.1 1-1.3 1 .2 1-.4 1 1.1 1 1.6 1.1.1 1 1.6 2 1.4 2 1.6 2 1.2 2 1.1 14 2.5 1-.1 1-.3 1-.3 1-.5 1.1-1.3 2-1.4 1-1.4 1-.7 1-1.2 1 1.3 1-.4 1 1.6 1-.1 1 1.4 1 0 1-.4 1 1 1-.1 2 2 1 .4 1 1.2 1 .3 1 1.1 1 .5 2 1.5 1 .5 2 .9 29.1 5.2 2.1-.2 2-.7 1-.7 1-.8 2-1 1-1.7 1 .7 1 .2 1 .3 1 1.2 1 .9 1 .7 1 .4 1 1.1 1 .7 1 1 4 2 26.1 4.6"/>
<path d="M420.8 733.1l2-.7 2-1.2 3.1-2.8 2-2.1 1 .9 1-1.1 2 2.7 1 .7 1 1.3 1 .5 1 1.6 1 .7 2 1.8 1 .7 2 1.1-23.1-4.1z" fill="#8a8a8a"/>
<path d="M481 743.8l2.1-.3 2-1.1 1-.2 1-.4 2-1.6 1 0 1-.4 1 .7 1-.4 1 1.7 1 .8 1 .3 1 1.1 1 .8 3 1.8 2 1.1-22.1-3.9z" fill="#8a8a8a"/>
<path d="M525.2 751.6l2-.3 1-.5 2-1.3 1-1.3 1-.4 2-3 1 .2 1-.4 1 .5 1.1.9 1 1.4 4-2.2 1 .3 1 1.6 1 1 1 .5 2 2.9 1 1.1 1 .8 2 1.9 3 1.9-31.1-5.6z" fill="#8a8a8a"/>
<path d="M586.4 762.5l1-.4 1-.2 2-1 3.1-2.4 1-.6 1 .3 1 .9 1-.4 2 1.6 1 1.1 1 .3 1 1.4 1 .4 2 1.4 3 1.6-22.1-4z" fill="#8a8a8a"/>
<path fill="none" stroke="#222" stroke-width="0.75" d="M413.8 731.8l7 1.3 1-.3 1-.4 2-1.2 3.1-2.8 2-2.1 1 .9 1-1.1 2 2.7 1 .7 1 1.3 1 .5 1 1.6 1 .7 2 1.8 1 .7 2 1.1 37.1 6.6 2.1-.3 2-1.1 1-.2 1-.4 2-1.6 1 0 1-.4 1 .7 1-.4 1 1.7 1 .8 1 .3 1 1.1 1 .8 3 1.8 2 1.1 22.1 3.9 2-.3 1-.5 2-1.3 1-1.3 1-.4 2-3 1 .2 1-.4 1 .5 1.1.9 1 1.4 4-2.2 1 .3 1 1.6 1 1 1 .5 2 2.9 1 1.1 1 .8 2 1.9 3 1.9 30.1 5.3 1-.4 1-.2 2-1 3.1-2.4 1-.6 1 .3 1 .9 1-.4 2 1.6 1 1.1 1 .3 1 1.4 1 .4 2 1.4 3 1.6 26.1 4.6"/>
<path d="M411.3 738.1l2-.5 2-1 1-.4 1-1.1 1-1 1 .2 2-1.7 1 1.2 1 .2 1 .5 1 0 1-.4 1-.1 1-.6 2 1.2 1 1.6 1 .2 1 1.4 1 1.1 1 .5 1.1.8 1 .9 2 1.4 2 1-30.1-5.4z" fill="#8a8a8a"/>
<path d="M582.9 768.7l1-.1 1-.3 1-.4 1-.7 2-1.5 1-1.1 1-1.3 1-.7 1-.1 1-1 1 1.8 1 .7 1 1.6 1.1.4 1 .9 1 1.3 1 1.1 2 1.7 3 1.8-23.1-4.1z" fill="#8a8a8a"/>
<path fill="none" stroke="#222" stroke-width="0.75" d="M411.3 738.1l2-.5 2-1 1-.4 1-1.1 1-1 1 .2 2-1.7 1 1.2 1 .2 1 .5 1 0 1-.4 1-.1 1-.6 2 1.2 1 1.6 1 .2 1 1.4 1 1.1 1 .5 1.1.8 1 .9 2 1.4 2 1 141.5 25.2 1-.1 1-.3 1-.4 1-.7 2-1.5 1-1.1 1-1.3 1-.7 1-.1 1-1 1 1.8 1 .7 1 1.6 1.1.4 1 .9 1 1.3 1 1.1 2 1.7 3 1.8 26.1 4.7"/>
<path d="M408.7 744.1l1-.1 1-.4 2-1.4 3-3.6 2.1-.2 1 .5 1-.6 1 1.4 1 .1 1 1.8 1-.5 2 1.4 1-.2 1 .6 2 1.6 1 .7 2 1.5 2 1.3 1 .4 2 1.2-29.1-5.2z" fill="#8a8a8a"/>
<path d="M580.4 775.1l2-.4 3-1.7 1-.9 1-1 1-.8 1-1.2 2 .4 1-.2 1 .6 1 1.3 1 1.7 1 .7 1 1.2 1 .6 1 1.1 1 .8 3.1 1.9-23.1-4.1z" fill="#8a8a8a"/>
<path fill="none" stroke="#222" stroke-width="0.75" d="M408.7 744.1l1-.1 1-.4 2-1.4 3-3.6 2.1-.2 1 .5 1-.6 1 1.4 1 .1 1 1.8 1-.5 2 1.4 1-.2 1 .6 2 1.6 1 .7 2 1.5 2 1.3 1 .4 2 1.2 142.6 25.5 2-.4 3-1.7 1-.9 1-1 1-.8 1-1.2 2 .4 1-.2 1 .6 1 1.3 1 1.7 1 .7 1 1.2 1 .6 1 1.1 1 .8 3.1 1.9 26.1 4.7"/>
<path d="M413.2 752l2-.2 1-.3 1-.4 1-.6 1-.4 2-1.4 1-.1 1-.5 1.1.1 1 1 1 .9 1 .7 1 .4 1 1 2 1.5 2 1.1 1 .4 1 .7-22.1-3.9z" fill="#8a8a8a"/>
<path d="M443.3 757.4l3-.6 1-.6 2-.9 1.1-.7 1-.5 1-.9 1 .4 1 .4 2 1.1 1 1.4 3 1.8 3 2 2 1-22.1-3.9z" fill="#8a8a8a"/>
<path d="M540.7 774.8l2-.6 1-.5 1-.7 1-1.1 3-2.7 1-.2 1-.6 1 .9 1.1-.4 1 1.6 4 4.5 3 2.2 3 1.7-23.1-4.1z" fill="#8a8a8a"/>
<path d="M577.8 781.4l2.1-.2 2-1 1-.8 1-.5 1-.8 1-1.1 1-.2 1 0 1-.7 1 .6 1 1.6 1 .2 1 1.5 1 .6 1 1.2 1 .6 1 .9 1 .6 3 1.7-23.1-4.2z" fill="#8a8a8a"/>
<path fill="none" stroke="#222" stroke-width="0.75" d="M406.2 750.7l7 1.3 2-.2 2-.7 1-.6 1-.4 2-1.4 1-.1 1-.5 1.1.1 1 1 1 .9 1 .7 1 .4 1 1 2 1.5 2 1.1 1 .4 1 .7 8 1.5 1-.2 2-.4 1-.6 2-.9 1.1-.7 1-.5 1-.9 1 .4 1 .4 2 1.1 1 1.4 3 1.8 3 2 2 1 75.3 13.5 2-.6 1-.5 1-.7 1-1.1 3-2.7 1-.2 1-.6 1 .9 1.1-.4 1 1.6 4 4.5 3 2.2 3 1.7 14 2.5 2.1-.2 2-1 1-.8 1-.5 1-.8 1-1.1 1-.2 1 0 1-.7 1 .6 1 1.6 1 .2 1 1.5 1 .6 1 1.2 1 .6 1 .9 1 .6 3 1.7 26.1 4.6"/>
<path d="M410.7 758.3l2-.3 2-.6 2-1.3 1-.4 1-.7 1-1.4 1 .7 2 .9 1 1.4 2 .8 1 .8 1 .7 1 .9 3.1 1.7 2 .9-23.1-4.1z" fill="#8a8a8a"/>
<path d="M447.8 765l2-.2 1-.5 1-.2 2-1.2 1-1.1 1-.5 1.1-1.1 1 .4 1-.5 1 1.4 1-.3 1 1.4 1 .7 1 1.3 1 .4 1 1.1 1 .7 1 .5 1 .7 2 1.1-23.1-4.1z" fill="#8a8a8a"/>
<path d="M530.1 779.7l2.1-.3 1-.4 1-.9 1-1.2 1-.5 1-1 2-3 1 .4 1-.2 1 1.4 1-.5 1 .2 1 .9 1 .6 1-.5 1-.3 1-.4 1 1.3 1 .9 1 1.8 1 .6 1 1.2 2 2 1.1.9 2 1.5 2 1.1-31.2-5.6z" fill="#8a8a8a"/>
<path d="M575.3 787.8l2-.2 2-.5 1-.8 2.1-1.1 1-.8 1-.5 1-.8 1 1.2 1-.2 1 1.8 1 .1 1 .7 1 1 1 .9 4 2.4 2 .9-23.1-4.1z" fill="#8a8a8a"/>
<path fill="none" stroke="#222" stroke-width="0.75" d="M403.6 757l7.1 1.3 2-.3 2-.6 2-1.3 1-.4 1-.7 1-1.4 1 .7 2 .9 1 1.4 2 .8 1 .8 1 .7 1 .9 3.1 1.7 2 .9 14 2.6 2-.2 1-.5 1-.2 2-1.2 1-1.1 1-.5 1.1-1.1 1 .4 1-.5 1 1.4 1-.3 1 1.4 1 .7 1 1.3 1 .4 1 1.1 1 .7 1 .5 1 .7 2 1.1 59.2 10.6 2.1-.3 1-.4 1-.9 1-1.2 1-.5 1-1 2-3 1 .4 1-.2 1 1.4 1-.5 1 .2 1 .9 1 .6 1-.5 1-.3 1-.4 1 1.3 1 .9 1 1.8 1 .6 1 1.2 2 2 1.1.9 2 1.5 2 1.1 14 2.5 1-.1 1-.1 2-.5 1-.8 2.1-1.1 1-.8 1-.5 1-.8 1 1.2 1-.2 1 1.8 1 .1 1 .7 1 1 1 .9 4 2.4 2 .9 26.1 4.7"/>
<path d="M408.1 764.6l2-.5 2-1.2 1-1.1 1.1-.5 2-2.9 2-1.5 1 1 1 1.6 1 .6 1 .2 1 1.5 1 2 1 .3 1 1.3 3 2.2 2 1.2-23.1-4.2z" fill="#8a8a8a"/>
<path d="M453.3 772.7l2-.6 2-1.1 1-.8 1-1 1-.9 2-1.3 1.1-.3 1 .4 1 1.4 1 .7 1 .4 1 1.4 3 2.8 2 1.5 3 1.6-23.1-4.2z" fill="#8a8a8a"/>
<path d="M520.6 784.8l2-.6 1-.5 1-.8 2-2.4 1-.3 1-1.5 1-1.2 1 .6 1 .4 1 0 1 1.2 1 .1 2.1.8 1 0 1-.6 1 .6 2 2.6 1 .5 1 1.7 4 2.8 3 2-30.1-5.4z" fill="#8a8a8a"/>
<path d="M564.8 792.7l2-.2 1-.4 1-.9 1-.6 2-1.8 2-3.2 1-.2 1 0 1 .4 1 1.2 1 .5 1 1 1 .4 1-1 1 .1 1-.3 1 1.3 1.1.4 1 2 1 .2 1 1.3 1 .8 1 1.1 1 .7 1 1 1 .7 1 .5 1 .6-31.1-5.6z" fill="#8a8a8a"/>
<path fill="none" stroke="#222" stroke-width="0.75" d="M401.1 763.4l7 1.2 2-.5 2-1.2 1-1.1 1.1-.5 2-2.9 2-1.5 1 1 1 1.6 1 .6 1 .2 1 1.5 1 2 1 .3 1 1.3 3 2.2 2 1.2 22.1 3.9 2-.6 2-1.1 1-.8 1-1 1-.9 2-1.3 1.1-.3 1 .4 1 1.4 1 .7 1 .4 1 1.4 3 2.8 2 1.5 3 1.6 44.2 7.9 2-.6 1-.5 1-.8 2-2.4 1-.3 1-1.5 1-1.2 1 .6 1 .4 1 0 1 1.2 1 .1 2.1.8 1 0 1-.6 1 .6 2 2.6 1 .5 1 1.7 4 2.8 3 2 14.1 2.5 2-.2 1-.4 1-.9 1-.6 2-1.8 2-3.2 1-.2 1 0 1 .4 1 1.2 1 .5 1 1 1 .4 1-1 1 .1 1-.3 1 1.3 1.1.4 1 2 1 .2 1 1.3 1 .8 1 1.1 1 .7 1 1 1 .7 1 .5 1 .6 26.1 4.7"/>
<path d="M405.6 770.9l2-.4 3-1.6 1-.7 1-.9 1-1.3 1-.9 1-.3 1 .1 1 .6 2 2.1 2.1-.1 1-1.1 1 .4 1 1.3 2 1 1 1.3 1 .7 1 1.1 1 .8 2 1.6 3 1.7-30.1-5.4z" fill="#8a8a8a"/>
<path d="M457.8 780.3l2-.3 1-.5 1-.7 1-.4 1-1.5 1-.3 1-2.5 1-.4 1-.2 1.1.8 1 .2 1 .8 1 1 1 .3 1-.7 1 .1 1-.8 1 .9 1 1.3 1 .7 2 2.5 1 .5 1 1.2 1 .5 2 1.7 3 1.4-31.1-5.6z" fill="#8a8a8a"/>
<path d="M503 788.4l2-.5 1-.5 2-2.2 1-.7 1-.3 1-1.1 1-1.7 1 .4 1 0 1 .4 1 1.2 1.1 0 1 1.5 1-.7 1 .4 1-.4 1 1.4 1 .3 1 .4 1 1.6 1 .6 1 1.1 2 1.7 2 1.4 1 .5 1 .7-30.1-5.5z" fill="#8a8a8a"/>
<path d="M563.2 799.3l3.1-.7 1-.3 1-.6 1-1.2 1-.2 2-1.3 1-.2 1 1.1 1 .3 2 1.8 1 1.1 1 .2 2 1.6 1 .4 1 .9 1 .4 1 .6-22.1-3.9z" fill="#8a8a8a"/>
<path fill="none" stroke="#222" stroke-width="0.75" d="M398.6 769.7l7 1.2 2-.4 3-1.6 1-.7 1-.9 1-1.3 1-.9 1-.3 1 .1 1 .6 2 2.1 2.1-.1 1-1.1 1 .4 1 1.3 2 1 1 1.3 1 .7 1 1.1 1 .8 2 1.6 3 1.7 22.1 4 2-.3 1-.5 1-.7 1-.4 1-1.5 1-.3 1-2.5 1-.4 1-.2 1.1.8 1 .2 1 .8 1 1 1 .3 1-.7 1 .1 1-.8 1 .9 1 1.3 1 .7 2 2.5 1 .5 1 1.2 1 .5 2 1.7 3 1.4 14.1 2.5 2-.5 1-.5 2-2.2 1-.7 1-.3 1-1.1 1-1.7 1 .4 1 0 1 .4 1 1.2 1.1 0 1 1.5 1-.7 1 .4 1-.4 1 1.4 1 .3 1 .4 1 1.6 1 .6 1 1.1 2 1.7 2 1.4 1 .5 1 .7 30.1 5.4 3.1-.7 1-.3 1-.6 1-1.2 1-.2 2-1.3 1-.2 1 1.1 1 .3 2 1.8 1 1.1 1 .2 2 1.6 1 .4 1 .9 1 .4 1 .6 34.2 6.2"/>
<path d="M410.1 778.5l1-.1 2-.7 3-2.4 1-1.2 1-1 1-1.6 1 .6 1 0 1-.6 1 1.3 1 1.8 1 .5 1 1.8 1.1.7 1 1.3 1 .6 1 1 3 2.2-23.1-4.2z" fill="#8a8a8a"/>
<path d="M477.4 790.6l2-.1 1-.4 1-.9 1-.4 1-.8 1-1 1-1.6 1-1.2 1-.5 1 .5 2 .8 1 1.3 1 .4 1 1 1-.9 2 .7 1.1.7 1 1.1 1-1.1 1 .4 1-.8 2-.9 1 1.1 1 0 2 3 1 1 1 .3 1 1.7 2 1.6 2 1.2 2 .9-39.1-7.1z" fill="#8a8a8a"/>
<path d="M553.7 804.4l3-1 2-1 1-.7 1-.5 2-.9 1-.2 1 1.2 2 0 1.1.4 1-.8 1-.2 1 .7 1 .2 1 .1 3 3 1 1.3 1 .4 1 .9 3 1.6 1 .7-29.1-5.2z" fill="#8a8a8a"/>
<path fill="none" stroke="#222" stroke-width="0.75" d="M396 776l14.1 2.5 1-.1 2-.7 3-2.4 1-1.2 1-1 1-1.6 1 .6 1 0 1-.6 1 1.3 1 1.8 1 .5 1 1.8 1.1.7 1 1.3 1 .6 1 1 3 2.2 44.2 7.9 2-.1 1-.4 1-.9 1-.4 1-.8 1-1 1-1.6 1-1.2 1-.5 1 .5 2 .8 1 1.3 1 .4 1 1 1-.9 2 .7 1.1.7 1 1.1 1-1.1 1 .4 1-.8 2-.9 1 1.1 1 0 2 3 1 1 1 .3 1 1.7 2 1.6 2 1.2 2 .9 37.2 6.7 3-1 2-1 1-.7 1-.5 2-.9 1-.2 1 1.2 2 0 1.1.4 1-.8 1-.2 1 .7 1 .2 1 .1 3 3 1 1.3 1 .4 1 .9 3 1.6 1 .7 34.2 6.2"/>
<path d="M408.5 785l1-.3 1.1-.1 1-.3 2-1 2-1.2 1-.9 1 .1 1-.4 1 1.1 1-.4 2 0 1-.6 2-1.6 1 1.5 1-.3 1 1 1 1.8 2 1.6 1.1 1.4 1 .7 1 .9 2 1.4 2 1-30.2-5.4z" fill="#8a8a8a"/>
<path d="M550.2 810.5l1-.1 2-.7 1-1.1 1-.5 1-.8 1-.4 1-.8 1-2.1 1-.6 1 .3 1 1.1 1 .4 1 1 1 1.4 2 2 1 1.5 1 .6 1 1 3.1 2-23.1-4.2z" fill="#8a8a8a"/>
<path fill="none" stroke="#222" stroke-width="0.75" d="M393.5 782.3l15 2.7 1-.3 1.1-.1 1-.3 2-1 2-1.2 1-.9 1 .1 1-.4 1 1.1 1-.4 2 0 1-.6 2-1.6 1 1.5 1-.3 1 1 1 1.8 2 1.6 1.1 1.4 1 .7 1 .9 2 1.4 2 1 111.5 20.1 1-.1 2-.7 1-1.1 1-.5 1-.8 1-.4 1-.8 1-2.1 1-.6 1 .3 1 1.1 1 .4 1 1 1 1.4 2 2 1 1.5 1 .6 1 1 3.1 2 41.1 7.4"/>
<path d="M413 792.6l2-.4 2.1-1.1 1-.8 1-.2 2-2.1 1-1.2 1 .3 1 .6 1 .3 1 .5 1-.1 1-.1 1-.6 1 .3 1 1.4 1-.8 1 .9 1 1.5 3 2.7 1 .7 1.1 1.2 2 1.2 2 1.2-30.2-5.4z" fill="#8a8a8a"/>
<path d="M540.6 815.6l2-.7 1-.6 1-.7 1-.5 1-1.3 1-2.1 1-.2 2-1.4 1.1.7 1 .5 1 1.4 1-.6 1 1.7 1-1.2 1-.3 1 .3 1 .8 1 1.1 2 1.8 1 .8 2 2.3 1 .9 1 1.1 2 1 1 .7-30.1-5.5z" fill="#8a8a8a"/>
<path fill="none" stroke="#222" stroke-width="0.75" d="M390.9 788.6l22.1 4 2-.4 2.1-1.1 1-.8 1-.2 2-2.1 1-1.2 1 .3 1 .6 1 .3 1 .5 1-.1 1-.1 1-.6 1 .3 1 1.4 1-.8 1 .9 1 1.5 3 2.7 1 .7 1.1 1.2 2 1.2 2 1.2 97.4 17.6 2-.7 1-.6 1-.7 1-.5 1-1.3 1-2.1 1-.2 2-1.4 1.1.7 1 .5 1 1.4 1-.6 1 1.7 1-1.2 1-.3 1 .3 1 .8 1 1.1 2 1.8 1 .8 2 2.3 1 .9 1 1.1 2 1 1 .7 41.2 7.4"/>
<path d="M418.5 800.4l1-.3 1-.1 2.1-.8 1-.6 1-.2 1-1 1-.2 1 .1 1-.8 1 .9 1 .4 1 .1 2-.9 1-1.1 1 .1 1 1.1 1 .4 1 1.5 2 1.3 2 1.7 1 1 2.1 1.3 3 1.5-30.2-5.4z" fill="#8a8a8a"/>
<path d="M523 819.3l3-1.1 1-.7 1-1 1-.4 1-1.8 2-2.2 1.1.4 1 .8 1-.3 1 1.9 1 0 2 1.3 1-.9 1 0 1 .4 1 .8 1 1.4 1-.4 1 .3 1-.2 1-.6 1 1.3 1-.2 1 1.1 1 1.5 1 .5 2.1 1.6 4 2.5 2 .9-38.2-6.9z" fill="#8a8a8a"/>
<path fill="none" stroke="#222" stroke-width="0.75" d="M388.4 794.9l30.1 5.5 1-.3 1-.1 2.1-.8 1-.6 1-.2 1-1 1-.2 1 .1 1-.8 1 .9 1 .4 1 .1 2-.9 1-1.1 1 .1 1 1.1 1 .4 1 1.5 2 1.3 2 1.7 1 1 2.1 1.3 3 1.5 74.3 13.5 3-1.1 1-.7 1-1 1-.4 1-1.8 2-2.2 1.1.4 1 .8 1-.3 1 1.9 1 0 2 1.3 1-.9 1 0 1 .4 1 .8 1 1.4 1-.4 1 .3 1-.2 1-.6 1 1.3 1-.2 1 1.1 1 1.5 1 .5 2.1 1.6 4 2.5 2 .9 48.2 8.7"/>
<path d="M423 807.9l2-.5 1-.5 1.1-.8 1-.6 1-1.1 1-.8 1-1 2-1.8 1 1.5 1 1 1 .3 1 0 1 1 1 0 1-.3 1 .2 1 .5 1 1.3 2 .1 1 .7 1 .2 1-.5 1.1.6 3 2.2 1 .5 1 1.1 1 .5 1 .8 4 2.2-37.2-6.8z" fill="#8a8a8a"/>
<path d="M512.4 824.2l2.1-.2 2-.7 1-.5 1-1.4 1-.5 1-.9 1 0 1-.7 1-.4 1 .2 1 1.6 1 .5 2 0 1-1 1 .2 1 1 1-.7 1 1.8 1 .2 1.1 1.7 1 .8 1 .6 2 1.8 1 .5 1 .7 2 1-31.2-5.6z" fill="#8a8a8a"/>
<path fill="none" stroke="#222" stroke-width="0.75" d="M385.9 801.2l37.1 6.7 2-.5 1-.5 1.1-.8 1-.6 1-1.1 1-.8 1-1 2-1.8 1 1.5 1 1 1 .3 1 0 1 1 1 0 1-.3 1 .2 1 .5 1 1.3 2 .1 1 .7 1 .2 1-.5 1.1.6 3 2.2 1 .5 1 1.1 1 .5 1 .8 4 2.2 52.2 9.5 2.1-.2 2-.7 1-.5 1-1.4 1-.5 1-.9 1 0 1-.7 1-.4 1 .2 1 1.6 1 .5 2 0 1-1 1 .2 1 1 1-.7 1 1.8 1 .2 1.1 1.7 1 .8 1 .6 2 1.8 1 .5 1 .7 2 1 63.3 11.5"/>
<path d="M435.6 817l2-.5 2-1.1 1-.8 1-.4 1-1.5 1-1.1 1-.1 1 .1 1-.4 1 1.6 1 .3 1 1.7 2 1.8 1 .5 1.1.9 1 1.1 3 1.7 1 .4-23.1-4.2z" fill="#8a8a8a"/>
<path d="M472.7 823.8l1-.2 2.1-.7 1-.9 1-.3 2-2.3 1-.6 1-1.9 1 .6 1-.2 1 .9 1 1.3 1 1.5 2 2 3 2.3 1 1 3 1.7-23.1-4.2z" fill="#8a8a8a"/>
<path d="M509.9 830.5l2-.2 1-.4 2-1.2 2-1.7 1.1-1.5 1-.3 1-.1 1-1.1 3 3.6 1 .8 1 .6 1 1.4 1 .9 1 .8 4 2.6-23.1-4.2z" fill="#8a8a8a"/>
<path fill="none" stroke="#222" stroke-width="0.75" d="M383.3 807.5l52.3 9.5 2-.5 2-1.1 1-.8 1-.4 1-1.5 1-1.1 1-.1 1 .1 1-.4 1 1.6 1 .3 1 1.7 1 .9 1 .9 1 .5 1.1.9 1 1.1 3 1.7 1 .4 14 2.6 1-.2 2.1-.7 1-.9 1-.3 2-2.3 1-.6 1-1.9 1 .6 1-.2 1 .9 1 1.3 1 1.5 2 2 3 2.3 1 1 3 1.7 14.1 2.5 2-.2 1-.4 2-1.2 2-1.7 1.1-1.5 1-.3 1-.1 1-1.1 3 3.6 1 .8 1 .6 1 1.4 1 .9 1 .8 4 2.6 71.4 13"/>
<path d="M456.1 827.5l2.1-.5 2-.8 1-.8 1-.2 1-.9 1-.6 2 0 1 1 1 .4 1 .5 1 .9 1 .6 1 1.3 1 .5 1 .6 2 1.1 2 1-22.1-4.1z" fill="#8a8a8a"/>
<path d="M485.3 832.8l2-.5 1-.6 1-.9 1-.6 1-1.1 1-1 1-1.5 1 .1 1-.9 1-.2 1 .2 1 1.7 1 2.2 1.1.8 1 .6 1 1.5 1 1 1 .7 2 1.6 2 1.1-23.1-4.2z" fill="#8a8a8a"/>
<path fill="none" stroke="#222" stroke-width="0.75" d="M380.8 813.8l75.3 13.7 2.1-.5 2-.8 1-.8 1-.2 1-.9 1-.6 2 0 1 1 1 .4 1 .5 1 .9 1 .6 1 1.3 1 .5 1 .6 3 1.6 1 .5 7.1 1.2 2-.5 1-.6 1-.9 1-.6 1-1.1 1-1 1-1.5 1 .1 1-.9 1-.2 1 .2 1 1.7 1 2.2 1.1.8 1 .6 1 1.5 1 1 1 .7 2 1.6 2 1.1 93.4 17"/>
<line x1="659.8" y1="707.3" x2="601.8" y2="854" stroke="#333" stroke-width="0.7"/>
<line x1="380.8" y1="783.8" x2="380.8" y2="813.8" stroke="#555" stroke-width="0.8"/>
<line x1="380.8" y1="813.8" x2="383.3" y2="813.8" stroke="#555" stroke-width="0.7"/>
<text x="370.8" y="813.8" font-size="12.6" text-anchor="end" fill="#1a1a1a" stroke="#1a1a1a" stroke-width="0.22" font-weight="normal" dominant-baseline="central">0</text>
<line x1="380.8" y1="801.3" x2="383.3" y2="801.3" stroke="#555" stroke-width="0.7"/>
<text x="370.8" y="801.3" font-size="12.6" text-anchor="end" fill="#1a1a1a" stroke="#1a1a1a" stroke-width="0.22" font-weight="normal" dominant-baseline="central">50</text>
<line x1="380.8" y1="788.8" x2="383.3" y2="788.8" stroke="#555" stroke-width="0.7"/>
<text x="370.8" y="788.8" font-size="12.6" text-anchor="end" fill="#1a1a1a" stroke="#1a1a1a" stroke-width="0.22" font-weight="normal" dominant-baseline="central">100</text>
<line x1="380.8" y1="813.8" x2="379.6" y2="816.8" stroke="#555" stroke-width="0.7"/>
<text x="372.6" y="829" font-size="12.6" text-anchor="middle" fill="#1a1a1a" stroke="#1a1a1a" stroke-width="0.22" font-weight="normal" dominant-baseline="central">0</text>
<line x1="457.5" y1="827.8" x2="456.3" y2="830.8" stroke="#555" stroke-width="0.7"/>
<text x="441.7" y="843.5" font-size="12.6" text-anchor="middle" fill="#1a1a1a" stroke="#1a1a1a" stroke-width="0.22" font-weight="normal" dominant-baseline="central">500</text>
<line x1="534.3" y1="841.8" x2="533.1" y2="844.8" stroke="#555" stroke-width="0.7"/>
<text x="515.3" y="857.5" font-size="12.6" text-anchor="middle" fill="#1a1a1a" stroke="#1a1a1a" stroke-width="0.22" font-weight="normal" dominant-baseline="central">1000</text>
<text x="472.5" y="874.5" font-size="13.4" text-anchor="middle" fill="#1a1a1a" stroke="#1a1a1a" stroke-width="0.22" font-weight="normal" dominant-baseline="central">Time (min)</text>
<text x="644.5" y="846" font-size="13.4" text-anchor="middle" fill="#1a1a1a" stroke="#1a1a1a" stroke-width="0.22" font-weight="normal" dominant-baseline="central">Cells</text>
<text x="340.5" y="800" font-size="13.4" text-anchor="middle" fill="#1a1a1a" stroke="#1a1a1a" stroke-width="0.22" font-weight="normal" dominant-baseline="central" transform="rotate(-90 340.5 800)">Fluorescence (a.u.)</text>
<text x="333.5" y="699" font-size="17.5" font-weight="bold" fill="#000">d</text>
</svg></body></html>
